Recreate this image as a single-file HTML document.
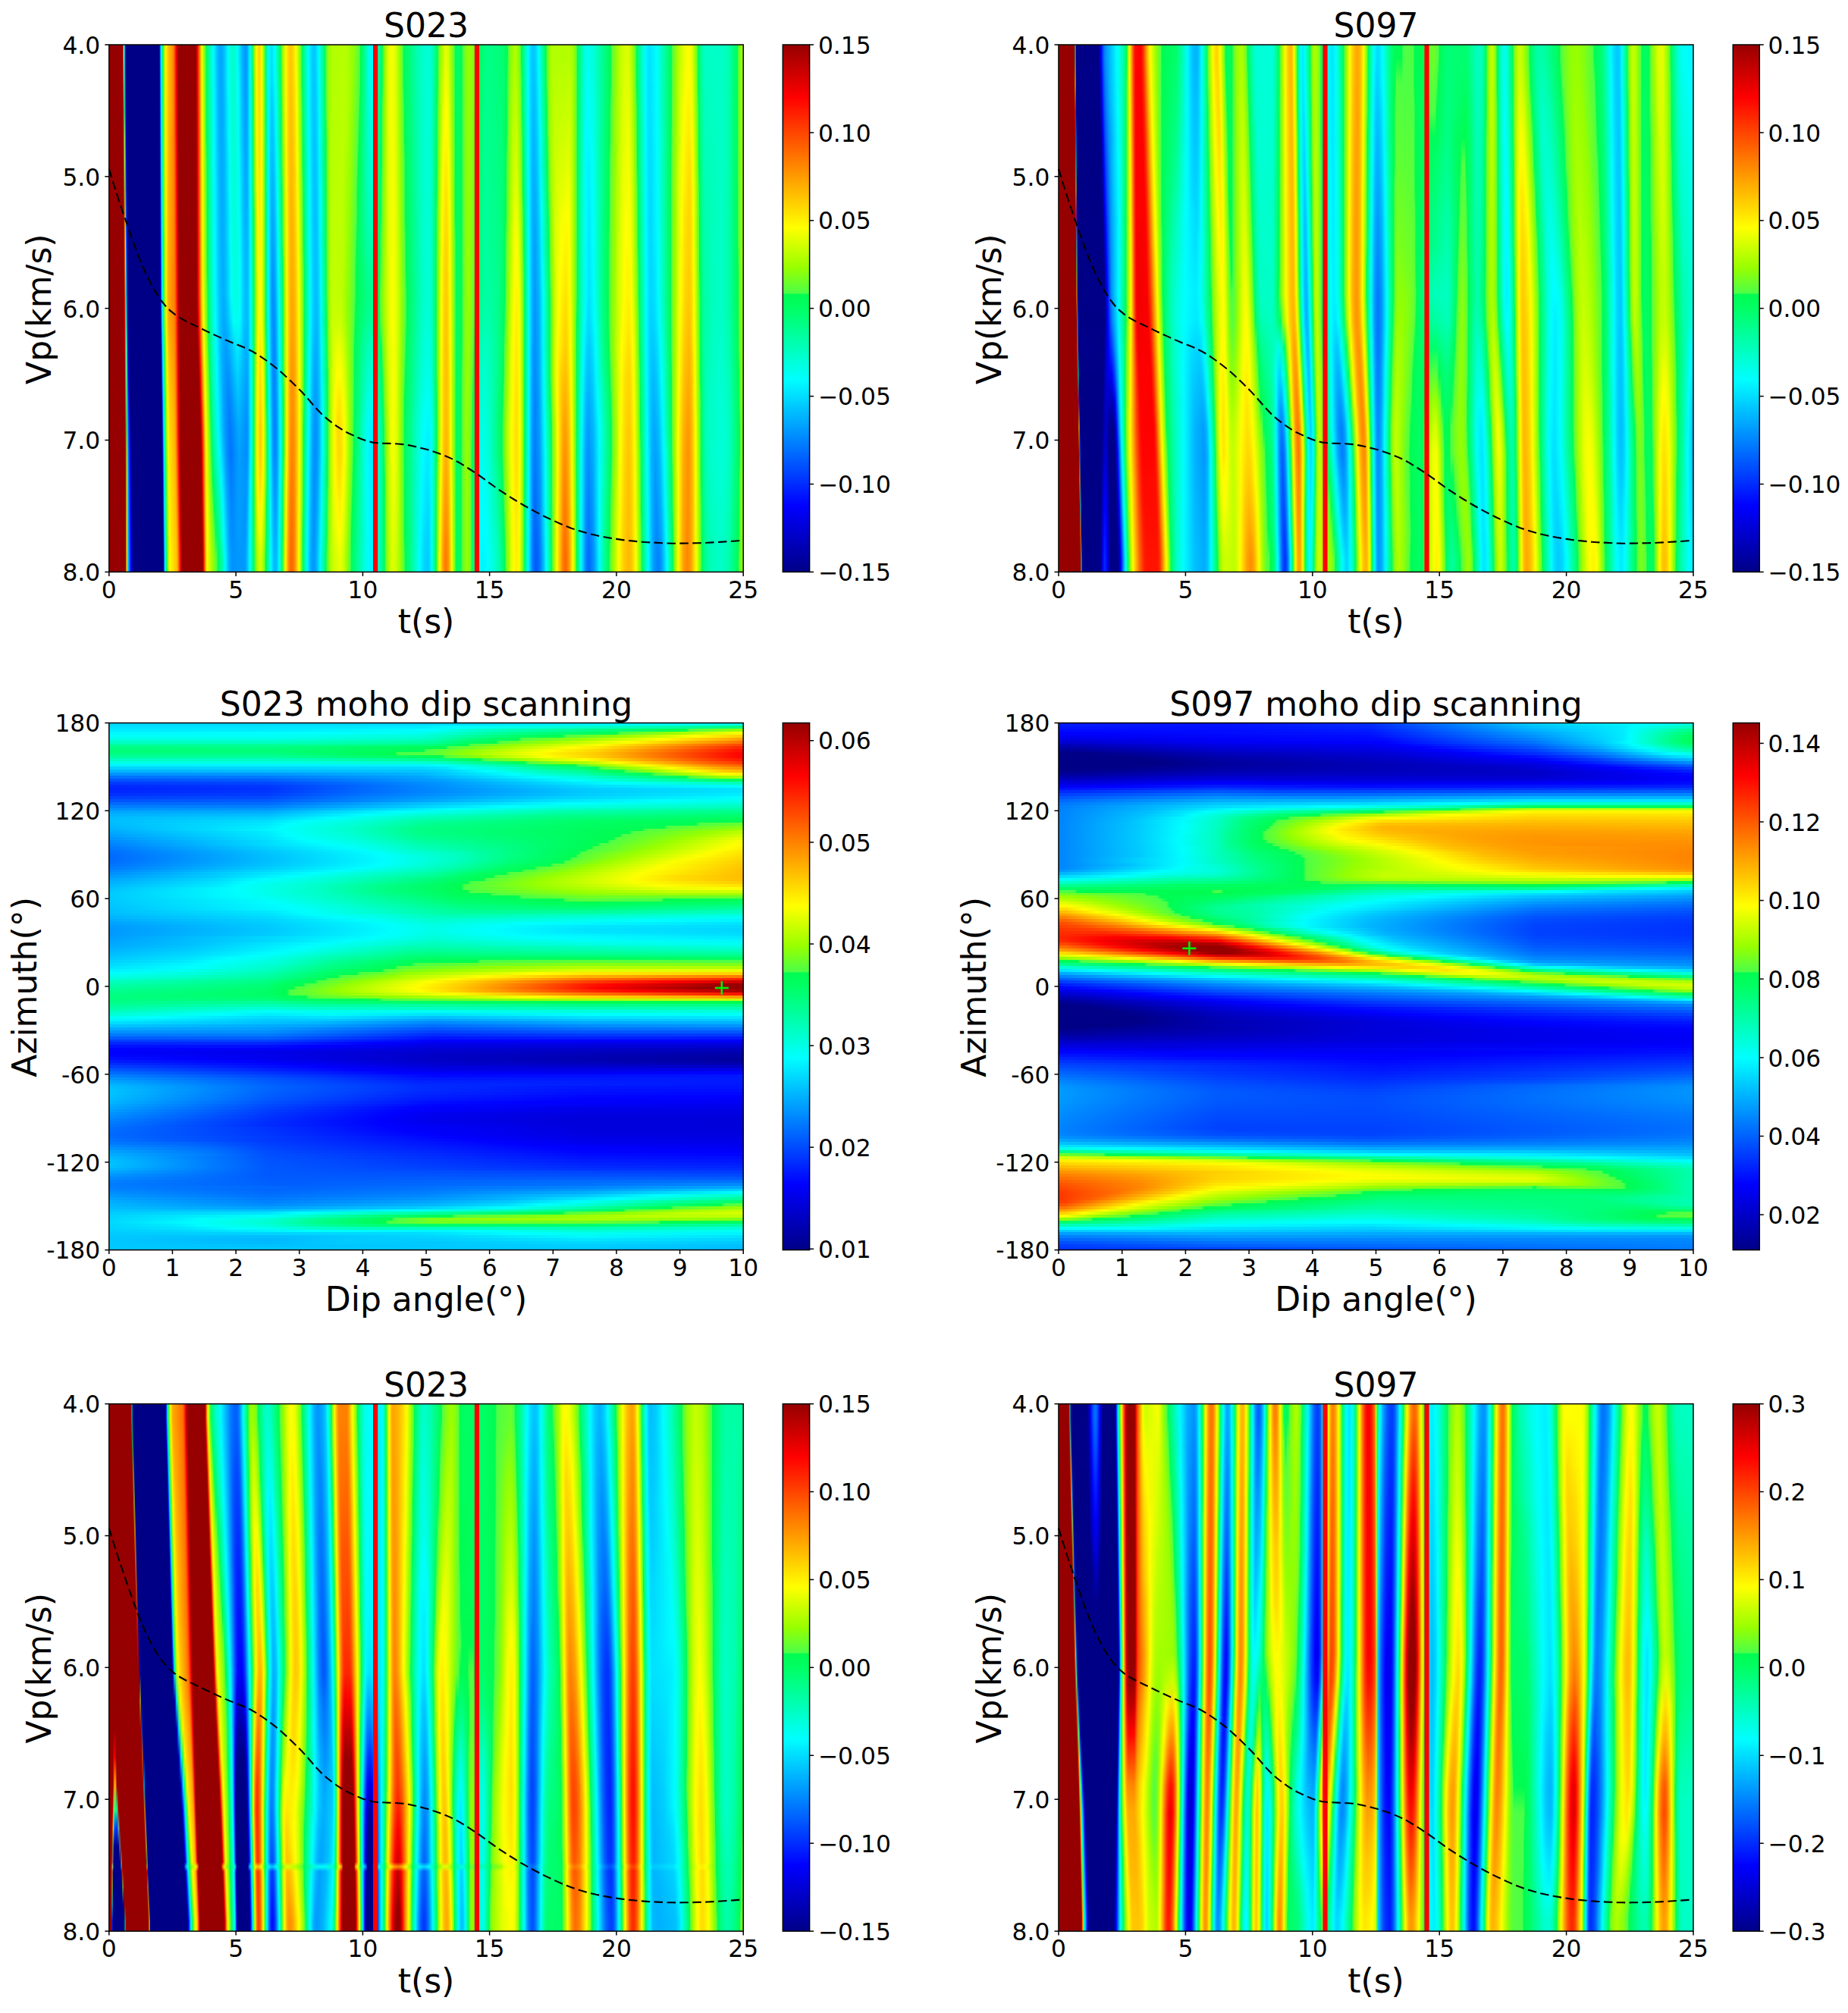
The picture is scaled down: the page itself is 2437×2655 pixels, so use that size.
<!DOCTYPE html>
<html><head><meta charset="utf-8"><title>figure</title>
<style>
html,body{margin:0;padding:0;background:#fff}
#fig{position:relative;width:2437px;height:2655px;background:#fff;overflow:hidden}
#fig svg{position:absolute;left:0;top:0}
#fig .s{position:absolute;left:0;width:100%}
#fig text{font-family:"DejaVu Sans","Liberation Sans",sans-serif;fill:#000}
</style></head><body><div id="fig">
<div style="position:absolute;left:143.8px;top:59.0px;width:836.4px;height:695.4px;overflow:hidden">
<div class="s" style="top:0;height:52.7px;background:linear-gradient(90deg,#960000 0.0px,#960000 18.0px,#ffe100 19.0px,#00ffeb 20.0px,#0027ff 21.0px,#000087 22.0px,#000087 66.0px,#002eff 67.0px,#00e5ff 68.0px,#00ffca 69.0px,#00ff84 70.0px,#00fc52 71.0px,#8fff07 72.0px,#f0ff00 74.0px,#ffef00 75.0px,#ffbf00 78.0px,#ff8f00 84.0px,#ff5900 86.0px,#ff0800 88.0px,#db0000 89.0px,#960000 91.0px,#960000 114.1px,#e80000 116.1px,#ff1a00 117.1px,#ffac00 120.1px,#fff700 122.1px,#96ff00 125.1px,#4eff45 127.1px,#00fe5d 128.1px,#00ffba 133.1px,#00fffa 137.1px,#00f5ff 138.1px,#00b7ff 143.1px,#00a4ff 147.1px,#00baff 151.1px,#00fffa 157.1px,#00ffd7 160.1px,#00ffc8 163.1px,#00ffd6 166.1px,#00fff7 169.1px,#00aeff 176.1px,#0098ff 180.1px,#00a9ff 182.1px,#00f4ff 185.1px,#00ffe6 186.1px,#00ff6b 189.1px,#4eff45 190.1px,#85ff10 191.1px,#b4ff00 192.1px,#ffff00 194.1px,#ffd400 197.1px,#ffde00 199.1px,#f9ff00 201.1px,#afff00 203.1px,#81ff15 204.1px,#4dff46 205.1px,#00ff69 206.1px,#00ffd4 209.1px,#00f7ff 211.1px,#00dfff 214.1px,#00ffff 218.1px,#00fd58 226.1px,#5dff37 227.1px,#9fff00 229.1px,#fffa00 233.1px,#ffd400 236.1px,#ffc600 239.1px,#ffd200 242.1px,#fffd00 246.1px,#91ff05 251.1px,#56ff3d 253.1px,#00fd59 254.1px,#00ffe3 261.1px,#00faff 263.1px,#00d1ff 267.1px,#00c8ff 270.1px,#00d8ff 273.1px,#00feff 276.1px,#00fd57 285.1px,#55ff3f 286.1px,#91ff04 289.1px,#9eff00 290.1px,#afff00 293.1px,#b7ff00 311.1px,#92ff04 322.2px,#53ff40 330.2px,#00fc50 331.2px,#00ff67 334.2px,#00ffea 342.2px,#00faff 345.2px,#00fdff 348.2px,#00ffe6 351.2px,#00fd55 360.2px,#5aff39 361.2px,#8cff09 363.2px,#a2ff00 364.2px,#edff00 369.2px,#faff00 373.2px,#dfff00 377.2px,#91ff04 383.2px,#52ff41 387.2px,#00fc53 388.2px,#00ffbf 409.2px,#00ffdb 421.2px,#00ffbd 426.2px,#00fd56 433.2px,#55ff3e 434.2px,#99ff00 437.2px,#d3ff00 441.2px,#e3ff00 444.2px,#d3ff00 447.2px,#99ff00 451.2px,#4dff46 455.2px,#00fd56 456.2px,#00ff64 460.2px,#00fd54 465.2px,#4dff46 466.2px,#86ff0f 471.2px,#97ff00 475.2px,#87ff0f 479.2px,#50ff43 485.2px,#00fc53 486.2px,#00ff7e 494.2px,#00ff88 499.2px,#00ff76 518.2px,#00fc50 525.3px,#59ff3a 526.3px,#92ff04 530.3px,#b2ff00 535.3px,#97ff00 539.3px,#5cff38 542.3px,#00fc53 543.3px,#00ff70 545.3px,#00fffa 552.3px,#00f4ff 553.3px,#00d2ff 556.3px,#00c6ff 559.3px,#00d2ff 562.3px,#00fffd 566.3px,#00ff68 574.3px,#00fc50 576.3px,#60ff33 577.3px,#97ff00 580.3px,#aaff00 582.3px,#b1ff00 585.3px,#b3ff00 608.3px,#9cff00 612.3px,#8fff07 613.3px,#57ff3d 616.3px,#00fd54 617.3px,#00ffd7 626.3px,#00fff1 631.3px,#00ffd7 639.3px,#00fc53 661.3px,#50ff43 662.3px,#99ff00 669.3px,#c6ff00 675.3px,#dbff00 680.3px,#d7ff00 685.3px,#a0ff00 690.3px,#8fff06 691.3px,#51ff42 694.3px,#00fd57 695.3px,#00ffe1 704.3px,#00faff 707.3px,#00e2ff 712.3px,#00fffc 722.3px,#00fd55 741.4px,#4dff46 742.4px,#9bff00 748.4px,#e8ff00 757.4px,#ffff00 764.4px,#e8ff00 768.4px,#a3ff00 772.4px,#8cff0a 773.4px,#58ff3b 775.4px,#00fd56 776.4px,#00ffae 782.4px,#00ffc5 785.4px,#00ffc8 809.4px,#00ffae 817.4px,#00fd53 828.4px,#53ff40 829.4px,#96ff00 833.4px,#c3ff00 836.4px)"></div>
<div class="s" style="top:17.4px;height:70.0px;-webkit-mask-image:linear-gradient(180deg,transparent,#000 34.8px);mask-image:linear-gradient(180deg,transparent,#000 34.8px);background:linear-gradient(90deg,#960000 0.0px,#960000 18.0px,#ff8700 19.0px,#00ff9c 20.0px,#0068ff 21.0px,#000087 22.0px,#000087 66.0px,#0005ff 67.0px,#00d6ff 68.0px,#00ffd7 69.0px,#00ff8f 70.0px,#00fd57 71.0px,#85ff10 72.0px,#beff00 73.0px,#ecff00 74.0px,#fff100 75.0px,#ffbe00 78.0px,#ff9000 84.0px,#ff5e00 86.0px,#ff0f00 88.0px,#e20000 89.0px,#960000 91.0px,#960000 114.1px,#e20000 116.1px,#ff1400 117.1px,#ffd100 121.1px,#fff300 122.1px,#e7ff00 123.1px,#9dff00 125.1px,#56ff3e 127.1px,#00fd5a 128.1px,#00ffb8 133.1px,#00f9ff 138.1px,#00bbff 143.1px,#00a5ff 147.1px,#00b7ff 151.1px,#00feff 157.1px,#00ffd4 161.1px,#00ffcb 164.1px,#00ffdd 167.1px,#00feff 170.1px,#00b3ff 176.1px,#009cff 180.1px,#00abff 182.1px,#00f2ff 185.1px,#00ffea 186.1px,#00fc52 190.1px,#7cff19 191.1px,#acff00 192.1px,#f8ff00 194.1px,#ffef00 195.1px,#ffd700 198.1px,#fbff00 201.1px,#b1ff00 203.1px,#84ff12 204.1px,#50ff44 205.1px,#00ff67 206.1px,#00ffd5 209.1px,#00fff3 210.1px,#00f3ff 211.1px,#00d5ff 214.1px,#00fffb 219.1px,#00fe5e 226.1px,#50ff43 227.1px,#96ff00 229.1px,#fffd00 233.1px,#ffd300 236.1px,#ffc200 239.1px,#ffcd00 242.1px,#fff700 246.1px,#f7ff00 247.1px,#9bff00 251.1px,#61ff33 253.1px,#00fd54 254.1px,#00feff 263.1px,#00d2ff 267.1px,#00c6ff 270.1px,#00d4ff 273.1px,#00f9ff 276.1px,#00fff5 277.1px,#00fd59 285.1px,#52ff42 286.1px,#91ff05 289.1px,#9fff00 290.1px,#b1ff00 293.1px,#b9ff00 310.1px,#b0ff00 315.2px,#93ff03 321.2px,#4cff47 330.2px,#00fd55 331.2px,#00ff6f 334.2px,#00ffe1 342.2px,#00fff6 346.2px,#00ffd6 351.2px,#00fc51 360.2px,#62ff32 361.2px,#91ff05 363.2px,#e2ff00 368.2px,#fbff00 372.2px,#e1ff00 377.2px,#96ff00 383.2px,#57ff3c 387.2px,#00fc51 388.2px,#00ffbe 409.2px,#00ffdb 421.2px,#00ffd6 423.2px,#00ffbc 426.2px,#00fc52 433.2px,#60ff34 434.2px,#91ff05 436.2px,#d6ff00 440.2px,#f3ff00 444.2px,#e1ff00 447.2px,#8fff07 452.2px,#51ff42 455.2px,#00fd55 456.2px,#00ff64 460.2px,#00fd54 465.2px,#4eff45 466.2px,#87ff0e 471.2px,#97ff00 474.2px,#85ff10 479.2px,#4cff47 485.2px,#00fd55 486.2px,#00ff83 494.2px,#00ff8b 498.2px,#00ff77 518.2px,#00fd55 524.3px,#4fff44 525.3px,#99ff00 530.3px,#bbff00 535.3px,#a1ff00 539.3px,#92ff04 540.3px,#4fff44 543.3px,#00fe5a 544.3px,#00fff9 552.3px,#00f5ff 553.3px,#00d0ff 556.3px,#00c1ff 559.3px,#00cbff 562.3px,#00f7ff 566.3px,#00fff7 567.3px,#00fd56 576.3px,#55ff3f 577.3px,#91ff05 580.3px,#9fff00 581.3px,#b8ff00 585.3px,#bfff00 607.3px,#bbff00 609.3px,#9fff00 612.3px,#91ff05 613.3px,#55ff3e 616.3px,#00fd56 617.3px,#00ffdb 626.3px,#00fff8 631.3px,#00ffe2 638.3px,#00fc50 661.3px,#55ff3f 662.3px,#95ff01 668.3px,#cbff00 675.3px,#e1ff00 680.3px,#dfff00 685.3px,#c4ff00 688.3px,#99ff00 691.3px,#5bff39 694.3px,#00fc53 695.3px,#00ffde 704.3px,#00fcff 707.3px,#00e6ff 710.3px,#00e1ff 713.3px,#00fffe 722.3px,#00fd54 741.4px,#51ff42 742.4px,#88ff0d 746.4px,#96ff00 747.4px,#d2ff00 753.4px,#ffff00 760.4px,#fffc00 766.4px,#e2ff00 769.4px,#95ff01 773.4px,#61ff33 775.4px,#00fc52 776.4px,#00ffaa 782.4px,#00ffc1 785.4px,#00ffc7 807.4px,#00ffb3 816.4px,#00fd54 828.4px,#52ff41 829.4px,#94ff02 833.4px,#c1ff00 836.4px)"></div>
<div class="s" style="top:52.2px;height:70.0px;-webkit-mask-image:linear-gradient(180deg,transparent,#000 34.8px);mask-image:linear-gradient(180deg,transparent,#000 34.8px);background:linear-gradient(90deg,#960000 0.0px,#960000 18.0px,#ff2e00 19.0px,#00fc50 20.0px,#00a7ff 21.0px,#0000be 22.0px,#000087 23.0px,#000087 66.0px,#0000df 67.0px,#00c0ff 68.0px,#00ffe4 69.0px,#00fe5d 71.0px,#7cff19 72.0px,#b9ff00 73.0px,#eaff00 74.0px,#fff100 75.0px,#ffbc00 78.0px,#ff9b00 83.0px,#ff8000 85.0px,#ff1600 88.0px,#e90000 89.0px,#980000 91.0px,#960000 92.0px,#960000 114.1px,#b00000 115.1px,#dc0000 116.1px,#ff0e00 117.1px,#ffcc00 121.1px,#ffef00 122.1px,#ecff00 123.1px,#a4ff00 125.1px,#5dff36 127.1px,#00fd56 128.1px,#00ffb5 133.1px,#00fcff 138.1px,#00b6ff 144.1px,#00a6ff 148.1px,#00b4ff 151.1px,#00fff9 158.1px,#00ffd9 161.1px,#00ffcc 164.1px,#00ffda 167.1px,#00fffc 170.1px,#00b8ff 176.1px,#00a0ff 180.1px,#00acff 182.1px,#00f0ff 185.1px,#00ffed 186.1px,#00fd56 190.1px,#73ff22 191.1px,#a4ff00 192.1px,#f0ff00 194.1px,#fff400 195.1px,#ffd900 198.1px,#fcff00 201.1px,#b4ff00 203.1px,#87ff0f 204.1px,#53ff41 205.1px,#00ff66 206.1px,#00fff5 210.1px,#00efff 211.1px,#00cbff 214.1px,#00d3ff 216.1px,#00fff6 220.1px,#00fd53 227.1px,#68ff2c 228.1px,#8cff09 229.1px,#acff00 230.1px,#feff00 233.1px,#ffee00 234.1px,#ffc900 237.1px,#ffc000 240.1px,#ffcf00 243.1px,#ffff00 247.1px,#a4ff00 251.1px,#89ff0c 252.1px,#4dff46 254.1px,#00fe5d 255.1px,#00ffeb 262.1px,#00f4ff 264.1px,#00ccff 268.1px,#00c6ff 271.1px,#00daff 274.1px,#00fffa 277.1px,#00fe5b 285.1px,#4eff45 286.1px,#90ff06 289.1px,#9fff00 290.1px,#b3ff00 293.1px,#baff00 309.1px,#b1ff00 314.2px,#94ff02 320.2px,#4eff45 329.2px,#00fd53 330.2px,#00ff69 333.2px,#00ffcf 341.2px,#00ffe9 346.2px,#00ffc9 351.2px,#00fd58 359.2px,#51ff43 360.2px,#94ff02 363.2px,#e1ff00 368.2px,#fbff00 372.2px,#e3ff00 377.2px,#9aff00 383.2px,#4eff45 388.2px,#00fd54 389.2px,#00ffbd 409.2px,#00ffdb 421.2px,#00ffd6 423.2px,#00ffbb 426.2px,#00fe5a 432.2px,#4eff45 433.2px,#9bff00 436.2px,#e3ff00 440.2px,#feff00 443.2px,#ffff00 445.2px,#eeff00 447.2px,#aaff00 451.2px,#96ff00 452.2px,#55ff3f 455.2px,#00fd54 456.2px,#00ff64 460.2px,#00fd54 465.2px,#4fff44 466.2px,#88ff0d 471.2px,#97ff00 474.2px,#8aff0b 478.2px,#53ff41 484.2px,#00fc52 485.2px,#00ff87 494.2px,#00ff8f 498.2px,#00ff78 518.2px,#00fc53 524.3px,#54ff3f 525.3px,#93ff03 529.3px,#abff00 531.3px,#c4ff00 536.3px,#9eff00 540.3px,#8bff0b 541.3px,#5bff39 543.3px,#00fd55 544.3px,#00fff7 552.3px,#00f5ff 553.3px,#00c5ff 557.3px,#00bcff 560.3px,#00ccff 563.3px,#00fdff 567.3px,#00ff6b 575.3px,#00fc51 577.3px,#5fff35 578.3px,#9aff00 581.3px,#bdff00 585.3px,#caff00 607.3px,#b9ff00 610.3px,#91ff04 613.3px,#53ff41 616.3px,#00fd57 617.3px,#00ffe0 626.3px,#00fffe 631.3px,#00ffe7 638.3px,#00fd53 660.3px,#4eff45 661.3px,#9aff00 668.3px,#d0ff00 675.3px,#e7ff00 680.3px,#e6ff00 685.3px,#ccff00 688.3px,#a2ff00 691.3px,#90ff06 692.3px,#4dff46 695.3px,#00fd5a 696.3px,#00ffda 704.3px,#00fdff 707.3px,#00e6ff 710.3px,#00e0ff 713.3px,#00feff 722.3px,#00fc52 741.4px,#55ff3e 742.4px,#9bff00 747.4px,#d9ff00 753.4px,#ffff00 758.4px,#fff100 764.4px,#f9ff00 768.4px,#9dff00 773.4px,#4fff44 776.4px,#00fe5a 777.4px,#00ffa6 782.4px,#00ffbe 785.4px,#00ffc8 808.4px,#00ffb2 816.4px,#00fd54 828.4px,#51ff42 829.4px,#92ff04 833.4px,#bfff00 836.4px)"></div>
<div class="s" style="top:86.9px;height:70.0px;-webkit-mask-image:linear-gradient(180deg,transparent,#000 34.8px);mask-image:linear-gradient(180deg,transparent,#000 34.8px);background:linear-gradient(90deg,#960000 0.0px,#960000 18.0px,#d60000 19.0px,#c3ff00 20.0px,#00e3ff 21.0px,#0000f9 22.0px,#000087 23.0px,#000087 66.0px,#0000bb 67.0px,#00a5ff 68.0px,#00fff1 69.0px,#00ff62 71.0px,#73ff21 72.0px,#b4ff00 73.0px,#e7ff00 74.0px,#fff200 75.0px,#ffb900 78.0px,#ff8300 85.0px,#ff1d00 88.0px,#f10000 89.0px,#9d0000 91.0px,#960000 92.0px,#960000 114.1px,#ab0000 115.1px,#d70000 116.1px,#ff0800 117.1px,#ffc700 121.1px,#ffeb00 122.1px,#f2ff00 123.1px,#aaff00 125.1px,#88ff0e 126.1px,#65ff2f 127.1px,#00fc53 128.1px,#00ffc2 134.1px,#00ffff 138.1px,#00f2ff 139.1px,#00b9ff 144.1px,#00a7ff 148.1px,#00bbff 152.1px,#00ffff 158.1px,#00ffde 161.1px,#00ffce 164.1px,#00ffd9 167.1px,#00fff8 170.1px,#00b3ff 177.1px,#00a4ff 180.1px,#00aeff 182.1px,#00eeff 185.1px,#00fff0 186.1px,#00fe5a 190.1px,#6aff2a 191.1px,#9cff00 192.1px,#e8ff00 194.1px,#fffa00 195.1px,#ffdb00 198.1px,#fdff00 201.1px,#8aff0b 204.1px,#56ff3d 205.1px,#00ff64 206.1px,#00fff7 210.1px,#00edff 211.1px,#00caff 213.1px,#00c4ff 215.1px,#00d1ff 217.1px,#00fbff 220.1px,#00fd59 227.1px,#5cff37 228.1px,#82ff13 229.1px,#a4ff00 230.1px,#faff00 233.1px,#fff000 234.1px,#ffc800 237.1px,#ffbc00 240.1px,#ffca00 243.1px,#fff800 247.1px,#f4ff00 248.1px,#94ff02 252.1px,#58ff3c 254.1px,#00fd58 255.1px,#00ffe5 262.1px,#00f7ff 264.1px,#00cdff 268.1px,#00c4ff 271.1px,#00d6ff 274.1px,#00feff 277.1px,#00ff6d 284.1px,#00fc50 286.1px,#63ff31 287.1px,#8fff07 289.1px,#9eff00 290.1px,#b5ff00 293.1px,#bbff00 308.1px,#b3ff00 313.1px,#95ff01 319.2px,#50ff44 328.2px,#00fc52 329.2px,#00ff65 332.2px,#00ffcb 341.2px,#00ffdf 346.2px,#00ffc0 351.2px,#00fd55 359.2px,#56ff3e 360.2px,#96ff00 363.2px,#e0ff00 368.2px,#faff00 372.2px,#e5ff00 377.2px,#9dff00 383.2px,#53ff40 388.2px,#00fc52 389.2px,#00ffc1 410.2px,#00ffdb 421.2px,#00ffc6 425.2px,#00fd58 432.2px,#55ff3e 433.2px,#8bff0a 435.2px,#deff00 439.2px,#fffc00 442.2px,#fffc00 446.2px,#d8ff00 449.2px,#9cff00 452.2px,#58ff3c 455.2px,#00fc53 456.2px,#00ff64 460.2px,#00fd53 465.2px,#4fff44 466.2px,#89ff0d 471.2px,#97ff00 474.2px,#89ff0d 478.2px,#4eff45 484.2px,#00fd54 485.2px,#00ff87 493.2px,#00ff92 498.2px,#00ff7c 517.2px,#00fc51 524.3px,#59ff3b 525.3px,#99ff00 529.3px,#bbff00 532.3px,#cdff00 535.3px,#caff00 537.3px,#97ff00 541.3px,#4bff48 544.3px,#00fe5d 545.3px,#00fff5 552.3px,#00f6ff 553.3px,#00c2ff 557.3px,#00b7ff 560.3px,#00ceff 564.3px,#00fffc 568.3px,#00fd58 577.3px,#52ff41 578.3px,#92ff04 581.3px,#a2ff00 582.3px,#c4ff00 586.3px,#d5ff00 606.3px,#c8ff00 609.3px,#91ff04 613.3px,#50ff43 616.3px,#00fd59 617.3px,#00ffd8 625.3px,#00fff8 628.3px,#00fbff 630.3px,#00fff3 637.3px,#00ff88 651.3px,#00fc51 660.3px,#53ff40 661.3px,#95ff01 667.3px,#dbff00 676.3px,#f1ff00 684.3px,#d5ff00 688.3px,#99ff00 692.3px,#57ff3c 695.3px,#00fd55 696.3px,#00ffff 707.3px,#00e6ff 710.3px,#00deff 713.3px,#00fdff 722.3px,#00ffd1 728.3px,#00fd57 740.4px,#1efd4d 741.4px,#5aff39 742.4px,#95ff01 746.4px,#fbff00 756.4px,#ffe900 764.4px,#fffb00 768.4px,#e4ff00 770.4px,#a6ff00 773.4px,#8eff08 774.4px,#58ff3c 776.4px,#00fd56 777.4px,#00ffa1 782.4px,#00ffba 785.4px,#00ffc8 808.4px,#00ffb1 816.4px,#00fd54 828.4px,#50ff43 829.4px,#90ff06 833.4px,#bcff00 836.4px)"></div>
<div class="s" style="top:121.7px;height:70.0px;-webkit-mask-image:linear-gradient(180deg,transparent,#000 34.8px);mask-image:linear-gradient(180deg,transparent,#000 34.8px);background:linear-gradient(90deg,#960000 0.0px,#960000 19.0px,#ffd600 20.0px,#00ffd8 21.0px,#003aff 22.0px,#000087 23.0px,#000087 66.0px,#000097 67.0px,#0087ff 68.0px,#00ffff 69.0px,#00ff6b 71.0px,#69ff2b 72.0px,#aeff00 73.0px,#e4ff00 74.0px,#fff200 75.0px,#ffb700 78.0px,#ff8500 85.0px,#ff4d00 87.0px,#f80000 89.0px,#a30000 91.0px,#960000 92.0px,#960000 114.1px,#a60000 115.1px,#d10000 116.1px,#ff0200 117.1px,#ffc200 121.1px,#f8ff00 123.1px,#90ff06 126.1px,#4cff47 128.1px,#00fe5e 129.1px,#00ffc0 134.1px,#00fffb 138.1px,#00f5ff 139.1px,#00bdff 144.1px,#00a9ff 148.1px,#00b8ff 152.1px,#00fff9 159.1px,#00ffdb 162.1px,#00ffd0 165.1px,#00ffdf 168.1px,#00fdff 171.1px,#00c1ff 176.1px,#00a8ff 180.1px,#00b0ff 182.1px,#00edff 185.1px,#00fff3 186.1px,#00fe5f 190.1px,#5fff34 191.1px,#92ff04 192.1px,#fcff00 195.1px,#ffef00 196.1px,#ffe000 198.1px,#fcff00 201.1px,#8cff0a 204.1px,#58ff3b 205.1px,#00ff63 206.1px,#00fff8 210.1px,#00eaff 211.1px,#00c4ff 213.1px,#00baff 215.1px,#00d1ff 218.1px,#00fffb 221.1px,#00fe60 227.1px,#50ff43 228.1px,#9cff00 230.1px,#f6ff00 233.1px,#fff300 234.1px,#ffc700 237.1px,#ffb800 240.1px,#ffcd00 244.1px,#fdff00 248.1px,#9eff00 252.1px,#62ff32 254.1px,#00fd53 255.1px,#00fbff 264.1px,#00ceff 268.1px,#00c3ff 271.1px,#00d1ff 274.1px,#00f9ff 277.1px,#00fc52 286.1px,#60ff34 287.1px,#8dff08 289.1px,#9eff00 290.1px,#b7ff00 293.1px,#bdff00 308.1px,#96ff00 318.2px,#51ff42 327.2px,#00fc51 328.2px,#00ff6b 332.2px,#00ffbe 340.2px,#00ffd6 345.2px,#00ffc0 350.2px,#00fc52 359.2px,#5bff39 360.2px,#98ff00 363.2px,#e0ff00 368.2px,#fbff00 373.2px,#deff00 378.2px,#93ff03 384.2px,#4bff48 389.2px,#00fd55 390.2px,#00ffc0 410.2px,#00ffdb 421.2px,#00ffc5 425.2px,#00fd55 432.2px,#5dff37 433.2px,#95ff01 435.2px,#e9ff00 439.2px,#fffa00 441.2px,#ffec00 444.2px,#fffc00 447.2px,#f4ff00 448.2px,#a2ff00 452.2px,#5bff39 455.2px,#00fc52 456.2px,#00ff64 460.2px,#00fc53 465.2px,#50ff43 466.2px,#8aff0c 471.2px,#97ff00 474.2px,#87ff0e 478.2px,#56ff3e 483.2px,#00fc50 484.2px,#00ff8b 493.2px,#00ff95 497.2px,#00ff7d 517.2px,#00fd56 523.3px,#4dff46 524.3px,#91ff05 528.3px,#c2ff00 532.3px,#d5ff00 535.3px,#d4ff00 537.3px,#a2ff00 541.3px,#8dff09 542.3px,#57ff3c 544.3px,#00fd58 545.3px,#00fff3 552.3px,#00f8ff 553.3px,#00bfff 557.3px,#00b2ff 560.3px,#00c6ff 564.3px,#00f8ff 568.3px,#00fd53 578.3px,#5bff38 579.3px,#9aff00 582.3px,#ccff00 587.3px,#e3ff00 605.3px,#ceff00 609.3px,#93ff03 613.3px,#4fff45 616.3px,#00fd5a 617.3px,#00ffdc 625.3px,#00faff 629.3px,#00f3ff 632.3px,#00fffa 637.3px,#00ff86 651.3px,#00fd54 659.3px,#4cff47 660.3px,#9aff00 667.3px,#e6ff00 677.3px,#f5ff00 685.3px,#d1ff00 689.3px,#8fff07 693.3px,#61ff33 695.3px,#00fc51 696.3px,#00ffe2 705.3px,#00f6ff 708.3px,#00e1ff 711.3px,#00ddff 714.3px,#00fffc 723.3px,#00fd55 740.4px,#50ff44 741.4px,#9cff00 746.4px,#e1ff00 752.4px,#fffa00 756.4px,#ffe000 764.4px,#ffe400 766.4px,#fffe00 769.4px,#98ff00 774.4px,#61ff33 776.4px,#00fc52 777.4px,#00ff9d 782.4px,#00ffb7 785.4px,#00ffc6 810.4px,#00ffaa 817.4px,#00fd55 828.4px,#4fff44 829.4px,#8eff08 833.4px,#baff00 836.4px)"></div>
<div class="s" style="top:156.5px;height:70.0px;-webkit-mask-image:linear-gradient(180deg,transparent,#000 34.8px);mask-image:linear-gradient(180deg,transparent,#000 34.8px);background:linear-gradient(90deg,#960000 0.0px,#960000 19.0px,#ff7e00 20.0px,#00ff89 21.0px,#007aff 22.0px,#000095 23.0px,#000087 24.0px,#000087 67.0px,#0066ff 68.0px,#00f2ff 69.0px,#00ff75 71.0px,#5fff35 72.0px,#a8ff00 73.0px,#e0ff00 74.0px,#fff300 75.0px,#ffb400 78.0px,#ff8700 85.0px,#ff5300 87.0px,#ff0100 89.0px,#a90000 91.0px,#960000 92.0px,#960000 114.1px,#a10000 115.1px,#fb0000 117.1px,#ffbd00 121.1px,#fdff00 123.1px,#97ff00 126.1px,#54ff40 128.1px,#00fe5b 129.1px,#00ffbd 134.1px,#00f8ff 139.1px,#00b8ff 145.1px,#00aaff 149.1px,#00beff 153.1px,#00fffe 159.1px,#00ffe0 162.1px,#00ffd2 165.1px,#00ffde 168.1px,#00fffd 171.1px,#00bdff 177.1px,#00acff 180.1px,#00b2ff 182.1px,#00ebff 185.1px,#00fff6 186.1px,#00ff63 190.1px,#54ff3f 191.1px,#86ff10 192.1px,#b0ff00 193.1px,#f2ff00 195.1px,#fff700 196.1px,#ffe500 198.1px,#faff00 201.1px,#8dff09 204.1px,#59ff3a 205.1px,#00ff62 206.1px,#00fff9 210.1px,#00e8ff 211.1px,#00bfff 213.1px,#00b1ff 215.1px,#00c5ff 218.1px,#00f7ff 221.1px,#00fff1 222.1px,#00fd54 228.1px,#6bff29 229.1px,#92ff04 230.1px,#f1ff00 233.1px,#fff600 234.1px,#ffc700 237.1px,#ffb500 240.1px,#ffc800 244.1px,#fffa00 248.1px,#a7ff00 252.1px,#8cff0a 253.1px,#4eff45 255.1px,#00fe5d 256.1px,#00ffed 263.1px,#00ffff 264.1px,#00f1ff 265.1px,#00c9ff 269.1px,#00c2ff 272.1px,#00cdff 274.1px,#00fff9 278.1px,#00fd54 286.1px,#5dff37 287.1px,#8cff0a 289.1px,#9dff00 290.1px,#b9ff00 293.1px,#beff00 307.1px,#97ff00 317.2px,#53ff40 326.2px,#00fc50 327.2px,#00ff66 331.2px,#00ffb9 340.2px,#00ffcb 344.2px,#00ffc9 347.2px,#00ffb6 350.2px,#00fd59 358.2px,#4cff47 359.2px,#9bff00 363.2px,#dfff00 368.2px,#fbff00 373.2px,#e0ff00 378.2px,#97ff00 384.2px,#50ff43 389.2px,#00fc53 390.2px,#00ffbf 410.2px,#00ffdb 421.2px,#00ffc4 425.2px,#00fc52 432.2px,#65ff2f 433.2px,#9eff00 435.2px,#e2ff00 438.2px,#fffa00 440.2px,#ffe100 444.2px,#ffff00 448.2px,#91ff05 453.2px,#5eff35 455.2px,#00fc51 456.2px,#00ff64 460.2px,#00fc53 465.2px,#51ff42 466.2px,#8bff0b 471.2px,#97ff00 474.2px,#86ff10 478.2px,#52ff42 483.2px,#00fc53 484.2px,#00ff8a 492.2px,#00ff98 497.2px,#00ff7d 517.2px,#00fd54 523.3px,#52ff41 524.3px,#98ff00 528.3px,#d4ff00 533.3px,#e1ff00 536.3px,#d9ff00 538.3px,#9bff00 542.3px,#65ff2f 544.3px,#00fc52 545.3px,#00faff 553.3px,#00bdff 557.3px,#00adff 560.3px,#00bfff 564.3px,#00fdff 569.3px,#00fe5b 578.3px,#4bff48 579.3px,#8fff07 582.3px,#a0ff00 583.3px,#d3ff00 588.3px,#f3ff00 605.3px,#d6ff00 609.3px,#96ff00 613.3px,#4fff44 616.3px,#00fd59 617.3px,#00ffcf 624.3px,#00feff 628.3px,#00efff 632.3px,#00fffe 637.3px,#00ff85 651.3px,#00fc53 659.3px,#50ff43 660.3px,#9eff00 667.3px,#eaff00 677.3px,#fbff00 685.3px,#d9ff00 689.3px,#98ff00 693.3px,#51ff42 696.3px,#00fd58 697.3px,#00ffdf 705.3px,#00f8ff 708.3px,#00e1ff 711.3px,#00dcff 714.3px,#00fffe 723.3px,#00fd54 740.4px,#52ff41 741.4px,#92ff04 745.4px,#ddff00 751.4px,#fffb00 755.4px,#ffda00 764.4px,#ffde00 766.4px,#f6ff00 770.4px,#9fff00 774.4px,#4dff46 777.4px,#00fe5b 778.4px,#00ff98 782.4px,#00ffb3 785.4px,#00ffc7 808.4px,#00ffaf 816.4px,#00fd55 828.4px,#4eff45 829.4px,#9bff00 834.4px,#b8ff00 836.4px)"></div>
<div class="s" style="top:191.2px;height:70.0px;-webkit-mask-image:linear-gradient(180deg,transparent,#000 34.8px);mask-image:linear-gradient(180deg,transparent,#000 34.8px);background:linear-gradient(90deg,#960000 0.0px,#960000 19.0px,#ff2900 20.0px,#62ff32 21.0px,#00b7ff 22.0px,#0000cf 23.0px,#000087 24.0px,#000087 67.0px,#0043ff 68.0px,#00e5ff 69.0px,#00ffc9 70.0px,#00ff7f 71.0px,#a0ff00 73.0px,#dbff00 74.0px,#fff500 75.0px,#ffb200 78.0px,#ff8800 85.0px,#ff5900 87.0px,#ff0800 89.0px,#db0000 90.0px,#b00000 91.0px,#960000 92.0px,#960000 114.1px,#9c0000 115.1px,#f50000 117.1px,#ffb800 121.1px,#fffd00 123.1px,#9dff00 126.1px,#5bff38 128.1px,#00fd57 129.1px,#00ffba 134.1px,#00fbff 139.1px,#00bbff 145.1px,#00abff 149.1px,#00bcff 153.1px,#00fff9 160.1px,#00ffdd 163.1px,#00ffd4 166.1px,#00fff9 171.1px,#00c1ff 177.1px,#00b0ff 180.1px,#00b4ff 182.1px,#00eaff 185.1px,#00fff9 186.1px,#00ff6a 190.1px,#00fc51 191.1px,#7aff1b 192.1px,#a5ff00 193.1px,#fffe00 196.1px,#ffeb00 198.1px,#f7ff00 201.1px,#8dff08 204.1px,#5aff39 205.1px,#00ff61 206.1px,#00fff9 210.1px,#00e7ff 211.1px,#00aeff 214.1px,#00aaff 216.1px,#00c7ff 219.1px,#00fffe 222.1px,#00fd5a 228.1px,#5fff35 229.1px,#87ff0e 230.1px,#abff00 231.1px,#fff900 234.1px,#ffc700 237.1px,#ffb100 240.1px,#ffc200 244.1px,#fff300 248.1px,#f9ff00 249.1px,#97ff00 253.1px,#59ff3b 255.1px,#00fd58 256.1px,#00ffe8 263.1px,#00f5ff 265.1px,#00c9ff 269.1px,#00c0ff 272.1px,#00d3ff 275.1px,#00ffff 278.1px,#00fd56 286.1px,#59ff3b 287.1px,#9dff00 290.1px,#bbff00 293.1px,#bfff00 306.1px,#98ff00 316.2px,#4dff46 326.2px,#00fc53 327.2px,#00ffaa 339.2px,#00ffbf 344.2px,#00ffaa 350.2px,#00fd54 358.2px,#54ff3f 359.2px,#9eff00 363.2px,#e8ff00 369.2px,#faff00 374.2px,#e2ff00 378.2px,#9bff00 384.2px,#55ff3f 389.2px,#00fc51 390.2px,#00ffc2 411.2px,#00ffdb 421.2px,#00ffc3 425.2px,#00fe5d 431.2px,#4dff46 432.2px,#89ff0d 434.2px,#a4ff00 435.2px,#eaff00 438.2px,#fdff00 439.2px,#fff300 440.2px,#ffda00 444.2px,#fff800 448.2px,#f4ff00 449.2px,#95ff01 453.2px,#61ff33 455.2px,#00fc50 456.2px,#00ff64 460.2px,#00fc53 465.2px,#52ff42 466.2px,#8cff0a 471.2px,#97ff00 474.2px,#84ff12 478.2px,#4dff46 483.2px,#00fd55 484.2px,#00ff8f 492.2px,#00ff9c 497.2px,#00ff81 516.2px,#00fc52 523.3px,#59ff3b 524.3px,#90ff06 527.3px,#dfff00 533.3px,#eeff00 536.3px,#e8ff00 538.3px,#a9ff00 542.3px,#92ff04 543.3px,#55ff3f 545.3px,#00fe5b 546.3px,#00fcff 553.3px,#00bcff 557.3px,#00a8ff 560.3px,#00b7ff 564.3px,#00fffc 570.3px,#00fd58 579.3px,#53ff40 580.3px,#96ff00 583.3px,#c2ff00 586.3px,#daff00 589.3px,#f9ff00 598.3px,#feff00 605.3px,#dbff00 609.3px,#97ff00 613.3px,#4fff44 616.3px,#00fd5a 617.3px,#00ffd0 624.3px,#00fdff 628.3px,#00ecff 632.3px,#00fffb 638.3px,#00ff83 651.3px,#00fc51 659.3px,#54ff40 660.3px,#98ff00 666.3px,#eeff00 677.3px,#feff00 681.3px,#fcff00 686.3px,#d2ff00 690.3px,#9fff00 693.3px,#8aff0b 694.3px,#5aff3a 696.3px,#00fd55 697.3px,#00ffdc 705.3px,#00f9ff 708.3px,#00e1ff 711.3px,#00daff 714.3px,#00feff 723.3px,#00fd54 740.4px,#53ff40 741.4px,#94ff02 745.4px,#ffff00 754.4px,#ffe200 759.4px,#ffd600 764.4px,#ffe000 767.4px,#fcff00 770.4px,#a5ff00 774.4px,#8bff0a 775.4px,#53ff40 777.4px,#00fd58 778.4px,#00ff94 782.4px,#00ffb0 785.4px,#00ffc6 809.4px,#00ffa9 817.4px,#00fd56 828.4px,#4cff47 829.4px,#99ff00 834.4px,#b6ff00 836.4px)"></div>
<div class="s" style="top:226.0px;height:70.0px;-webkit-mask-image:linear-gradient(180deg,transparent,#000 34.8px);mask-image:linear-gradient(180deg,transparent,#000 34.8px);background:linear-gradient(90deg,#960000 0.0px,#960000 19.0px,#d40000 20.0px,#d5ff00 21.0px,#00f2ff 22.0px,#000cff 23.0px,#000087 24.0px,#000087 67.0px,#0020ff 68.0px,#00d6ff 69.0px,#00ffd6 70.0px,#00ff8a 71.0px,#00fc52 72.0px,#98ff00 73.0px,#d6ff00 74.0px,#fff700 75.0px,#ffaf00 78.0px,#ff8f00 84.0px,#ff7a00 86.0px,#ff5e00 87.0px,#ff1000 89.0px,#e20000 90.0px,#960000 92.0px,#960000 114.1px,#980000 115.1px,#ee0000 117.1px,#ff2100 118.1px,#ffb200 121.1px,#fff900 123.1px,#a4ff00 126.1px,#63ff31 128.1px,#00fd54 129.1px,#00ffb8 134.1px,#00feff 139.1px,#00bfff 145.1px,#00adff 149.1px,#00baff 153.1px,#00fffe 160.1px,#00ffe2 163.1px,#00ffd6 166.1px,#00ffe2 169.1px,#00fdff 172.1px,#00c6ff 177.1px,#00b2ff 181.1px,#00c2ff 183.1px,#00e9ff 185.1px,#00fffb 186.1px,#00fd55 191.1px,#6fff26 192.1px,#9bff00 193.1px,#ddff00 195.1px,#fff800 197.1px,#fff100 199.1px,#f4ff00 201.1px,#8eff08 204.1px,#5cff38 205.1px,#00fe61 206.1px,#00fffa 210.1px,#00e5ff 211.1px,#00a7ff 214.1px,#00a1ff 216.1px,#00bbff 219.1px,#00f3ff 222.1px,#00fff2 223.1px,#00fe60 228.1px,#52ff42 229.1px,#a3ff00 231.1px,#fffc00 234.1px,#ffbb00 238.1px,#ffae00 241.1px,#ffc600 245.1px,#fffc00 249.1px,#a0ff00 253.1px,#64ff30 255.1px,#00fc53 256.1px,#00ffe3 263.1px,#00f9ff 265.1px,#00cbff 269.1px,#00bfff 272.1px,#00cfff 275.1px,#00f9ff 278.1px,#00fd59 286.1px,#55ff3e 287.1px,#9cff00 290.1px,#b6ff00 292.1px,#bfff00 294.1px,#bcff00 308.1px,#92ff04 316.2px,#4fff44 325.2px,#00fc52 326.2px,#00ff9f 339.2px,#00ffaf 344.2px,#00ffa1 349.2px,#00fd57 357.2px,#4eff45 358.2px,#94ff02 362.2px,#a3ff00 363.2px,#e8ff00 369.2px,#faff00 374.2px,#e4ff00 378.2px,#9eff00 384.2px,#4eff45 390.2px,#00fc53 391.2px,#00ffc2 411.2px,#00ffdb 421.2px,#00ffc3 425.2px,#00fe5b 431.2px,#50ff43 432.2px,#8dff08 434.2px,#fffc00 439.2px,#ffdc00 442.2px,#ffd500 444.2px,#ffdd00 446.2px,#faff00 449.2px,#98ff00 453.2px,#4cff47 456.2px,#00fd58 457.2px,#00ff64 460.2px,#00fc52 465.2px,#52ff41 466.2px,#8cff09 471.2px,#97ff00 474.2px,#82ff13 478.2px,#56ff3e 482.2px,#00fc51 483.2px,#00ff94 492.2px,#00ff9f 496.2px,#00ff82 516.2px,#00fd57 522.2px,#4dff46 523.3px,#98ff00 527.3px,#d4ff00 531.3px,#f2ff00 534.3px,#f6ff00 538.3px,#deff00 540.3px,#a1ff00 543.3px,#64ff30 545.3px,#00fd54 546.3px,#00ff64 547.3px,#00ffff 553.3px,#00ebff 554.3px,#00afff 558.3px,#00a3ff 561.3px,#00b8ff 565.3px,#00f8ff 570.3px,#00fc52 580.3px,#5fff35 581.3px,#8dff09 583.3px,#a0ff00 584.3px,#d6ff00 588.3px,#f2ff00 593.3px,#feff00 596.3px,#fff500 603.3px,#fffe00 606.3px,#ddff00 609.3px,#97ff00 613.3px,#4eff46 616.3px,#00fe5a 617.3px,#00ffd1 624.3px,#00fcff 628.3px,#00e9ff 632.3px,#00fffe 638.3px,#00ff8a 650.3px,#00fd55 658.3px,#4cff47 659.3px,#9bff00 666.3px,#dfff00 674.3px,#ffff00 680.3px,#fbff00 687.3px,#daff00 690.3px,#93ff03 694.3px,#62ff32 696.3px,#00fc51 697.3px,#00ffd9 705.3px,#00fbff 708.3px,#00e1ff 711.3px,#00d9ff 714.3px,#00fffb 724.3px,#00fd54 740.4px,#54ff3f 741.4px,#96ff00 745.4px,#fffb00 754.4px,#ffde00 759.4px,#ffd200 764.4px,#ffdc00 767.4px,#fffd00 770.4px,#91ff04 775.4px,#5aff3a 777.4px,#00fd56 778.4px,#00ff90 782.4px,#00ffac 785.4px,#00ffc3 798.4px,#00ffc6 809.4px,#00ffa8 817.4px,#00fd56 828.4px,#4bff48 829.4px,#97ff00 834.4px,#b3ff00 836.4px)"></div>
<div class="s" style="top:260.8px;height:70.0px;-webkit-mask-image:linear-gradient(180deg,transparent,#000 34.8px);mask-image:linear-gradient(180deg,transparent,#000 34.8px);background:linear-gradient(90deg,#960000 0.0px,#960000 20.0px,#ffcb00 21.0px,#00ffc6 22.0px,#004cff 23.0px,#000087 24.0px,#000087 67.0px,#0000fb 68.0px,#00c2ff 69.0px,#00ffe3 70.0px,#00fd58 72.0px,#8fff07 73.0px,#d0ff00 74.0px,#fff900 75.0px,#ffbe00 77.0px,#ffac00 78.0px,#ff7c00 86.0px,#ff6400 87.0px,#ff1700 89.0px,#e90000 90.0px,#960000 92.0px,#960000 115.1px,#e80000 117.1px,#ff1b00 118.1px,#ffad00 121.1px,#fff500 123.1px,#aaff00 126.1px,#8bff0b 127.1px,#6aff2a 128.1px,#00fc50 129.1px,#00ffc5 135.1px,#00fffd 139.1px,#00f5ff 140.1px,#00c2ff 145.1px,#00adff 150.1px,#00bfff 154.1px,#00fff9 161.1px,#00ffe0 164.1px,#00ffd8 167.1px,#00fffd 172.1px,#00c3ff 178.1px,#00b6ff 181.1px,#00c3ff 183.1px,#00fffd 186.1px,#00fd5a 191.1px,#65ff2f 192.1px,#91ff05 193.1px,#d4ff00 195.1px,#ffff00 197.1px,#fff500 199.1px,#f2ff00 201.1px,#8fff07 204.1px,#5dff36 205.1px,#00fe60 206.1px,#00fffa 210.1px,#00e4ff 211.1px,#00a2ff 214.1px,#0097ff 216.1px,#00b0ff 219.1px,#00feff 223.1px,#00fc53 229.1px,#6fff25 230.1px,#99ff00 231.1px,#fdff00 234.1px,#ffeb00 235.1px,#ffbb00 238.1px,#ffab00 241.1px,#ffc000 245.1px,#fff600 249.1px,#f5ff00 250.1px,#8eff07 254.1px,#4fff44 256.1px,#00fe5d 257.1px,#00fdff 265.1px,#00ccff 269.1px,#00beff 272.1px,#00cbff 275.1px,#00fff8 279.1px,#00fe5b 286.1px,#51ff43 287.1px,#9bff00 290.1px,#b6ff00 292.1px,#c1ff00 294.1px,#beff00 307.1px,#93ff03 315.2px,#52ff42 324.2px,#00fc50 325.2px,#00ff9e 343.2px,#00ff91 349.2px,#00fc50 357.2px,#5aff3a 358.2px,#9aff00 362.2px,#e9ff00 369.2px,#fbff00 374.2px,#ddff00 379.2px,#95ff01 385.2px,#53ff40 390.2px,#00fc51 391.2px,#00ffc1 411.2px,#00ffdb 421.2px,#00ffc3 425.2px,#00fe5a 431.2px,#54ff40 432.2px,#92ff04 434.2px,#f5ff00 438.2px,#ffd700 442.2px,#ffcf00 444.2px,#ffd800 446.2px,#ffff00 449.2px,#9bff00 453.2px,#4dff46 456.2px,#00fd58 457.2px,#00ff64 460.2px,#00fc52 465.2px,#53ff40 466.2px,#84ff11 470.2px,#97ff00 473.2px,#88ff0d 477.2px,#52ff42 482.2px,#00fc53 483.2px,#00ffa0 494.2px,#00ff9d 503.2px,#00ff85 515.2px,#00fd55 522.2px,#52ff42 523.3px,#8bff0a 526.3px,#aeff00 528.3px,#f9ff00 534.3px,#fffe00 538.3px,#d9ff00 541.3px,#91ff05 544.3px,#4eff45 546.3px,#00fe5f 547.3px,#00fffc 553.3px,#00edff 554.3px,#00adff 558.3px,#009eff 561.3px,#00baff 566.3px,#00fdff 571.3px,#00fd59 580.3px,#51ff43 581.3px,#97ff00 584.3px,#e0ff00 589.3px,#ffff00 594.3px,#ffec00 602.3px,#fbff00 607.3px,#97ff00 613.3px,#4cff47 616.3px,#00fe5b 617.3px,#00ffd2 624.3px,#00fbff 628.3px,#00e7ff 633.3px,#00fdff 638.3px,#00ff80 651.3px,#00fd53 658.3px,#4fff44 659.3px,#94ff02 665.3px,#dbff00 673.3px,#ffff00 679.3px,#fff600 684.3px,#f9ff00 688.3px,#9bff00 694.3px,#51ff42 697.3px,#00fd59 698.3px,#00ffd5 705.3px,#00fdff 708.3px,#00e1ff 711.3px,#00d7ff 714.3px,#00e3ff 719.3px,#00fffd 724.3px,#00fd53 740.4px,#55ff3f 741.4px,#98ff00 745.4px,#f3ff00 752.4px,#fff800 754.4px,#ffda00 759.4px,#ffce00 764.4px,#ffd800 767.4px,#fff900 770.4px,#f4ff00 771.4px,#98ff00 775.4px,#60ff34 777.4px,#00fc53 778.4px,#00ff8c 782.4px,#00ffa9 785.4px,#00ffc2 798.4px,#00ffc5 809.4px,#00ffa8 817.4px,#00fc51 829.4px,#58ff3c 830.4px,#95ff01 834.4px,#b1ff00 836.4px)"></div>
<div class="s" style="top:295.5px;height:70.0px;-webkit-mask-image:linear-gradient(180deg,transparent,#000 34.8px);mask-image:linear-gradient(180deg,transparent,#000 34.8px);background:linear-gradient(90deg,#960000 0.0px,#960000 20.0px,#ff7600 21.0px,#00ff77 22.0px,#008bff 23.0px,#0000a6 24.0px,#000087 25.0px,#000087 67.0px,#0000da 68.0px,#00aaff 69.0px,#00fff1 70.0px,#00fe5e 72.0px,#84ff11 73.0px,#caff00 74.0px,#fffc00 75.0px,#ffbd00 77.0px,#ffaa00 78.0px,#ff7e00 86.0px,#ff6800 87.0px,#ff1f00 89.0px,#f10000 90.0px,#9b0000 92.0px,#960000 93.0px,#960000 115.1px,#e20000 117.1px,#ff1500 118.1px,#ffa700 121.1px,#fff100 123.1px,#eeff00 124.1px,#92ff04 127.1px,#52ff42 129.1px,#00fe5c 130.1px,#00ffc2 135.1px,#00f8ff 140.1px,#00c5ff 145.1px,#00afff 150.1px,#00bdff 154.1px,#00fffe 161.1px,#00ffda 167.1px,#00fffa 172.1px,#00c7ff 178.1px,#00baff 181.1px,#00c5ff 183.1px,#00ffff 186.1px,#00fe5e 191.1px,#5bff39 192.1px,#87ff0f 193.1px,#acff00 194.1px,#e4ff00 196.1px,#fffc00 198.1px,#fffe00 200.1px,#f0ff00 201.1px,#90ff06 204.1px,#5fff35 205.1px,#00fe5f 206.1px,#00fffa 210.1px,#00e4ff 211.1px,#009dff 214.1px,#008eff 216.1px,#00a4ff 219.1px,#00f2ff 223.1px,#00fff1 224.1px,#00fd59 229.1px,#63ff31 230.1px,#8eff07 231.1px,#f8ff00 234.1px,#ffee00 235.1px,#ffba00 238.1px,#ffa700 241.1px,#ffbb00 245.1px,#feff00 250.1px,#99ff00 254.1px,#5aff3a 256.1px,#00fd58 257.1px,#00ffeb 264.1px,#00f2ff 266.1px,#00c6ff 270.1px,#00bdff 273.1px,#00d1ff 276.1px,#00fffe 279.1px,#00fe5d 286.1px,#4cff47 287.1px,#99ff00 290.1px,#b7ff00 292.1px,#c3ff00 294.1px,#bfff00 306.1px,#93ff03 314.2px,#4eff45 324.2px,#00fc52 325.2px,#00ff8d 342.2px,#00ff86 348.2px,#00fc51 356.2px,#58ff3c 357.2px,#93ff03 361.2px,#e1ff00 368.2px,#fbff00 374.2px,#dfff00 379.2px,#99ff00 385.2px,#4eff45 391.2px,#00fc53 392.2px,#00ffc0 411.2px,#00ffdb 421.2px,#00ffc2 425.2px,#00fd59 431.2px,#57ff3c 432.2px,#97ff00 434.2px,#fbff00 438.2px,#ffda00 441.2px,#ffca00 444.2px,#ffd300 446.2px,#fffb00 449.2px,#9eff00 453.2px,#4eff45 456.2px,#00fd58 457.2px,#00ff64 460.2px,#00fc52 465.2px,#54ff3f 466.2px,#85ff10 470.2px,#97ff00 473.2px,#87ff0f 477.2px,#4dff46 482.2px,#00fd55 483.2px,#00ff90 490.2px,#00ffa4 494.2px,#00ffa0 503.2px,#00ff86 515.2px,#00fc53 522.2px,#56ff3d 523.3px,#91ff05 526.3px,#d3ff00 530.3px,#fffd00 534.3px,#fff400 537.3px,#fffd00 539.3px,#e4ff00 541.3px,#9eff00 544.3px,#5aff39 546.3px,#00fd5a 547.3px,#00fff8 553.3px,#00efff 554.3px,#00abff 558.3px,#0099ff 561.3px,#00b2ff 566.3px,#00fffb 572.3px,#00fd55 581.3px,#5aff3a 582.3px,#8aff0b 584.3px,#9fff00 585.3px,#deff00 589.3px,#fffe00 593.3px,#ffe200 602.3px,#fffe00 607.3px,#97ff00 613.3px,#4cff47 616.3px,#00fe5b 617.3px,#00ffd2 624.3px,#00faff 628.3px,#00e4ff 633.3px,#00fffc 639.3px,#00ff88 650.3px,#00fc52 658.3px,#52ff41 659.3px,#97ff00 665.3px,#deff00 673.3px,#fffc00 679.3px,#fff300 685.3px,#ffff00 688.3px,#d9ff00 691.3px,#8dff09 695.3px,#5aff3a 697.3px,#00fd55 698.3px,#00ffff 708.3px,#00e2ff 711.3px,#00d6ff 714.3px,#00e1ff 719.3px,#00feff 724.3px,#00fc53 740.4px,#55ff3e 741.4px,#9aff00 745.4px,#fffd00 753.4px,#ffd600 759.4px,#ffca00 764.4px,#ffd400 767.4px,#f9ff00 771.4px,#9dff00 775.4px,#4bff48 778.4px,#00fe5c 779.4px,#00ff94 783.4px,#00ffa9 786.4px,#00ffc3 799.4px,#00ffc5 809.4px,#00ffa7 817.4px,#00fc51 829.4px,#56ff3d 830.4px,#92ff04 834.4px,#afff00 836.4px)"></div>
<div class="s" style="top:330.3px;height:70.0px;-webkit-mask-image:linear-gradient(180deg,transparent,#000 34.8px);mask-image:linear-gradient(180deg,transparent,#000 34.8px);background:linear-gradient(90deg,#960000 0.0px,#960000 20.0px,#ff2900 21.0px,#6eff26 22.0px,#00c9ff 23.0px,#0000f8 24.0px,#000087 25.0px,#000087 67.0px,#000096 68.0px,#0072ff 69.0px,#00f3ff 70.0px,#00ff70 72.0px,#69ff2b 73.0px,#b5ff00 74.0px,#f0ff00 75.0px,#ffe400 76.0px,#ffb200 78.0px,#ffa600 79.0px,#ff8500 86.0px,#ff5100 88.0px,#fc0000 90.0px,#a30000 92.0px,#960000 93.0px,#960000 115.1px,#9d0000 116.1px,#f80000 118.1px,#ffbc00 122.1px,#ffff00 124.1px,#a2ff00 127.1px,#63ff31 129.1px,#00fd54 130.1px,#00ffb9 135.1px,#00feff 140.1px,#00c0ff 146.1px,#00a9ff 151.1px,#00b6ff 155.1px,#00fff9 164.1px,#00ffea 168.1px,#00fcff 172.1px,#00c4ff 178.1px,#00b9ff 182.1px,#00d0ff 184.1px,#00fcff 186.1px,#00fe5e 191.1px,#5aff39 192.1px,#87ff0e 193.1px,#adff00 194.1px,#e7ff00 196.1px,#fbff00 197.1px,#fff800 198.1px,#f7ff00 201.1px,#9aff00 204.1px,#6aff2a 205.1px,#00fd59 206.1px,#00fff3 210.1px,#00e9ff 211.1px,#009dff 214.1px,#008aff 217.1px,#00a9ff 220.1px,#00fffd 224.1px,#00fe5e 229.1px,#5aff3a 230.1px,#87ff0f 231.1px,#afff00 232.1px,#f6ff00 234.1px,#ffee00 235.1px,#ffb800 238.1px,#ffa200 241.1px,#ffb500 245.1px,#fffb00 250.1px,#9dff00 254.1px,#5dff36 256.1px,#00fd57 257.1px,#00feff 265.1px,#00c9ff 269.1px,#00b7ff 273.1px,#00caff 276.1px,#00f9ff 279.1px,#00fc53 287.1px,#62ff32 288.1px,#96ff00 290.1px,#b7ff00 292.1px,#c8ff00 294.1px,#ccff00 305.1px,#96ff00 314.2px,#50ff44 323.2px,#00fc51 324.2px,#00ff8d 338.2px,#00ff9a 344.2px,#00ff8d 349.2px,#00fd57 356.2px,#5bff39 358.2px,#99ff00 362.2px,#e7ff00 369.2px,#fbff00 374.2px,#e0ff00 379.2px,#98ff00 385.2px,#4bff48 391.2px,#00fd54 392.2px,#00ffc3 411.2px,#00ffde 421.2px,#00ffc5 425.2px,#00fd59 431.2px,#57ff3c 432.2px,#98ff00 434.2px,#ffff00 438.2px,#ffd600 441.2px,#ffc600 444.2px,#ffcf00 446.2px,#fff800 449.2px,#f0ff00 450.2px,#a0ff00 453.2px,#4fff44 456.2px,#00fd58 457.2px,#00ff64 460.2px,#00fc51 465.2px,#56ff3e 466.2px,#87ff0e 470.2px,#97ff00 473.2px,#83ff12 477.2px,#51ff42 481.2px,#00fd54 482.2px,#00ff9e 490.2px,#00ffb0 494.2px,#00ffa8 503.2px,#00ff8c 513.2px,#00fd57 521.2px,#4eff45 522.2px,#9bff00 526.3px,#dbff00 530.3px,#ffff00 533.3px,#fff000 536.3px,#fff700 539.3px,#edff00 541.3px,#a5ff00 544.3px,#85ff10 545.3px,#62ff32 546.3px,#00fd57 547.3px,#00fff8 553.3px,#00efff 554.3px,#00a8ff 558.3px,#0094ff 561.3px,#00acff 566.3px,#00fbff 572.3px,#00fd59 581.3px,#52ff42 582.3px,#84ff11 584.3px,#9bff00 585.3px,#d2ff00 588.3px,#fffd00 592.3px,#ffd700 601.3px,#ffe000 604.3px,#fff900 607.3px,#e7ff00 609.3px,#97ff00 613.3px,#63ff31 615.3px,#00fc51 616.3px,#00ffdb 624.3px,#00fbff 627.3px,#00e2ff 630.3px,#00dbff 633.3px,#00fffc 640.3px,#00ff8d 650.3px,#00fc53 658.3px,#50ff43 659.3px,#99ff00 665.3px,#fffd00 677.3px,#ffeb00 685.3px,#fffe00 689.3px,#d5ff00 692.3px,#99ff00 695.3px,#4bff48 698.3px,#00fe5c 699.3px,#00ffde 706.3px,#00fffd 708.3px,#00f4ff 709.3px,#00d9ff 712.3px,#00d0ff 715.3px,#00ddff 720.3px,#00feff 725.3px,#00fd54 740.4px,#54ff40 741.4px,#9bff00 745.4px,#f0ff00 751.4px,#fff800 753.4px,#ffcf00 759.4px,#ffc200 764.4px,#ffce00 767.4px,#fffe00 771.4px,#a4ff00 775.4px,#8aff0c 776.4px,#52ff41 778.4px,#00fd59 779.4px,#00ff92 783.4px,#00ffaa 786.4px,#00ffc5 799.4px,#00ffc7 809.4px,#00ffaa 817.4px,#00fc53 829.4px,#52ff41 830.4px,#8eff07 834.4px,#abff00 836.4px)"></div>
<div class="s" style="top:365.1px;height:70.0px;-webkit-mask-image:linear-gradient(180deg,transparent,#000 34.8px);mask-image:linear-gradient(180deg,transparent,#000 34.8px);background:linear-gradient(90deg,#960000 0.0px,#960000 20.0px,#dd0000 21.0px,#cbff00 22.0px,#00fdff 23.0px,#004fff 24.0px,#0000b0 25.0px,#000087 26.0px,#000087 68.0px,#000dff 69.0px,#00c8ff 70.0px,#00ffe0 71.0px,#00fd56 73.0px,#90ff06 74.0px,#fffb00 76.0px,#ffc500 78.0px,#ffb600 79.0px,#ff9000 86.0px,#ff5e00 88.0px,#ff0a00 90.0px,#da0000 91.0px,#ae0000 92.0px,#960000 93.0px,#960000 116.1px,#9b0000 117.1px,#f80000 119.1px,#ffc100 123.1px,#fbff00 125.1px,#9eff00 128.1px,#5fff35 130.1px,#00fd55 131.1px,#00ffba 136.1px,#00fcff 141.1px,#00b3ff 148.1px,#009dff 153.1px,#00a7ff 157.1px,#00eaff 168.1px,#00e5ff 171.1px,#00b2ff 179.1px,#00b0ff 182.1px,#00c9ff 184.1px,#00f8ff 186.1px,#00ffe7 187.1px,#00fe5b 191.1px,#65ff2f 192.1px,#94ff02 193.1px,#f8ff00 196.1px,#fff500 197.1px,#ffe700 199.1px,#fff700 201.1px,#f2ff00 202.1px,#aeff00 204.1px,#81ff14 205.1px,#4dff46 206.1px,#00ff6b 207.1px,#00ffe4 210.1px,#00f5ff 211.1px,#00a3ff 214.1px,#0087ff 217.1px,#00a1ff 220.1px,#00f8ff 224.1px,#00ffe8 225.1px,#00ff62 229.1px,#54ff3f 230.1px,#83ff12 231.1px,#aeff00 232.1px,#f8ff00 234.1px,#ffec00 235.1px,#ffb200 238.1px,#ff9b00 241.1px,#ffaf00 245.1px,#fff800 250.1px,#efff00 251.1px,#9cff00 254.1px,#59ff3a 256.1px,#00fd59 257.1px,#00fff7 264.1px,#00f4ff 265.1px,#00beff 269.1px,#00adff 273.1px,#00c2ff 276.1px,#00fffb 280.1px,#00fd5a 287.1px,#55ff3f 288.1px,#8cff09 290.1px,#a2ff00 291.1px,#d3ff00 295.1px,#eaff00 301.1px,#e7ff00 305.1px,#d0ff00 309.1px,#98ff00 315.2px,#53ff41 322.2px,#00fc50 323.2px,#00ffac 338.2px,#00ffc0 344.2px,#00ffaf 350.2px,#00fc51 359.2px,#5bff39 360.2px,#93ff03 363.2px,#e2ff00 369.2px,#fbff00 374.2px,#dfff00 379.2px,#93ff03 385.2px,#4dff47 390.2px,#00fd54 391.2px,#00ffcb 411.2px,#00ffe6 421.2px,#00ffcc 425.2px,#00fe5b 431.2px,#54ff3f 432.2px,#97ff00 434.2px,#fffe00 438.2px,#ffd300 441.2px,#ffc200 444.2px,#ffcb00 446.2px,#fff500 449.2px,#f3ff00 450.2px,#a2ff00 453.2px,#50ff43 456.2px,#00fd57 457.2px,#00ff64 460.2px,#00fc50 465.2px,#58ff3c 466.2px,#8aff0c 470.2px,#97ff00 473.2px,#86ff0f 476.2px,#52ff41 480.2px,#00fd54 481.2px,#00ffab 489.2px,#00ffc3 493.2px,#00ffbf 499.2px,#00ffa5 507.2px,#00ff81 515.2px,#00fd57 520.2px,#4cff47 521.2px,#97ff00 525.3px,#f1ff00 531.3px,#fff900 533.3px,#ffeb00 537.3px,#fffc00 540.3px,#dcff00 542.3px,#a8ff00 544.3px,#88ff0d 545.3px,#64ff30 546.3px,#00fd56 547.3px,#00fffa 553.3px,#00ecff 554.3px,#00a3ff 558.3px,#008fff 561.3px,#00a7ff 566.3px,#00f8ff 572.3px,#00fd58 581.3px,#54ff3f 582.3px,#89ff0d 584.3px,#a0ff00 585.3px,#daff00 588.3px,#fffa00 591.3px,#ffcd00 601.3px,#ffd700 604.3px,#ffff00 608.3px,#95ff01 613.3px,#5dff37 615.3px,#00fd55 616.3px,#00ffea 624.3px,#00f6ff 626.3px,#00d1ff 630.3px,#00cbff 633.3px,#00dcff 637.3px,#00feff 641.3px,#00ff8e 651.3px,#00fc51 659.3px,#57ff3d 660.3px,#9aff00 665.3px,#ffff00 675.3px,#ffde00 685.3px,#fffb00 690.3px,#e5ff00 692.3px,#92ff04 696.3px,#5cff38 698.3px,#00fd55 699.3px,#00ffea 707.3px,#00f5ff 709.3px,#00ceff 713.3px,#00c6ff 716.3px,#00d4ff 721.3px,#00fffc 727.3px,#00fd57 740.4px,#4fff44 741.4px,#9dff00 745.4px,#fffa00 752.4px,#ffca00 758.4px,#ffb800 764.4px,#ffc500 767.4px,#fff700 771.4px,#f4ff00 772.4px,#92ff04 776.4px,#59ff3b 778.4px,#00fd56 779.4px,#00ff91 783.4px,#00ffad 786.4px,#00ffc7 798.4px,#00ffcc 809.4px,#00ffaa 818.4px,#00fd56 829.4px,#4cff47 830.4px,#99ff00 835.4px,#a7ff00 836.4px)"></div>
<div class="s" style="top:399.9px;height:70.0px;-webkit-mask-image:linear-gradient(180deg,transparent,#000 34.8px);mask-image:linear-gradient(180deg,transparent,#000 34.8px);background:linear-gradient(90deg,#960000 0.0px,#960000 21.0px,#ffde00 22.0px,#00ffca 23.0px,#008dff 24.0px,#0002ff 25.0px,#000090 26.0px,#000087 27.0px,#000087 68.0px,#0000a5 69.0px,#007fff 70.0px,#00f8ff 71.0px,#00ff6f 73.0px,#66ff2e 74.0px,#aeff00 75.0px,#e5ff00 76.0px,#fff100 77.0px,#ffd800 78.0px,#ffbe00 80.0px,#ff9c00 86.0px,#ff6c00 88.0px,#ff1700 90.0px,#e70000 91.0px,#960000 93.0px,#960000 117.1px,#990000 118.1px,#f80000 120.1px,#ffc500 124.1px,#f6ff00 126.1px,#9aff00 129.1px,#5bff39 131.1px,#00fd57 132.1px,#00ffbc 137.1px,#00fbff 142.1px,#00aeff 149.1px,#0091ff 155.1px,#0096ff 158.1px,#00d5ff 169.1px,#00a3ff 181.1px,#00b1ff 183.1px,#00f4ff 186.1px,#00ffea 187.1px,#00fd58 191.1px,#6eff26 192.1px,#9eff00 193.1px,#e9ff00 195.1px,#fff900 196.1px,#ffda00 199.1px,#fffc00 202.1px,#e5ff00 203.1px,#96ff00 205.1px,#62ff32 206.1px,#00fe5e 207.1px,#00fffd 211.1px,#00e0ff 212.1px,#0097ff 215.1px,#0084ff 217.1px,#0098ff 220.1px,#00eeff 224.1px,#00fff2 225.1px,#00ff66 229.1px,#4eff45 230.1px,#7fff16 231.1px,#acff00 232.1px,#f9ff00 234.1px,#ffe900 235.1px,#ffac00 238.1px,#ff9400 241.1px,#ffa900 245.1px,#fff500 250.1px,#f1ff00 251.1px,#9bff00 254.1px,#55ff3f 256.1px,#00fe5c 257.1px,#00fdff 264.1px,#00beff 268.1px,#00a3ff 272.1px,#00b9ff 276.1px,#00f9ff 280.1px,#00fc52 288.1px,#66ff2e 289.1px,#9cff00 291.1px,#d0ff00 294.1px,#ffff00 300.1px,#fcff00 306.1px,#d1ff00 311.1px,#96ff00 316.2px,#50ff44 322.2px,#00fc52 323.2px,#00ffbf 338.2px,#00ffdb 346.2px,#00ffc3 351.2px,#00fd54 360.2px,#57ff3c 361.2px,#95ff01 364.2px,#ddff00 369.2px,#fbff00 374.2px,#e8ff00 378.2px,#9dff00 384.2px,#50ff43 389.2px,#00fd53 390.2px,#00ffce 410.2px,#00ffee 421.2px,#00ffd3 425.2px,#00fe5d 431.2px,#51ff43 432.2px,#96ff00 434.2px,#fffc00 438.2px,#ffd000 441.2px,#ffbf00 444.2px,#ffc800 446.2px,#f6ff00 450.2px,#a4ff00 453.2px,#51ff43 456.2px,#00fd57 457.2px,#00ff64 460.2px,#00fd56 464.2px,#4cff47 465.2px,#82ff13 469.2px,#97ff00 472.2px,#8bff0a 475.2px,#57ff3d 479.2px,#00fc53 480.2px,#00ffbc 489.2px,#00ffcf 492.2px,#00ffd0 495.2px,#00ffa8 507.2px,#00ff82 514.2px,#00fc51 520.2px,#5aff3a 521.2px,#91ff04 524.3px,#e0ff00 529.3px,#fffb00 532.3px,#ffe700 537.3px,#fff900 540.3px,#f6ff00 541.3px,#abff00 544.3px,#8bff0a 545.3px,#66ff2e 546.3px,#00fd56 547.3px,#00fffd 553.3px,#00e9ff 554.3px,#009fff 558.3px,#008aff 561.3px,#00a3ff 566.3px,#00f4ff 572.3px,#00fff8 573.3px,#00fd58 581.3px,#57ff3d 582.3px,#8eff08 584.3px,#a6ff00 585.3px,#fffb00 590.3px,#ffcf00 596.3px,#ffbf00 601.3px,#ffcb00 604.3px,#fff700 608.3px,#f5ff00 609.3px,#96ff00 613.3px,#5aff3a 615.3px,#00fd57 616.3px,#00ffe7 623.3px,#00f5ff 625.3px,#00c7ff 629.3px,#00bcff 632.3px,#00ceff 637.3px,#00f9ff 642.3px,#00ffa0 651.3px,#00fc53 660.3px,#54ff3f 661.3px,#9eff00 666.3px,#fffc00 675.3px,#ffe100 680.3px,#ffd700 685.3px,#ffe200 688.3px,#fffe00 691.3px,#9dff00 696.3px,#4cff47 699.3px,#00fe5d 700.3px,#00ffe5 707.3px,#00f8ff 709.3px,#00cbff 713.3px,#00bcff 717.3px,#00ccff 722.3px,#00ffff 728.3px,#00fc50 741.4px,#60ff34 742.4px,#9dff00 745.4px,#fffe00 751.4px,#ffc000 758.4px,#ffae00 764.4px,#ffc700 768.4px,#fcff00 772.4px,#9aff00 776.4px,#60ff34 778.4px,#00fc53 779.4px,#00ff9d 784.4px,#00ffb6 787.4px,#00ffcd 800.4px,#00ffcf 810.4px,#00ffb0 818.4px,#00fc53 830.4px,#54ff3f 831.4px,#93ff02 835.4px,#a2ff00 836.4px)"></div>
<div class="s" style="top:434.6px;height:70.0px;-webkit-mask-image:linear-gradient(180deg,transparent,#000 34.8px);mask-image:linear-gradient(180deg,transparent,#000 34.8px);background:linear-gradient(90deg,#960000 0.0px,#960000 21.0px,#ff9000 22.0px,#00ff8d 23.0px,#00baff 24.0px,#0045ff 25.0px,#0000de 26.0px,#00008c 27.0px,#000087 28.0px,#000087 69.0px,#001cff 70.0px,#00d0ff 71.0px,#00ffdb 72.0px,#00ff8f 73.0px,#00fd55 74.0px,#90ff06 75.0px,#fcff00 77.0px,#ffe600 78.0px,#ffc900 80.0px,#ffb000 85.0px,#ff9800 87.0px,#ff7a00 88.0px,#f60000 91.0px,#9c0000 93.0px,#960000 94.0px,#960000 118.1px,#970000 119.1px,#f80000 121.1px,#ffca00 125.1px,#ffee00 126.1px,#f1ff00 127.1px,#96ff00 130.1px,#57ff3d 132.1px,#00fd59 133.1px,#00ffbd 138.1px,#00f9ff 143.1px,#00a1ff 151.1px,#0084ff 157.1px,#008aff 160.1px,#00c0ff 170.1px,#0099ff 181.1px,#00a8ff 183.1px,#00efff 186.1px,#00ffee 187.1px,#00fd57 191.1px,#72ff23 192.1px,#a3ff00 193.1px,#f1ff00 195.1px,#fff300 196.1px,#ffd300 199.1px,#fff300 202.1px,#f0ff00 203.1px,#a3ff00 205.1px,#72ff23 206.1px,#00fd57 207.1px,#00fff1 211.1px,#00eaff 212.1px,#009cff 215.1px,#0082ff 218.1px,#00a0ff 221.1px,#00fffd 225.1px,#00fc52 230.1px,#7aff1b 231.1px,#a9ff00 232.1px,#faff00 234.1px,#ffe700 235.1px,#ff9900 239.1px,#ff8f00 242.1px,#ffaf00 246.1px,#fff300 250.1px,#f4ff00 251.1px,#99ff00 254.1px,#50ff43 256.1px,#00fe5f 257.1px,#00fff6 263.1px,#00f3ff 264.1px,#00b3ff 268.1px,#0099ff 272.1px,#00b1ff 276.1px,#00f1ff 280.1px,#00fff8 281.1px,#00ff64 287.1px,#00fd55 288.1px,#60ff34 289.1px,#9aff00 291.1px,#d5ff00 294.1px,#fffc00 298.1px,#ffe700 303.1px,#f9ff00 309.1px,#9eff00 316.2px,#4dff46 322.2px,#00fd54 323.2px,#00ffd8 339.2px,#00fff4 347.2px,#00ffd6 352.2px,#00fd55 361.2px,#57ff3d 362.2px,#9aff00 365.2px,#e4ff00 370.2px,#fbff00 374.2px,#e7ff00 378.2px,#99ff00 384.2px,#56ff3d 388.2px,#00fc51 389.2px,#00ffda 410.2px,#00fffb 421.2px,#00ffdf 425.2px,#00fc51 432.2px,#6dff27 433.2px,#91ff05 434.2px,#fffb00 438.2px,#ffce00 441.2px,#ffbc00 444.2px,#ffd000 447.2px,#f9ff00 450.2px,#a5ff00 453.2px,#88ff0d 454.2px,#51ff42 456.2px,#00fd57 457.2px,#00ff64 460.2px,#00fd55 464.2px,#4eff45 465.2px,#85ff11 469.2px,#97ff00 472.2px,#87ff0f 475.2px,#5dff37 478.2px,#00fc50 479.2px,#00ffcc 489.2px,#00ffdc 494.2px,#00ffb4 505.2px,#00fc53 519.2px,#55ff3e 520.2px,#9dff00 524.3px,#fffe00 531.3px,#ffe200 537.3px,#faff00 541.3px,#aeff00 544.3px,#8eff08 545.3px,#68ff2d 546.3px,#00fd55 547.3px,#00feff 553.3px,#00a9ff 557.3px,#0085ff 561.3px,#008dff 564.3px,#00a6ff 567.3px,#00fbff 573.3px,#00fd54 582.3px,#5eff36 583.3px,#95ff01 585.3px,#fdff00 590.3px,#fff400 591.3px,#ffbe00 597.3px,#ffae00 601.3px,#ffc500 605.3px,#fffe00 609.3px,#9aff00 613.3px,#59ff3b 615.3px,#00fd59 616.3px,#00ffe0 622.3px,#00f7ff 624.3px,#00c0ff 628.3px,#00adff 632.3px,#00bfff 637.3px,#00feff 644.3px,#00fd54 661.3px,#52ff41 662.3px,#94ff02 666.3px,#e4ff00 672.3px,#fffa00 675.3px,#ffdc00 680.3px,#ffd100 685.3px,#ffdc00 688.3px,#fff800 691.3px,#e6ff00 693.3px,#8fff07 697.3px,#57ff3d 699.3px,#00fd58 700.3px,#00fbff 709.3px,#00c0ff 714.3px,#00b2ff 718.3px,#00c4ff 723.3px,#00fcff 729.3px,#00fc53 741.4px,#5bff38 742.4px,#9eff00 745.4px,#f8ff00 750.4px,#fff800 751.4px,#ffbd00 757.4px,#ffa400 763.4px,#ffb500 767.4px,#fffa00 772.4px,#a1ff00 776.4px,#4bff48 779.4px,#00fe5c 780.4px,#00ffa8 785.4px,#00ffbd 788.4px,#00ffd2 801.4px,#00ffd2 811.4px,#00ffb0 819.4px,#00fd56 830.4px,#4eff45 831.4px,#9eff00 836.4px)"></div>
<div class="s" style="top:469.4px;height:70.0px;-webkit-mask-image:linear-gradient(180deg,transparent,#000 34.8px);mask-image:linear-gradient(180deg,transparent,#000 34.8px);background:linear-gradient(90deg,#960000 0.0px,#960000 21.0px,#ff3e00 22.0px,#00fc52 23.0px,#00ddff 24.0px,#001eff 26.0px,#0000d5 27.0px,#00009b 28.0px,#000087 29.0px,#000087 69.0px,#0000b2 70.0px,#008aff 71.0px,#00fdff 72.0px,#00ff69 74.0px,#6eff26 75.0px,#b3ff00 76.0px,#e7ff00 77.0px,#fff300 78.0px,#ffd300 80.0px,#ffba00 85.0px,#ffa500 87.0px,#ff6300 89.0px,#ff0600 91.0px,#d40000 92.0px,#a80000 93.0px,#960000 94.0px,#960000 120.1px,#f80000 122.1px,#ffce00 126.1px,#fff200 127.1px,#ecff00 128.1px,#91ff04 131.1px,#53ff41 133.1px,#00fe5b 134.1px,#00ffbe 139.1px,#00f8ff 144.1px,#009cff 152.1px,#0078ff 159.1px,#00adff 171.1px,#008fff 181.1px,#00a0ff 183.1px,#00eaff 186.1px,#00fff2 187.1px,#00fd56 191.1px,#76ff1f 192.1px,#a8ff00 193.1px,#f8ff00 195.1px,#ffec00 196.1px,#ffcb00 199.1px,#ffda00 201.1px,#fcff00 203.1px,#b0ff00 205.1px,#82ff13 206.1px,#4cff47 207.1px,#00ff6c 208.1px,#00ffe5 211.1px,#00f5ff 212.1px,#00a2ff 215.1px,#007fff 218.1px,#0097ff 221.1px,#00f7ff 225.1px,#00ffe5 226.1px,#00fd55 230.1px,#74ff21 231.1px,#a6ff00 232.1px,#fbff00 234.1px,#ffe500 235.1px,#ff9300 239.1px,#ff8800 242.1px,#ffaa00 246.1px,#fff100 250.1px,#f6ff00 251.1px,#97ff00 254.1px,#71ff23 255.1px,#00fc50 256.1px,#00feff 263.1px,#00a8ff 268.1px,#008fff 272.1px,#00a9ff 276.1px,#00ffff 281.1px,#00fd57 288.1px,#5cff38 289.1px,#99ff00 291.1px,#daff00 294.1px,#fffb00 297.1px,#ffe100 300.1px,#ffd700 303.1px,#fdff00 310.1px,#95ff01 317.2px,#57ff3c 321.2px,#00fd56 323.2px,#00ffdf 337.2px,#00faff 342.2px,#00ebff 348.2px,#00fffa 352.2px,#00fd57 362.2px,#56ff3d 363.2px,#9fff00 366.2px,#ebff00 371.2px,#faff00 375.2px,#dcff00 379.2px,#95ff01 384.2px,#4fff44 388.2px,#00fd55 389.2px,#00ffd5 407.2px,#00feff 416.2px,#00f6ff 421.2px,#00fff9 424.2px,#00ffc8 427.2px,#00fd54 432.2px,#67ff2d 433.2px,#8dff09 434.2px,#fffb00 438.2px,#ffcb00 441.2px,#ffb800 444.2px,#ffcd00 447.2px,#fcff00 450.2px,#a7ff00 453.2px,#8aff0c 454.2px,#52ff41 456.2px,#00fd57 457.2px,#00ff64 460.2px,#00fd54 464.2px,#50ff43 465.2px,#88ff0e 469.2px,#97ff00 472.2px,#81ff14 475.2px,#51ff42 478.2px,#00fd56 479.2px,#00ffd3 488.2px,#00ffe8 493.2px,#00ffc7 502.2px,#00fd55 518.2px,#50ff43 519.2px,#98ff00 523.3px,#fdff00 530.3px,#ffde00 537.3px,#ffff00 541.3px,#b1ff00 544.3px,#91ff05 545.3px,#6aff2b 546.3px,#00fd55 547.3px,#00fcff 553.3px,#00a5ff 557.3px,#0080ff 561.3px,#009fff 567.3px,#00fffe 574.3px,#00fc52 583.3px,#63ff31 584.3px,#9aff00 586.3px,#fffb00 591.3px,#ffab00 598.3px,#ff9d00 601.3px,#ffb700 605.3px,#fff500 609.3px,#f2ff00 610.3px,#9cff00 613.3px,#57ff3d 615.3px,#00fe5b 616.3px,#00fbff 623.3px,#00b0ff 628.3px,#009eff 632.3px,#00b8ff 638.3px,#00fffc 646.3px,#00fd55 662.3px,#52ff41 663.3px,#99ff00 667.3px,#efff00 673.3px,#fff900 675.3px,#ffd700 680.3px,#ffcb00 685.3px,#ffd500 688.3px,#fffd00 692.3px,#9aff00 697.3px,#62ff32 699.3px,#00fc52 700.3px,#00ffff 709.3px,#00beff 714.3px,#00a8ff 718.3px,#00bdff 724.3px,#00faff 730.3px,#00fd56 741.4px,#56ff3d 742.4px,#9dff00 745.4px,#ffff00 750.4px,#ffb300 757.4px,#ff9900 763.4px,#ffad00 767.4px,#fff400 772.4px,#f6ff00 773.4px,#8dff08 777.4px,#52ff41 779.4px,#00fd5a 780.4px,#00ffa8 785.4px,#00ffc2 788.4px,#00ffd7 811.4px,#00ffb6 819.4px,#00fc52 831.4px,#57ff3c 832.4px,#99ff00 836.4px)"></div>
<div class="s" style="top:504.2px;height:70.0px;-webkit-mask-image:linear-gradient(180deg,transparent,#000 34.8px);mask-image:linear-gradient(180deg,transparent,#000 34.8px);background:linear-gradient(90deg,#960000 0.0px,#960000 21.0px,#ff0a00 22.0px,#8dff08 23.0px,#00f3ff 24.0px,#0095ff 25.0px,#0000ff 27.0px,#00009d 29.0px,#000087 30.0px,#000087 70.0px,#003bff 71.0px,#00e0ff 72.0px,#00ffcd 73.0px,#00ff82 74.0px,#9bff00 76.0px,#fdff00 78.0px,#ffe900 79.0px,#ffb200 87.0px,#ff7700 89.0px,#ff1b00 91.0px,#e80000 92.0px,#960000 94.0px,#960000 120.1px,#9e0000 121.1px,#d00000 122.1px,#ff0a00 123.1px,#ffb500 126.1px,#fffd00 128.1px,#8cff09 132.1px,#53ff41 134.1px,#00fd59 135.1px,#00ffb0 140.1px,#00fffb 145.1px,#00f5ff 146.1px,#0096ff 154.1px,#007bff 158.1px,#0075ff 161.1px,#00a2ff 171.1px,#008cff 181.1px,#00a2ff 183.1px,#00efff 186.1px,#00ffec 187.1px,#00fd53 191.1px,#7aff1b 192.1px,#aaff00 193.1px,#f8ff00 195.1px,#ffee00 196.1px,#ffce00 199.1px,#ffdc00 201.1px,#fcff00 203.1px,#b3ff00 205.1px,#87ff0e 206.1px,#53ff40 207.1px,#00ff65 208.1px,#00feff 212.1px,#00abff 215.1px,#0085ff 218.1px,#0098ff 221.1px,#00f7ff 225.1px,#00ffe5 226.1px,#00fc53 230.1px,#7aff1b 231.1px,#acff00 232.1px,#fffc00 234.1px,#ff9900 238.1px,#ff8000 241.1px,#ff9900 245.1px,#fff100 250.1px,#f4ff00 251.1px,#92ff04 254.1px,#6aff2a 255.1px,#00fd54 256.1px,#00fff2 262.1px,#00f5ff 263.1px,#00a0ff 268.1px,#008cff 272.1px,#00aaff 276.1px,#00fffc 281.1px,#00fd56 288.1px,#5eff36 289.1px,#9aff00 291.1px,#daff00 294.1px,#fffb00 297.1px,#ffd600 303.1px,#ffdf00 306.1px,#feff00 310.1px,#91ff05 317.2px,#51ff42 321.2px,#00fc53 322.2px,#00ff66 325.2px,#00ffe4 337.2px,#00faff 341.2px,#00e4ff 348.2px,#00fff8 353.2px,#00fe5c 362.2px,#4cff47 363.2px,#98ff00 366.2px,#e7ff00 371.2px,#f7ff00 375.2px,#daff00 379.2px,#93ff02 384.2px,#4dff46 388.2px,#00fd56 389.2px,#00ffff 413.2px,#00ecff 421.2px,#00fdff 424.2px,#00ffcd 427.2px,#00fd54 432.2px,#6aff2a 433.2px,#91ff05 434.2px,#f1ff00 437.2px,#fff400 438.2px,#ffc300 441.2px,#ffb000 444.2px,#ffc500 447.2px,#fffb00 450.2px,#8eff08 454.2px,#54ff3f 456.2px,#00fd56 457.2px,#00ff64 460.2px,#00fd54 464.2px,#51ff42 465.2px,#92ff04 470.2px,#92ff04 473.2px,#5eff36 477.2px,#00fc50 478.2px,#00ff64 480.2px,#00ffd3 487.2px,#00ffed 490.2px,#00fff1 492.2px,#00ffcd 502.2px,#00fd56 518.2px,#4fff45 519.2px,#97ff00 523.3px,#fdff00 530.3px,#ffde00 537.3px,#ffff00 541.3px,#b1ff00 544.3px,#90ff06 545.3px,#68ff2c 546.3px,#00fd55 547.3px,#00f9ff 553.3px,#00a0ff 557.3px,#007aff 561.3px,#0097ff 567.3px,#00f6ff 574.3px,#00fff6 575.3px,#00fd58 583.3px,#56ff3d 584.3px,#8fff07 586.3px,#fffd00 591.3px,#ffa100 598.3px,#ff8f00 601.3px,#ffac00 605.3px,#fbff00 610.3px,#a1ff00 613.3px,#58ff3c 615.3px,#00fe5b 616.3px,#00fff5 622.3px,#00f3ff 623.3px,#00a4ff 628.3px,#0092ff 632.3px,#00adff 638.3px,#00fbff 646.3px,#00fd55 662.3px,#52ff41 663.3px,#9bff00 667.3px,#ffff00 674.3px,#ffd800 679.3px,#ffc600 684.3px,#ffd000 688.3px,#fff700 692.3px,#f7ff00 693.3px,#a3ff00 697.3px,#89ff0c 698.3px,#50ff43 700.3px,#00fe5b 701.3px,#00fffa 709.3px,#00f3ff 710.3px,#00b4ff 715.3px,#009fff 720.3px,#00b6ff 725.3px,#00f9ff 731.3px,#00ffe6 733.4px,#00fe5b 741.4px,#4eff45 742.4px,#9aff00 745.4px,#fffd00 750.4px,#ffac00 757.4px,#ff9200 763.4px,#ffa800 767.4px,#fcff00 773.4px,#95ff01 777.4px,#59ff3a 779.4px,#00fd56 780.4px,#00ffa4 785.4px,#00ffc0 788.4px,#00ffd4 800.4px,#00ffd7 811.4px,#00ffb6 819.4px,#00fc52 831.4px,#57ff3d 832.4px,#99ff00 836.4px)"></div>
<div class="s" style="top:538.9px;height:70.0px;-webkit-mask-image:linear-gradient(180deg,transparent,#000 34.8px);mask-image:linear-gradient(180deg,transparent,#000 34.8px);background:linear-gradient(90deg,#960000 0.0px,#960000 21.0px,#f70000 22.0px,#b1ff00 23.0px,#00fff9 24.0px,#00a5ff 25.0px,#0016ff 27.0px,#0000df 28.0px,#00008f 30.0px,#000087 31.0px,#000087 70.0px,#0000ef 71.0px,#00c2ff 72.0px,#00ffe3 73.0px,#00fe5a 75.0px,#83ff12 76.0px,#beff00 77.0px,#ebff00 78.0px,#fff500 79.0px,#ffdc00 81.0px,#ffc400 86.0px,#ffac00 88.0px,#ff6500 90.0px,#ff0400 92.0px,#a40000 94.0px,#960000 95.0px,#960000 121.1px,#b60000 122.1px,#f00000 123.1px,#ff3000 124.1px,#ffa700 126.1px,#fff600 128.1px,#a2ff00 132.1px,#8bff0b 133.1px,#5bff39 135.1px,#00fc53 136.1px,#00fcff 148.1px,#009eff 155.1px,#007cff 161.1px,#00a0ff 171.1px,#0093ff 181.1px,#00b0ff 183.1px,#00feff 186.1px,#00ff6b 190.1px,#00fc50 191.1px,#7cff19 192.1px,#a8ff00 193.1px,#efff00 195.1px,#fff700 196.1px,#ffda00 199.1px,#fff700 202.1px,#f0ff00 203.1px,#acff00 205.1px,#82ff14 206.1px,#51ff42 207.1px,#00ff64 208.1px,#00fff6 212.1px,#00e9ff 213.1px,#00a6ff 216.1px,#0091ff 219.1px,#00b4ff 222.1px,#00fffc 225.1px,#00ff64 229.1px,#56ff3e 230.1px,#8dff09 231.1px,#eaff00 233.1px,#ffef00 234.1px,#ff8f00 238.1px,#ff7900 241.1px,#ff9700 245.1px,#fff300 250.1px,#efff00 251.1px,#adff00 253.1px,#88ff0d 254.1px,#5fff34 255.1px,#00fd59 256.1px,#00fffc 262.1px,#00ecff 263.1px,#00a7ff 267.1px,#008eff 271.1px,#00a7ff 275.1px,#00f9ff 280.1px,#00fc53 288.1px,#63ff31 289.1px,#9bff00 291.1px,#d5ff00 294.1px,#fffb00 298.1px,#ffe000 303.1px,#fffe00 309.1px,#97ff00 316.2px,#54ff3f 320.2px,#00fc52 321.2px,#00ff64 324.2px,#00ffe5 337.2px,#00fbff 341.2px,#00e7ff 348.2px,#00fdff 352.2px,#00ffda 355.2px,#00fc51 363.2px,#63ff31 364.2px,#93ff03 366.2px,#a7ff00 367.2px,#e9ff00 372.2px,#edff00 376.2px,#cbff00 380.2px,#95ff01 384.2px,#52ff42 388.2px,#00fd54 389.2px,#00fcff 412.2px,#00e4ff 420.2px,#00faff 424.2px,#00ffcc 427.2px,#00ff61 431.2px,#4dff46 432.2px,#9dff00 434.2px,#fffe00 437.2px,#ffb600 441.2px,#ffa200 444.2px,#ffb900 447.2px,#fff200 450.2px,#f2ff00 451.2px,#94ff02 454.2px,#57ff3c 456.2px,#00fd55 457.2px,#00ff64 460.2px,#00fd54 464.2px,#51ff42 465.2px,#92ff04 470.2px,#92ff04 473.2px,#5cff38 477.2px,#00fc51 478.2px,#00ff67 480.2px,#00ffd9 487.2px,#00fff4 490.2px,#00fff8 492.2px,#00ffee 497.2px,#00ffcb 504.2px,#00ff90 513.2px,#00fd56 519.2px,#50ff43 520.2px,#9cff00 524.3px,#fffe00 531.3px,#ffe200 537.3px,#faff00 541.3px,#acff00 544.3px,#8bff0b 545.3px,#64ff30 546.3px,#00fd57 547.3px,#00ffec 552.3px,#00f6ff 553.3px,#008cff 558.3px,#0077ff 560.3px,#0073ff 562.3px,#0099ff 568.3px,#00fffd 575.3px,#00fd59 583.3px,#55ff3e 584.3px,#90ff06 586.3px,#fff900 591.3px,#ff9800 598.3px,#ff8500 601.3px,#ffa200 605.3px,#fffb00 610.3px,#a8ff00 613.3px,#84ff11 614.3px,#5eff36 615.3px,#00fd59 616.3px,#00fff7 622.3px,#00f0ff 623.3px,#009dff 628.3px,#0088ff 632.3px,#00a5ff 638.3px,#00feff 646.3px,#00fd56 661.3px,#50ff43 662.3px,#97ff00 666.3px,#eeff00 672.3px,#fff900 674.3px,#ffcf00 680.3px,#ffc200 685.3px,#ffd400 689.3px,#feff00 693.3px,#92ff04 698.3px,#5aff3a 700.3px,#00fd56 701.3px,#00fff5 709.3px,#00f8ff 710.3px,#00b4ff 715.3px,#0098ff 720.3px,#00b2ff 726.3px,#00faff 732.4px,#00fd54 742.4px,#5eff36 743.4px,#94ff02 745.4px,#fffe00 750.4px,#ffa900 757.4px,#ff8f00 763.4px,#ffb100 768.4px,#ffff00 773.4px,#9aff00 777.4px,#60ff33 779.4px,#00fc53 780.4px,#00ff9d 785.4px,#00ffb9 788.4px,#00ffcf 799.4px,#00ffd4 810.4px,#00ffb0 819.4px,#00fd56 830.4px,#4dff46 831.4px,#9eff00 836.4px)"></div>
<div class="s" style="top:573.7px;height:70.0px;-webkit-mask-image:linear-gradient(180deg,transparent,#000 34.8px);mask-image:linear-gradient(180deg,transparent,#000 34.8px);background:linear-gradient(90deg,#960000 0.0px,#960000 21.0px,#e50000 22.0px,#d2ff00 23.0px,#00ffe4 24.0px,#00b3ff 25.0px,#002aff 27.0px,#0000f3 28.0px,#0000a3 30.0px,#000087 31.0px,#000087 70.0px,#00009b 71.0px,#0091ff 72.0px,#00fff9 73.0px,#00ff67 75.0px,#6aff2a 76.0px,#aaff00 77.0px,#fdff00 79.0px,#ffee00 80.0px,#ffba00 88.0px,#ff7e00 90.0px,#ff2000 92.0px,#eb0000 93.0px,#960000 95.0px,#960000 121.1px,#9c0000 122.1px,#d40000 123.1px,#ff1600 124.1px,#ff9700 126.1px,#ffcb00 127.1px,#ffef00 128.1px,#f6ff00 129.1px,#8eff07 134.1px,#53ff40 137.1px,#00fd54 138.1px,#00ff8d 143.1px,#00faff 150.1px,#00a4ff 156.1px,#0084ff 161.1px,#009fff 171.1px,#0093ff 180.1px,#00aaff 182.1px,#00ecff 185.1px,#00fff4 186.1px,#00ff6b 190.1px,#00fc53 191.1px,#71ff24 192.1px,#9aff00 193.1px,#d8ff00 195.1px,#fffc00 197.1px,#fff100 199.1px,#fffd00 201.1px,#d7ff00 203.1px,#9aff00 205.1px,#71ff24 206.1px,#00fc53 207.1px,#00ff6a 208.1px,#00fff0 212.1px,#00f1ff 213.1px,#00b2ff 216.1px,#009dff 219.1px,#00aeff 221.1px,#00efff 224.1px,#00fff0 225.1px,#00fe5c 229.1px,#68ff2c 230.1px,#9eff00 231.1px,#faff00 233.1px,#ffe300 234.1px,#ffab00 236.1px,#ff8400 238.1px,#ff7200 241.1px,#ff9400 245.1px,#fff700 250.1px,#e9ff00 251.1px,#a4ff00 253.1px,#7dff18 254.1px,#54ff40 255.1px,#00fe5f 256.1px,#00ffed 261.1px,#00f9ff 262.1px,#00afff 266.1px,#0090ff 270.1px,#00a5ff 274.1px,#00fff9 280.1px,#00fe5c 287.1px,#4eff45 288.1px,#9dff00 291.1px,#daff00 295.1px,#fffb00 300.1px,#fff100 304.1px,#fffd00 307.1px,#e2ff00 310.1px,#99ff00 315.2px,#56ff3d 319.2px,#00fc51 320.2px,#00ff6a 324.2px,#00ffd4 335.2px,#00fdff 341.2px,#00eaff 348.2px,#00ffff 352.2px,#00ffd8 355.2px,#00fc52 363.2px,#5fff35 364.2px,#8eff07 366.2px,#a2ff00 367.2px,#e3ff00 372.2px,#e7ff00 376.2px,#c8ff00 380.2px,#95ff01 384.2px,#55ff3e 388.2px,#00fc52 389.2px,#00fbff 411.2px,#00dcff 420.2px,#00e1ff 422.2px,#00f7ff 424.2px,#00ffe2 426.2px,#00fe5d 431.2px,#58ff3c 432.2px,#82ff13 433.2px,#a9ff00 434.2px,#efff00 436.2px,#fff300 437.2px,#ffa900 441.2px,#ff9400 444.2px,#ffac00 447.2px,#fdff00 451.2px,#9aff00 454.2px,#5aff3a 456.2px,#00fd55 457.2px,#00ff64 460.2px,#00fd54 464.2px,#51ff42 465.2px,#92ff04 470.2px,#92ff04 473.2px,#5aff39 477.2px,#00fc52 478.2px,#00ffde 487.2px,#00fffa 490.2px,#00fffe 492.2px,#00ffee 499.2px,#00ffc3 507.2px,#00ff9d 513.2px,#00fd55 520.2px,#54ff40 521.2px,#8fff06 524.3px,#a1ff00 525.3px,#edff00 530.3px,#fffb00 532.3px,#ffe700 537.3px,#fff900 540.3px,#f5ff00 541.3px,#a7ff00 544.3px,#86ff10 545.3px,#5fff35 546.3px,#00fd59 547.3px,#00ffef 552.3px,#00f3ff 553.3px,#0087ff 558.3px,#0071ff 560.3px,#006bff 562.3px,#0090ff 568.3px,#00fbff 575.3px,#00fe5a 583.3px,#54ff40 584.3px,#91ff05 586.3px,#f5ff00 590.3px,#fff500 591.3px,#ff8f00 598.3px,#ff7b00 601.3px,#ff9900 605.3px,#fff300 610.3px,#f0ff00 611.3px,#afff00 613.3px,#8bff0a 614.3px,#63ff31 615.3px,#00fd57 616.3px,#00fff9 622.3px,#00edff 623.3px,#0096ff 628.3px,#007eff 632.3px,#009dff 638.3px,#00fffe 646.3px,#00ffaa 652.3px,#00fd56 660.3px,#4eff45 661.3px,#93ff03 665.3px,#fffc00 673.3px,#ffd000 679.3px,#ffbf00 685.3px,#ffd000 689.3px,#fffb00 693.3px,#9aff00 698.3px,#63ff31 700.3px,#00fc52 701.3px,#00fdff 710.3px,#00abff 716.3px,#0090ff 721.3px,#00adff 727.3px,#00fbff 733.4px,#00fd59 742.4px,#53ff40 743.4px,#8cff0a 745.4px,#a5ff00 746.4px,#ffff00 750.4px,#ffa500 757.4px,#ff8c00 763.4px,#ffaf00 768.4px,#fffc00 773.4px,#9fff00 777.4px,#4cff47 780.4px,#00fe5b 781.4px,#00ffa2 786.4px,#00ffb7 789.4px,#00ffcd 801.4px,#00ffcf 810.4px,#00ffb0 818.4px,#00fc53 830.4px,#53ff40 831.4px,#93ff03 835.4px,#a2ff00 836.4px)"></div>
<div class="s" style="top:608.5px;height:70.0px;-webkit-mask-image:linear-gradient(180deg,transparent,#000 34.8px);mask-image:linear-gradient(180deg,transparent,#000 34.8px);background:linear-gradient(90deg,#960000 0.0px,#960000 21.0px,#d40000 22.0px,#f1ff00 23.0px,#00ffcf 24.0px,#00c0ff 25.0px,#007aff 26.0px,#0006ff 28.0px,#0000da 29.0px,#000096 31.0px,#000087 32.0px,#000087 71.0px,#004dff 72.0px,#00f0ff 73.0px,#00ff7a 75.0px,#96ff00 77.0px,#edff00 79.0px,#fff800 80.0px,#ffe200 82.0px,#ffc400 88.0px,#ffb400 89.0px,#ff6c00 91.0px,#ff0800 93.0px,#d30000 94.0px,#a40000 95.0px,#960000 96.0px,#960000 122.1px,#b60000 123.1px,#f80000 124.1px,#ffbe00 127.1px,#ffe800 128.1px,#fffe00 129.1px,#95ff01 135.1px,#51ff43 139.1px,#00fd55 140.1px,#00ff7f 144.1px,#00fffe 151.1px,#00efff 152.1px,#009dff 158.1px,#008bff 162.1px,#009eff 171.1px,#0094ff 179.1px,#00b5ff 182.1px,#00f7ff 185.1px,#00ffeb 186.1px,#00fd57 191.1px,#64ff30 192.1px,#89ff0c 193.1px,#a8ff00 194.1px,#e7ff00 197.1px,#f5ff00 199.1px,#e6ff00 201.1px,#a6ff00 204.1px,#86ff10 205.1px,#60ff34 206.1px,#00fd59 207.1px,#00f9ff 213.1px,#00beff 216.1px,#00a9ff 219.1px,#00b9ff 221.1px,#00f9ff 224.1px,#00fd54 229.1px,#7aff1b 230.1px,#aeff00 231.1px,#fff600 233.1px,#ff8b00 237.1px,#ff6b00 240.1px,#ff7100 242.1px,#ff9300 245.1px,#fffb00 250.1px,#9bff00 253.1px,#72ff23 254.1px,#00fc52 255.1px,#00fff7 261.1px,#00efff 262.1px,#00a9ff 266.1px,#0093ff 270.1px,#00afff 274.1px,#00feff 279.1px,#00fd56 287.1px,#59ff3a 288.1px,#8cff09 290.1px,#b2ff00 292.1px,#e2ff00 297.1px,#ffff00 303.1px,#eaff00 308.1px,#9cff00 314.2px,#59ff3a 318.2px,#00fc50 319.2px,#00feff 341.2px,#00ecff 348.2px,#00fffd 352.2px,#00ffd7 355.2px,#00fd54 363.2px,#5bff38 364.2px,#9eff00 367.2px,#d5ff00 371.2px,#e5ff00 374.2px,#d6ff00 378.2px,#96ff00 384.2px,#59ff3b 388.2px,#00fc50 389.2px,#00ff71 394.2px,#00fcff 410.2px,#00dfff 415.2px,#00d4ff 420.2px,#00dcff 422.2px,#00fff7 425.2px,#00fd59 431.2px,#63ff31 432.2px,#8fff07 433.2px,#fdff00 436.2px,#ffe800 437.2px,#ff9b00 441.2px,#ff8600 444.2px,#ffa000 447.2px,#fff900 451.2px,#a0ff00 454.2px,#5dff37 456.2px,#00fd54 457.2px,#00ff64 460.2px,#00fd54 464.2px,#51ff42 465.2px,#92ff04 470.2px,#92ff04 473.2px,#59ff3b 477.2px,#00fd53 478.2px,#00ffd6 486.2px,#00fdff 490.2px,#00fffd 497.2px,#00ffd4 506.2px,#00ffab 513.2px,#00fc53 521.2px,#59ff3b 522.2px,#96ff00 525.3px,#e5ff00 530.3px,#fff900 533.3px,#ffeb00 537.3px,#fffd00 540.3px,#d9ff00 542.3px,#a3ff00 544.3px,#81ff15 545.3px,#5aff3a 546.3px,#00fe5c 547.3px,#00fff2 552.3px,#00efff 553.3px,#0082ff 558.3px,#006bff 560.3px,#0063ff 562.3px,#006dff 565.3px,#0087ff 568.3px,#00f4ff 575.3px,#00fff6 576.3px,#00fe5b 583.3px,#52ff41 584.3px,#91ff05 586.3px,#faff00 590.3px,#fff100 591.3px,#ff8600 598.3px,#ff7000 601.3px,#ff8f00 605.3px,#f9ff00 611.3px,#92ff03 614.3px,#69ff2b 615.3px,#00fd55 616.3px,#00fffb 622.3px,#00ebff 623.3px,#008fff 628.3px,#0074ff 632.3px,#0094ff 638.3px,#00fffe 646.3px,#00ff95 653.3px,#00fc50 660.3px,#5bff38 661.3px,#9eff00 665.3px,#feff00 672.3px,#ffd100 678.3px,#ffbc00 684.3px,#ffc500 688.3px,#fff700 693.3px,#f8ff00 694.3px,#a2ff00 698.3px,#89ff0d 699.3px,#50ff43 701.3px,#00fe5b 702.3px,#00fffc 710.3px,#00f1ff 711.3px,#00a1ff 717.3px,#0089ff 722.3px,#00a9ff 728.3px,#00fdff 734.4px,#00fc51 743.4px,#66ff2e 744.4px,#9fff00 746.4px,#feff00 750.4px,#ffac00 756.4px,#ff8800 762.4px,#ffa200 767.4px,#fffa00 773.4px,#a5ff00 777.4px,#8aff0b 778.4px,#54ff3f 780.4px,#00fd58 781.4px,#00ff9b 786.4px,#00ffb0 789.4px,#00ffc9 801.4px,#00ffca 810.4px,#00ffab 818.4px,#00fc50 830.4px,#59ff3b 831.4px,#98ff00 835.4px,#a7ff00 836.4px)"></div>
<div class="s" style="top:643.2px;height:52.7px;-webkit-mask-image:linear-gradient(180deg,transparent,#000 34.8px);mask-image:linear-gradient(180deg,transparent,#000 34.8px);background:linear-gradient(90deg,#960000 0.0px,#960000 21.0px,#c50000 22.0px,#fff200 23.0px,#00ffb8 24.0px,#00cbff 25.0px,#0018ff 28.0px,#0000eb 29.0px,#00008c 32.0px,#000087 33.0px,#000087 71.0px,#0000f2 72.0px,#00d9ff 73.0px,#00ffd4 74.0px,#00ff8d 75.0px,#00fd58 76.0px,#80ff15 77.0px,#b5ff00 78.0px,#dcff00 79.0px,#faff00 80.0px,#fff300 81.0px,#ffc200 89.0px,#ff8600 91.0px,#ff2400 93.0px,#ee0000 94.0px,#960000 96.0px,#980000 123.1px,#d80000 124.1px,#ff2200 125.1px,#ffae00 127.1px,#ffdf00 128.1px,#fff800 129.1px,#9cff00 136.1px,#4cff47 142.1px,#00fd56 143.1px,#00ff79 146.1px,#00f9ff 153.1px,#00abff 158.1px,#0093ff 162.1px,#009aff 179.1px,#00bfff 182.1px,#00feff 185.1px,#00fe5e 191.1px,#50ff43 192.1px,#8fff07 194.1px,#a6ff00 195.1px,#c6ff00 197.1px,#d2ff00 199.1px,#c5ff00 201.1px,#8bff0b 204.1px,#6cff28 205.1px,#00fc50 206.1px,#00fe60 207.1px,#00ffff 213.1px,#00ebff 214.1px,#00bfff 217.1px,#00b6ff 219.1px,#00c4ff 221.1px,#00fffa 224.1px,#00ff67 228.1px,#54ff40 229.1px,#8dff09 230.1px,#eeff00 232.1px,#ffe900 233.1px,#ff8000 237.1px,#ff6400 240.1px,#ff6d00 242.1px,#ff9200 245.1px,#feff00 250.1px,#90ff05 253.1px,#65ff2f 254.1px,#00fd58 255.1px,#00fdff 261.1px,#00b1ff 265.1px,#0095ff 269.1px,#00adff 273.1px,#00f9ff 278.1px,#00fe5c 286.1px,#4cff47 287.1px,#94ff02 290.1px,#a5ff00 291.1px,#d0ff00 296.1px,#e7ff00 305.1px,#cdff00 309.1px,#9bff00 313.1px,#4cff47 318.2px,#00fd56 319.2px,#00ffde 336.2px,#00fbff 342.2px,#00efff 348.2px,#00fffb 352.2px,#00ffd6 355.2px,#00fd55 363.2px,#58ff3c 364.2px,#99ff00 367.2px,#cfff00 371.2px,#deff00 374.2px,#d1ff00 378.2px,#96ff00 384.2px,#4eff45 389.2px,#00fd55 390.2px,#00ff77 395.2px,#00feff 409.2px,#00d7ff 415.2px,#00ccff 420.2px,#00d7ff 422.2px,#00fff8 425.2px,#00fd54 431.2px,#6fff25 432.2px,#9bff00 433.2px,#e8ff00 435.2px,#fff600 436.2px,#ff9d00 440.2px,#ff8300 442.2px,#ff7900 444.2px,#ff9300 447.2px,#fff100 451.2px,#edff00 452.2px,#a5ff00 454.2px,#60ff34 456.2px,#00fc53 457.2px,#00ff64 460.2px,#00fd54 464.2px,#51ff42 465.2px,#92ff04 470.2px,#92ff04 473.2px,#57ff3d 477.2px,#00fd54 478.2px,#00ffdc 486.2px,#00feff 489.2px,#00f3ff 492.2px,#00fffe 499.2px,#00ffda 507.2px,#00ffaf 514.2px,#00fc51 522.2px,#5fff35 523.3px,#9dff00 526.3px,#deff00 530.3px,#fffe00 533.3px,#ffef00 537.3px,#fcff00 540.3px,#9eff00 544.3px,#54ff40 546.3px,#00fe5f 547.3px,#00fff8 552.3px,#00eaff 553.3px,#007bff 558.3px,#0059ff 562.3px,#0062ff 565.3px,#007cff 568.3px,#00b4ff 572.3px,#00ffff 576.3px,#00fe5d 583.3px,#4fff44 584.3px,#91ff05 586.3px,#feff00 590.3px,#ffed00 591.3px,#ff7d00 598.3px,#ff6600 601.3px,#ff7000 603.3px,#ff9400 606.3px,#fffd00 611.3px,#99ff00 614.3px,#70ff25 615.3px,#00fc53 616.3px,#00fffd 622.3px,#00e8ff 623.3px,#0088ff 628.3px,#006dff 631.3px,#006bff 633.3px,#0095ff 639.3px,#00faff 646.3px,#00ff94 653.3px,#00fd56 659.3px,#4fff44 660.3px,#93ff03 664.3px,#fffc00 672.3px,#ffc800 679.3px,#ffb800 685.3px,#ffc800 689.3px,#feff00 694.3px,#92ff04 699.3px,#5aff3a 701.3px,#00fd56 702.3px,#00fff6 710.3px,#00f6ff 711.3px,#00a2ff 717.3px,#0081ff 723.3px,#008bff 726.3px,#00a6ff 729.3px,#00fffe 735.4px,#00fd57 743.4px,#5bff39 744.4px,#98ff00 746.4px,#fdff00 750.4px,#ffef00 751.4px,#ff9f00 757.4px,#ff8500 762.4px,#ffa000 767.4px,#fff700 773.4px,#f3ff00 774.4px,#91ff04 778.4px,#5cff38 780.4px,#00fd54 781.4px,#00ff94 786.4px,#00ffaa 789.4px,#00ffc4 800.4px,#00ffc7 809.4px,#00ffa5 818.4px,#00fd54 829.4px,#4fff44 830.4px,#8dff08 834.4px,#abff00 836.4px)"></div>
</div>
<div style="position:absolute;left:1032.3px;top:59.0px;width:35.3px;height:695.4px;background:linear-gradient(180deg,#960000 0.0px,#ff0000 69.7px,#fffe00 240.5px,#fdff00 242.3px,#97ff00 294.5px,#4cff47 327.7px,#00fc51 329.4px,#00ff65 348.6px,#00fffe 440.9px,#00fdff 442.7px,#0000ff 608.3px,#000087 695.4px)"></div>
<div style="position:absolute;left:1396.0px;top:59.0px;width:837.0px;height:695.4px;overflow:hidden">
<div class="s" style="top:0;height:52.7px;background:linear-gradient(90deg,#960000 0.0px,#960000 21.0px,#00ffcc 22.0px,#000087 23.0px,#000087 53.0px,#0000f3 56.0px,#001aff 57.0px,#0074ff 60.0px,#0091ff 62.0px,#00ffff 77.0px,#00ffbd 84.0px,#00fc51 90.0px,#7eff17 91.0px,#b6ff00 92.0px,#eaff00 93.0px,#ffec00 94.0px,#ff3700 99.0px,#ff0900 101.0px,#ff0000 107.0px,#ff0700 109.0px,#ff2400 111.0px,#ffce00 118.0px,#fffd00 121.0px,#9aff00 128.0px,#50ff44 135.0px,#00fc50 136.0px,#00ff6c 155.0px,#00ff91 160.0px,#00faff 170.0px,#00c4ff 176.0px,#00b2ff 181.0px,#00bfff 184.0px,#00f5ff 188.0px,#00fff6 189.0px,#00fd57 196.0px,#5dff37 197.0px,#7eff17 198.0px,#9dff00 199.0px,#fcff00 203.0px,#fff400 204.0px,#ffd800 207.0px,#ffd400 209.0px,#fffe00 213.0px,#99ff00 217.0px,#60ff34 219.0px,#00fc51 220.0px,#00ff63 223.0px,#00fc51 229.0px,#54ff3f 230.0px,#92ff03 235.0px,#b1ff00 240.0px,#9cff00 244.0px,#6dff28 247.0px,#59ff3b 248.0px,#00fc53 249.0px,#00ffb4 256.0px,#00ffd6 260.0px,#00ffda 281.0px,#00ffc4 284.0px,#00fd59 291.0px,#52ff41 292.0px,#8bff0b 294.0px,#a5ff00 295.0px,#fffa00 299.0px,#ffc600 303.0px,#ffb700 306.0px,#ffc500 308.0px,#fff200 310.0px,#e9ff00 311.0px,#bcff00 312.0px,#8bff0b 313.0px,#52ff41 314.0px,#00ff68 315.0px,#00ffd6 318.0px,#00faff 320.0px,#00edff 322.0px,#00fff4 325.0px,#00fd56 332.0px,#5eff36 333.0px,#91ff04 335.0px,#a2ff00 336.0px,#acff00 339.0px,#90ff06 342.0px,#5bff39 345.0px,#00fc52 346.0px,#00ff6f 349.0px,#00fff6 356.0px,#00f9ff 357.0px,#00e3ff 360.0px,#00fff8 366.0px,#00fd56 376.0px,#58ff3b 377.0px,#8fff06 379.0px,#fffe00 384.0px,#ffbf00 389.0px,#ffa500 394.0px,#ffbc00 398.0px,#fffe00 402.0px,#a8ff00 405.0px,#87ff0e 406.0px,#62ff32 407.0px,#00fd56 408.0px,#00ffcb 413.0px,#00fcff 416.0px,#00ddff 420.0px,#00e3ff 423.0px,#00fffe 427.0px,#00ff70 439.0px,#00fd55 444.0px,#00fc50 453.0px,#4bff48 454.0px,#50ff44 465.0px,#4cff47 468.0px,#00fc51 469.0px,#00fc51 482.0px,#4dff46 483.0px,#70ff24 494.0px,#4eff45 501.0px,#00fc53 502.0px,#00ff78 512.0px,#00ff6c 537.0px,#00ffba 551.0px,#00ffc5 556.0px,#00ffac 559.0px,#00fd56 564.0px,#5bff39 565.0px,#8fff07 567.0px,#a2ff00 568.0px,#bdff00 570.0px,#c2ff00 572.0px,#9dff00 575.0px,#67ff2d 577.0px,#00fc52 578.0px,#00ffd0 584.0px,#00ffef 587.0px,#00ffeb 589.0px,#00ffcd 592.0px,#00fd56 599.0px,#58ff3c 600.0px,#9dff00 603.0px,#c3ff00 606.0px,#c7ff00 610.0px,#92ff03 616.0px,#56ff3e 620.0px,#00fc52 621.0px,#00ff9a 629.0px,#00ffad 634.0px,#00ff9d 643.0px,#00fc52 661.0px,#4dff46 662.0px,#67ff2d 666.0px,#94ff02 676.0px,#96ff00 685.0px,#80ff15 694.0px,#4fff44 705.0px,#00fc50 706.0px,#00ff73 716.0px,#00fffb 728.0px,#00d7ff 733.0px,#00c8ff 737.0px,#00ceff 739.0px,#00f1ff 742.0px,#00fffb 743.0px,#00fe5a 750.0px,#53ff40 751.0px,#8bff0b 753.0px,#a0ff00 754.0px,#bcff00 756.0px,#c4ff00 758.0px,#a9ff00 762.0px,#8fff07 764.0px,#4eff45 768.0px,#00fd55 769.0px,#00ff64 774.0px,#00fc52 779.0px,#54ff40 780.0px,#9fff00 785.0px,#e6ff00 792.0px,#e1ff00 797.0px,#96ff00 803.0px,#59ff3b 806.0px,#00fd53 807.0px,#00ffc0 815.0px,#00ffe4 819.0px,#00fffe 827.0px,#00f3ff 837.0px)"></div>
<div class="s" style="top:17.4px;height:70.0px;-webkit-mask-image:linear-gradient(180deg,transparent,#000 34.8px);mask-image:linear-gradient(180deg,transparent,#000 34.8px);background:linear-gradient(90deg,#960000 0.0px,#960000 21.0px,#f3ff00 22.0px,#000087 23.0px,#00008a 54.0px,#0000fa 57.0px,#005fff 60.0px,#0081ff 62.0px,#00b3ff 67.0px,#00fbff 77.0px,#00ffc9 83.0px,#00ff62 89.0px,#4cff47 90.0px,#7eff17 91.0px,#b2ff00 92.0px,#e3ff00 93.0px,#fff200 94.0px,#ff3c00 99.0px,#ff0a00 101.0px,#ff0000 102.0px,#ff0000 109.0px,#ff2500 112.0px,#ffcd00 119.0px,#fffd00 122.0px,#94ff02 129.0px,#4eff45 135.0px,#00fc52 136.0px,#00ff75 155.0px,#00ff99 160.0px,#00faff 170.0px,#00c9ff 176.0px,#00b9ff 181.0px,#00c5ff 184.0px,#00f6ff 188.0px,#00ffe3 190.0px,#00fe5e 196.0px,#4dff46 197.0px,#8bff0a 199.0px,#ebff00 203.0px,#feff00 204.0px,#fff300 205.0px,#ffd700 210.0px,#faff00 214.0px,#92ff04 218.0px,#5aff39 220.0px,#00fc53 221.0px,#00ff61 224.0px,#00fc52 229.0px,#52ff41 230.0px,#92ff04 235.0px,#b8ff00 241.0px,#b1ff00 243.0px,#91ff05 246.0px,#6dff28 248.0px,#58ff3b 249.0px,#00fd54 250.0px,#00ffb5 257.0px,#00ffd6 261.0px,#00ffd8 281.0px,#00ffc2 284.0px,#00fd58 291.0px,#53ff40 292.0px,#8aff0b 294.0px,#a4ff00 295.0px,#fffd00 299.0px,#ffc800 303.0px,#ffb700 306.0px,#ffc000 308.0px,#ffe900 310.0px,#f7ff00 311.0px,#9dff00 313.0px,#65ff2f 314.0px,#00fe5e 315.0px,#00ffcd 318.0px,#00fbff 320.0px,#00e6ff 322.0px,#00fdff 325.0px,#00ffda 327.0px,#00fe5c 332.0px,#53ff40 333.0px,#8dff09 335.0px,#a0ff00 336.0px,#afff00 339.0px,#94ff02 342.0px,#5cff37 345.0px,#00fc51 346.0px,#00ff6f 349.0px,#00fdff 357.0px,#00e5ff 361.0px,#00fff9 366.0px,#00ffc0 370.0px,#00fd56 376.0px,#59ff3b 377.0px,#91ff05 379.0px,#fffc00 384.0px,#ffbc00 389.0px,#ffa300 394.0px,#ffbd00 398.0px,#fcff00 402.0px,#a2ff00 405.0px,#59ff3b 407.0px,#00fe5b 408.0px,#00ffea 414.0px,#00fffd 415.0px,#00f1ff 416.0px,#00d4ff 419.0px,#00d1ff 421.0px,#00fffd 428.0px,#00ff6b 439.0px,#00fc50 444.0px,#4fff45 445.0px,#50ff43 446.0px,#4eff45 468.0px,#00fc50 469.0px,#00fd59 476.0px,#00fc50 485.0px,#4dff46 486.0px,#5dff37 494.0px,#4dff46 499.0px,#00fc52 500.0px,#00ff7d 512.0px,#00ff64 536.0px,#00ff76 541.0px,#00ffb8 551.0px,#00ffc1 556.0px,#00ffa5 559.0px,#00fd53 564.0px,#5eff35 565.0px,#8fff06 567.0px,#a2ff00 568.0px,#bbff00 570.0px,#c0ff00 572.0px,#9cff00 575.0px,#68ff2c 577.0px,#00fc51 578.0px,#00ffcd 584.0px,#00ffe9 586.0px,#00fff3 588.0px,#00ffd5 592.0px,#00fd58 599.0px,#54ff3f 600.0px,#89ff0d 602.0px,#9fff00 603.0px,#d4ff00 607.0px,#d2ff00 611.0px,#9aff00 617.0px,#5bff38 621.0px,#00fc50 622.0px,#00ffa5 631.0px,#00ffba 636.0px,#00ffa9 645.0px,#00fc52 663.0px,#4eff45 664.0px,#7eff17 671.0px,#9cff00 679.0px,#96ff00 689.0px,#4cff47 707.0px,#00fc52 708.0px,#00ff75 717.0px,#00fdff 729.0px,#00d3ff 734.0px,#00c8ff 738.0px,#00d3ff 740.0px,#00fdff 743.0px,#00fe5e 750.0px,#4bff48 751.0px,#9bff00 754.0px,#b9ff00 756.0px,#c4ff00 758.0px,#abff00 762.0px,#91ff05 764.0px,#50ff44 768.0px,#00fd54 769.0px,#00ff64 774.0px,#00fc53 779.0px,#50ff43 780.0px,#98ff00 785.0px,#dfff00 792.0px,#dfff00 797.0px,#9aff00 803.0px,#4cff47 807.0px,#00fd59 808.0px,#00ffb7 815.0px,#00ffdd 819.0px,#00fffe 830.0px,#00f9ff 837.0px)"></div>
<div class="s" style="top:52.2px;height:70.0px;-webkit-mask-image:linear-gradient(180deg,transparent,#000 34.8px);mask-image:linear-gradient(180deg,transparent,#000 34.8px);background:linear-gradient(90deg,#960000 0.0px,#960000 21.0px,#ff2600 22.0px,#0000a7 23.0px,#000087 24.0px,#000087 54.0px,#00008e 55.0px,#0002ff 58.0px,#0048ff 60.0px,#007eff 63.0px,#00b1ff 68.0px,#00ffff 78.0px,#00ffba 84.0px,#00fe60 89.0px,#4fff44 90.0px,#7eff17 91.0px,#aeff00 92.0px,#fff800 94.0px,#ff4200 99.0px,#ff0c00 101.0px,#fe0000 102.0px,#fe0000 110.0px,#ff2500 113.0px,#ffcb00 120.0px,#fffd00 123.0px,#9dff00 129.0px,#4dff46 135.0px,#00fc53 136.0px,#00ff7e 155.0px,#00ffa1 160.0px,#00faff 170.0px,#00ceff 176.0px,#00bfff 181.0px,#00caff 184.0px,#00f7ff 188.0px,#00ffe4 190.0px,#00fd56 197.0px,#5dff37 198.0px,#97ff00 200.0px,#fffe00 205.0px,#ffda00 210.0px,#ffe000 212.0px,#fff700 214.0px,#f3ff00 215.0px,#a6ff00 218.0px,#8aff0b 219.0px,#56ff3e 221.0px,#00fd54 222.0px,#00fe5e 225.0px,#00fc52 229.0px,#51ff43 230.0px,#91ff05 235.0px,#b6ff00 239.0px,#bfff00 242.0px,#b6ff00 244.0px,#93ff03 247.0px,#6dff28 249.0px,#57ff3c 250.0px,#00fd54 251.0px,#00ffb7 258.0px,#00ffd1 261.0px,#00ffd6 281.0px,#00ffc0 284.0px,#00fd57 291.0px,#55ff3f 292.0px,#8aff0c 294.0px,#a3ff00 295.0px,#ffff00 299.0px,#ffca00 303.0px,#ffb700 307.0px,#ffcb00 309.0px,#fffb00 311.0px,#adff00 313.0px,#78ff1d 314.0px,#00fd56 315.0px,#00ffc4 318.0px,#00ffff 320.0px,#00e2ff 322.0px,#00e0ff 323.0px,#00fffe 326.0px,#00fc51 333.0px,#69ff2b 334.0px,#9dff00 336.0px,#b2ff00 339.0px,#97ff00 342.0px,#5eff36 345.0px,#00fc51 346.0px,#00ff6f 349.0px,#00ffee 356.0px,#00f5ff 358.0px,#00e6ff 361.0px,#00fffb 366.0px,#00ffc2 370.0px,#00fd57 376.0px,#59ff3b 377.0px,#92ff04 379.0px,#fffa00 384.0px,#ffba00 389.0px,#ffa100 394.0px,#ffb200 397.0px,#f7ff00 402.0px,#9bff00 405.0px,#50ff43 407.0px,#00fe5f 408.0px,#00ffdf 413.0px,#00f7ff 415.0px,#00d0ff 418.0px,#00c5ff 421.0px,#00d2ff 424.0px,#00fffb 429.0px,#00ff6d 439.0px,#00fc52 443.0px,#4eff45 444.0px,#55ff3e 446.0px,#50ff43 468.0px,#4cff47 469.0px,#00fc52 470.0px,#00fe5a 476.0px,#00fc50 488.0px,#4cff47 489.0px,#52ff41 494.0px,#4dff46 497.0px,#00fc51 498.0px,#00ff82 512.0px,#00fe5b 536.0px,#00ff66 540.0px,#00ffb5 551.0px,#00ffbf 555.0px,#00ffac 558.0px,#00fc51 564.0px,#62ff32 565.0px,#90ff06 567.0px,#a2ff00 568.0px,#b9ff00 570.0px,#beff00 572.0px,#9bff00 575.0px,#4bff48 578.0px,#00fe5e 579.0px,#00ffca 584.0px,#00ffe8 586.0px,#00fff6 588.0px,#00ffdc 592.0px,#00fe5a 599.0px,#53ff41 600.0px,#8cff0a 602.0px,#a4ff00 603.0px,#e3ff00 607.0px,#e6ff00 611.0px,#c9ff00 615.0px,#97ff00 619.0px,#65ff2f 622.0px,#53ff40 623.0px,#00fd54 624.0px,#00ffb0 633.0px,#00ffc7 639.0px,#00ffb0 648.0px,#00fc52 665.0px,#4fff44 666.0px,#8aff0c 674.0px,#a1ff00 681.0px,#98ff00 691.0px,#4eff45 708.0px,#00fc51 709.0px,#00ff6f 717.0px,#00fffd 729.0px,#00d5ff 734.0px,#00c8ff 738.0px,#00d0ff 740.0px,#00f7ff 743.0px,#00fff3 744.0px,#00fd54 751.0px,#61ff32 752.0px,#96ff00 754.0px,#c0ff00 757.0px,#bfff00 760.0px,#93ff02 764.0px,#51ff42 768.0px,#00fd54 769.0px,#00ff64 773.0px,#00fd54 779.0px,#4dff46 780.0px,#91ff04 785.0px,#d8ff00 792.0px,#dcff00 797.0px,#9fff00 803.0px,#8eff07 804.0px,#55ff3f 807.0px,#00fd55 808.0px,#00ffba 816.0px,#00ffdb 820.0px,#00fffe 837.0px)"></div>
<div class="s" style="top:86.9px;height:70.0px;-webkit-mask-image:linear-gradient(180deg,transparent,#000 34.8px);mask-image:linear-gradient(180deg,transparent,#000 34.8px);background:linear-gradient(90deg,#960000 0.0px,#960000 22.0px,#0087ff 23.0px,#000087 24.0px,#000087 55.0px,#000092 56.0px,#0000df 58.0px,#0005ff 59.0px,#0046ff 61.0px,#0086ff 65.0px,#00faff 78.0px,#00ffc9 83.0px,#00fe5e 89.0px,#52ff41 90.0px,#7eff17 91.0px,#abff00 92.0px,#fffe00 94.0px,#ff4800 99.0px,#ff0f00 101.0px,#fe0000 102.0px,#fe0000 111.0px,#ff2500 114.0px,#ffde00 122.0px,#fffd00 124.0px,#efff00 125.0px,#97ff00 130.0px,#4dff46 135.0px,#00fd53 136.0px,#00ff87 155.0px,#00faff 170.0px,#00d2ff 176.0px,#00c5ff 181.0px,#00cfff 184.0px,#00f9ff 188.0px,#00ffe4 190.0px,#00fe5c 197.0px,#4eff45 198.0px,#a0ff00 201.0px,#fffe00 206.0px,#ffdd00 211.0px,#ffe400 213.0px,#fffd00 215.0px,#9fff00 219.0px,#51ff42 222.0px,#00fd55 223.0px,#00fe5c 225.0px,#00fc53 229.0px,#4fff44 230.0px,#9cff00 236.0px,#c5ff00 242.0px,#baff00 245.0px,#94ff02 248.0px,#81ff15 249.0px,#56ff3d 251.0px,#00fd55 252.0px,#00ffb8 259.0px,#00ffd4 263.0px,#00ffd2 282.0px,#00fd56 291.0px,#56ff3d 292.0px,#8aff0c 294.0px,#a3ff00 295.0px,#fcff00 299.0px,#fff200 300.0px,#ffc400 304.0px,#ffb600 307.0px,#ffc500 309.0px,#fff100 311.0px,#eaff00 312.0px,#8bff0a 314.0px,#52ff41 315.0px,#00ff69 316.0px,#00fffa 320.0px,#00d9ff 323.0px,#00f2ff 326.0px,#00fff9 327.0px,#00fd57 333.0px,#5fff35 334.0px,#99ff00 336.0px,#b5ff00 339.0px,#9bff00 342.0px,#60ff34 345.0px,#00fc50 346.0px,#00ff6f 349.0px,#00fff9 357.0px,#00e7ff 361.0px,#00f9ff 365.0px,#00ffd4 369.0px,#00fd57 376.0px,#59ff3a 377.0px,#93ff03 379.0px,#f3ff00 383.0px,#fff800 384.0px,#ffb700 389.0px,#ff9f00 394.0px,#ffb300 397.0px,#fff300 401.0px,#f3ff00 402.0px,#94ff02 405.0px,#6eff27 406.0px,#00fc52 407.0px,#00fffe 414.0px,#00d0ff 417.0px,#00baff 420.0px,#00c6ff 424.0px,#00f9ff 429.0px,#00ff6f 439.0px,#00fc51 443.0px,#51ff42 444.0px,#5aff3a 446.0px,#56ff3d 467.0px,#4dff46 469.0px,#00fc52 470.0px,#00fe5c 475.0px,#00fd5a 497.0px,#00ff88 512.0px,#00fd5a 528.0px,#00fc53 536.0px,#00ff63 541.0px,#00ffb2 551.0px,#00ffbc 555.0px,#00ffa6 558.0px,#00fe5b 563.0px,#4cff47 564.0px,#91ff05 567.0px,#bcff00 571.0px,#b6ff00 573.0px,#9aff00 575.0px,#4dff46 578.0px,#00fe5d 579.0px,#00ffd9 585.0px,#00fff2 587.0px,#00fff9 589.0px,#00ffd6 593.0px,#00fe5d 599.0px,#4fff44 600.0px,#8dff09 602.0px,#a7ff00 603.0px,#e3ff00 606.0px,#fdff00 609.0px,#e9ff00 614.0px,#95ff01 621.0px,#4dff46 625.0px,#00fd57 626.0px,#00ffbe 636.0px,#00ffcd 639.0px,#00ffcd 643.0px,#00ffb1 651.0px,#00fc51 667.0px,#53ff40 668.0px,#91ff05 676.0px,#a7ff00 683.0px,#97ff00 694.0px,#50ff44 709.0px,#00fc51 710.0px,#00ff6a 717.0px,#00fbff 730.0px,#00d8ff 734.0px,#00c8ff 738.0px,#00ceff 740.0px,#00f2ff 743.0px,#00fffa 744.0px,#00fd58 751.0px,#59ff3a 752.0px,#90ff05 754.0px,#a4ff00 755.0px,#c4ff00 758.0px,#afff00 762.0px,#96ff00 764.0px,#52ff41 768.0px,#00fd54 769.0px,#00ff64 774.0px,#00fc50 780.0px,#56ff3e 781.0px,#98ff00 786.0px,#d6ff00 793.0px,#d5ff00 798.0px,#a2ff00 803.0px,#93ff03 804.0px,#5cff37 807.0px,#00fc51 808.0px,#00ffb1 816.0px,#00ffd3 820.0px,#00fff8 837.0px)"></div>
<div class="s" style="top:121.7px;height:70.0px;-webkit-mask-image:linear-gradient(180deg,transparent,#000 34.8px);mask-image:linear-gradient(180deg,transparent,#000 34.8px);background:linear-gradient(90deg,#960000 0.0px,#960000 22.0px,#00ff81 23.0px,#000087 24.0px,#000087 45.0px,#000087 56.0px,#000096 57.0px,#0000e3 59.0px,#0008ff 60.0px,#0041ff 62.0px,#0091ff 67.0px,#00c7ff 72.0px,#00ffff 79.0px,#00ffba 84.0px,#00fe5c 89.0px,#55ff3e 90.0px,#7fff16 91.0px,#a8ff00 92.0px,#f9ff00 94.0px,#ffe600 95.0px,#ff2d00 100.0px,#ff0000 102.0px,#fd0000 112.0px,#ff2600 115.0px,#ffc900 122.0px,#fffd00 125.0px,#91ff05 131.0px,#4fff44 135.0px,#00fd54 136.0px,#00ff93 155.0px,#00fffd 169.0px,#00d7ff 176.0px,#00cbff 181.0px,#00d5ff 184.0px,#00fbff 188.0px,#00fd55 198.0px,#5aff3a 199.0px,#8eff08 201.0px,#efff00 206.0px,#fff700 208.0px,#ffe400 212.0px,#f8ff00 216.0px,#97ff00 220.0px,#4dff46 223.0px,#00fd56 224.0px,#00fc53 229.0px,#4eff45 230.0px,#9bff00 236.0px,#c1ff00 240.0px,#ccff00 243.0px,#bdff00 246.0px,#94ff02 249.0px,#80ff15 250.0px,#54ff3f 252.0px,#00fd56 253.0px,#00ffb9 260.0px,#00ffd2 264.0px,#00ffd0 282.0px,#00fd55 291.0px,#58ff3c 292.0px,#8aff0b 294.0px,#a2ff00 295.0px,#faff00 299.0px,#fff400 300.0px,#ffc600 304.0px,#ffb800 308.0px,#ffd100 310.0px,#f8ff00 312.0px,#9dff00 314.0px,#65ff2f 315.0px,#00fe5e 316.0px,#00fff3 320.0px,#00dfff 322.0px,#00d3ff 324.0px,#00f6ff 327.0px,#00fff0 328.0px,#00fe5e 333.0px,#54ff40 334.0px,#77ff1e 335.0px,#94ff02 336.0px,#b4ff00 338.0px,#b8ff00 339.0px,#abff00 341.0px,#8dff08 343.0px,#4cff47 346.0px,#00fd59 347.0px,#00ff6f 349.0px,#00fcff 358.0px,#00e9ff 361.0px,#00f8ff 365.0px,#00fffd 366.0px,#00ffd6 369.0px,#00fd57 376.0px,#59ff3a 377.0px,#94ff02 379.0px,#f6ff00 383.0px,#fff500 384.0px,#ffb400 389.0px,#ff9e00 393.0px,#ffb300 397.0px,#fff600 401.0px,#eeff00 402.0px,#8dff09 405.0px,#66ff2e 406.0px,#00fd56 407.0px,#00fff1 413.0px,#00f8ff 414.0px,#00bbff 418.0px,#00afff 421.0px,#00c3ff 425.0px,#00fdff 430.0px,#00ff71 439.0px,#00fc50 443.0px,#55ff3f 444.0px,#60ff34 446.0px,#59ff3b 467.0px,#4fff44 469.0px,#00fc51 470.0px,#00ff68 496.0px,#00ff92 512.0px,#00fc51 530.0px,#4cff47 531.0px,#52ff42 535.0px,#4fff45 536.0px,#00fc51 537.0px,#00ff68 542.0px,#00ffab 550.0px,#00ffb9 554.0px,#00ffab 557.0px,#00fd59 563.0px,#50ff43 564.0px,#91ff05 567.0px,#baff00 571.0px,#b4ff00 573.0px,#99ff00 575.0px,#84ff11 576.0px,#4fff44 578.0px,#00fe5c 579.0px,#00ffd6 585.0px,#00fffd 589.0px,#00ffde 593.0px,#00fc52 600.0px,#68ff2c 601.0px,#88ff0d 602.0px,#a5ff00 603.0px,#d4ff00 605.0px,#fffc00 608.0px,#fbff00 614.0px,#baff00 620.0px,#8dff08 623.0px,#57ff3d 626.0px,#00fc53 627.0px,#00ffc4 638.0px,#00ffd5 645.0px,#00ffb7 653.0px,#00fd53 668.0px,#4eff46 669.0px,#92ff03 677.0px,#abff00 685.0px,#95ff01 697.0px,#4aff48 711.0px,#00fc53 712.0px,#00ff6c 718.0px,#00ffff 730.0px,#00d4ff 735.0px,#00c8ff 739.0px,#00d3ff 741.0px,#00feff 744.0px,#00fe5c 751.0px,#51ff42 752.0px,#8aff0c 754.0px,#a0ff00 755.0px,#c3ff00 758.0px,#b1ff00 762.0px,#98ff00 764.0px,#54ff40 768.0px,#00fc53 769.0px,#00ff64 774.0px,#00fc51 780.0px,#53ff41 781.0px,#92ff04 786.0px,#cbff00 792.0px,#d8ff00 796.0px,#c6ff00 800.0px,#98ff00 804.0px,#88ff0d 805.0px,#52ff42 808.0px,#00fd56 809.0px,#00ffa9 816.0px,#00ffcc 820.0px,#00fff1 837.0px)"></div>
<div class="s" style="top:156.5px;height:70.0px;-webkit-mask-image:linear-gradient(180deg,transparent,#000 34.8px);mask-image:linear-gradient(180deg,transparent,#000 34.8px);background:linear-gradient(90deg,#960000 0.0px,#960000 22.0px,#ffd800 23.0px,#000087 24.0px,#000087 57.0px,#00009b 58.0px,#0000e8 60.0px,#000cff 61.0px,#0053ff 64.0px,#0093ff 68.0px,#00c1ff 72.0px,#00faff 79.0px,#00ffcb 83.0px,#00fe5a 89.0px,#58ff3c 90.0px,#a6ff00 92.0px,#f2ff00 94.0px,#ffed00 95.0px,#ff3200 100.0px,#ff0100 102.0px,#fd0000 113.0px,#ff2600 116.0px,#ffc700 123.0px,#fffd00 126.0px,#9eff00 131.0px,#53ff40 135.0px,#00fc53 136.0px,#00ffa4 155.0px,#00fdff 169.0px,#00dbff 176.0px,#00d2ff 181.0px,#00dbff 184.0px,#00feff 188.0px,#00fe5c 198.0px,#64ff30 200.0px,#94ff01 202.0px,#ddff00 206.0px,#fffb00 209.0px,#ffea00 213.0px,#fffd00 216.0px,#efff00 217.0px,#8eff08 221.0px,#5dff37 223.0px,#00fc50 224.0px,#00fc53 229.0px,#4dff46 230.0px,#99ff00 236.0px,#c3ff00 240.0px,#d3ff00 244.0px,#c0ff00 247.0px,#95ff01 250.0px,#80ff15 251.0px,#52ff41 253.0px,#00fd57 254.0px,#00ffaf 260.0px,#00ffcf 264.0px,#00ffce 282.0px,#00fd54 291.0px,#59ff3a 292.0px,#8bff0b 294.0px,#a2ff00 295.0px,#f7ff00 299.0px,#fff600 300.0px,#ffc800 304.0px,#ffb700 308.0px,#ffca00 310.0px,#fffa00 312.0px,#aeff00 314.0px,#79ff1c 315.0px,#00fd56 316.0px,#00ffeb 320.0px,#00f6ff 321.0px,#00ccff 324.0px,#00d8ff 326.0px,#00fdff 328.0px,#00ff66 333.0px,#00fc52 334.0px,#6dff28 335.0px,#8eff08 336.0px,#b4ff00 338.0px,#baff00 339.0px,#afff00 341.0px,#91ff05 343.0px,#64ff30 345.0px,#4dff46 346.0px,#00fd59 347.0px,#00ff6f 349.0px,#00fffe 358.0px,#00eaff 362.0px,#00ffff 366.0px,#00ffc7 370.0px,#00fd57 376.0px,#59ff3a 377.0px,#95ff01 379.0px,#f8ff00 383.0px,#fff300 384.0px,#ffb100 389.0px,#ff9c00 393.0px,#ffb400 397.0px,#fff900 401.0px,#a9ff00 404.0px,#85ff10 405.0px,#5dff36 406.0px,#00fd5a 407.0px,#00fffa 413.0px,#00bdff 417.0px,#00a4ff 421.0px,#00b8ff 425.0px,#00f5ff 430.0px,#00fffa 431.0px,#00ff64 440.0px,#00fd54 442.0px,#4fff44 443.0px,#6bff29 447.0px,#5cff38 467.0px,#51ff42 469.0px,#00fc50 470.0px,#00ff73 495.0px,#00ff9b 513.0px,#00fc51 529.0px,#4eff45 530.0px,#59ff3b 534.0px,#4eff45 537.0px,#00fc52 538.0px,#00ff66 542.0px,#00ffa9 550.0px,#00ffb6 554.0px,#00ffa6 557.0px,#00fd56 563.0px,#54ff40 564.0px,#91ff05 567.0px,#a0ff00 568.0px,#b7ff00 572.0px,#98ff00 575.0px,#50ff43 578.0px,#00fe5b 579.0px,#00ffe4 586.0px,#00fffa 588.0px,#00feff 590.0px,#00fff3 592.0px,#00ffd7 594.0px,#00fd56 600.0px,#61ff33 601.0px,#83ff12 602.0px,#a2ff00 603.0px,#ecff00 606.0px,#feff00 607.0px,#fff500 608.0px,#ffeb00 611.0px,#feff00 616.0px,#deff00 619.0px,#98ff00 624.0px,#4eff45 628.0px,#00fd57 629.0px,#00ffcb 640.0px,#00ffdd 647.0px,#00ffbd 655.0px,#00fc52 670.0px,#52ff41 671.0px,#93ff02 678.0px,#b0ff00 686.0px,#95ff01 699.0px,#4cff47 712.0px,#00fc52 713.0px,#00ff70 719.0px,#00fffa 730.0px,#00d6ff 735.0px,#00c8ff 739.0px,#00d0ff 741.0px,#00f9ff 744.0px,#00fff1 745.0px,#00ff77 750.0px,#00fc51 752.0px,#67ff2d 753.0px,#9bff00 755.0px,#c2ff00 758.0px,#bcff00 761.0px,#9aff00 764.0px,#55ff3e 768.0px,#00fc53 769.0px,#00ff64 773.0px,#00fc53 780.0px,#50ff43 781.0px,#98ff00 787.0px,#c5ff00 792.0px,#d5ff00 796.0px,#c7ff00 800.0px,#8eff07 805.0px,#5bff39 808.0px,#00fc51 809.0px,#00ffab 817.0px,#00ffca 821.0px,#00ffec 837.0px)"></div>
<div class="s" style="top:191.2px;height:70.0px;-webkit-mask-image:linear-gradient(180deg,transparent,#000 34.8px);mask-image:linear-gradient(180deg,transparent,#000 34.8px);background:linear-gradient(90deg,#960000 0.0px,#960000 22.0px,#ff0800 23.0px,#0000f6 24.0px,#000087 25.0px,#000087 58.0px,#0000a1 59.0px,#0000ed 61.0px,#000eff 62.0px,#0067ff 66.0px,#00a6ff 70.0px,#00fffb 80.0px,#00fd58 89.0px,#5bff39 90.0px,#a4ff00 92.0px,#ecff00 94.0px,#fff200 95.0px,#ff3800 100.0px,#ff0200 102.0px,#fc0000 114.0px,#ff2600 117.0px,#ffda00 125.0px,#fffd00 127.0px,#edff00 128.0px,#98ff00 132.0px,#59ff3b 135.0px,#00fc51 136.0px,#00ffff 168.0px,#00d9ff 181.0px,#00e0ff 184.0px,#00fffd 188.0px,#00fd56 199.0px,#55ff3e 200.0px,#6dff28 201.0px,#99ff00 203.0px,#dcff00 207.0px,#ffff00 210.0px,#fff000 214.0px,#f8ff00 217.0px,#a0ff00 221.0px,#59ff3b 224.0px,#00fc51 225.0px,#00fc52 229.0px,#4dff46 230.0px,#97ff00 236.0px,#ccff00 241.0px,#daff00 244.0px,#ceff00 247.0px,#95ff01 251.0px,#50ff43 254.0px,#00fd59 255.0px,#00ffb1 261.0px,#00ffce 265.0px,#00ffcc 282.0px,#00fc53 291.0px,#5bff39 292.0px,#8bff0b 294.0px,#a2ff00 295.0px,#f5ff00 299.0px,#fff800 300.0px,#ffca00 304.0px,#ffb600 308.0px,#ffc500 310.0px,#fff000 312.0px,#ebff00 313.0px,#8dff09 315.0px,#53ff41 316.0px,#00ff69 317.0px,#00fdff 321.0px,#00c7ff 324.0px,#00ccff 326.0px,#00eeff 328.0px,#00fff7 329.0px,#00fd59 334.0px,#61ff33 335.0px,#86ff10 336.0px,#a1ff00 337.0px,#bcff00 339.0px,#b3ff00 341.0px,#95ff01 343.0px,#7fff16 344.0px,#4eff45 346.0px,#00fd59 347.0px,#00fffb 358.0px,#00ebff 362.0px,#00feff 366.0px,#00ffc9 370.0px,#00fd57 376.0px,#59ff3a 377.0px,#96ff00 379.0px,#fbff00 383.0px,#fff100 384.0px,#ffae00 389.0px,#ff9a00 393.0px,#ffb500 397.0px,#fffd00 401.0px,#a3ff00 404.0px,#55ff3e 406.0px,#00fe5e 407.0px,#00fcff 413.0px,#00b3ff 417.0px,#0098ff 421.0px,#00b6ff 426.0px,#00fcff 431.0px,#00ff73 439.0px,#00fc53 442.0px,#53ff40 443.0px,#74ff20 447.0px,#61ff33 467.0px,#4dff46 470.0px,#00fc53 471.0px,#00ffa5 512.0px,#00ff97 517.0px,#00fc52 528.0px,#4fff44 529.0px,#61ff33 534.0px,#4bff48 538.0px,#00fd54 539.0px,#00ffa1 549.0px,#00ffb2 554.0px,#00ffa0 557.0px,#00fd54 563.0px,#57ff3d 564.0px,#91ff05 567.0px,#9fff00 568.0px,#b5ff00 572.0px,#97ff00 575.0px,#51ff42 578.0px,#00fd5a 579.0px,#00ffe2 586.0px,#00fffa 588.0px,#00fdff 591.0px,#00ffef 593.0px,#00ffce 595.0px,#00fe5a 600.0px,#59ff3a 601.0px,#a0ff00 603.0px,#f0ff00 606.0px,#fffb00 607.0px,#ffde00 611.0px,#fffe00 618.0px,#f6ff00 619.0px,#92ff04 626.0px,#59ff3a 629.0px,#00fc52 630.0px,#00ffc9 641.0px,#00ffe1 645.0px,#00ffe5 649.0px,#00ffc3 657.0px,#00fd55 671.0px,#4cff47 672.0px,#94ff02 679.0px,#b4ff00 687.0px,#99ff00 700.0px,#4dff46 713.0px,#00fc52 714.0px,#00ff6a 719.0px,#00fdff 731.0px,#00d8ff 735.0px,#00c8ff 739.0px,#00ceff 741.0px,#00f3ff 744.0px,#00fff8 745.0px,#00fd55 752.0px,#60ff34 753.0px,#96ff00 755.0px,#c0ff00 758.0px,#beff00 761.0px,#9cff00 764.0px,#56ff3d 768.0px,#00fc52 769.0px,#00ff64 773.0px,#00fd54 780.0px,#4dff46 781.0px,#93ff03 787.0px,#c5ff00 793.0px,#d1ff00 797.0px,#c0ff00 801.0px,#94ff02 805.0px,#85ff10 806.0px,#52ff41 809.0px,#00fd55 810.0px,#00ffc2 821.0px,#00ffe8 837.0px)"></div>
<div class="s" style="top:226.0px;height:70.0px;-webkit-mask-image:linear-gradient(180deg,transparent,#000 34.8px);mask-image:linear-gradient(180deg,transparent,#000 34.8px);background:linear-gradient(90deg,#960000 0.0px,#960000 23.0px,#00d3ff 24.0px,#000087 25.0px,#000087 59.0px,#0000f1 62.0px,#000fff 63.0px,#006cff 67.0px,#009fff 70.0px,#00f8ff 79.0px,#00ffd9 82.0px,#00fd57 89.0px,#5cff37 90.0px,#a2ff00 92.0px,#fff800 95.0px,#ffb600 97.0px,#ff3e00 100.0px,#ff0400 102.0px,#f50000 104.0px,#fc0000 115.0px,#ff2600 118.0px,#ffc400 125.0px,#fffc00 128.0px,#ecff00 129.0px,#90ff06 133.0px,#4dff46 136.0px,#00fd57 137.0px,#00ffa2 148.0px,#00fcff 168.0px,#00dfff 181.0px,#00fbff 187.0px,#00ffd4 191.0px,#00fc51 200.0px,#5fff35 201.0px,#75ff20 202.0px,#9dff00 204.0px,#e7ff00 209.0px,#fffd00 212.0px,#fff500 215.0px,#ffff00 217.0px,#f0ff00 218.0px,#98ff00 222.0px,#56ff3e 225.0px,#00fc51 226.0px,#00fc52 229.0px,#4dff46 230.0px,#96ff00 236.0px,#cfff00 241.0px,#e3ff00 245.0px,#d3ff00 248.0px,#96ff00 252.0px,#4fff44 255.0px,#00fd59 256.0px,#00ffb2 262.0px,#00ffca 265.0px,#00ffcc 281.0px,#00ffc2 283.0px,#00ff73 288.0px,#00fc52 291.0px,#5dff37 292.0px,#8cff0a 294.0px,#a2ff00 295.0px,#fffa00 300.0px,#ffcc00 304.0px,#ffb700 308.0px,#ffc000 310.0px,#f9ff00 313.0px,#9fff00 315.0px,#67ff2e 316.0px,#00fe5e 317.0px,#00fff9 321.0px,#00d4ff 323.0px,#00bfff 325.0px,#00cdff 327.0px,#00f7ff 329.0px,#00ffea 330.0px,#00fe60 334.0px,#54ff3f 335.0px,#9cff00 337.0px,#bdff00 339.0px,#beff00 340.0px,#99ff00 343.0px,#50ff44 346.0px,#00fd59 347.0px,#00fff7 358.0px,#00edff 362.0px,#00fdff 366.0px,#00ffcb 370.0px,#00fd58 376.0px,#59ff3b 377.0px,#97ff00 379.0px,#feff00 383.0px,#ffee00 384.0px,#ffab00 389.0px,#ff9800 393.0px,#ffb600 397.0px,#feff00 401.0px,#9dff00 404.0px,#4dff47 406.0px,#00ff62 407.0px,#00fff2 412.0px,#00f3ff 413.0px,#00a9ff 417.0px,#008dff 421.0px,#00abff 426.0px,#00f3ff 431.0px,#00fff9 432.0px,#00ff65 440.0px,#00fc52 442.0px,#57ff3d 443.0px,#7dff18 447.0px,#66ff2e 467.0px,#50ff43 470.0px,#00fc52 471.0px,#00ffaf 512.0px,#00ff9e 517.0px,#00fc52 527.0px,#52ff42 528.0px,#68ff2c 531.0px,#6dff28 534.0px,#53ff40 538.0px,#00fc51 539.0px,#00ffa0 549.0px,#00ffaf 553.0px,#00ff9b 557.0px,#00fc53 563.0px,#5aff3a 564.0px,#91ff05 567.0px,#9eff00 568.0px,#b3ff00 572.0px,#96ff00 575.0px,#52ff41 578.0px,#00fd59 579.0px,#00ffee 587.0px,#00fcff 589.0px,#00fdff 592.0px,#00ffd8 595.0px,#00fe61 600.0px,#4cff47 601.0px,#97ff00 603.0px,#fffc00 607.0px,#ffd700 611.0px,#ffe000 615.0px,#fbff00 620.0px,#98ff00 627.0px,#4eff45 631.0px,#00fd57 632.0px,#00ffd0 643.0px,#00ffe8 647.0px,#00ffed 651.0px,#00ffca 659.0px,#00fc53 673.0px,#51ff42 674.0px,#94ff02 680.0px,#b9ff00 688.0px,#b0ff00 695.0px,#98ff00 702.0px,#4dff46 714.0px,#00fc52 715.0px,#00ff6e 720.0px,#00fffd 731.0px,#00d4ff 736.0px,#00c9ff 739.0px,#00ccff 741.0px,#00eeff 744.0px,#00fffe 745.0px,#00fd59 752.0px,#57ff3c 753.0px,#90ff06 755.0px,#a4ff00 756.0px,#c4ff00 759.0px,#acff00 763.0px,#8fff07 765.0px,#58ff3b 768.0px,#00fc52 769.0px,#00ff64 774.0px,#00fc50 781.0px,#55ff3e 782.0px,#98ff00 788.0px,#c5ff00 794.0px,#cbff00 799.0px,#9aff00 805.0px,#4dff46 810.0px,#00fd57 811.0px,#00ffbc 822.0px,#00ffe4 837.0px)"></div>
<div class="s" style="top:260.8px;height:70.0px;-webkit-mask-image:linear-gradient(180deg,transparent,#000 34.8px);mask-image:linear-gradient(180deg,transparent,#000 34.8px);background:linear-gradient(90deg,#960000 0.0px,#960000 23.0px,#50ff43 24.0px,#000087 25.0px,#000087 26.0px,#000087 60.0px,#0000f4 63.0px,#0010ff 64.0px,#005eff 67.0px,#0099ff 70.0px,#00faff 79.0px,#00ffd5 82.0px,#00fd55 89.0px,#5eff36 90.0px,#a0ff00 92.0px,#fffd00 95.0px,#ffbe00 97.0px,#ff4500 100.0px,#ff0700 102.0px,#f40000 104.0px,#fb0000 116.0px,#ff3900 120.0px,#fffc00 129.0px,#eaff00 130.0px,#a0ff00 133.0px,#54ff3f 136.0px,#00fd56 137.0px,#00ffb3 149.0px,#00feff 167.0px,#00e6ff 181.0px,#00fffe 187.0px,#00ffd3 191.0px,#00fd56 200.0px,#53ff41 201.0px,#8fff07 204.0px,#d9ff00 209.0px,#fffd00 214.0px,#fffd00 217.0px,#d4ff00 220.0px,#91ff05 223.0px,#54ff3f 226.0px,#00fc51 227.0px,#00fc51 229.0px,#4eff45 230.0px,#95ff01 236.0px,#dbff00 242.0px,#ecff00 246.0px,#d9ff00 249.0px,#97ff00 253.0px,#4eff45 256.0px,#00fe5a 257.0px,#00ffa7 262.0px,#00ffc5 265.0px,#00ffca 281.0px,#00ffc0 283.0px,#00ff70 288.0px,#00fc51 291.0px,#5fff35 292.0px,#8dff09 294.0px,#a2ff00 295.0px,#fffb00 300.0px,#ffc600 305.0px,#ffb700 309.0px,#ffca00 311.0px,#fff900 313.0px,#afff00 315.0px,#7bff1a 316.0px,#00fd55 317.0px,#00ffef 321.0px,#00f0ff 322.0px,#00c5ff 324.0px,#00b9ff 326.0px,#00d0ff 328.0px,#00fffc 330.0px,#00ff6b 334.0px,#00fc52 335.0px,#71ff24 336.0px,#96ff00 337.0px,#bdff00 339.0px,#c1ff00 340.0px,#9dff00 343.0px,#51ff42 346.0px,#00fd59 347.0px,#00fffe 359.0px,#00eeff 363.0px,#00fcff 366.0px,#00ffcd 370.0px,#00fd58 376.0px,#59ff3b 377.0px,#98ff00 379.0px,#fffe00 383.0px,#ffb200 388.0px,#ff9700 393.0px,#ffb700 397.0px,#f9ff00 401.0px,#96ff00 404.0px,#6eff27 405.0px,#00fc53 406.0px,#00fffb 412.0px,#00a0ff 417.0px,#0082ff 421.0px,#00a0ff 426.0px,#00fcff 432.0px,#00ff66 440.0px,#00fc52 442.0px,#59ff3a 443.0px,#80ff15 446.0px,#88ff0d 448.0px,#6bff29 467.0px,#53ff41 470.0px,#00fc51 471.0px,#00ff9e 492.0px,#00ffb9 512.0px,#00ffa4 517.0px,#00fc53 526.0px,#51ff42 527.0px,#6fff26 530.0px,#79ff1b 533.0px,#6dff27 536.0px,#4fff44 539.0px,#00fd54 540.0px,#00ff97 548.0px,#00ffab 552.0px,#00ff9f 556.0px,#00fc51 563.0px,#5cff37 564.0px,#90ff05 567.0px,#b1ff00 571.0px,#a2ff00 574.0px,#95ff01 575.0px,#53ff40 578.0px,#00fd59 579.0px,#00ffcc 585.0px,#00fff9 588.0px,#00f5ff 591.0px,#00ffff 593.0px,#00ffcf 596.0px,#00fd56 601.0px,#64ff30 602.0px,#8aff0b 603.0px,#acff00 604.0px,#fffe00 607.0px,#ffd700 610.0px,#ffd100 612.0px,#ffdc00 616.0px,#ffff00 621.0px,#9bff00 628.0px,#51ff43 632.0px,#00fd56 633.0px,#00ffdc 645.0px,#00fff5 649.0px,#00fffb 653.0px,#00ffd5 661.0px,#00fc52 675.0px,#54ff3f 676.0px,#92ff04 681.0px,#b5ff00 686.0px,#beff00 690.0px,#b2ff00 697.0px,#96ff00 704.0px,#4eff45 715.0px,#00fc52 716.0px,#00ff67 720.0px,#00faff 732.0px,#00d7ff 736.0px,#00c8ff 740.0px,#00d1ff 742.0px,#00faff 745.0px,#00fe5d 752.0px,#4fff44 753.0px,#89ff0c 755.0px,#9fff00 756.0px,#c3ff00 759.0px,#aeff00 763.0px,#91ff05 765.0px,#5aff3a 768.0px,#00fc51 769.0px,#00ff64 774.0px,#00fc51 781.0px,#52ff41 782.0px,#92ff04 788.0px,#b4ff00 792.0px,#c8ff00 799.0px,#a0ff00 805.0px,#94ff01 806.0px,#5aff39 810.0px,#00fc50 811.0px,#00ffb0 822.0px,#00ffe0 837.0px)"></div>
<div class="s" style="top:295.5px;height:70.0px;-webkit-mask-image:linear-gradient(180deg,transparent,#000 34.8px);mask-image:linear-gradient(180deg,transparent,#000 34.8px);background:linear-gradient(90deg,#960000 0.0px,#960000 23.0px,#ffae00 24.0px,#000087 25.0px,#000089 61.0px,#0000f3 64.0px,#0013ff 65.0px,#0069ff 68.0px,#0094ff 70.0px,#00fdff 79.0px,#00fd54 89.0px,#60ff34 90.0px,#9fff00 92.0px,#fcff00 95.0px,#ffe700 96.0px,#ff4b00 100.0px,#ff0a00 102.0px,#f30000 104.0px,#fb0000 117.0px,#ff3800 121.0px,#fffc00 130.0px,#97ff00 134.0px,#5eff36 136.0px,#00fc53 137.0px,#00ffaf 147.0px,#00ffe1 157.0px,#00ffff 167.0px,#00edff 181.0px,#00fdff 186.0px,#00ffd1 191.0px,#00fc51 201.0px,#5bff38 202.0px,#93ff03 205.0px,#e1ff00 211.0px,#feff00 217.0px,#efff00 219.0px,#a1ff00 223.0px,#61ff33 226.0px,#4cff47 228.0px,#5fff35 232.0px,#93ff03 236.0px,#e7ff00 243.0px,#f5ff00 247.0px,#deff00 250.0px,#98ff00 254.0px,#4cff47 257.0px,#00fe5b 258.0px,#00ffa9 263.0px,#00ffc5 266.0px,#00ffc8 281.0px,#00ffbe 283.0px,#00ff6e 288.0px,#00fd59 290.0px,#4cff47 291.0px,#8eff08 294.0px,#a2ff00 295.0px,#fffd00 300.0px,#ffc700 305.0px,#ffb600 309.0px,#ffc500 311.0px,#fff000 313.0px,#ecff00 314.0px,#8fff07 316.0px,#54ff3f 317.0px,#00ff69 318.0px,#00ffe4 321.0px,#00f8ff 322.0px,#00c7ff 324.0px,#00b3ff 326.0px,#00c2ff 328.0px,#00f1ff 330.0px,#00ffed 331.0px,#00fd5a 335.0px,#64ff30 336.0px,#8dff09 337.0px,#bcff00 339.0px,#c3ff00 340.0px,#a1ff00 343.0px,#8aff0b 344.0px,#53ff41 346.0px,#00fd58 347.0px,#00fffb 359.0px,#00efff 363.0px,#00fbff 366.0px,#00ffcf 370.0px,#00fd58 376.0px,#59ff3b 377.0px,#99ff00 379.0px,#fffc00 383.0px,#ffaf00 388.0px,#ff9600 393.0px,#ffab00 396.0px,#fff000 400.0px,#f5ff00 401.0px,#8fff07 404.0px,#66ff2e 405.0px,#00fd57 406.0px,#00fbff 412.0px,#0096ff 417.0px,#0077ff 421.0px,#0095ff 426.0px,#00f4ff 432.0px,#00fff7 433.0px,#00ff68 440.0px,#00fc51 442.0px,#5bff38 443.0px,#86ff0f 446.0px,#92ff04 448.0px,#89ff0d 458.0px,#70ff25 467.0px,#4bff48 471.0px,#00fd55 472.0px,#00ffb6 492.0px,#00ffc3 512.0px,#00ffab 517.0px,#00fd56 525.0px,#4dff46 526.0px,#73ff21 529.0px,#85ff10 532.0px,#7dff18 535.0px,#55ff3e 539.0px,#00fc51 540.0px,#00ffa6 551.0px,#00ffa1 555.0px,#00fd58 562.0px,#4cff47 563.0px,#90ff06 567.0px,#aeff00 571.0px,#a0ff00 574.0px,#93ff02 575.0px,#54ff40 578.0px,#00fd58 579.0px,#00fff8 588.0px,#00f2ff 591.0px,#00f8ff 593.0px,#00fffc 594.0px,#00ffda 596.0px,#00fe5d 601.0px,#55ff3e 602.0px,#a2ff00 604.0px,#fbff00 607.0px,#fff000 608.0px,#ffce00 611.0px,#ffcb00 613.0px,#f6ff00 623.0px,#9eff00 629.0px,#53ff40 633.0px,#00fd55 634.0px,#00ffc1 643.0px,#00fff0 648.0px,#00fdff 651.0px,#00feff 658.0px,#00ffd7 664.0px,#00ff67 674.0px,#00fc50 677.0px,#59ff3b 678.0px,#75ff1f 680.0px,#9aff00 683.0px,#b8ff00 687.0px,#c2ff00 691.0px,#b6ff00 698.0px,#99ff00 705.0px,#4eff45 716.0px,#00fc52 717.0px,#00ff6c 721.0px,#00ffff 732.0px,#00d9ff 736.0px,#00c8ff 740.0px,#00ceff 742.0px,#00f4ff 745.0px,#00fff6 746.0px,#00ff61 752.0px,#00fc52 753.0px,#66ff2e 754.0px,#9bff00 756.0px,#c2ff00 759.0px,#c1ff00 761.0px,#b0ff00 763.0px,#94ff02 765.0px,#5bff38 768.0px,#00fc51 769.0px,#00ff64 773.0px,#00fc52 781.0px,#4fff44 782.0px,#97ff00 789.0px,#bfff00 795.0px,#c4ff00 800.0px,#9aff00 806.0px,#57ff3c 811.0px,#00fc51 812.0px,#00ffaa 823.0px,#00ffdd 837.0px)"></div>
<div class="s" style="top:330.3px;height:70.0px;-webkit-mask-image:linear-gradient(180deg,transparent,#000 34.8px);mask-image:linear-gradient(180deg,transparent,#000 34.8px);background:linear-gradient(90deg,#960000 0.0px,#960000 24.0px,#00c1ff 25.0px,#000087 26.0px,#000087 61.0px,#0000e7 64.0px,#0002ff 65.0px,#0078ff 70.0px,#00f9ff 79.0px,#00fc52 89.0px,#65ff2f 90.0px,#a2ff00 92.0px,#fdff00 95.0px,#ffe800 96.0px,#ff3600 101.0px,#ff0200 103.0px,#f30000 105.0px,#f90000 118.0px,#ff0300 119.0px,#ff3200 122.0px,#fffb00 131.0px,#94ff02 135.0px,#57ff3c 137.0px,#00fd56 138.0px,#00ffbe 149.0px,#00ffee 160.0px,#00feff 166.0px,#00e7ff 182.0px,#00feff 188.0px,#00ffd6 192.0px,#00fc51 202.0px,#5eff36 203.0px,#98ff00 206.0px,#e5ff00 212.0px,#ffff00 217.0px,#e8ff00 220.0px,#99ff00 224.0px,#61ff33 227.0px,#56ff3d 229.0px,#66ff2e 232.0px,#97ff00 236.0px,#f4ff00 244.0px,#ffff00 247.0px,#f8ff00 249.0px,#d6ff00 252.0px,#a0ff00 255.0px,#5aff3a 258.0px,#00fd54 259.0px,#00ff99 264.0px,#00ffb3 267.0px,#00ffc1 280.0px,#00ffb6 284.0px,#00fd58 293.0px,#50ff43 294.0px,#9bff00 297.0px,#f5ff00 301.0px,#fff700 302.0px,#ffc400 306.0px,#ffb000 310.0px,#ffc000 312.0px,#ffed00 314.0px,#eeff00 315.0px,#8eff08 317.0px,#53ff40 318.0px,#00ff6a 319.0px,#00ffe6 322.0px,#00f6ff 323.0px,#00c6ff 325.0px,#00b3ff 327.0px,#00c5ff 329.0px,#00f8ff 331.0px,#00ffe3 332.0px,#00ff6b 335.0px,#00fc51 336.0px,#78ff1d 337.0px,#9dff00 338.0px,#b5ff00 339.0px,#c3ff00 341.0px,#97ff00 344.0px,#61ff33 346.0px,#00fc52 347.0px,#00ff66 349.0px,#00fffc 359.0px,#00e3ff 364.0px,#00f6ff 368.0px,#00fffc 369.0px,#00ffdd 371.0px,#00fe5e 377.0px,#4dff46 378.0px,#91ff05 380.0px,#fffd00 384.0px,#ffad00 389.0px,#ff9300 393.0px,#ffab00 397.0px,#fff600 401.0px,#ebff00 402.0px,#a5ff00 404.0px,#7dff18 405.0px,#52ff42 406.0px,#00ff61 407.0px,#00fffc 412.0px,#0096ff 417.0px,#0074ff 421.0px,#0093ff 426.0px,#00f5ff 432.0px,#00fff4 433.0px,#00ff73 439.0px,#00fd56 441.0px,#54ff40 442.0px,#87ff0e 445.0px,#99ff00 447.0px,#95ff01 455.0px,#71ff24 466.0px,#4fff45 470.0px,#00fc53 471.0px,#00ff94 490.0px,#00ffb7 512.0px,#00ffa7 516.0px,#00fd57 524.0px,#4cff47 525.0px,#7eff17 529.0px,#8dff09 532.0px,#81ff14 535.0px,#54ff3f 539.0px,#00fc52 540.0px,#00ffa0 548.0px,#00ffb6 552.0px,#00ffaa 556.0px,#00fd58 563.0px,#4eff45 564.0px,#96ff00 568.0px,#b4ff00 572.0px,#afff00 574.0px,#99ff00 576.0px,#59ff3a 579.0px,#00fd55 580.0px,#00ffe2 588.0px,#00ffff 591.0px,#00feff 593.0px,#00ffdd 596.0px,#00fc51 602.0px,#70ff25 603.0px,#97ff00 604.0px,#f4ff00 607.0px,#fff300 608.0px,#ffcc00 611.0px,#ffc600 613.0px,#ffd600 618.0px,#fffd00 623.0px,#98ff00 630.0px,#5eff35 633.0px,#00fc50 634.0px,#00ffca 644.0px,#00fff9 649.0px,#00efff 655.0px,#00fbff 660.0px,#00ffdc 665.0px,#00fc51 678.0px,#59ff3a 679.0px,#77ff1e 681.0px,#9dff00 684.0px,#bdff00 688.0px,#c9ff00 692.0px,#bcff00 699.0px,#95ff01 707.0px,#51ff43 716.0px,#00fc51 717.0px,#00ff68 721.0px,#00fffc 732.0px,#00d3ff 737.0px,#00c7ff 741.0px,#00d2ff 743.0px,#00fdff 746.0px,#00fe5e 753.0px,#4cff47 754.0px,#9aff00 757.0px,#bcff00 760.0px,#a7ff00 764.0px,#88ff0d 766.0px,#51ff42 769.0px,#00fd55 770.0px,#00ff64 774.0px,#00fc53 781.0px,#4dff46 782.0px,#98ff00 789.0px,#bfff00 794.0px,#cbff00 800.0px,#9aff00 807.0px,#58ff3c 812.0px,#00fc51 813.0px,#00ffa2 823.0px,#00ffe8 837.0px)"></div>
<div class="s" style="top:365.1px;height:70.0px;-webkit-mask-image:linear-gradient(180deg,transparent,#000 34.8px);mask-image:linear-gradient(180deg,transparent,#000 34.8px);background:linear-gradient(90deg,#960000 0.0px,#960000 24.0px,#ff8600 25.0px,#00008d 26.0px,#000087 60.0px,#0000d2 63.0px,#0003ff 66.0px,#004eff 71.0px,#00fdff 80.0px,#00fe5d 88.0px,#4dff46 89.0px,#8eff08 91.0px,#fffb00 95.0px,#ff2f00 102.0px,#ff0500 104.0px,#f60000 106.0px,#fc0000 120.0px,#ff2800 123.0px,#ffe500 131.0px,#fff800 132.0px,#edff00 133.0px,#97ff00 136.0px,#5bff39 138.0px,#00fd55 139.0px,#00ffc2 151.0px,#00fcff 165.0px,#00dfff 175.0px,#00d4ff 184.0px,#00daff 187.0px,#00fffb 192.0px,#00fc53 203.0px,#5cff37 204.0px,#89ff0c 206.0px,#9eff00 207.0px,#dcff00 211.0px,#fffd00 215.0px,#ffff00 219.0px,#96ff00 225.0px,#6eff27 228.0px,#73ff21 231.0px,#99ff00 235.0px,#eaff00 242.0px,#fffd00 245.0px,#ffff00 250.0px,#e0ff00 253.0px,#a0ff00 257.0px,#8dff09 258.0px,#4eff45 261.0px,#00fd58 262.0px,#00ff92 268.0px,#00ffb3 281.0px,#00ffe2 290.0px,#00ffdc 292.0px,#00ffc3 294.0px,#00fd56 299.0px,#64ff30 300.0px,#8cff0a 301.0px,#afff00 302.0px,#f1ff00 304.0px,#fff200 305.0px,#ffbb00 308.0px,#ffa200 311.0px,#ffae00 313.0px,#fff500 316.0px,#e0ff00 317.0px,#afff00 318.0px,#78ff1d 319.0px,#00fd57 320.0px,#00fff4 324.0px,#00ecff 325.0px,#00c4ff 327.0px,#00bcff 329.0px,#00c8ff 330.0px,#00f9ff 332.0px,#00ffe1 333.0px,#00ff66 336.0px,#52ff42 337.0px,#80ff15 338.0px,#a4ff00 339.0px,#c4ff00 341.0px,#a7ff00 344.0px,#93ff03 345.0px,#61ff33 347.0px,#00fc51 348.0px,#00ff63 350.0px,#00ffea 358.0px,#00f7ff 360.0px,#00d0ff 364.0px,#00c9ff 367.0px,#00d2ff 369.0px,#00fff8 373.0px,#00fd59 380.0px,#5cff38 381.0px,#a2ff00 383.0px,#fbff00 386.0px,#ffed00 387.0px,#ffa100 392.0px,#ff9000 396.0px,#ffac00 399.0px,#feff00 403.0px,#b4ff00 405.0px,#8bff0b 406.0px,#5cff37 407.0px,#00fe5e 408.0px,#00fdff 413.0px,#00a0ff 417.0px,#0084ff 419.0px,#0079ff 421.0px,#007eff 423.0px,#009aff 426.0px,#00fffb 432.0px,#00ff75 438.0px,#00fd56 440.0px,#56ff3d 441.0px,#7fff16 443.0px,#9aff00 445.0px,#a4ff00 447.0px,#9cff00 453.0px,#68ff2c 465.0px,#4fff44 468.0px,#00fc52 469.0px,#00ff64 475.0px,#00ff6c 497.0px,#00ff97 511.0px,#00ff8c 515.0px,#00fc52 523.0px,#53ff40 524.0px,#7eff17 528.0px,#8fff07 532.0px,#81ff15 535.0px,#4fff44 539.0px,#00fd55 540.0px,#00ffb8 549.0px,#00ffd1 554.0px,#00ffba 558.0px,#00fd56 565.0px,#55ff3e 566.0px,#6cff29 567.0px,#94ff02 569.0px,#b9ff00 572.0px,#c2ff00 574.0px,#bbff00 576.0px,#92ff04 579.0px,#64ff30 581.0px,#00fc51 582.0px,#00ffc7 589.0px,#00ffea 593.0px,#00ffe3 595.0px,#00ffc8 597.0px,#00fd57 602.0px,#62ff32 603.0px,#8aff0c 604.0px,#adff00 605.0px,#ecff00 607.0px,#fff900 608.0px,#ffcc00 611.0px,#ffc200 613.0px,#ffd200 618.0px,#fff900 623.0px,#ebff00 625.0px,#9aff00 630.0px,#5eff35 633.0px,#00fc50 634.0px,#00ffda 645.0px,#00faff 650.0px,#00ecff 655.0px,#00fffd 661.0px,#00ffd3 666.0px,#00fc53 678.0px,#55ff3f 679.0px,#9aff00 684.0px,#c4ff00 689.0px,#d2ff00 694.0px,#c4ff00 700.0px,#96ff00 708.0px,#51ff43 716.0px,#00fc51 717.0px,#00ff67 721.0px,#00fffb 732.0px,#00f7ff 733.0px,#00d2ff 737.0px,#00c4ff 741.0px,#00d6ff 744.0px,#00fffc 747.0px,#00fd54 755.0px,#5cff38 756.0px,#9bff00 759.0px,#b0ff00 762.0px,#91ff05 766.0px,#4eff45 770.0px,#00fd56 771.0px,#00ff64 775.0px,#00fd54 781.0px,#4bff48 782.0px,#95ff01 788.0px,#d3ff00 795.0px,#d9ff00 801.0px,#a0ff00 808.0px,#94ff02 809.0px,#5aff3a 813.0px,#00fc50 814.0px,#00fff9 834.0px,#00efff 837.0px)"></div>
<div class="s" style="top:399.9px;height:70.0px;-webkit-mask-image:linear-gradient(180deg,transparent,#000 34.8px);mask-image:linear-gradient(180deg,transparent,#000 34.8px);background:linear-gradient(90deg,#960000 0.0px,#960000 25.0px,#00ff94 26.0px,#000087 27.0px,#000087 59.0px,#0000d3 63.0px,#0000fc 70.0px,#002fff 73.0px,#00fffd 81.0px,#00fe5b 88.0px,#55ff3f 89.0px,#97ff00 91.0px,#eeff00 94.0px,#fff600 95.0px,#ff2b00 103.0px,#fd0000 106.0px,#ff0100 122.0px,#ff3100 125.0px,#ffe100 132.0px,#f0ff00 134.0px,#9aff00 137.0px,#5fff35 139.0px,#00fc53 140.0px,#00ffba 151.0px,#00ffff 164.0px,#00d2ff 176.0px,#00c2ff 186.0px,#00ceff 190.0px,#00f8ff 194.0px,#00ffe7 196.0px,#00fd55 204.0px,#5bff38 205.0px,#76ff1f 206.0px,#8fff07 207.0px,#a5ff00 208.0px,#dcff00 211.0px,#fffd00 214.0px,#fff100 217.0px,#feff00 220.0px,#abff00 225.0px,#8aff0b 228.0px,#9cff00 233.0px,#fffc00 244.0px,#fff100 248.0px,#feff00 252.0px,#9fff00 259.0px,#57ff3d 263.0px,#00fc52 264.0px,#00ff7f 270.0px,#00ffad 282.0px,#00fffb 287.0px,#00f3ff 288.0px,#00dcff 290.0px,#00d6ff 292.0px,#00fff5 296.0px,#00fe60 301.0px,#58ff3c 302.0px,#88ff0e 303.0px,#b3ff00 304.0px,#fffe00 306.0px,#ffa800 310.0px,#ff9500 313.0px,#ffab00 315.0px,#fffe00 318.0px,#9cff00 320.0px,#60ff34 321.0px,#00ff62 322.0px,#00feff 326.0px,#00d0ff 328.0px,#00c2ff 330.0px,#00cbff 331.0px,#00fbff 333.0px,#00ff62 337.0px,#5aff39 338.0px,#89ff0c 339.0px,#abff00 340.0px,#c4ff00 342.0px,#a4ff00 345.0px,#90ff06 346.0px,#4fff45 349.0px,#00fd57 350.0px,#00ff6f 352.0px,#00feff 360.0px,#00bfff 365.0px,#00b0ff 369.0px,#00c3ff 372.0px,#00fffc 376.0px,#00fc51 383.0px,#70ff24 384.0px,#96ff00 385.0px,#f5ff00 388.0px,#fff100 389.0px,#ff9f00 394.0px,#ff8d00 398.0px,#ffad00 401.0px,#fff100 404.0px,#ecff00 405.0px,#9aff00 407.0px,#68ff2c 408.0px,#00fe5a 409.0px,#00ffe7 413.0px,#00f7ff 414.0px,#0099ff 418.0px,#007eff 421.0px,#0095ff 425.0px,#00fbff 431.0px,#00ff77 437.0px,#00fd56 439.0px,#58ff3b 440.0px,#95ff01 443.0px,#a1ff00 444.0px,#adff00 446.0px,#a5ff00 451.0px,#94ff02 455.0px,#60ff34 464.0px,#52ff41 466.0px,#00fc50 467.0px,#00ff64 475.0px,#00fc51 488.0px,#4dff46 489.0px,#5eff36 496.0px,#4dff46 500.0px,#00fc53 501.0px,#00ff7e 511.0px,#00fd53 521.0px,#4eff45 522.0px,#86ff10 528.0px,#91ff05 532.0px,#80ff15 535.0px,#4cff47 539.0px,#00fd57 540.0px,#00ffcb 550.0px,#00ffe4 555.0px,#00ffcc 559.0px,#00fc51 567.0px,#62ff32 568.0px,#7aff1b 569.0px,#a2ff00 571.0px,#c7ff00 574.0px,#d0ff00 576.0px,#bbff00 579.0px,#9aff00 581.0px,#84ff12 582.0px,#4fff44 584.0px,#00fe5b 585.0px,#00ffb3 590.0px,#00ffda 594.0px,#00ffd5 596.0px,#00ffbb 598.0px,#00fe60 602.0px,#4fff44 603.0px,#9eff00 605.0px,#feff00 608.0px,#ffcd00 611.0px,#ffbf00 614.0px,#ffd300 619.0px,#feff00 624.0px,#9cff00 630.0px,#5eff36 633.0px,#00fc51 634.0px,#00ffd4 644.0px,#00fbff 649.0px,#00eaff 655.0px,#00fffe 661.0px,#00ffd4 666.0px,#00fd55 678.0px,#50ff43 679.0px,#97ff00 684.0px,#ccff00 690.0px,#dbff00 695.0px,#ccff00 701.0px,#98ff00 709.0px,#53ff41 716.0px,#00fc51 717.0px,#00ff71 722.0px,#00fffa 732.0px,#00f8ff 733.0px,#00d1ff 737.0px,#00c2ff 741.0px,#00d0ff 744.0px,#00fff8 748.0px,#00fd5a 756.0px,#4eff45 757.0px,#97ff00 761.0px,#a1ff00 764.0px,#94ff02 766.0px,#7aff1b 768.0px,#5aff39 770.0px,#00fc50 771.0px,#00ff64 776.0px,#00fc51 782.0px,#56ff3e 783.0px,#9dff00 788.0px,#eeff00 796.0px,#f4ff00 799.0px,#eaff00 802.0px,#97ff00 810.0px,#55ff3e 814.0px,#00fc53 815.0px,#00ffff 833.0px,#00dcff 837.0px)"></div>
<div class="s" style="top:434.6px;height:70.0px;-webkit-mask-image:linear-gradient(180deg,transparent,#000 34.8px);mask-image:linear-gradient(180deg,transparent,#000 34.8px);background:linear-gradient(90deg,#960000 0.0px,#960000 25.0px,#c80000 26.0px,#0004ff 27.0px,#000087 28.0px,#000087 58.0px,#0000cb 62.0px,#0000b4 71.0px,#0000ed 74.0px,#000eff 75.0px,#00ccff 80.0px,#00fff8 82.0px,#00fd58 88.0px,#5dff36 89.0px,#a0ff00 91.0px,#f5ff00 94.0px,#fff200 95.0px,#ff3b00 103.0px,#ff0200 107.0px,#fc0000 123.0px,#ff2400 126.0px,#ffdd00 133.0px,#f3ff00 135.0px,#9eff00 138.0px,#62ff32 140.0px,#00fc52 141.0px,#00ffb9 152.0px,#00fbff 165.0px,#00c4ff 178.0px,#00b1ff 189.0px,#00c6ff 193.0px,#00ffff 197.0px,#00fd56 205.0px,#5dff37 206.0px,#98ff00 208.0px,#ecff00 212.0px,#fff800 214.0px,#ffea00 218.0px,#feff00 221.0px,#b3ff00 226.0px,#a2ff00 229.0px,#b8ff00 234.0px,#feff00 242.0px,#ffe900 248.0px,#fffa00 253.0px,#e5ff00 256.0px,#9cff00 261.0px,#59ff3a 265.0px,#00fc50 266.0px,#00ff98 281.0px,#00ffaf 283.0px,#00faff 287.0px,#00bfff 290.0px,#00a8ff 293.0px,#00b7ff 295.0px,#00f5ff 298.0px,#00ffea 299.0px,#00fe5c 303.0px,#67ff2d 304.0px,#9bff00 305.0px,#f4ff00 307.0px,#ffe900 308.0px,#ffa200 311.0px,#ff8600 314.0px,#ff9800 316.0px,#ffe600 319.0px,#f0ff00 320.0px,#bdff00 321.0px,#85ff10 322.0px,#00fc52 323.0px,#00ffec 327.0px,#00f4ff 328.0px,#00cfff 330.0px,#00caff 331.0px,#00cfff 332.0px,#00fcff 334.0px,#00fe5e 338.0px,#63ff31 339.0px,#92ff04 340.0px,#b1ff00 341.0px,#c3ff00 343.0px,#9dff00 346.0px,#5bff39 349.0px,#00fc51 350.0px,#00ff65 352.0px,#00fff9 360.0px,#00f4ff 361.0px,#00b0ff 366.0px,#0097ff 371.0px,#00b6ff 375.0px,#00fffc 379.0px,#00fd59 385.0px,#60ff34 386.0px,#88ff0d 387.0px,#adff00 388.0px,#efff00 390.0px,#fff400 391.0px,#ffa900 395.0px,#ff8800 399.0px,#ff9d00 402.0px,#fffe00 406.0px,#a8ff00 408.0px,#74ff21 409.0px,#00fd57 410.0px,#00ffed 414.0px,#00efff 415.0px,#00a3ff 418.0px,#0083ff 421.0px,#009bff 425.0px,#00fff6 431.0px,#00ff64 437.0px,#00fd56 438.0px,#59ff3b 439.0px,#9bff00 442.0px,#b1ff00 444.0px,#b7ff00 446.0px,#9bff00 453.0px,#4cff47 465.0px,#00fc52 466.0px,#00ff64 475.0px,#00fc52 483.0px,#4fff44 484.0px,#94ff02 492.0px,#a0ff00 496.0px,#94ff02 499.0px,#52ff42 504.0px,#00fd54 505.0px,#00ff6d 511.0px,#00fd54 519.0px,#4bff48 520.0px,#86ff0f 527.0px,#93ff03 532.0px,#7fff16 535.0px,#58ff3c 538.0px,#00fc52 539.0px,#00ff62 541.0px,#00ffda 550.0px,#00fffe 556.0px,#00fff8 558.0px,#00ffd8 561.0px,#00fd59 568.0px,#53ff40 569.0px,#9eff00 572.0px,#cdff00 575.0px,#deff00 578.0px,#c6ff00 581.0px,#8cff0a 584.0px,#55ff3e 586.0px,#00fd58 587.0px,#00ffae 592.0px,#00ffca 595.0px,#00ffbd 598.0px,#00fd57 603.0px,#64ff30 604.0px,#8cff09 605.0px,#f2ff00 608.0px,#fff300 609.0px,#ffc400 612.0px,#ffbc00 614.0px,#ffce00 619.0px,#fffb00 624.0px,#9eff00 630.0px,#5eff36 633.0px,#00fc51 634.0px,#00ffcd 643.0px,#00fdff 648.0px,#00e7ff 654.0px,#00ffff 661.0px,#00fd56 678.0px,#4eff45 679.0px,#97ff00 684.0px,#d0ff00 690.0px,#e8ff00 696.0px,#d2ff00 703.0px,#91ff05 711.0px,#4cff47 717.0px,#00fd55 718.0px,#00ff6f 722.0px,#00f9ff 733.0px,#00d1ff 737.0px,#00c0ff 741.0px,#00caff 744.0px,#00f9ff 748.0px,#00ff6e 756.0px,#00fd55 758.0px,#56ff3e 759.0px,#85ff11 762.0px,#94ff02 765.0px,#7eff17 768.0px,#55ff3f 771.0px,#00fc52 772.0px,#00ff64 777.0px,#00fc53 782.0px,#52ff42 783.0px,#91ff05 787.0px,#ccff00 791.0px,#ffff00 796.0px,#fffe00 801.0px,#e2ff00 805.0px,#92ff04 811.0px,#5cff37 814.0px,#00fc50 815.0px,#00fff7 831.0px,#00c9ff 837.0px)"></div>
<div class="s" style="top:469.4px;height:70.0px;-webkit-mask-image:linear-gradient(180deg,transparent,#000 34.8px);mask-image:linear-gradient(180deg,transparent,#000 34.8px);background:linear-gradient(90deg,#960000 0.0px,#960000 26.0px,#e7ff00 27.0px,#000087 28.0px,#000087 57.0px,#0000c9 62.0px,#0000bc 64.0px,#00008a 67.0px,#000087 72.0px,#00008a 73.0px,#0000ec 76.0px,#0017ff 77.0px,#009dff 80.0px,#00e9ff 82.0px,#00fff3 83.0px,#00ff87 86.0px,#00fd54 88.0px,#67ff2d 89.0px,#8bff0b 90.0px,#aaff00 91.0px,#fcff00 94.0px,#ffee00 95.0px,#ff4800 103.0px,#ff0e00 107.0px,#ff0100 109.0px,#fe0000 124.0px,#ff0800 126.0px,#ff2d00 128.0px,#ffd900 134.0px,#f6ff00 136.0px,#a0ff00 139.0px,#65ff2f 141.0px,#00fc50 142.0px,#00ffb0 152.0px,#00fdff 165.0px,#00b5ff 180.0px,#009fff 191.0px,#00b6ff 195.0px,#00faff 199.0px,#00fd57 206.0px,#5fff35 207.0px,#a1ff00 209.0px,#ffff00 213.0px,#ffe100 217.0px,#feff00 222.0px,#c8ff00 226.0px,#b9ff00 229.0px,#c6ff00 233.0px,#fffd00 241.0px,#ffe000 249.0px,#feff00 256.0px,#98ff00 264.0px,#51ff42 269.0px,#00fc52 270.0px,#00ff8b 281.0px,#00ffa6 283.0px,#00f5ff 287.0px,#0098ff 291.0px,#007bff 294.0px,#009aff 297.0px,#00e9ff 300.0px,#00fff1 301.0px,#00fc53 305.0px,#7fff16 306.0px,#b4ff00 307.0px,#e5ff00 308.0px,#fff100 309.0px,#ff9e00 312.0px,#ff7900 315.0px,#ff7b00 316.0px,#ff9700 318.0px,#fff100 321.0px,#deff00 322.0px,#a9ff00 323.0px,#6cff28 324.0px,#00fe5e 325.0px,#00fff8 329.0px,#00edff 330.0px,#00d2ff 332.0px,#00d4ff 333.0px,#00fdff 335.0px,#00fe5b 339.0px,#6cff28 340.0px,#9bff00 341.0px,#b7ff00 342.0px,#c4ff00 343.0px,#a8ff00 346.0px,#95ff01 347.0px,#55ff3e 350.0px,#00fd54 351.0px,#00ff6b 353.0px,#00fcff 361.0px,#0098ff 368.0px,#007eff 373.0px,#009dff 377.0px,#00fff9 382.0px,#00ff62 387.0px,#4fff44 388.0px,#a2ff00 390.0px,#e9ff00 392.0px,#fff700 393.0px,#ffa800 397.0px,#ff8500 401.0px,#ff9e00 404.0px,#ffed00 407.0px,#eaff00 408.0px,#b8ff00 409.0px,#82ff13 410.0px,#00fc53 411.0px,#00fff6 415.0px,#00e5ff 416.0px,#009aff 419.0px,#0089ff 422.0px,#00b1ff 426.0px,#00ffff 430.0px,#00fd58 437.0px,#58ff3b 438.0px,#8cff09 440.0px,#a0ff00 441.0px,#bfff00 444.0px,#abff00 450.0px,#94ff02 453.0px,#4dff46 463.0px,#00fc52 464.0px,#00ff64 475.0px,#00fd55 481.0px,#4cff47 482.0px,#9bff00 488.0px,#d4ff00 495.0px,#d1ff00 498.0px,#a1ff00 502.0px,#90ff05 503.0px,#4dff46 507.0px,#00fd54 508.0px,#00fc51 516.0px,#4fff44 517.0px,#89ff0d 526.0px,#94ff02 532.0px,#7eff17 535.0px,#54ff3f 538.0px,#00fd53 539.0px,#00ff65 541.0px,#00ffe5 550.0px,#00faff 553.0px,#00eaff 557.0px,#00fffd 561.0px,#00fc52 570.0px,#64ff30 571.0px,#9bff00 573.0px,#e2ff00 577.0px,#f0ff00 579.0px,#ecff00 581.0px,#d5ff00 583.0px,#99ff00 586.0px,#62ff32 588.0px,#00fc53 589.0px,#00ffa0 594.0px,#00ffb4 597.0px,#00ff99 600.0px,#00fe5b 603.0px,#57ff3c 604.0px,#a4ff00 606.0px,#fff900 609.0px,#ffc500 612.0px,#ffb800 614.0px,#ffc900 619.0px,#fff700 624.0px,#faff00 625.0px,#a0ff00 630.0px,#5eff36 633.0px,#00fc52 634.0px,#00ffdf 644.0px,#00f7ff 648.0px,#00e4ff 654.0px,#00ffff 661.0px,#00fd56 678.0px,#4dff46 679.0px,#97ff00 684.0px,#e2ff00 692.0px,#f4ff00 698.0px,#deff00 704.0px,#93ff03 712.0px,#52ff41 717.0px,#00fc53 718.0px,#00ff78 723.0px,#00faff 733.0px,#00d0ff 737.0px,#00bdff 741.0px,#00ccff 745.0px,#00fbff 749.0px,#00ff66 758.0px,#00fc53 760.0px,#57ff3d 761.0px,#7bff1a 764.0px,#83ff12 766.0px,#73ff22 769.0px,#4fff45 772.0px,#00fd54 773.0px,#00ff64 778.0px,#00fd56 782.0px,#4bff48 783.0px,#91ff05 787.0px,#e2ff00 792.0px,#fff900 795.0px,#ffec00 799.0px,#fbff00 804.0px,#9aff00 811.0px,#4eff45 815.0px,#00fd57 816.0px,#00fcff 831.0px,#00b8ff 837.0px)"></div>
<div class="s" style="top:504.2px;height:70.0px;-webkit-mask-image:linear-gradient(180deg,transparent,#000 34.8px);mask-image:linear-gradient(180deg,transparent,#000 34.8px);background:linear-gradient(90deg,#960000 0.0px,#960000 27.0px,#008eff 28.0px,#000087 29.0px,#000087 57.0px,#0000c4 60.0px,#0000d2 62.0px,#0000bc 64.0px,#000090 66.0px,#000087 67.0px,#000087 74.0px,#000094 75.0px,#0000de 77.0px,#0009ff 78.0px,#00e5ff 83.0px,#00fff2 84.0px,#00ff78 87.0px,#00fe5c 88.0px,#59ff3b 89.0px,#7fff16 90.0px,#a1ff00 91.0px,#f4ff00 94.0px,#fff400 95.0px,#ff5800 103.0px,#ff1200 108.0px,#ff0300 111.0px,#ff0300 126.0px,#ff2600 129.0px,#ffd200 135.0px,#fdff00 137.0px,#a5ff00 140.0px,#87ff0e 141.0px,#4dff46 143.0px,#00fe5a 144.0px,#00ffb3 153.0px,#00feff 165.0px,#00b3ff 180.0px,#0099ff 192.0px,#00b0ff 196.0px,#00f7ff 200.0px,#00ffef 201.0px,#00fd54 207.0px,#67ff2d 208.0px,#8bff0b 209.0px,#aaff00 210.0px,#f2ff00 213.0px,#fffb00 214.0px,#ffe500 218.0px,#fffd00 222.0px,#d3ff00 226.0px,#c3ff00 229.0px,#cfff00 233.0px,#fffc00 240.0px,#ffd600 249.0px,#ffdd00 253.0px,#fffd00 258.0px,#9eff00 266.0px,#51ff42 272.0px,#00fc52 273.0px,#00ff66 278.0px,#00ff8b 282.0px,#00f9ff 287.0px,#007dff 292.0px,#0060ff 295.0px,#0080ff 298.0px,#00b3ff 300.0px,#00f9ff 302.0px,#00fd59 306.0px,#76ff1f 307.0px,#afff00 308.0px,#e2ff00 309.0px,#fff100 310.0px,#ff9b00 313.0px,#ff7700 316.0px,#ff7a00 317.0px,#ff9b00 319.0px,#fffa00 322.0px,#9aff00 324.0px,#5bff39 325.0px,#00ff66 326.0px,#00ffe0 329.0px,#00fffe 330.0px,#00ebff 331.0px,#00daff 333.0px,#00f9ff 335.0px,#00ffe3 336.0px,#00ff61 339.0px,#60ff34 340.0px,#92ff04 341.0px,#b2ff00 342.0px,#c3ff00 343.0px,#c3ff00 344.0px,#97ff00 348.0px,#51ff42 352.0px,#00fd56 353.0px,#00ff6d 355.0px,#00f9ff 363.0px,#009fff 369.0px,#007dff 374.0px,#0093ff 378.0px,#00f4ff 383.0px,#00ffef 384.0px,#00fd5a 389.0px,#61ff33 390.0px,#8cff09 391.0px,#f7ff00 394.0px,#ffed00 395.0px,#ffa300 399.0px,#ff8800 403.0px,#ff9d00 405.0px,#ffef00 408.0px,#e3ff00 409.0px,#afff00 410.0px,#73ff21 411.0px,#00fe5b 412.0px,#00ffe0 415.0px,#00f6ff 416.0px,#00a2ff 419.0px,#008cff 421.0px,#00a5ff 425.0px,#00fffd 430.0px,#00ff65 436.0px,#00fd56 437.0px,#5bff39 438.0px,#8fff07 440.0px,#bbff00 443.0px,#c2ff00 445.0px,#9bff00 452.0px,#6bff29 457.0px,#4eff45 462.0px,#00fc51 463.0px,#00ff64 475.0px,#00fc52 481.0px,#55ff3e 482.0px,#94ff02 486.0px,#e3ff00 492.0px,#fdff00 497.0px,#e4ff00 500.0px,#9eff00 504.0px,#51ff42 508.0px,#00fc53 509.0px,#00fc51 516.0px,#4fff45 517.0px,#8bff0b 527.0px,#95ff01 533.0px,#7dff18 536.0px,#53ff41 539.0px,#00fd54 540.0px,#00ff67 542.0px,#00fff7 552.0px,#00e3ff 558.0px,#00fbff 562.0px,#00ffd1 565.0px,#00fd54 571.0px,#62ff32 572.0px,#9bff00 574.0px,#e3ff00 578.0px,#f4ff00 581.0px,#daff00 584.0px,#a0ff00 587.0px,#87ff0e 588.0px,#50ff44 590.0px,#00fe5a 591.0px,#00ff96 595.0px,#00ffa7 598.0px,#00ff98 600.0px,#00fe60 603.0px,#4bff48 604.0px,#98ff00 606.0px,#fdff00 609.0px,#ffeb00 610.0px,#ffbc00 613.0px,#ffb500 615.0px,#ffca00 620.0px,#fffb00 625.0px,#96ff00 631.0px,#50ff43 634.0px,#00fd58 635.0px,#00ffd0 643.0px,#00ffff 647.0px,#00e5ff 651.0px,#00e0ff 654.0px,#00feff 662.0px,#00fd55 679.0px,#50ff43 680.0px,#9aff00 685.0px,#e8ff00 693.0px,#fdff00 699.0px,#e6ff00 705.0px,#94ff02 713.0px,#4cff47 718.0px,#00fd56 719.0px,#00ff81 724.0px,#00ffff 733.0px,#00d5ff 737.0px,#00c1ff 741.0px,#00ceff 745.0px,#00f8ff 749.0px,#00fff8 750.0px,#00ff64 759.0px,#00fc53 761.0px,#53ff40 762.0px,#74ff21 765.0px,#7aff1b 767.0px,#55ff3e 772.0px,#00fc51 773.0px,#00ff64 778.0px,#00fc53 783.0px,#55ff3f 784.0px,#90ff06 787.0px,#fcff00 793.0px,#ffde00 798.0px,#fff700 804.0px,#f1ff00 806.0px,#a0ff00 811.0px,#8cff09 812.0px,#4eff45 815.0px,#00fd58 816.0px,#00fffc 830.0px,#00b6ff 837.0px)"></div>
<div class="s" style="top:538.9px;height:70.0px;-webkit-mask-image:linear-gradient(180deg,transparent,#000 34.8px);mask-image:linear-gradient(180deg,transparent,#000 34.8px);background:linear-gradient(90deg,#960000 0.0px,#960000 27.0px,#ffbc00 28.0px,#000087 29.0px,#000087 56.0px,#0000dc 60.0px,#0000e7 62.0px,#0000cd 64.0px,#000087 67.0px,#000087 75.0px,#000094 76.0px,#0007ff 79.0px,#00baff 83.0px,#00fff7 85.0px,#00ff7b 88.0px,#00fe5d 89.0px,#58ff3c 90.0px,#a2ff00 92.0px,#f7ff00 95.0px,#fff200 96.0px,#ff3b00 106.0px,#ff1000 110.0px,#ff0700 113.0px,#ff0b00 128.0px,#ff3d00 131.0px,#fff900 138.0px,#acff00 141.0px,#8dff09 142.0px,#4fff44 144.0px,#00fd5a 145.0px,#00ffb9 154.0px,#00fdff 165.0px,#00b6ff 180.0px,#009eff 192.0px,#00b3ff 196.0px,#00f5ff 200.0px,#00fff3 201.0px,#00fe5d 207.0px,#51ff42 208.0px,#93ff03 210.0px,#daff00 213.0px,#fffb00 216.0px,#ffff00 221.0px,#c2ff00 229.0px,#ccff00 233.0px,#fffb00 240.0px,#ffd500 246.0px,#ffca00 250.0px,#ffd200 254.0px,#feff00 260.0px,#9dff00 267.0px,#4fff44 273.0px,#00fc52 274.0px,#00ff65 279.0px,#00ff80 282.0px,#00ffa6 284.0px,#00fff9 287.0px,#00e9ff 288.0px,#006fff 293.0px,#0055ff 296.0px,#007aff 299.0px,#00b2ff 301.0px,#00fbff 303.0px,#00fc53 307.0px,#84ff11 308.0px,#bcff00 309.0px,#efff00 310.0px,#ffe800 311.0px,#ff9900 314.0px,#ff8300 317.0px,#ffa000 319.0px,#ffff00 322.0px,#93ff03 324.0px,#53ff41 325.0px,#00ff6d 326.0px,#00ffc1 328.0px,#00feff 330.0px,#00e2ff 332.0px,#00f3ff 334.0px,#00fff1 335.0px,#00fd56 339.0px,#74ff21 340.0px,#9fff00 341.0px,#b9ff00 342.0px,#c3ff00 344.0px,#96ff00 350.0px,#52ff41 355.0px,#00fd55 356.0px,#00ff6c 358.0px,#00f9ff 366.0px,#00afff 371.0px,#0093ff 376.0px,#00b4ff 380.0px,#00fffb 384.0px,#00fd55 390.0px,#6aff2a 391.0px,#93ff03 392.0px,#f8ff00 395.0px,#ffed00 396.0px,#ffa800 400.0px,#ff9400 404.0px,#ffaf00 406.0px,#ffe600 408.0px,#f2ff00 409.0px,#bfff00 410.0px,#87ff0e 411.0px,#00fc52 412.0px,#00fffe 416.0px,#00ddff 417.0px,#0097ff 420.0px,#008fff 422.0px,#00b1ff 426.0px,#00f9ff 430.0px,#00ff75 436.0px,#00fc53 438.0px,#61ff33 439.0px,#7aff1b 440.0px,#90ff05 441.0px,#afff00 443.0px,#bdff00 446.0px,#98ff00 453.0px,#61ff32 459.0px,#4bff48 463.0px,#00fc52 464.0px,#00ff64 475.0px,#00fc52 481.0px,#54ff3f 482.0px,#93ff03 486.0px,#e3ff00 492.0px,#fffe00 496.0px,#faff00 499.0px,#bdff00 503.0px,#94ff02 505.0px,#50ff44 508.0px,#00fd56 509.0px,#00ff67 513.0px,#00fc53 521.0px,#4dff46 522.0px,#8cff0a 530.0px,#95ff01 535.0px,#7dff18 538.0px,#50ff43 541.0px,#00fd56 542.0px,#00feff 554.0px,#00e3ff 559.0px,#00fdff 563.0px,#00ffce 566.0px,#00fc52 572.0px,#64ff30 573.0px,#9bff00 575.0px,#d1ff00 578.0px,#e8ff00 581.0px,#d4ff00 584.0px,#a0ff00 587.0px,#89ff0c 588.0px,#55ff3f 590.0px,#00fd58 591.0px,#00ff91 595.0px,#00ffa7 598.0px,#00ff9e 600.0px,#00fd57 604.0px,#61ff33 605.0px,#88ff0d 606.0px,#adff00 607.0px,#f1ff00 609.0px,#fff200 610.0px,#ffbe00 613.0px,#ffb200 616.0px,#ffca00 621.0px,#fffd00 626.0px,#92ff04 632.0px,#4cff47 635.0px,#00fd5a 636.0px,#00ffd3 644.0px,#00fcff 648.0px,#00e1ff 652.0px,#00dbff 655.0px,#00feff 664.0px,#00fc51 681.0px,#58ff3b 682.0px,#96ff00 686.0px,#e0ff00 693.0px,#fffe00 699.0px,#f3ff00 705.0px,#adff00 712.0px,#92ff04 714.0px,#54ff3f 718.0px,#00fc52 719.0px,#00ff7c 724.0px,#00fbff 734.0px,#00d7ff 738.0px,#00cbff 742.0px,#00d7ff 745.0px,#00feff 749.0px,#00ff66 759.0px,#00fd55 761.0px,#50ff44 762.0px,#71ff23 765.0px,#7aff1b 767.0px,#6fff25 770.0px,#51ff42 773.0px,#00fc52 774.0px,#00ff64 779.0px,#00fd57 783.0px,#4bff48 784.0px,#9fff00 788.0px,#fffe00 793.0px,#ffd600 798.0px,#ffdc00 801.0px,#fffb00 805.0px,#9eff00 811.0px,#5cff37 814.0px,#00fc52 815.0px,#00fffa 830.0px,#00c2ff 837.0px)"></div>
<div class="s" style="top:573.7px;height:70.0px;-webkit-mask-image:linear-gradient(180deg,transparent,#000 34.8px);mask-image:linear-gradient(180deg,transparent,#000 34.8px);background:linear-gradient(90deg,#960000 0.0px,#960000 28.0px,#00ddff 29.0px,#000087 30.0px,#000087 56.0px,#0000e0 59.0px,#0000fe 61.0px,#0000f1 63.0px,#000091 67.0px,#000087 68.0px,#000087 76.0px,#000093 77.0px,#0000db 79.0px,#0004ff 80.0px,#00b4ff 84.0px,#00fffd 86.0px,#00ff7e 89.0px,#00fe5e 90.0px,#56ff3d 91.0px,#7fff16 92.0px,#a3ff00 93.0px,#fbff00 96.0px,#fff000 97.0px,#ff4e00 106.0px,#ff1500 111.0px,#ff0b00 114.0px,#ff0b00 128.0px,#ff1800 130.0px,#ff3c00 132.0px,#ffdb00 138.0px,#f3ff00 140.0px,#93ff02 143.0px,#51ff42 145.0px,#00fd5a 146.0px,#00ffc1 155.0px,#00fcff 165.0px,#00b9ff 180.0px,#00a3ff 192.0px,#00b7ff 196.0px,#00f4ff 200.0px,#00fff6 201.0px,#00fd56 208.0px,#5eff36 209.0px,#7cff19 210.0px,#98ff00 211.0px,#d5ff00 214.0px,#f0ff00 216.0px,#f7ff00 220.0px,#c0ff00 230.0px,#cfff00 234.0px,#fff800 240.0px,#ffc900 246.0px,#ffb700 251.0px,#ffc800 256.0px,#fff700 261.0px,#fbff00 262.0px,#9dff00 268.0px,#4eff45 274.0px,#00fc52 275.0px,#00ff75 282.0px,#00ff9a 284.0px,#00f5ff 288.0px,#0074ff 293.0px,#0055ff 295.0px,#004bff 297.0px,#0074ff 300.0px,#00b1ff 302.0px,#00feff 304.0px,#00ff6f 307.0px,#52ff41 308.0px,#93ff02 309.0px,#fcff00 311.0px,#ffdf00 312.0px,#ff9800 315.0px,#ff8c00 317.0px,#ffa600 319.0px,#f9ff00 322.0px,#8bff0b 324.0px,#00fc50 325.0px,#00ffc6 328.0px,#00feff 330.0px,#00e9ff 332.0px,#00fffa 334.0px,#00ff65 338.0px,#55ff3f 339.0px,#85ff10 340.0px,#a9ff00 341.0px,#beff00 342.0px,#c1ff00 345.0px,#98ff00 352.0px,#7cff19 355.0px,#53ff40 358.0px,#00fd55 359.0px,#00ff6d 361.0px,#00fff6 368.0px,#00f6ff 369.0px,#00bfff 373.0px,#00a9ff 377.0px,#00baff 380.0px,#00fbff 384.0px,#00fc50 391.0px,#73ff22 392.0px,#99ff00 393.0px,#f9ff00 396.0px,#ffee00 397.0px,#ffae00 401.0px,#ff9d00 404.0px,#ffad00 406.0px,#fffe00 409.0px,#9bff00 411.0px,#5bff39 412.0px,#00ff68 413.0px,#00fff2 416.0px,#00e7ff 417.0px,#009bff 420.0px,#0091ff 422.0px,#00afff 426.0px,#00fff8 431.0px,#00fe5c 438.0px,#4cff47 439.0px,#91ff05 442.0px,#a1ff00 443.0px,#b9ff00 447.0px,#9cff00 453.0px,#4eff45 463.0px,#00fc51 464.0px,#00ff64 475.0px,#00fc52 481.0px,#53ff40 482.0px,#92ff04 486.0px,#e3ff00 492.0px,#fffc00 496.0px,#faff00 500.0px,#bbff00 504.0px,#90ff05 506.0px,#61ff33 508.0px,#00fc50 509.0px,#00ff75 514.0px,#00fd54 524.0px,#4cff47 525.0px,#89ff0c 532.0px,#96ff00 537.0px,#7dff18 540.0px,#4dff46 543.0px,#00fd58 544.0px,#00ffff 555.0px,#00e3ff 560.0px,#00ffff 564.0px,#00fc51 573.0px,#66ff2e 574.0px,#9bff00 576.0px,#ccff00 579.0px,#dbff00 582.0px,#cdff00 584.0px,#9fff00 587.0px,#72ff23 589.0px,#59ff3b 590.0px,#00fd55 591.0px,#00ff98 596.0px,#00ffa7 599.0px,#00ff97 601.0px,#00fe5e 604.0px,#51ff42 605.0px,#9fff00 607.0px,#fffa00 610.0px,#ffc000 613.0px,#ffae00 616.0px,#ffc300 621.0px,#ffff00 627.0px,#a4ff00 632.0px,#8fff07 633.0px,#60ff34 635.0px,#00fc51 636.0px,#00ffd5 645.0px,#00f9ff 649.0px,#00ddff 653.0px,#00d6ff 657.0px,#00feff 666.0px,#00fd55 682.0px,#50ff43 683.0px,#90ff06 687.0px,#d6ff00 693.0px,#ffff00 699.0px,#faff00 706.0px,#d4ff00 710.0px,#90ff06 715.0px,#4eff45 719.0px,#00fd56 720.0px,#00ff78 724.0px,#00faff 735.0px,#00dcff 739.0px,#00d6ff 742.0px,#00faff 748.0px,#00ff68 759.0px,#00fd56 761.0px,#4cff47 762.0px,#6eff26 765.0px,#7aff1b 768.0px,#4dff46 774.0px,#00fd54 775.0px,#00ff64 780.0px,#00fd54 784.0px,#54ff40 785.0px,#98ff00 788.0px,#fffc00 793.0px,#ffcf00 798.0px,#ffd600 801.0px,#fff800 805.0px,#f9ff00 806.0px,#9bff00 811.0px,#55ff3e 814.0px,#00fd56 815.0px,#00ff94 820.0px,#00fff8 830.0px,#00cfff 837.0px)"></div>
<div class="s" style="top:608.5px;height:70.0px;-webkit-mask-image:linear-gradient(180deg,transparent,#000 34.8px);mask-image:linear-gradient(180deg,transparent,#000 34.8px);background:linear-gradient(90deg,#960000 0.0px,#960000 28.0px,#ff9300 29.0px,#000087 30.0px,#000087 55.0px,#000092 56.0px,#0000f4 59.0px,#000bff 60.0px,#0014ff 61.0px,#0000ff 63.0px,#000087 68.0px,#000087 77.0px,#000092 78.0px,#0001ff 81.0px,#00fcff 87.0px,#00fe60 91.0px,#55ff3f 92.0px,#7fff16 93.0px,#a4ff00 94.0px,#feff00 97.0px,#ffed00 98.0px,#ff6100 106.0px,#ff1b00 112.0px,#ff0f00 115.0px,#ff0f00 129.0px,#ff1b00 131.0px,#ff3c00 133.0px,#fcff00 141.0px,#9aff00 144.0px,#53ff40 146.0px,#00fd5a 147.0px,#00ffc8 156.0px,#00fbff 165.0px,#00bcff 180.0px,#00a8ff 192.0px,#00baff 196.0px,#00f1ff 200.0px,#00fffa 201.0px,#00fc53 209.0px,#60ff34 210.0px,#94ff02 212.0px,#c8ff00 215.0px,#dcff00 217.0px,#e0ff00 220.0px,#bfff00 231.0px,#d4ff00 235.0px,#ffff00 239.0px,#fff600 240.0px,#ffb700 247.0px,#ffa200 252.0px,#ffb700 257.0px,#fffc00 263.0px,#9bff00 269.0px,#6cff28 272.0px,#4fff44 275.0px,#00fc51 276.0px,#00ff68 282.0px,#00ffa3 285.0px,#00fffa 288.0px,#00e7ff 289.0px,#0066ff 294.0px,#0049ff 296.0px,#0040ff 298.0px,#0048ff 299.0px,#0070ff 301.0px,#00fffb 305.0px,#00ff64 308.0px,#63ff31 309.0px,#a2ff00 310.0px,#fff700 312.0px,#ffa700 315.0px,#ff9600 317.0px,#ffac00 319.0px,#ffe300 321.0px,#f3ff00 322.0px,#beff00 323.0px,#84ff12 324.0px,#00fd54 325.0px,#00ffe8 329.0px,#00fffe 330.0px,#00f5ff 331.0px,#00fffd 333.0px,#00ffe5 334.0px,#00fd59 338.0px,#69ff2b 339.0px,#95ff01 340.0px,#c2ff00 342.0px,#c4ff00 344.0px,#97ff00 355.0px,#80ff15 358.0px,#53ff41 361.0px,#00fd56 362.0px,#00ff71 364.0px,#00fffa 371.0px,#00f4ff 372.0px,#00cfff 375.0px,#00bfff 378.0px,#00ceff 381.0px,#00f8ff 384.0px,#00ffdc 386.0px,#00fe5d 391.0px,#55ff3f 392.0px,#9fff00 394.0px,#f9ff00 397.0px,#ffef00 398.0px,#ffb500 402.0px,#ffa700 405.0px,#ffbe00 407.0px,#fff400 409.0px,#dfff00 410.0px,#acff00 411.0px,#70ff25 412.0px,#00fe5d 413.0px,#00ffe6 416.0px,#00f1ff 417.0px,#00a0ff 420.0px,#0093ff 422.0px,#00aeff 426.0px,#00feff 431.0px,#00fd59 439.0px,#51ff42 440.0px,#91ff05 443.0px,#9fff00 444.0px,#b4ff00 448.0px,#98ff00 454.0px,#4bff48 464.0px,#00fc52 465.0px,#00ff64 475.0px,#00fc53 481.0px,#52ff41 482.0px,#a0ff00 487.0px,#ffff00 495.0px,#fffc00 500.0px,#ddff00 503.0px,#8dff09 507.0px,#5dff37 509.0px,#00fc52 510.0px,#00ff83 516.0px,#00ff7a 520.0px,#00fd54 527.0px,#4dff46 528.0px,#86ff0f 534.0px,#96ff00 539.0px,#89ff0c 541.0px,#5dff37 544.0px,#00fc51 545.0px,#00ff66 547.0px,#00fffd 556.0px,#00e4ff 560.0px,#00f5ff 564.0px,#00fffd 565.0px,#00ffdb 567.0px,#00fe5c 573.0px,#4fff45 574.0px,#86ff10 576.0px,#9dff00 577.0px,#beff00 579.0px,#d2ff00 582.0px,#c9ff00 584.0px,#a0ff00 587.0px,#76ff1f 589.0px,#5eff36 590.0px,#00fc52 591.0px,#00ff94 596.0px,#00ffa7 599.0px,#00ff9d 601.0px,#00fd55 605.0px,#67ff2d 606.0px,#8fff06 607.0px,#f9ff00 610.0px,#ffeb00 611.0px,#ffb600 614.0px,#ffab00 617.0px,#ffc300 622.0px,#fdff00 628.0px,#a0ff00 633.0px,#5dff37 636.0px,#00fc53 637.0px,#00ffe5 647.0px,#00f6ff 650.0px,#00d9ff 654.0px,#00d0ff 658.0px,#00deff 663.0px,#00ffff 668.0px,#00fc51 684.0px,#59ff3a 685.0px,#7aff1b 687.0px,#99ff00 689.0px,#ddff00 695.0px,#fffd00 700.0px,#fffe00 707.0px,#d8ff00 711.0px,#9eff00 715.0px,#57ff3c 719.0px,#00fc52 720.0px,#00ff68 723.0px,#00ffe5 733.0px,#00faff 736.0px,#00e0ff 742.0px,#00fffb 748.0px,#00ff69 759.0px,#00fc51 762.0px,#56ff3d 763.0px,#7aff1b 768.0px,#70ff24 771.0px,#54ff3f 774.0px,#00fc50 775.0px,#00ff64 781.0px,#00fc51 785.0px,#5dff37 786.0px,#8fff07 788.0px,#fffa00 793.0px,#ffd400 796.0px,#ffc800 798.0px,#ffcf00 801.0px,#fff400 805.0px,#fcff00 806.0px,#97ff00 811.0px,#4dff46 814.0px,#00fd5a 815.0px,#00ff9b 820.0px,#00fffd 831.0px,#00dcff 837.0px)"></div>
<div class="s" style="top:643.2px;height:52.7px;-webkit-mask-image:linear-gradient(180deg,transparent,#000 34.8px);mask-image:linear-gradient(180deg,transparent,#000 34.8px);background:linear-gradient(90deg,#960000 0.0px,#960000 29.0px,#00ffd8 30.0px,#000087 31.0px,#000087 55.0px,#00009d 56.0px,#0000ea 58.0px,#000bff 59.0px,#0022ff 60.0px,#0027ff 61.0px,#0000f9 64.0px,#00008a 68.0px,#000087 69.0px,#000087 78.0px,#000091 79.0px,#0000fd 82.0px,#00f6ff 88.0px,#00ff61 92.0px,#53ff40 93.0px,#7fff16 94.0px,#a6ff00 95.0px,#fffd00 98.0px,#ff6300 107.0px,#ff2000 113.0px,#ff1400 116.0px,#ff1300 130.0px,#ff1e00 132.0px,#ff3c00 134.0px,#fff900 142.0px,#a1ff00 145.0px,#55ff3e 147.0px,#00fd5a 148.0px,#00ffc7 156.0px,#00ffff 164.0px,#00c2ff 179.0px,#00adff 192.0px,#00bdff 196.0px,#00fffd 201.0px,#00ff6c 208.0px,#00fc50 210.0px,#64ff30 211.0px,#91ff05 213.0px,#c6ff00 217.0px,#cdff00 220.0px,#beff00 232.0px,#d0ff00 235.0px,#feff00 239.0px,#fff600 240.0px,#ffa400 248.0px,#ff8d00 253.0px,#ffa800 258.0px,#fffa00 264.0px,#92ff04 270.0px,#5eff36 274.0px,#4eff45 278.0px,#00fc50 279.0px,#00fe60 283.0px,#00ff87 285.0px,#00ffff 289.0px,#0071ff 294.0px,#004aff 296.0px,#0037ff 298.0px,#0037ff 299.0px,#0053ff 301.0px,#008dff 303.0px,#00fff4 306.0px,#00fe5d 309.0px,#74ff20 310.0px,#b2ff00 311.0px,#e7ff00 312.0px,#ffed00 313.0px,#ffb800 315.0px,#ffa000 317.0px,#ffb100 319.0px,#ffe600 321.0px,#f0ff00 322.0px,#bcff00 323.0px,#83ff13 324.0px,#00fd53 325.0px,#00ffdf 329.0px,#00fff8 331.0px,#00ffe1 333.0px,#00ff63 337.0px,#52ff41 338.0px,#7eff17 339.0px,#a1ff00 340.0px,#b8ff00 341.0px,#c4ff00 343.0px,#b5ff00 351.0px,#8eff08 360.0px,#50ff43 364.0px,#00fd58 365.0px,#00fffc 374.0px,#00d7ff 379.0px,#00dbff 381.0px,#00faff 384.0px,#00ffe1 386.0px,#00fd57 392.0px,#5fff34 393.0px,#83ff12 394.0px,#a4ff00 395.0px,#f9ff00 398.0px,#fff100 399.0px,#ffc500 402.0px,#ffb200 405.0px,#ffbe00 407.0px,#ffeb00 409.0px,#eeff00 410.0px,#bcff00 411.0px,#84ff11 412.0px,#00fd54 413.0px,#00fbff 417.0px,#00a6ff 420.0px,#0095ff 422.0px,#00adff 426.0px,#00f7ff 431.0px,#00fd56 440.0px,#56ff3e 441.0px,#91ff05 444.0px,#9eff00 445.0px,#afff00 449.0px,#91ff05 455.0px,#4bff48 463.0px,#00fc53 464.0px,#00ff64 475.0px,#00fc53 481.0px,#52ff42 482.0px,#9fff00 487.0px,#e3ff00 492.0px,#fffe00 495.0px,#fff300 498.0px,#fffc00 501.0px,#eaff00 503.0px,#9cff00 507.0px,#51ff42 510.0px,#00fd58 511.0px,#00ff8a 515.0px,#00ff9a 518.0px,#00ff8e 522.0px,#00fd55 530.0px,#4cff47 531.0px,#8aff0c 537.0px,#97ff00 541.0px,#8aff0c 543.0px,#5aff39 546.0px,#00fc53 547.0px,#00ff6c 549.0px,#00fffb 557.0px,#00e4ff 561.0px,#00f7ff 565.0px,#00ffea 567.0px,#00fd59 574.0px,#54ff40 575.0px,#89ff0d 577.0px,#9eff00 578.0px,#bbff00 580.0px,#c9ff00 582.0px,#baff00 585.0px,#8eff08 588.0px,#62ff32 590.0px,#3cfe4a 591.0px,#00fe5a 592.0px,#00ff9a 597.0px,#00ffa7 600.0px,#00ff96 602.0px,#00fe5c 605.0px,#56ff3d 606.0px,#a5ff00 608.0px,#edff00 610.0px,#fff400 611.0px,#ffb900 614.0px,#ffa700 617.0px,#ffbb00 622.0px,#faff00 629.0px,#9dff00 634.0px,#59ff3a 637.0px,#00fd54 638.0px,#00feff 650.0px,#00d5ff 655.0px,#00cbff 659.0px,#00d7ff 664.0px,#00fffe 670.0px,#00fd55 685.0px,#51ff42 686.0px,#83ff12 689.0px,#a1ff00 691.0px,#dbff00 696.0px,#fffc00 701.0px,#fff300 706.0px,#ffff00 709.0px,#eaff00 711.0px,#9cff00 716.0px,#4fff44 720.0px,#00fd56 721.0px,#00ff6f 724.0px,#00ffe7 734.0px,#00fcff 737.0px,#00ebff 742.0px,#00fffc 747.0px,#00ff69 759.0px,#00fc52 762.0px,#53ff40 763.0px,#70ff24 766.0px,#7aff1b 769.0px,#51ff42 775.0px,#00fc52 776.0px,#00ff64 782.0px,#00fd56 785.0px,#52ff42 786.0px,#a1ff00 789.0px,#f1ff00 792.0px,#fff600 793.0px,#ffca00 796.0px,#ffbd00 799.0px,#ffcc00 802.0px,#fffc00 806.0px,#95ff01 811.0px,#5fff35 813.0px,#00fc52 814.0px,#00ffa1 820.0px,#00ffdd 827.0px,#00ffff 832.0px,#00e9ff 837.0px)"></div>
</div>
<div style="position:absolute;left:2285.3px;top:59.0px;width:35.0px;height:695.4px;background:linear-gradient(180deg,#960000 0.0px,#ff0000 69.7px,#fffe00 240.5px,#fdff00 242.3px,#97ff00 294.5px,#4cff47 327.7px,#00fc51 329.4px,#00ff65 348.6px,#00fffe 440.9px,#00fdff 442.7px,#0000ff 608.3px,#000087 695.4px)"></div>
<div style="position:absolute;left:143.8px;top:1851.6px;width:836.4px;height:695.5px;overflow:hidden">
<div class="s" style="top:0;height:56.4px;background:linear-gradient(90deg,#960000 0.0px,#960000 29.0px,#00ff90 30.0px,#000087 31.0px,#000087 74.0px,#0000f2 75.0px,#008eff 76.0px,#00ffd9 77.0px,#00ff69 78.0px,#74ff21 79.0px,#c1ff00 80.0px,#fffe00 81.0px,#ffba00 83.0px,#ffaa00 84.0px,#ff6f00 97.0px,#ff5b00 98.0px,#ff1400 100.0px,#e70000 101.0px,#960000 103.0px,#960000 126.1px,#dd0000 127.1px,#ff5000 128.1px,#ffb900 129.1px,#fffd00 130.1px,#c0ff00 131.1px,#84ff11 132.1px,#4fff44 133.1px,#00fe60 134.1px,#00ffc0 140.1px,#00f8ff 147.1px,#007cff 160.1px,#005fff 166.1px,#0065ff 169.1px,#007cff 171.1px,#00efff 176.1px,#00fff2 177.1px,#00ff7a 181.1px,#00fc51 183.1px,#65ff2f 184.1px,#91ff05 186.1px,#9dff00 187.1px,#95ff01 191.1px,#6cff28 194.1px,#5bff39 195.1px,#00fc51 196.1px,#00ffb6 204.1px,#00ffcf 208.1px,#00ffbc 213.1px,#00ff67 221.1px,#00fc52 224.1px,#53ff40 225.1px,#9eff00 230.1px,#e9ff00 236.1px,#ffff00 240.1px,#e7ff00 245.1px,#9fff00 250.1px,#5dff37 253.1px,#00fc53 254.1px,#00fdff 264.1px,#00b0ff 270.1px,#0094ff 275.1px,#00a9ff 281.1px,#00cbff 285.1px,#00ecff 287.1px,#00fffb 288.1px,#00fd56 293.1px,#74ff21 294.1px,#a6ff00 295.1px,#feff00 297.1px,#ffe200 298.1px,#ff9a00 301.1px,#ff8200 303.1px,#ff7f00 313.1px,#ff9100 315.2px,#fff500 320.2px,#f4ff00 321.2px,#a7ff00 324.2px,#8aff0b 325.2px,#6aff2a 326.2px,#00fc50 327.2px,#00ffbe 333.2px,#00ffeb 337.2px,#00ffff 344.2px,#00f7ff 359.2px,#00fff9 360.2px,#00ffe2 361.2px,#00fe5a 365.2px,#6dff27 366.2px,#a4ff00 367.2px,#ffff00 369.2px,#ffb400 372.2px,#ffa300 374.2px,#ffba00 382.2px,#fffb00 392.2px,#9dff00 398.2px,#5aff39 401.2px,#00fc53 402.2px,#00ffb5 410.2px,#00ffcc 415.2px,#00ffb3 423.2px,#00fc52 438.2px,#51ff42 439.2px,#84ff12 445.2px,#98ff00 449.2px,#99ff00 454.2px,#6dff27 459.2px,#56ff3e 461.2px,#00fc50 462.2px,#00ff63 468.2px,#00ff64 494.2px,#00fc51 509.2px,#4dff46 511.2px,#68ff2c 529.3px,#4cff47 534.3px,#00fd54 535.3px,#00ff67 538.3px,#00fcff 551.3px,#00d3ff 556.3px,#00c3ff 561.3px,#00ceff 564.3px,#00f5ff 568.3px,#00fffc 569.3px,#00ff7d 578.3px,#00fd54 584.3px,#4cff47 585.3px,#96ff00 591.3px,#ecff00 597.3px,#fffc00 600.3px,#f4ff00 606.3px,#b0ff00 613.3px,#95ff01 615.3px,#52ff42 619.3px,#00fd55 620.3px,#00fdff 634.3px,#00c5ff 641.3px,#00b5ff 647.3px,#00caff 652.3px,#00fcff 657.3px,#00fd55 668.3px,#59ff3b 669.3px,#8aff0c 671.3px,#a1ff00 672.3px,#fffd00 677.3px,#ffbb00 683.3px,#ffa000 689.3px,#ffb000 692.3px,#fff600 696.3px,#ebff00 697.3px,#a6ff00 699.3px,#7eff17 700.3px,#54ff40 701.3px,#00fe60 702.3px,#00ffd4 706.3px,#00faff 708.3px,#00cbff 711.3px,#00beff 714.3px,#00cfff 721.3px,#00feff 730.3px,#00ffc4 740.4px,#00fc51 755.4px,#54ff40 756.4px,#9bff00 763.4px,#c6ff00 772.4px,#b4ff00 781.4px,#96ff00 786.4px,#4fff45 794.4px,#00fc53 795.4px,#00ff93 807.4px,#00ffa6 813.4px,#00ffa2 836.4px)"></div>
<div class="s" style="top:18.6px;height:75.0px;-webkit-mask-image:linear-gradient(180deg,transparent,#000 37.3px);mask-image:linear-gradient(180deg,transparent,#000 37.3px);background:linear-gradient(90deg,#960000 0.0px,#960000 30.0px,#00fe5a 31.0px,#000087 32.0px,#000087 75.0px,#0000f0 76.0px,#008fff 77.0px,#00ffd5 78.0px,#00ff66 79.0px,#76ff1f 80.0px,#c1ff00 81.0px,#ffff00 82.0px,#ffda00 83.0px,#ffbf00 84.0px,#ffa800 86.0px,#ff8300 95.0px,#ff6b00 98.0px,#ff5400 99.0px,#ff0900 101.0px,#dc0000 102.0px,#b10000 103.0px,#960000 104.0px,#960000 127.1px,#c30000 128.1px,#ff3100 129.1px,#ff9d00 130.1px,#ffeb00 131.1px,#dfff00 132.1px,#acff00 133.1px,#7eff17 134.1px,#54ff3f 135.1px,#00fe5b 136.1px,#00ffbb 142.1px,#00feff 148.1px,#0071ff 161.1px,#0054ff 167.1px,#005cff 170.1px,#0076ff 172.1px,#00f0ff 177.1px,#00fff0 178.1px,#00fe5b 183.1px,#57ff3c 184.1px,#77ff1e 185.1px,#91ff05 186.1px,#b7ff00 189.1px,#abff00 192.1px,#92ff04 194.1px,#7fff16 195.1px,#54ff3f 197.1px,#00fd56 198.1px,#00ffc1 205.1px,#00ffe0 209.1px,#00ffca 214.1px,#00ff6b 222.1px,#00fc53 225.1px,#53ff41 226.1px,#95ff01 230.1px,#ebff00 236.1px,#fffb00 239.1px,#feff00 244.1px,#e0ff00 247.1px,#9fff00 251.1px,#5bff39 254.1px,#00fd54 255.1px,#00fff7 264.1px,#00f6ff 265.1px,#00a8ff 271.1px,#008dff 276.1px,#00a6ff 282.1px,#00ccff 286.1px,#00f1ff 288.1px,#00fff3 289.1px,#00ff66 293.1px,#52ff41 294.1px,#88ff0d 295.1px,#e6ff00 297.1px,#fff100 298.1px,#ffa100 301.1px,#ff7700 304.1px,#ff7500 313.1px,#ff9300 316.2px,#fffa00 321.2px,#9cff00 325.2px,#5bff38 327.2px,#00fd57 328.2px,#00ffba 333.2px,#00ffe4 336.2px,#00fdff 344.2px,#00f0ff 357.2px,#00fff9 360.2px,#00ffc6 362.2px,#00fe5c 365.2px,#69ff2b 366.2px,#a0ff00 367.2px,#fcff00 369.2px,#ffe300 370.2px,#ffa600 373.2px,#ffa000 375.2px,#ffba00 382.2px,#fbff00 392.2px,#91ff05 398.2px,#4dff46 401.2px,#00fd59 402.2px,#00ffbe 410.2px,#00ffd4 415.2px,#00ffbd 422.2px,#00fd54 436.2px,#4dff46 437.2px,#98ff00 445.2px,#a9ff00 451.2px,#96ff00 455.2px,#54ff40 461.2px,#00fc51 462.2px,#00fe60 467.2px,#00ff64 494.2px,#00fc51 509.2px,#4cff47 510.2px,#7eff17 529.3px,#72ff23 532.3px,#54ff3f 535.3px,#00fc52 536.3px,#00ff68 539.3px,#00fffd 550.3px,#00c9ff 556.3px,#00b8ff 561.3px,#00cdff 565.3px,#00fcff 569.3px,#00ff82 578.3px,#00fc50 586.3px,#55ff3f 587.3px,#9bff00 592.3px,#f1ff00 597.3px,#fff600 599.3px,#ffec00 603.3px,#feff00 608.3px,#d6ff00 612.3px,#90ff06 617.3px,#58ff3b 620.3px,#00fc53 621.3px,#00ff65 623.3px,#00fffe 634.3px,#00f5ff 635.3px,#00b9ff 642.3px,#00a8ff 648.3px,#00beff 653.3px,#00fffc 659.3px,#00fc51 669.3px,#63ff31 670.3px,#98ff00 672.3px,#fffd00 677.3px,#ffb400 683.3px,#ff9500 689.3px,#ff9a00 691.3px,#ffb000 693.3px,#fdff00 697.3px,#93ff03 700.3px,#68ff2d 701.3px,#00fd57 702.3px,#00fffa 708.3px,#00f0ff 709.3px,#00c8ff 712.3px,#00c2ff 715.3px,#00d3ff 722.3px,#00feff 731.3px,#00ffc7 741.4px,#00fd55 755.4px,#4bff48 756.4px,#98ff00 763.4px,#c9ff00 772.4px,#baff00 781.4px,#93ff03 787.4px,#50ff43 794.4px,#00fc52 795.4px,#00ff96 807.4px,#00ffaa 813.4px,#00ffa9 826.4px,#00ff97 836.4px)"></div>
<div class="s" style="top:55.9px;height:75.0px;-webkit-mask-image:linear-gradient(180deg,transparent,#000 37.3px);mask-image:linear-gradient(180deg,transparent,#000 37.3px);background:linear-gradient(90deg,#960000 0.0px,#960000 31.0px,#86ff0f 32.0px,#000087 33.0px,#000087 35.0px,#000087 76.0px,#0000ef 77.0px,#0090ff 78.0px,#00ffd2 79.0px,#00ff64 80.0px,#78ff1d 81.0px,#c1ff00 82.0px,#fcff00 83.0px,#ffdd00 84.0px,#ffc500 85.0px,#ffae00 87.0px,#ff7500 98.0px,#ff4c00 100.0px,#fd0000 102.0px,#a70000 104.0px,#960000 105.1px,#960000 128.1px,#ab0000 129.1px,#ff1300 130.1px,#ff7f00 131.1px,#ffd600 132.1px,#f7ff00 133.1px,#a2ff00 135.1px,#5cff38 137.1px,#00fd56 138.1px,#00ffc5 145.1px,#00f9ff 150.1px,#0066ff 162.1px,#004bff 166.1px,#0048ff 169.1px,#0053ff 171.1px,#0071ff 173.1px,#00f1ff 178.1px,#00ffed 179.1px,#00ff69 183.1px,#00fd55 184.1px,#66ff2e 185.1px,#88ff0e 186.1px,#a2ff00 187.1px,#c4ff00 189.1px,#cdff00 191.1px,#c1ff00 193.1px,#92ff03 196.1px,#7bff1a 197.1px,#61ff33 198.1px,#00fc52 199.1px,#00ffce 206.1px,#00fff2 210.1px,#00ffda 215.1px,#00ff6e 223.1px,#00fc53 226.1px,#54ff40 227.1px,#9cff00 231.1px,#fffd00 238.1px,#fff000 242.1px,#fcff00 246.1px,#a0ff00 252.1px,#8aff0c 253.1px,#58ff3b 255.1px,#00fd56 256.1px,#00fffe 265.1px,#00f0ff 266.1px,#00a1ff 272.1px,#0086ff 277.1px,#008dff 280.1px,#00adff 284.1px,#00ceff 287.1px,#00f7ff 289.1px,#00ffea 290.1px,#00fe5c 294.1px,#67ff2d 295.1px,#9dff00 296.1px,#f9ff00 298.1px,#ffe300 299.1px,#ff9400 302.1px,#ff7400 304.1px,#ff6d00 314.2px,#ff8300 316.2px,#ffff00 322.2px,#90ff06 326.2px,#4cff47 328.2px,#00fe5f 329.2px,#00ffb5 333.2px,#00ffe4 336.2px,#00fff4 338.2px,#00feff 343.2px,#00f0ff 357.2px,#00fff9 360.2px,#00ffc7 362.2px,#00fe5d 365.2px,#65ff2f 366.2px,#9cff00 367.2px,#f8ff00 369.2px,#ffe500 370.2px,#ffa500 373.2px,#ff9c00 375.2px,#ffb300 381.2px,#fffe00 391.2px,#9aff00 397.2px,#57ff3d 400.2px,#00fd55 401.2px,#00ffbd 409.2px,#00ffd5 412.2px,#00ffdc 415.2px,#00ffc1 422.2px,#00fc52 435.2px,#53ff40 436.2px,#97ff00 442.2px,#b5ff00 449.2px,#9fff00 454.2px,#96ff00 455.2px,#53ff41 461.2px,#00fc51 462.2px,#00fe5e 467.2px,#00ff64 494.2px,#00fc51 509.2px,#4dff47 510.2px,#8aff0c 524.3px,#93ff02 529.3px,#87ff0e 532.3px,#5aff3a 536.3px,#00fc50 537.3px,#00ff6c 540.3px,#00fcff 550.3px,#00c6ff 555.3px,#00aeff 560.3px,#00bcff 564.3px,#00f6ff 569.3px,#00fff9 570.3px,#00ff88 578.3px,#00fc51 587.3px,#52ff41 588.3px,#a3ff00 593.3px,#fffb00 598.3px,#ffdf00 601.3px,#ffdb00 603.3px,#fcff00 611.3px,#9aff00 618.3px,#4bff48 622.3px,#00fd59 623.3px,#00f9ff 635.3px,#00b5ff 642.3px,#009bff 649.3px,#00b2ff 654.3px,#00fcff 660.3px,#00fd59 669.3px,#53ff40 670.3px,#8cff0a 672.3px,#a5ff00 673.3px,#fffe00 677.3px,#ffad00 683.3px,#ff8a00 689.3px,#ff8f00 691.3px,#ffa300 693.3px,#fff300 697.3px,#eeff00 698.3px,#a5ff00 700.3px,#7cff19 701.3px,#50ff43 702.3px,#00ff62 703.3px,#00ffd7 707.3px,#00f9ff 709.3px,#00ceff 712.3px,#00c6ff 714.3px,#00d4ff 722.3px,#00feff 732.4px,#00ffc9 742.4px,#00fd54 756.4px,#4fff44 757.4px,#8bff0b 762.4px,#95ff01 763.4px,#c1ff00 769.4px,#d0ff00 775.4px,#c0ff00 781.4px,#98ff00 787.4px,#71ff23 791.4px,#51ff42 794.4px,#00fc52 795.4px,#00ff9a 807.4px,#00ffae 813.4px,#00ffaa 825.4px,#00ff8d 836.4px)"></div>
<div class="s" style="top:93.1px;height:75.0px;-webkit-mask-image:linear-gradient(180deg,transparent,#000 37.3px);mask-image:linear-gradient(180deg,transparent,#000 37.3px);background:linear-gradient(90deg,#960000 0.0px,#960000 32.0px,#d2ff00 33.0px,#000087 34.0px,#000087 45.0px,#000087 77.0px,#0000ee 78.0px,#0091ff 79.0px,#00ffcf 80.0px,#00ff63 81.0px,#7aff1b 82.0px,#c1ff00 83.0px,#faff00 84.0px,#ffe200 85.0px,#ffb400 88.0px,#ff7300 99.0px,#ff6100 100.0px,#ff1d00 102.0px,#f20000 103.0px,#9d0000 105.1px,#960000 106.1px,#960000 130.1px,#f50000 131.1px,#ffbf00 133.1px,#fff700 134.1px,#9dff00 137.1px,#64ff30 139.1px,#00fc51 140.1px,#00fff0 150.1px,#00f2ff 152.1px,#005bff 163.1px,#0043ff 166.1px,#003eff 170.1px,#004cff 172.1px,#006dff 174.1px,#00f4ff 179.1px,#00ffe8 180.1px,#00fe61 184.1px,#51ff42 185.1px,#9bff00 187.1px,#dbff00 190.1px,#e7ff00 192.1px,#ccff00 195.1px,#8cff0a 198.1px,#4dff46 200.1px,#00fe5e 201.1px,#00ffd0 206.1px,#00feff 209.1px,#00f1ff 212.1px,#00fffc 215.1px,#00ff64 225.1px,#00fc53 227.1px,#56ff3d 228.1px,#93ff03 231.1px,#eaff00 236.1px,#fffb00 238.1px,#ffe700 242.1px,#fffc00 247.1px,#e9ff00 249.1px,#a1ff00 253.1px,#8aff0c 254.1px,#56ff3d 256.1px,#00fd57 257.1px,#00faff 266.1px,#00a4ff 272.1px,#007fff 278.1px,#0088ff 281.1px,#00acff 285.1px,#00d1ff 288.1px,#00feff 290.1px,#00fc53 295.1px,#7cff19 296.1px,#b0ff00 297.1px,#fff500 299.1px,#ff9d00 302.1px,#ff6900 305.1px,#ff6300 314.2px,#ff8400 317.2px,#f9ff00 323.2px,#a3ff00 326.2px,#5fff35 328.2px,#00fd57 329.2px,#00ffe2 336.2px,#00fff6 338.2px,#00feff 342.2px,#00f0ff 357.2px,#00fffa 360.2px,#00ffc8 362.2px,#00fe5f 365.2px,#61ff33 366.2px,#98ff00 367.2px,#f4ff00 369.2px,#ffe800 370.2px,#ffa500 373.2px,#ff9900 375.2px,#ffab00 380.2px,#f7ff00 391.2px,#a2ff00 396.2px,#8eff08 397.2px,#60ff34 399.2px,#00fc51 400.2px,#00ffc6 409.2px,#00ffdd 412.2px,#00ffe4 415.2px,#00ffc4 422.2px,#00fc51 434.2px,#59ff3b 435.2px,#9aff00 440.2px,#c0ff00 446.2px,#afff00 452.2px,#95ff01 455.2px,#52ff41 461.2px,#00fc51 462.2px,#00fe5c 466.2px,#00ff64 494.2px,#00fc50 509.2px,#4eff45 510.2px,#95ff01 523.3px,#a4ff00 528.3px,#9bff00 532.3px,#87ff0e 534.3px,#5aff3a 537.3px,#00fc52 538.3px,#00ff64 540.3px,#00fff9 549.3px,#00bcff 555.3px,#00a3ff 560.3px,#00b4ff 564.3px,#00fdff 570.3px,#00ff8f 578.3px,#00fc52 588.3px,#52ff41 589.3px,#97ff00 593.3px,#fffe00 598.3px,#ffdb00 601.3px,#ffd200 603.3px,#ffda00 607.3px,#fffc00 612.3px,#9cff00 619.3px,#5fff35 622.3px,#00fc50 623.3px,#00ff65 625.3px,#00feff 635.3px,#00a9ff 643.3px,#008dff 650.3px,#00a6ff 655.3px,#00f5ff 661.3px,#00fff7 662.3px,#00fd55 670.3px,#5fff35 671.3px,#9aff00 673.3px,#feff00 677.3px,#ffef00 678.3px,#ff9d00 684.3px,#ff7f00 690.3px,#ffa600 694.3px,#fffe00 698.3px,#90ff06 701.3px,#64ff30 702.3px,#00fd59 703.3px,#00ffe5 708.3px,#00fffc 709.3px,#00efff 710.3px,#00cdff 713.3px,#00caff 716.3px,#00fffc 734.4px,#00ffcc 743.4px,#00fc53 757.4px,#53ff41 758.4px,#85ff10 762.4px,#9bff00 764.4px,#c2ff00 769.4px,#d5ff00 775.4px,#c0ff00 782.4px,#94ff02 788.4px,#7fff16 790.4px,#53ff40 794.4px,#00fc51 795.4px,#00ff9e 807.4px,#00ffb2 813.4px,#00ffaa 825.4px,#00ff84 836.4px)"></div>
<div class="s" style="top:130.4px;height:75.0px;-webkit-mask-image:linear-gradient(180deg,transparent,#000 37.3px);mask-image:linear-gradient(180deg,transparent,#000 37.3px);background:linear-gradient(90deg,#960000 0.0px,#960000 33.0px,#ffe900 34.0px,#000087 35.0px,#000087 78.0px,#0000ec 79.0px,#0092ff 80.0px,#00ffcc 81.0px,#00ff61 82.0px,#7dff18 83.0px,#c2ff00 84.0px,#faff00 85.0px,#ffe300 86.0px,#ffb700 89.0px,#ff7000 100.0px,#ff5b00 101.0px,#ff1300 103.0px,#e70000 104.0px,#960000 106.1px,#960000 131.1px,#da0000 132.1px,#ff4300 133.1px,#ffa500 134.1px,#ffe900 135.1px,#f2ff00 136.1px,#9dff00 139.1px,#54ff3f 142.1px,#00fd58 143.1px,#00f8ff 153.1px,#0050ff 164.1px,#0037ff 167.1px,#0033ff 170.1px,#003aff 172.1px,#0055ff 174.1px,#009bff 177.1px,#00f8ff 180.1px,#00fd59 185.1px,#63ff31 186.1px,#8dff09 187.1px,#aeff00 188.1px,#f3ff00 191.1px,#fffc00 193.1px,#e8ff00 196.1px,#a3ff00 199.1px,#83ff12 200.1px,#5fff34 201.1px,#00fd58 202.1px,#00ffea 208.1px,#00f4ff 210.1px,#00e5ff 213.1px,#00fffb 217.1px,#00ff64 226.1px,#00fc53 228.1px,#59ff3b 229.1px,#9aff00 232.1px,#e6ff00 236.1px,#fffa00 238.1px,#ffde00 243.1px,#fcff00 249.1px,#a1ff00 254.1px,#8aff0c 255.1px,#54ff3f 257.1px,#00fd58 258.1px,#00fff8 266.1px,#00f4ff 267.1px,#009cff 273.1px,#0082ff 276.1px,#0079ff 279.1px,#0084ff 282.1px,#00a0ff 285.1px,#00c3ff 288.1px,#00fff8 291.1px,#00ff64 295.1px,#58ff3b 296.1px,#91ff05 297.1px,#f3ff00 299.1px,#ffe600 300.1px,#ff8f00 303.1px,#ff5e00 306.1px,#ff5a00 314.2px,#ff7400 317.2px,#fff600 323.2px,#f1ff00 324.2px,#98ff00 327.2px,#4eff45 329.2px,#00fe5f 330.2px,#00ffe0 336.2px,#00ffff 340.2px,#00f0ff 357.2px,#00fffa 360.2px,#00ffca 362.2px,#00ff61 365.2px,#5dff37 366.2px,#94ff02 367.2px,#f1ff00 369.2px,#ffea00 370.2px,#ffa400 373.2px,#ff9600 376.2px,#ffb000 381.2px,#fdff00 390.2px,#97ff00 396.2px,#53ff40 399.2px,#00fd57 400.2px,#00ffce 409.2px,#00ffec 415.2px,#00ffcf 421.2px,#00fd57 432.2px,#4eff45 433.2px,#9bff00 438.2px,#caff00 444.2px,#bfff00 450.2px,#94ff02 455.2px,#52ff41 461.2px,#00fc51 462.2px,#00ff64 493.2px,#00fc52 508.2px,#1bfd4d 509.2px,#4fff44 510.2px,#95ff01 521.2px,#a1ff00 523.3px,#b6ff00 530.3px,#9aff00 534.3px,#56ff3e 538.3px,#00fd55 539.3px,#00ff6d 541.3px,#00fffe 549.3px,#00b1ff 555.3px,#0098ff 560.3px,#00abff 564.3px,#00f4ff 570.3px,#00fffb 571.3px,#00ff91 579.3px,#00fc51 589.3px,#55ff3f 590.3px,#a2ff00 594.3px,#fbff00 598.3px,#fff300 599.3px,#ffd100 602.3px,#ffca00 605.3px,#ffd800 609.3px,#fdff00 614.3px,#9eff00 620.3px,#5fff35 623.3px,#00fc51 624.3px,#00ff67 626.3px,#00fffa 635.3px,#00f6ff 636.3px,#009eff 644.3px,#0080ff 651.3px,#009aff 656.3px,#00fffc 663.3px,#00fe5f 670.3px,#4bff48 671.3px,#8cff09 673.3px,#f9ff00 677.3px,#fff000 678.3px,#ff9600 684.3px,#ff7c00 687.3px,#ff7400 690.3px,#ff9900 694.3px,#fff000 698.3px,#efff00 699.3px,#a3ff00 701.3px,#4bff48 703.3px,#00ff64 704.3px,#00ffd9 708.3px,#00f8ff 710.3px,#00d3ff 713.3px,#00ceff 715.3px,#00d9ff 723.3px,#00fffd 735.4px,#00ffcf 744.4px,#00fc51 758.4px,#57ff3d 759.4px,#8cff0a 763.4px,#97ff00 764.4px,#c9ff00 770.4px,#daff00 776.4px,#c6ff00 782.4px,#99ff00 788.4px,#78ff1d 791.4px,#55ff3f 794.4px,#00fc51 795.4px,#00ffa1 807.4px,#00ffb6 813.4px,#00ffaa 825.4px,#00ff7f 836.4px)"></div>
<div class="s" style="top:167.7px;height:75.0px;-webkit-mask-image:linear-gradient(180deg,transparent,#000 37.3px);mask-image:linear-gradient(180deg,transparent,#000 37.3px);background:linear-gradient(90deg,#960000 0.0px,#960000 34.0px,#ffb000 35.0px,#000087 36.0px,#000087 79.0px,#0000ea 80.0px,#0093ff 81.0px,#00ffc9 82.0px,#00fe60 83.0px,#80ff16 84.0px,#c4ff00 85.0px,#faff00 86.0px,#ffe400 87.0px,#ffba00 90.0px,#ff7900 100.0px,#ff5400 102.0px,#ff0900 104.0px,#dc0000 105.1px,#b10000 106.1px,#960000 107.1px,#960000 132.1px,#c10000 133.1px,#ff2500 134.1px,#ff8900 135.1px,#ffd700 136.1px,#fffd00 137.1px,#9bff00 141.1px,#59ff3a 144.1px,#00fd56 145.1px,#00ffff 154.1px,#0052ff 164.1px,#0031ff 167.1px,#0028ff 169.1px,#002bff 172.1px,#0050ff 175.1px,#009bff 178.1px,#00fbff 181.1px,#00ff6d 185.1px,#00fd53 186.1px,#72ff23 187.1px,#9cff00 188.1px,#dbff00 190.1px,#fff900 192.1px,#ffeb00 194.1px,#fffe00 197.1px,#d4ff00 199.1px,#97ff00 201.1px,#70ff25 202.1px,#00fc52 203.1px,#00ffd9 208.1px,#00f9ff 210.1px,#00e0ff 212.1px,#00daff 214.1px,#00fff6 219.1px,#00ff65 227.1px,#00fc52 229.1px,#5cff38 230.1px,#a1ff00 233.1px,#fffd00 238.1px,#ffe100 241.1px,#ffd900 244.1px,#fdff00 250.1px,#9eff00 255.1px,#4eff45 258.1px,#00fe5c 259.1px,#00feff 267.1px,#0094ff 274.1px,#007bff 277.1px,#0072ff 280.1px,#007fff 283.1px,#009fff 286.1px,#00c6ff 289.1px,#00f2ff 291.1px,#00ffef 292.1px,#00fe5b 296.1px,#6dff27 297.1px,#a5ff00 298.1px,#fff900 300.1px,#ff9a00 303.1px,#ff5d00 306.1px,#ff5100 308.1px,#ff5100 314.2px,#ff6400 317.2px,#fffb00 324.2px,#acff00 327.2px,#8aff0c 328.2px,#63ff31 329.2px,#00fd56 330.2px,#00ffcb 335.2px,#00ffff 339.2px,#00f0ff 357.2px,#00fffb 360.2px,#00ffcb 362.2px,#00ff62 365.2px,#59ff3b 366.2px,#90ff06 367.2px,#edff00 369.2px,#ffec00 370.2px,#ffa400 373.2px,#ff9200 376.2px,#ffa500 380.2px,#fffc00 389.2px,#9fff00 395.2px,#5bff38 398.2px,#00fc53 399.2px,#00ffdc 409.2px,#00fff7 413.2px,#00fff8 416.2px,#00ffcc 422.2px,#00fd57 431.2px,#4fff44 432.2px,#87ff0e 435.2px,#98ff00 436.2px,#c6ff00 440.2px,#daff00 444.2px,#ceff00 448.2px,#9cff00 454.2px,#53ff41 461.2px,#00fc50 462.2px,#00ff64 493.2px,#00fc51 508.2px,#4cff47 509.2px,#64ff30 514.2px,#97ff00 520.2px,#baff00 525.3px,#c7ff00 530.3px,#9eff00 535.3px,#8dff08 536.3px,#4dff46 539.3px,#00fd5a 540.3px,#00faff 549.3px,#00a7ff 555.3px,#008eff 560.3px,#00a2ff 564.3px,#00fff6 572.3px,#00ff9b 579.3px,#00fc50 590.3px,#59ff3b 591.3px,#99ff00 594.3px,#f8ff00 598.3px,#fff300 599.3px,#ffca00 602.3px,#ffbb00 605.3px,#ffcd00 610.3px,#fff800 615.3px,#eaff00 617.3px,#90ff06 622.3px,#4bff48 625.3px,#00fe5b 626.3px,#00feff 636.3px,#0092ff 645.3px,#0073ff 652.3px,#007cff 655.3px,#0099ff 658.3px,#00feff 664.3px,#00fe5a 671.3px,#58ff3b 672.3px,#9dff00 674.3px,#f3ff00 677.3px,#fff400 678.3px,#ff9000 684.3px,#ff7300 687.3px,#ff6900 690.3px,#ff7200 692.3px,#ff8b00 694.3px,#fffd00 699.3px,#b5ff00 701.3px,#8dff09 702.3px,#5fff34 703.3px,#00fe5b 704.3px,#00ffe6 709.3px,#00fffc 710.3px,#00f0ff 711.3px,#00d3ff 714.3px,#00d3ff 717.3px,#00fff6 739.4px,#00ffcc 746.4px,#00fd57 758.4px,#4bff48 759.4px,#92ff03 764.4px,#cbff00 770.4px,#e1ff00 776.4px,#ceff00 782.4px,#95ff01 789.4px,#89ff0d 790.4px,#57ff3c 794.4px,#00fc50 795.4px,#00ffa5 807.4px,#00ffba 813.4px,#00ffab 825.4px,#00ff79 836.4px)"></div>
<div class="s" style="top:204.9px;height:75.0px;-webkit-mask-image:linear-gradient(180deg,transparent,#000 37.3px);mask-image:linear-gradient(180deg,transparent,#000 37.3px);background:linear-gradient(90deg,#960000 0.0px,#960000 35.0px,#ff7600 36.0px,#000087 37.0px,#000087 80.0px,#0000e8 81.0px,#0094ff 82.0px,#00ffc6 83.0px,#00fe5e 84.0px,#83ff13 85.0px,#c6ff00 86.0px,#fbff00 87.0px,#ffe500 88.0px,#ffbc00 91.0px,#ff7700 101.0px,#ff4d00 103.0px,#fd0000 105.1px,#a70000 107.1px,#960000 108.1px,#960000 133.1px,#aa0000 134.1px,#ff0900 135.1px,#ffc200 137.1px,#fff300 138.1px,#efff00 139.1px,#9bff00 143.1px,#5eff36 146.1px,#00fd54 147.1px,#00ff73 149.1px,#00fff7 155.1px,#00f4ff 156.1px,#0039ff 166.1px,#001fff 169.1px,#001eff 172.1px,#002bff 174.1px,#004cff 176.1px,#009aff 179.1px,#00feff 182.1px,#00ff65 186.1px,#4fff44 187.1px,#7fff16 188.1px,#a9ff00 189.1px,#ebff00 191.1px,#fffb00 192.1px,#ffe000 194.1px,#ffda00 196.1px,#fffb00 199.1px,#a8ff00 202.1px,#80ff15 203.1px,#54ff40 204.1px,#00ff61 205.1px,#00ffdd 209.1px,#00fff7 210.1px,#00f1ff 211.1px,#00d5ff 213.1px,#00ceff 215.1px,#00d9ff 217.1px,#00fffe 220.1px,#00ff76 227.1px,#00fc51 230.1px,#60ff34 231.1px,#91ff05 233.1px,#faff00 238.1px,#fff600 239.1px,#ffd400 244.1px,#ffdd00 247.1px,#fcff00 251.1px,#99ff00 256.1px,#63ff31 258.1px,#00fc52 259.1px,#00ff72 261.1px,#00fff4 267.1px,#00f7ff 268.1px,#008dff 275.1px,#0074ff 278.1px,#006bff 281.1px,#007bff 284.1px,#009eff 287.1px,#00c9ff 290.1px,#00f9ff 292.1px,#00ffe5 293.1px,#00fc51 297.1px,#83ff13 298.1px,#b8ff00 299.1px,#eaff00 300.1px,#ffea00 301.1px,#ff8c00 304.1px,#ff5200 307.1px,#ff4700 315.2px,#ff6500 318.2px,#feff00 325.2px,#a0ff00 328.2px,#52ff41 330.2px,#00fe5f 331.2px,#00ffd9 336.2px,#00fdff 339.2px,#00f0ff 357.2px,#00fffb 360.2px,#00ffcc 362.2px,#00ff64 365.2px,#55ff3f 366.2px,#8bff0a 367.2px,#eaff00 369.2px,#ffef00 370.2px,#ffa400 373.2px,#ff8e00 376.2px,#ffa200 380.2px,#fdff00 389.2px,#93ff03 395.2px,#4cff47 398.2px,#00fe5a 399.2px,#00ffd3 407.2px,#00fdff 412.2px,#00fdff 417.2px,#00fff3 419.2px,#00ffc3 423.2px,#00fd57 430.2px,#52ff41 431.2px,#93ff03 434.2px,#d9ff00 439.2px,#eaff00 443.2px,#d5ff00 448.2px,#92ff04 455.2px,#4dff46 462.2px,#00fc52 463.2px,#00ff64 493.2px,#00fc51 508.2px,#4dff46 509.2px,#67ff2d 514.2px,#96ff00 519.2px,#c7ff00 525.3px,#d8ff00 530.3px,#c7ff00 533.3px,#9eff00 536.3px,#8aff0b 537.3px,#5bff39 539.3px,#00fd55 540.3px,#00ff74 542.3px,#00fff5 548.3px,#00f5ff 549.3px,#009cff 555.3px,#0083ff 560.3px,#00a2ff 565.3px,#00feff 572.3px,#00ffa5 579.3px,#00fd56 590.3px,#4cff47 591.3px,#8cff0a 594.3px,#a5ff00 595.3px,#f3ff00 598.3px,#fff500 599.3px,#ffb900 603.3px,#ffad00 606.3px,#ffc000 611.3px,#fffa00 617.3px,#97ff00 623.3px,#4fff44 626.3px,#00fd5a 627.3px,#00f8ff 637.3px,#0087ff 646.3px,#0065ff 653.3px,#006fff 656.3px,#008eff 659.3px,#00fbff 665.3px,#00fd54 672.3px,#67ff2d 673.3px,#8cff0a 674.3px,#adff00 675.3px,#fff800 678.3px,#ff8b00 684.3px,#ff6a00 687.3px,#ff5e00 690.3px,#ff6600 692.3px,#ff7e00 694.3px,#ffef00 699.3px,#eeff00 700.3px,#a0ff00 702.3px,#74ff21 703.3px,#00fc52 704.3px,#00ffdb 709.3px,#00f9ff 711.3px,#00dfff 713.3px,#00d7ff 716.3px,#00fff9 741.4px,#00ffc9 748.4px,#00fd56 759.4px,#4eff45 760.4px,#99ff00 765.4px,#d3ff00 771.4px,#e7ff00 777.4px,#d0ff00 783.4px,#8fff07 790.4px,#4dff46 795.4px,#00fd55 796.4px,#00ffa9 807.4px,#00ffbd 813.4px,#00ffac 825.4px,#00ff74 836.4px)"></div>
<div class="s" style="top:242.2px;height:75.0px;-webkit-mask-image:linear-gradient(180deg,transparent,#000 37.3px);mask-image:linear-gradient(180deg,transparent,#000 37.3px);background:linear-gradient(90deg,#960000 0.0px,#960000 36.0px,#ff3c00 37.0px,#000087 38.0px,#000087 81.0px,#0000e6 82.0px,#0094ff 83.0px,#00ffc3 84.0px,#00fe5d 85.0px,#86ff10 86.0px,#fbff00 88.0px,#ffe600 89.0px,#ffbe00 92.0px,#ff7500 102.0px,#ff6300 103.0px,#ff1f00 105.1px,#f30000 106.1px,#9d0000 108.1px,#960000 109.1px,#970000 135.1px,#ed0000 136.1px,#ff5000 137.1px,#ffaa00 138.1px,#ffe700 139.1px,#fbff00 140.1px,#cbff00 142.1px,#9bff00 145.1px,#62ff32 148.1px,#00fc52 149.1px,#00ff72 151.1px,#00fbff 157.1px,#003cff 166.1px,#0020ff 168.1px,#0013ff 170.1px,#0014ff 173.1px,#0034ff 176.1px,#007aff 179.1px,#00feff 183.1px,#00ff63 187.1px,#54ff40 188.1px,#84ff11 189.1px,#aeff00 190.1px,#f2ff00 192.1px,#fff400 193.1px,#ffd800 195.1px,#ffd000 197.1px,#f8ff00 201.1px,#8bff0b 204.1px,#5cff38 205.1px,#00fe5f 206.1px,#00ffff 211.1px,#00e9ff 212.1px,#00cbff 214.1px,#00c3ff 216.1px,#00cfff 218.1px,#00f8ff 221.1px,#00ff76 228.1px,#00fe5a 230.1px,#4cff47 231.1px,#98ff00 234.1px,#fffc00 239.1px,#ffdb00 242.1px,#ffd000 245.1px,#ffdb00 248.1px,#fbff00 252.1px,#94ff02 257.1px,#5cff38 259.1px,#00fd56 260.1px,#00fffc 268.1px,#00efff 269.1px,#0085ff 276.1px,#006cff 279.1px,#0065ff 282.1px,#0078ff 285.1px,#009dff 288.1px,#00cdff 291.1px,#00fffd 293.1px,#00ff63 297.1px,#5dff37 298.1px,#98ff00 299.1px,#feff00 301.1px,#ffdb00 302.1px,#ff7e00 305.1px,#ff4600 308.1px,#ff3e00 315.2px,#ff5500 318.2px,#fff100 325.2px,#f6ff00 326.2px,#93ff03 329.2px,#6aff2b 330.2px,#00fd55 331.2px,#00ffd3 336.2px,#00fdff 339.2px,#00f0ff 357.2px,#00fffb 360.2px,#00ffcd 362.2px,#00ff66 365.2px,#51ff42 366.2px,#87ff0e 367.2px,#e6ff00 369.2px,#fff100 370.2px,#ffa500 373.2px,#ff8a00 376.2px,#ff9f00 380.2px,#fffb00 388.2px,#e6ff00 390.2px,#9dff00 394.2px,#57ff3c 397.2px,#00fd55 398.2px,#00ffdd 407.2px,#00faff 411.2px,#00edff 415.2px,#00fff9 419.2px,#00ffd0 422.2px,#00fd56 429.2px,#58ff3c 430.2px,#8aff0b 432.2px,#a0ff00 433.2px,#e2ff00 437.2px,#fbff00 441.2px,#e9ff00 446.2px,#9dff00 454.2px,#50ff44 462.2px,#00fc50 463.2px,#00fd54 480.2px,#00ff64 492.2px,#00fc50 508.2px,#4fff45 509.2px,#6aff2a 514.2px,#94ff02 518.2px,#daff00 525.3px,#efff00 530.3px,#deff00 533.3px,#9fff00 537.3px,#88ff0e 538.3px,#51ff43 540.3px,#00fe5b 541.3px,#00fff8 548.3px,#00f1ff 549.3px,#009dff 554.3px,#0079ff 559.3px,#0090ff 564.3px,#00fffa 573.3px,#00ffb0 579.3px,#00fc51 592.3px,#5dff37 593.3px,#92ff03 595.3px,#fffc00 599.3px,#ffb500 603.3px,#ff9e00 606.3px,#ffb400 612.3px,#feff00 619.3px,#9bff00 624.3px,#4fff44 627.3px,#00fe5a 628.3px,#00feff 637.3px,#0081ff 646.3px,#0060ff 650.3px,#0053ff 654.3px,#005cff 657.3px,#007eff 660.3px,#00f4ff 666.3px,#00fff0 667.3px,#00ff62 672.3px,#4cff47 673.3px,#9bff00 675.3px,#ffff00 678.3px,#ffe800 679.3px,#ff7800 685.3px,#ff5300 690.3px,#ff5a00 692.3px,#ff7100 694.3px,#ffad00 697.3px,#fffe00 700.3px,#b2ff00 702.3px,#88ff0d 703.3px,#5aff39 704.3px,#00fe5e 705.3px,#00ffe8 710.3px,#00fffc 711.3px,#00f2ff 712.3px,#00dbff 715.3px,#00dcff 719.3px,#00ffff 742.4px,#00ffcf 749.4px,#00fd55 760.4px,#52ff41 761.4px,#93ff03 765.4px,#d5ff00 771.4px,#eeff00 777.4px,#d8ff00 783.4px,#95ff01 790.4px,#4fff44 795.4px,#00fd55 796.4px,#00ffa7 806.4px,#00ffc1 813.4px,#00ffac 825.4px,#00ff6e 836.4px)"></div>
<div class="s" style="top:279.4px;height:75.0px;-webkit-mask-image:linear-gradient(180deg,transparent,#000 37.3px);mask-image:linear-gradient(180deg,transparent,#000 37.3px);background:linear-gradient(90deg,#960000 0.0px,#960000 37.0px,#ff0100 38.0px,#000087 39.0px,#000087 82.0px,#0000e5 83.0px,#0096ff 84.0px,#00ffbf 85.0px,#00fe5c 86.0px,#86ff10 87.0px,#f5ff00 89.0px,#ffed00 90.0px,#ffc500 93.0px,#ff9300 100.0px,#ff7200 103.0px,#ff5c00 104.0px,#ff1400 106.1px,#e70000 107.1px,#960000 109.1px,#960000 136.1px,#d40000 137.1px,#ff3300 138.1px,#ff9000 139.1px,#ffd700 140.1px,#fff900 141.1px,#c5ff00 144.1px,#9cff00 147.1px,#7bff1a 149.1px,#4cff47 151.1px,#00fe5d 152.1px,#00fff9 158.1px,#00edff 159.1px,#005aff 165.1px,#001fff 168.1px,#000bff 170.1px,#0009ff 173.1px,#0011ff 175.1px,#0043ff 178.1px,#0097ff 181.1px,#00ffff 184.1px,#00ff61 188.1px,#59ff3a 189.1px,#8bff0b 190.1px,#faff00 193.1px,#ffed00 194.1px,#ffcf00 196.1px,#ffc400 198.1px,#ffd300 200.1px,#fff800 202.1px,#e7ff00 203.1px,#98ff00 205.1px,#66ff2f 206.1px,#00fe5b 207.1px,#00ffe7 211.1px,#00f9ff 212.1px,#00c1ff 215.1px,#00b9ff 217.1px,#00c6ff 219.1px,#00fff9 223.1px,#00ff75 229.1px,#00fd59 231.1px,#50ff43 232.1px,#9fff00 235.1px,#fbff00 239.1px,#fff400 240.1px,#ffcb00 245.1px,#ffd300 248.1px,#fff700 252.1px,#f9ff00 253.1px,#a6ff00 257.1px,#8dff09 258.1px,#53ff40 260.1px,#00fe5a 261.1px,#00f8ff 269.1px,#0086ff 276.1px,#0068ff 279.1px,#005bff 282.1px,#0060ff 284.1px,#007fff 287.1px,#00bdff 291.1px,#00edff 293.1px,#00fff2 294.1px,#00fd58 298.1px,#75ff20 299.1px,#adff00 300.1px,#e1ff00 301.1px,#ffef00 302.1px,#ff8a00 305.1px,#ff4700 308.1px,#ff3500 310.1px,#ff3500 316.2px,#ff5600 319.2px,#fff600 326.2px,#eeff00 327.2px,#aaff00 329.2px,#83ff12 330.2px,#58ff3c 331.2px,#00fe5e 332.2px,#00ffcc 336.2px,#00fcff 339.2px,#00f3ff 341.2px,#00f0ff 357.2px,#00fffc 360.2px,#00ffce 362.2px,#00ff69 365.2px,#4dff46 366.2px,#83ff12 367.2px,#b5ff00 368.2px,#e2ff00 369.2px,#fff400 370.2px,#ffa500 373.2px,#ff8600 376.2px,#ff9c00 380.2px,#feff00 388.2px,#94ff02 394.2px,#4cff47 397.2px,#00fe5a 398.2px,#00ffd7 406.2px,#00fbff 410.2px,#00e8ff 415.2px,#00fffb 419.2px,#00fd56 428.2px,#5bff38 429.2px,#94ff02 431.2px,#e3ff00 435.2px,#fffc00 438.2px,#f8ff00 444.2px,#9bff00 454.2px,#67ff2d 459.2px,#4eff45 463.2px,#00fc50 465.2px,#00fc51 479.2px,#00ff64 492.2px,#00fc52 507.2px,#4bff48 508.2px,#65ff2f 513.2px,#9bff00 518.2px,#e9ff00 525.3px,#fffd00 529.3px,#f4ff00 533.3px,#d8ff00 535.3px,#9aff00 538.3px,#5fff35 540.3px,#00fd55 541.3px,#00ff65 542.3px,#00fffc 548.3px,#00ecff 549.3px,#0092ff 554.3px,#0074ff 557.3px,#006eff 559.3px,#0091ff 565.3px,#00fbff 573.3px,#00ffba 579.3px,#00fc52 593.3px,#5fff35 594.3px,#9bff00 596.3px,#f6ff00 599.3px,#ffef00 600.3px,#ffa400 604.3px,#ff8f00 607.3px,#ffa800 613.3px,#fff900 620.3px,#f4ff00 621.3px,#9eff00 625.3px,#4fff44 628.3px,#00fe5b 629.3px,#00fff6 637.3px,#00f5ff 638.3px,#00a5ff 643.3px,#0067ff 648.3px,#0049ff 652.3px,#0040ff 656.3px,#004aff 658.3px,#006dff 661.3px,#00eeff 667.3px,#00fff5 668.3px,#00fe5e 673.3px,#58ff3b 674.3px,#83ff12 675.3px,#abff00 676.3px,#f2ff00 678.3px,#ffef00 679.3px,#ff7300 685.3px,#ff5100 688.3px,#ff4800 691.3px,#ff7500 695.3px,#fff000 700.3px,#ecff00 701.3px,#9cff00 703.3px,#6eff26 704.3px,#00fd55 705.3px,#00ffdd 710.3px,#00faff 712.3px,#00e4ff 714.3px,#00dfff 717.3px,#00fffd 745.4px,#00ffd4 750.4px,#00fc53 761.4px,#56ff3d 762.4px,#9aff00 766.4px,#deff00 772.4px,#f5ff00 777.4px,#e0ff00 783.4px,#9bff00 790.4px,#52ff42 795.4px,#00fd54 796.4px,#00ffab 806.4px,#00ffc4 812.4px,#00ffb1 824.4px,#00ff69 836.4px)"></div>
<div class="s" style="top:316.7px;height:75.0px;-webkit-mask-image:linear-gradient(180deg,transparent,#000 37.3px);mask-image:linear-gradient(180deg,transparent,#000 37.3px);background:linear-gradient(90deg,#960000 0.0px,#960000 39.0px,#0000ca 40.0px,#000087 41.0px,#000087 83.0px,#0000bd 84.0px,#0061ff 85.0px,#00fff0 86.0px,#00ff6e 87.0px,#6aff2b 88.0px,#afff00 89.0px,#e1ff00 90.0px,#fffa00 91.0px,#ffcd00 94.0px,#ff8100 103.0px,#ff5a00 105.1px,#ff0e00 107.1px,#e00000 108.1px,#960000 110.1px,#960000 137.1px,#b60000 138.1px,#ff1000 139.1px,#ffbd00 141.1px,#ffee00 142.1px,#f9ff00 143.1px,#d0ff00 145.1px,#8dff08 150.1px,#66ff2e 152.1px,#00fc50 153.1px,#00ff77 155.1px,#00fff1 159.1px,#00f2ff 160.1px,#004aff 166.1px,#0009ff 169.1px,#0000fb 175.1px,#0012ff 177.1px,#003cff 179.1px,#00fff9 185.1px,#00fd58 189.1px,#6fff25 190.1px,#a1ff00 191.1px,#f1ff00 193.1px,#fff000 194.1px,#ffbb00 197.1px,#ffb200 199.1px,#ffc300 201.1px,#ffed00 203.1px,#f2ff00 204.1px,#9bff00 206.1px,#65ff2f 207.1px,#00fe5d 208.1px,#00fff4 212.1px,#00ecff 213.1px,#00c1ff 215.1px,#00aeff 217.1px,#00c0ff 220.1px,#00f3ff 223.1px,#00fff5 224.1px,#00ff7c 229.1px,#00fe5b 231.1px,#4bff48 232.1px,#9bff00 235.1px,#f7ff00 239.1px,#fff600 240.1px,#ffd400 243.1px,#ffc900 246.1px,#ffd400 249.1px,#fffc00 253.1px,#9aff00 258.1px,#62ff32 260.1px,#00fc53 261.1px,#00fffc 269.1px,#00eeff 270.1px,#007fff 277.1px,#0063ff 280.1px,#0058ff 283.1px,#005eff 285.1px,#0081ff 288.1px,#00c2ff 292.1px,#00f6ff 294.1px,#00ffe6 295.1px,#00ff6a 298.1px,#54ff40 299.1px,#92ff04 300.1px,#feff00 302.1px,#ffd900 303.1px,#ff7400 306.1px,#ff3300 309.1px,#ff2500 311.1px,#ff2500 316.2px,#ff3100 318.2px,#ff5300 320.2px,#fffe00 327.2px,#96ff00 330.2px,#69ff2b 331.2px,#00fd57 332.2px,#00ffe5 337.2px,#00fffa 338.2px,#00f4ff 339.2px,#00e6ff 341.2px,#00e8ff 348.2px,#00f0ff 358.2px,#00fffb 360.2px,#00ffcd 362.2px,#00ff69 365.2px,#4cff47 366.2px,#81ff14 367.2px,#b2ff00 368.2px,#fff600 370.2px,#ffbd00 372.2px,#ff9300 374.2px,#ff8100 377.2px,#ff9f00 381.2px,#fffe00 388.2px,#91ff05 394.2px,#61ff33 396.2px,#00fc51 397.2px,#00ffd0 405.2px,#00fcff 409.2px,#00e0ff 415.2px,#00ffff 419.2px,#00ffc9 422.2px,#00fe5a 427.2px,#55ff3e 428.2px,#95ff01 430.2px,#eeff00 434.2px,#fff700 436.2px,#ffef00 439.2px,#fffc00 443.2px,#e1ff00 447.2px,#93ff02 454.2px,#4dff46 461.2px,#00fc52 462.2px,#00fc50 473.2px,#4cff47 474.2px,#50ff44 478.2px,#4dff46 480.2px,#00fc51 481.2px,#00ff68 492.2px,#00fc51 507.2px,#4dff46 508.2px,#6aff2a 513.2px,#97ff00 517.2px,#ecff00 524.3px,#fff900 527.3px,#fff100 531.3px,#f7ff00 534.3px,#a5ff00 538.3px,#89ff0c 539.3px,#69ff2b 540.3px,#00fc52 541.3px,#00ff62 542.3px,#00fdff 548.3px,#0087ff 554.3px,#0069ff 557.3px,#0064ff 559.3px,#0080ff 564.3px,#00fffb 574.3px,#00ffc1 579.3px,#00ff7e 589.3px,#00fc51 594.3px,#65ff2f 595.3px,#a6ff00 597.3px,#fff900 600.3px,#ffa300 604.3px,#ff8900 606.3px,#ff8100 608.3px,#ff9d00 614.3px,#fcff00 622.3px,#a2ff00 626.3px,#89ff0d 627.3px,#50ff43 629.3px,#00fe5b 630.3px,#00fffd 638.3px,#00eeff 639.3px,#009aff 644.3px,#005aff 649.3px,#003aff 653.3px,#0031ff 657.3px,#003bff 659.3px,#0062ff 662.3px,#009fff 665.3px,#00edff 668.3px,#00fff4 669.3px,#00fd56 674.3px,#6cff29 675.3px,#99ff00 676.3px,#e6ff00 678.3px,#fff600 679.3px,#ffaa00 682.3px,#ff6e00 685.3px,#ff4800 688.3px,#ff3d00 690.3px,#ff4200 692.3px,#ff6800 695.3px,#ffab00 698.3px,#fdff00 701.3px,#acff00 703.3px,#80ff15 704.3px,#51ff42 705.3px,#00ff62 706.3px,#00ffeb 711.3px,#00fffe 712.3px,#00f2ff 713.3px,#00e2ff 715.3px,#00e2ff 722.3px,#00f0ff 742.4px,#00fcff 746.4px,#00ffd7 751.4px,#00fd59 761.4px,#4bff48 762.4px,#95ff01 766.4px,#dfff00 772.4px,#fdff00 778.4px,#e2ff00 784.4px,#95ff01 791.4px,#55ff3e 795.4px,#00fc52 796.4px,#00ffae 806.4px,#00ffc7 812.4px,#00ffb1 824.4px,#00ff62 836.4px)"></div>
<div class="s" style="top:354.0px;height:75.0px;-webkit-mask-image:linear-gradient(180deg,transparent,#000 37.3px);mask-image:linear-gradient(180deg,transparent,#000 37.3px);background:linear-gradient(90deg,#960000 0.0px,#960000 40.0px,#e3ff00 41.0px,#000087 42.0px,#000087 86.0px,#0000f2 87.0px,#0083ff 88.0px,#00ffee 89.0px,#00ff7a 90.0px,#5dff37 91.0px,#a8ff00 92.0px,#dfff00 93.0px,#fff900 94.0px,#ffcd00 97.0px,#ff8400 105.1px,#ff7000 106.1px,#ff1f00 108.1px,#eb0000 109.1px,#b80000 110.1px,#960000 111.1px,#960000 139.1px,#c80000 140.1px,#ff2200 141.1px,#ffc600 143.1px,#fff200 144.1px,#f4ff00 145.1px,#9fff00 150.1px,#90ff06 151.1px,#4cff47 154.1px,#00fe5f 155.1px,#00fffa 160.1px,#00e6ff 161.1px,#000eff 167.1px,#0000f2 168.1px,#0000d2 170.1px,#0000d0 175.1px,#0000df 177.1px,#0007ff 179.1px,#006fff 182.1px,#00f2ff 185.1px,#00ffda 186.1px,#00ff74 188.1px,#4cff47 189.1px,#8dff08 190.1px,#f4ff00 192.1px,#ffe600 193.1px,#ffa200 196.1px,#ff9900 199.1px,#ffb900 201.1px,#ffef00 203.1px,#e8ff00 204.1px,#b8ff00 205.1px,#82ff13 206.1px,#00fc52 207.1px,#00ffee 211.1px,#00eeff 212.1px,#00adff 215.1px,#00a4ff 217.1px,#00c2ff 220.1px,#00fffe 223.1px,#00ff75 228.1px,#00fc51 230.1px,#61ff33 231.1px,#90ff06 233.1px,#f8ff00 238.1px,#fff700 239.1px,#ffd900 242.1px,#ffd000 245.1px,#ffda00 248.1px,#fffe00 252.1px,#a3ff00 257.1px,#8cff0a 258.1px,#57ff3d 260.1px,#00fd57 261.1px,#00f8ff 270.1px,#0093ff 277.1px,#006eff 283.1px,#0088ff 288.1px,#00b9ff 292.1px,#00e4ff 294.1px,#00fffa 295.1px,#00fc52 299.1px,#8cff0a 300.1px,#cbff00 301.1px,#fff800 302.1px,#ff5400 306.1px,#ff0600 309.1px,#f40000 311.1px,#fb0000 318.2px,#ff0b00 319.2px,#ff3d00 321.2px,#fffb00 327.2px,#b6ff00 329.2px,#88ff0d 330.2px,#54ff3f 331.2px,#00ff64 332.2px,#00fff4 336.2px,#00eeff 337.2px,#00b6ff 340.2px,#00acff 342.2px,#00c0ff 350.2px,#00f9ff 359.2px,#00ffde 361.2px,#00ff62 365.2px,#55ff3e 366.2px,#88ff0d 367.2px,#e2ff00 369.2px,#fff500 370.2px,#ff8f00 374.2px,#ff7300 376.2px,#ff6e00 378.2px,#ff8c00 382.2px,#fff700 390.2px,#f7ff00 391.2px,#a0ff00 395.2px,#4dff46 398.2px,#00fe5c 399.2px,#00feff 408.2px,#00d6ff 412.2px,#00cbff 415.2px,#00d3ff 417.2px,#00f6ff 420.2px,#00ffe2 422.2px,#00fd55 428.2px,#64ff30 429.2px,#86ff0f 430.2px,#a5ff00 431.2px,#fffd00 435.2px,#ffe100 439.2px,#fffe00 445.2px,#f4ff00 446.2px,#9bff00 452.2px,#56ff3d 456.2px,#00fc52 457.2px,#00ff75 464.2px,#00fc51 474.2px,#4fff45 475.2px,#5aff3a 478.2px,#4fff44 481.2px,#00fc52 482.2px,#00ff7e 492.2px,#00fc52 506.2px,#4fff44 507.2px,#96ff00 515.2px,#fffe00 525.3px,#ffec00 530.3px,#fcff00 534.3px,#a6ff00 538.3px,#89ff0c 539.3px,#67ff2d 540.3px,#00fc53 541.3px,#00ff64 542.3px,#00ffef 547.3px,#00f5ff 548.3px,#007dff 554.3px,#0060ff 557.3px,#005cff 559.3px,#007fff 564.3px,#00fffc 573.3px,#00ffb3 579.3px,#00fd57 594.3px,#55ff3e 595.3px,#95ff01 597.3px,#f8ff00 600.3px,#ffeb00 601.3px,#ff9400 605.3px,#ff7a00 607.3px,#ff7200 609.3px,#ff7a00 612.3px,#ff9900 616.3px,#fff800 623.3px,#f2ff00 624.3px,#91ff05 628.3px,#57ff3d 630.3px,#00fd58 631.3px,#00ffff 639.3px,#00a6ff 644.3px,#0060ff 649.3px,#003bff 653.3px,#002dff 657.3px,#0033ff 659.3px,#0055ff 662.3px,#0091ff 665.3px,#00fdff 669.3px,#00fe5b 674.3px,#63ff31 675.3px,#93ff03 676.3px,#e5ff00 678.3px,#fff600 679.3px,#ff8e00 683.3px,#ff5500 686.3px,#ff3600 689.3px,#ff3200 691.3px,#ff4000 693.3px,#ff5e00 695.3px,#ffa300 698.3px,#fffa00 701.3px,#b2ff00 703.3px,#86ff0f 704.3px,#56ff3d 705.3px,#00fe60 706.3px,#00ffd7 710.3px,#00fcff 712.3px,#00e1ff 714.3px,#00d9ff 717.3px,#00e7ff 736.4px,#00feff 746.4px,#00ffd4 751.4px,#00fd57 761.4px,#50ff43 762.4px,#99ff00 766.4px,#e5ff00 772.4px,#fffd00 776.4px,#fcff00 782.4px,#c6ff00 788.4px,#91ff05 792.4px,#4fff45 796.4px,#00fd56 797.4px,#00ffb3 807.4px,#00ffc7 813.4px,#00ffad 824.4px,#00fd59 836.4px)"></div>
<div class="s" style="top:391.2px;height:75.0px;-webkit-mask-image:linear-gradient(180deg,transparent,#000 37.3px);mask-image:linear-gradient(180deg,transparent,#000 37.3px);background:linear-gradient(90deg,#960000 0.0px,#960000 42.0px,#005eff 43.0px,#000087 44.0px,#000087 88.0px,#0000b2 89.0px,#001cff 90.0px,#0098ff 91.0px,#00ffee 92.0px,#00ff85 93.0px,#a1ff00 95.0px,#ddff00 96.0px,#fff800 97.0px,#ffd700 99.0px,#ffa300 105.1px,#ff8500 107.1px,#ff6300 108.1px,#f80000 110.1px,#bd0000 111.1px,#960000 112.1px,#960000 141.1px,#da0000 142.1px,#ff3200 143.1px,#ff8900 144.1px,#ffce00 145.1px,#fff500 146.1px,#eeff00 147.1px,#95ff01 152.1px,#4dff46 155.1px,#00fe5f 156.1px,#00f7ff 161.1px,#00aaff 163.1px,#0014ff 166.1px,#0000e8 167.1px,#0000ae 169.1px,#0000a4 170.1px,#0000a4 176.1px,#0000b8 178.1px,#0000ec 180.1px,#0011ff 181.1px,#00dbff 185.1px,#00ffe9 186.1px,#00ff6e 188.1px,#63ff31 189.1px,#acff00 190.1px,#ebff00 191.1px,#ffe400 192.1px,#ff8a00 195.1px,#ff7700 197.1px,#ff9c00 200.1px,#fff800 203.1px,#9fff00 205.1px,#61ff33 206.1px,#00ff63 207.1px,#00ffe8 210.1px,#00f1ff 211.1px,#00a6ff 214.1px,#0098ff 216.1px,#00b5ff 219.1px,#00f6ff 222.1px,#00ffec 223.1px,#00fe5b 228.1px,#57ff3c 229.1px,#91ff05 231.1px,#faff00 237.1px,#fff700 238.1px,#ffde00 241.1px,#ffd600 244.1px,#fdff00 251.1px,#95ff01 257.1px,#4cff48 260.1px,#00fe5b 261.1px,#00fffe 270.1px,#00a4ff 277.1px,#0081ff 283.1px,#0086ff 286.1px,#00a2ff 290.1px,#00c2ff 293.1px,#00f2ff 295.1px,#00ffe8 296.1px,#00fd5a 299.1px,#82ff13 300.1px,#caff00 301.1px,#fff300 302.1px,#ff3500 306.1px,#ff1000 307.1px,#f00000 308.1px,#c90000 310.1px,#c40000 311.1px,#c50000 318.2px,#e90000 320.2px,#ff0a00 321.2px,#fff600 327.2px,#b1ff00 329.2px,#7dff18 330.2px,#00fd54 331.2px,#00fff2 335.2px,#00e9ff 336.2px,#00aeff 338.2px,#0085ff 340.2px,#0075ff 343.2px,#0099ff 350.2px,#00fbff 359.2px,#00ffd8 361.2px,#00fe5e 365.2px,#5dff37 366.2px,#8eff07 367.2px,#e5ff00 369.2px,#fff400 370.2px,#ffa100 373.2px,#ff7900 375.2px,#ff6000 377.2px,#ff5c00 379.2px,#ff7b00 383.2px,#fff900 392.2px,#a5ff00 396.2px,#89ff0d 397.2px,#69ff2b 398.2px,#00fc51 399.2px,#00ffe1 406.2px,#00f9ff 408.2px,#00c8ff 412.2px,#00b9ff 416.2px,#00d1ff 419.2px,#00fffa 422.2px,#00ff61 428.2px,#4bff48 429.2px,#94ff02 431.2px,#fdff00 435.2px,#fff200 436.2px,#ffd800 440.2px,#fcff00 446.2px,#a0ff00 451.2px,#5dff37 454.2px,#00fc52 455.2px,#00ff92 461.2px,#00ff9c 465.2px,#00fc51 474.2px,#55ff3e 475.2px,#69ff2b 478.2px,#57ff3c 481.2px,#00fc50 482.2px,#00ff9f 491.2px,#00ff93 496.2px,#00fd55 505.2px,#4cff47 506.2px,#96ff00 513.2px,#fffc00 524.3px,#ffe700 530.3px,#fffe00 534.3px,#a7ff00 538.3px,#89ff0d 539.3px,#66ff2e 540.3px,#00fd55 541.3px,#00ff67 542.3px,#00fff8 547.3px,#00ecff 548.3px,#0082ff 553.3px,#005dff 556.3px,#0055ff 558.3px,#0073ff 563.3px,#00ffff 572.3px,#00ffad 578.3px,#00ff76 590.3px,#00fc52 595.3px,#62ff32 596.3px,#a3ff00 598.3px,#fff700 601.3px,#ff8400 606.3px,#ff6a00 608.3px,#ff6300 610.3px,#ff6c00 613.3px,#ff8d00 617.3px,#fcff00 625.3px,#99ff00 629.3px,#5dff37 631.3px,#00fd56 632.3px,#00feff 640.3px,#00a2ff 645.3px,#005bff 650.3px,#0037ff 654.3px,#002aff 658.3px,#0032ff 660.3px,#0059ff 663.3px,#009aff 666.3px,#00efff 669.3px,#00ffee 670.3px,#00fe60 674.3px,#59ff3a 675.3px,#8bff0a 676.3px,#e2ff00 678.3px,#fff600 679.3px,#ff8900 683.3px,#ff4d00 686.3px,#ff2b00 689.3px,#ff2700 691.3px,#ff3500 693.3px,#ff5400 695.3px,#ff9a00 698.3px,#fff300 701.3px,#e4ff00 702.3px,#8cff09 704.3px,#5bff39 705.3px,#00fe5f 706.3px,#00ffd9 710.3px,#00f8ff 712.3px,#00d3ff 715.3px,#00d0ff 718.3px,#00e0ff 734.4px,#00ffff 746.4px,#00ffd1 751.4px,#00fd55 761.4px,#54ff3f 762.4px,#8cff09 765.4px,#e0ff00 771.4px,#fffc00 775.4px,#fff200 779.4px,#fffd00 783.4px,#deff00 787.4px,#9dff00 792.4px,#58ff3b 796.4px,#00fc52 797.4px,#00ffb2 807.4px,#00ffc7 813.4px,#00ffa9 824.4px,#00fc50 836.4px)"></div>
<div class="s" style="top:428.5px;height:75.0px;-webkit-mask-image:linear-gradient(180deg,transparent,#000 37.3px);mask-image:linear-gradient(180deg,transparent,#000 37.3px);background:linear-gradient(90deg,#960000 0.0px,#960000 5.0px,#e40000 6.0px,#f80000 7.0px,#df0000 8.0px,#960000 9.0px,#960000 43.0px,#ff7a00 44.0px,#000087 45.0px,#000087 90.0px,#00008a 91.0px,#0000d8 92.0px,#003bff 93.0px,#00a6ff 94.0px,#00ffef 95.0px,#00ff90 96.0px,#00fd54 97.0px,#99ff00 98.0px,#dbff00 99.0px,#fff700 100.0px,#ffd600 102.0px,#ff9900 108.1px,#ff7c00 109.1px,#ff0700 111.1px,#c20000 112.1px,#960000 113.1px,#960000 142.1px,#9e0000 143.1px,#ea0000 144.1px,#ff4100 145.1px,#ff9300 146.1px,#ffd500 147.1px,#fffa00 148.1px,#93ff03 153.1px,#64ff30 155.1px,#00fc53 156.1px,#00ff81 158.1px,#00fff0 161.1px,#00e7ff 162.1px,#00b9ff 163.1px,#0000fa 166.1px,#000099 168.1px,#000087 169.1px,#000087 178.1px,#000096 179.1px,#0000da 181.1px,#000aff 182.1px,#00fff6 186.1px,#00ff63 188.1px,#81ff14 189.1px,#d3ff00 190.1px,#ffea00 191.1px,#ff9200 193.1px,#ff7400 194.1px,#ff5900 196.1px,#ff5e00 197.1px,#ff7f00 199.1px,#ffdf00 202.1px,#f4ff00 203.1px,#bbff00 204.1px,#7dff18 205.1px,#00fd58 206.1px,#00ffe0 209.1px,#00f5ff 210.1px,#00a1ff 213.1px,#008eff 215.1px,#00a7ff 218.1px,#00fff7 222.1px,#00fd59 227.1px,#5fff35 228.1px,#84ff12 229.1px,#a2ff00 230.1px,#f2ff00 235.1px,#fff700 237.1px,#ffdd00 243.1px,#fffb00 249.1px,#deff00 252.1px,#9bff00 256.1px,#59ff3a 259.1px,#00fd54 260.1px,#00fbff 271.1px,#00acff 278.1px,#0093ff 284.1px,#009eff 288.1px,#00bfff 293.1px,#00caff 294.1px,#00fffd 296.1px,#00ff64 299.1px,#72ff23 300.1px,#c3ff00 301.1px,#fff200 302.1px,#ff1800 306.1px,#ec0000 307.1px,#ab0000 309.1px,#990000 310.1px,#960000 318.2px,#980000 319.2px,#ad0000 320.2px,#fa0000 322.2px,#ffef00 327.2px,#e3ff00 328.2px,#adff00 329.2px,#70ff24 330.2px,#00fe5d 331.2px,#00ffea 334.2px,#00e8ff 335.2px,#005fff 339.2px,#0038ff 341.2px,#002dff 343.2px,#003bff 346.2px,#005bff 349.2px,#00fdff 359.2px,#00ffd0 361.2px,#00fd58 365.2px,#69ff2b 366.2px,#99ff00 367.2px,#ebff00 369.2px,#fff000 370.2px,#ff7400 375.2px,#ff4d00 378.2px,#ff4a00 380.2px,#ff6b00 384.2px,#fff400 393.2px,#f5ff00 394.2px,#a2ff00 397.2px,#5fff34 399.2px,#00fd57 400.2px,#00fff7 407.2px,#00f3ff 408.2px,#00baff 412.2px,#00a6ff 416.2px,#00baff 419.2px,#00fffd 423.2px,#00fe5d 429.2px,#55ff3e 430.2px,#9fff00 432.2px,#f2ff00 435.2px,#fff800 436.2px,#ffd600 439.2px,#ffd200 441.2px,#fffc00 446.2px,#91ff05 451.2px,#56ff3e 453.2px,#00fd58 454.2px,#00ffb9 460.2px,#00ffcf 464.2px,#00ffb8 467.2px,#00fd5a 473.2px,#4aff48 474.2px,#6dff28 476.2px,#7bff1a 478.2px,#70ff25 480.2px,#4eff45 482.2px,#00fd59 483.2px,#00ffab 488.2px,#00ffc8 491.2px,#00ffb4 496.2px,#00fc52 505.2px,#57ff3d 506.2px,#66ff2e 507.2px,#96ff00 511.2px,#ffff00 522.2px,#ffe300 530.3px,#fffb00 534.3px,#f2ff00 535.3px,#a8ff00 538.3px,#88ff0d 539.3px,#64ff30 540.3px,#00fd56 541.3px,#00feff 547.3px,#0078ff 553.3px,#0054ff 556.3px,#004dff 558.3px,#0072ff 563.3px,#00faff 571.3px,#00fff2 572.3px,#00ffc0 575.3px,#00ff9f 578.3px,#00fd58 595.3px,#51ff42 596.3px,#90ff05 598.3px,#f7ff00 601.3px,#ffea00 602.3px,#ff7500 607.3px,#ff5b00 609.3px,#ff5500 611.3px,#ff5e00 614.3px,#ff8000 618.3px,#fff900 626.3px,#a0ff00 630.3px,#62ff32 632.3px,#00fd54 633.3px,#00fcff 641.3px,#009eff 646.3px,#0056ff 651.3px,#0032ff 655.3px,#0026ff 659.3px,#0031ff 661.3px,#005eff 664.3px,#00a6ff 667.3px,#00fffd 670.3px,#00ff68 674.3px,#4eff45 675.3px,#82ff13 676.3px,#b2ff00 677.3px,#fff700 679.3px,#ff9e00 682.3px,#ff5700 685.3px,#ff2900 688.3px,#ff1c00 690.3px,#ff2100 692.3px,#ff4a00 695.3px,#ff9100 698.3px,#ffec00 701.3px,#ecff00 702.3px,#93ff03 704.3px,#60ff34 705.3px,#00fe5d 706.3px,#00ffda 710.3px,#00f4ff 712.3px,#00ccff 715.3px,#00c8ff 718.3px,#00d8ff 732.4px,#00fffd 746.4px,#00ffce 751.4px,#00fc52 761.4px,#5aff3a 762.4px,#92ff04 765.4px,#daff00 770.4px,#fffb00 774.4px,#ffea00 780.4px,#f7ff00 786.4px,#99ff00 793.4px,#51ff42 797.4px,#00fd56 798.4px,#00ffb1 807.4px,#00ffc7 814.4px,#00ffa7 824.4px,#00fd53 835.4px,#54ff40 836.4px)"></div>
<div class="s" style="top:465.7px;height:70.3px;-webkit-mask-image:linear-gradient(180deg,transparent,#000 37.3px);mask-image:linear-gradient(180deg,transparent,#000 37.3px);background:linear-gradient(90deg,#960000 0.0px,#960000 5.0px,#ff4500 6.0px,#ffb500 7.0px,#ffbc00 8.0px,#ff7800 9.0px,#960000 10.0px,#960000 45.0px,#00fdff 46.0px,#000087 47.0px,#000087 93.0px,#0000ab 94.0px,#0000f5 95.0px,#00afff 97.0px,#00fff2 98.0px,#00ff9a 99.0px,#00fd5a 100.0px,#91ff05 101.0px,#d9ff00 102.0px,#fff600 103.0px,#ffd500 105.1px,#ffac00 109.1px,#ff9500 110.1px,#ff6100 111.1px,#ff1800 112.1px,#c70000 113.1px,#960000 114.1px,#960000 144.1px,#ac0000 145.1px,#f90000 146.1px,#ff9d00 148.1px,#ffdb00 149.1px,#fffe00 150.1px,#93ff03 154.1px,#5eff36 156.1px,#00fd56 157.1px,#00ff8b 159.1px,#00fdff 162.1px,#00cfff 163.1px,#003aff 165.1px,#0000e7 166.1px,#0000a2 167.1px,#000087 168.1px,#000087 180.1px,#0000a6 181.1px,#0000d8 182.1px,#0016ff 183.1px,#00fdff 186.1px,#00ffa8 187.1px,#00fd58 188.1px,#a8ff00 189.1px,#fffb00 190.1px,#ff8900 192.1px,#ff6100 193.1px,#ff4600 194.1px,#ff3c00 195.1px,#ff4000 196.1px,#ff6200 198.1px,#ff9f00 200.1px,#fff000 202.1px,#d8ff00 203.1px,#9aff00 204.1px,#00ff73 206.1px,#00fbff 209.1px,#009dff 212.1px,#0084ff 214.1px,#009bff 217.1px,#00fffd 221.1px,#00ff69 225.1px,#00fc51 226.1px,#78ff1d 227.1px,#a0ff00 228.1px,#dbff00 230.1px,#faff00 232.1px,#ffea00 241.1px,#fffe00 247.1px,#d5ff00 251.1px,#99ff00 255.1px,#5fff35 258.1px,#00fc50 259.1px,#00ff63 261.1px,#00fffa 271.1px,#00f7ff 272.1px,#00bdff 278.1px,#00a6ff 284.1px,#00c6ff 294.1px,#00efff 296.1px,#00ffe8 297.1px,#00ff79 299.1px,#b6ff00 301.1px,#fff500 302.1px,#fd0000 306.1px,#9f0000 308.1px,#960000 309.1px,#960000 321.2px,#bd0000 322.2px,#f70000 323.2px,#ffe500 327.2px,#e8ff00 328.2px,#abff00 329.2px,#65ff2f 330.2px,#00ff68 331.2px,#00ffd7 333.2px,#00f2ff 334.2px,#0069ff 337.2px,#0005ff 340.2px,#0000de 343.2px,#0000f9 347.2px,#0030ff 350.2px,#00feff 359.2px,#00fc52 365.2px,#76ff1f 366.2px,#a3ff00 367.2px,#f4ff00 369.2px,#ffea00 370.2px,#ff9a00 373.2px,#ff5c00 376.2px,#ff3b00 379.2px,#ff3700 381.2px,#ff6600 386.2px,#fffb00 395.2px,#a9ff00 398.2px,#86ff10 399.2px,#5fff35 400.2px,#00fd59 401.2px,#00fff4 407.2px,#00f3ff 408.2px,#00afff 412.2px,#0093ff 416.2px,#00b1ff 420.2px,#00ffff 424.2px,#00fd58 430.2px,#61ff33 431.2px,#88ff0e 432.2px,#aaff00 433.2px,#feff00 436.2px,#ffef00 437.2px,#ffcf00 440.2px,#ffcc00 442.2px,#faff00 447.2px,#abff00 450.2px,#8cff0a 451.2px,#69ff2b 452.2px,#00fc52 453.2px,#00ffcd 459.2px,#00fff2 463.2px,#00ffeb 465.2px,#00ffd0 467.2px,#00fd59 473.2px,#53ff41 474.2px,#7cff19 476.2px,#8eff08 478.2px,#80ff15 480.2px,#56ff3d 482.2px,#00fd57 483.2px,#00ffbd 488.2px,#00ffe0 491.2px,#00ffde 493.2px,#00ffc5 496.2px,#00fd54 504.2px,#57ff3d 505.2px,#7bff1a 507.2px,#95ff01 509.2px,#fffc00 521.2px,#ffdf00 530.3px,#fff700 534.3px,#f6ff00 535.3px,#a9ff00 538.3px,#88ff0e 539.3px,#62ff32 540.3px,#00fd58 541.3px,#00f6ff 547.3px,#00a9ff 550.3px,#006dff 553.3px,#004aff 556.3px,#0046ff 558.3px,#004fff 560.3px,#0071ff 563.3px,#00fff8 571.3px,#00ffb0 575.3px,#00ff90 578.3px,#00ff6b 592.3px,#00fd54 596.3px,#5dff37 597.3px,#9eff00 599.3px,#fff800 602.3px,#ffa700 605.3px,#ff6600 608.3px,#ff4c00 610.3px,#ff4600 612.3px,#ff5000 615.3px,#ff7400 619.3px,#fff200 627.3px,#f7ff00 628.3px,#a6ff00 631.3px,#88ff0d 632.3px,#68ff2c 633.3px,#00fc52 634.3px,#00faff 642.3px,#009aff 647.3px,#005dff 651.3px,#0034ff 655.3px,#0023ff 659.3px,#0028ff 661.3px,#0050ff 664.3px,#0096ff 667.3px,#00f2ff 670.3px,#00ffe8 671.3px,#00fd55 675.3px,#78ff1d 676.3px,#abff00 677.3px,#fff900 679.3px,#ff9b00 682.3px,#ff4f00 685.3px,#ff1f00 688.3px,#ff1100 690.3px,#ff1600 692.3px,#ff3f00 695.3px,#ff8800 698.3px,#ffe500 701.3px,#f5ff00 702.3px,#9aff00 704.3px,#66ff2e 705.3px,#00fe5b 706.3px,#00ffdb 710.3px,#00fff6 711.3px,#00f1ff 712.3px,#00c6ff 715.3px,#00c0ff 718.3px,#00d2ff 731.3px,#00fcff 745.4px,#00ffd7 750.4px,#00fd59 760.4px,#4bff48 761.4px,#98ff00 765.4px,#e1ff00 770.4px,#fffc00 773.4px,#ffe100 780.4px,#fbff00 787.4px,#95ff01 794.4px,#5bff38 797.4px,#00fc51 798.4px,#00ffb7 808.4px,#00ffc7 814.4px,#00ffa7 824.4px,#00fc51 835.4px,#5aff39 836.4px)"></div>
<div class="s" style="top:503.0px;height:57.4px;-webkit-mask-image:linear-gradient(180deg,transparent,#000 32.5px);mask-image:linear-gradient(180deg,transparent,#000 32.5px);background:linear-gradient(90deg,#960000 0.0px,#960000 4.0px,#f80000 5.0px,#ecff00 6.0px,#00ff8c 7.0px,#00ffac 8.0px,#00ffac 9.0px,#00ff85 10.0px,#ff9900 11.0px,#960000 12.0px,#960000 14.0px,#960000 46.0px,#ffc700 47.0px,#000087 48.0px,#000087 95.0px,#0000ac 96.0px,#0000f1 97.0px,#0046ff 98.0px,#00f7ff 100.0px,#00ff67 102.0px,#75ff20 103.0px,#c5ff00 104.0px,#ffff00 105.1px,#ffe700 106.1px,#ffa400 111.1px,#ff7000 112.1px,#ff2000 113.1px,#c80000 114.1px,#960000 115.1px,#960000 146.1px,#d70000 147.1px,#ff2a00 148.1px,#ffc200 150.1px,#fff200 151.1px,#e8ff00 152.1px,#91ff04 155.1px,#55ff3e 157.1px,#00fe5c 158.1px,#00ff98 160.1px,#00ffe7 162.1px,#00e9ff 163.1px,#00a9ff 164.1px,#004fff 165.1px,#0000eb 166.1px,#000096 167.1px,#000087 168.1px,#000087 181.1px,#0000aa 182.1px,#0000e7 183.1px,#0032ff 184.1px,#00e0ff 186.1px,#00ffbf 187.1px,#00fe60 188.1px,#a3ff00 189.1px,#fff700 190.1px,#ff7a00 192.1px,#ff4f00 193.1px,#ff3500 194.1px,#ff2f00 195.1px,#ff3600 196.1px,#ff5d00 198.1px,#ffa100 200.1px,#fff700 202.1px,#88ff0d 204.1px,#00fd56 205.1px,#00ffeb 208.1px,#00e7ff 209.1px,#008bff 212.1px,#0076ff 214.1px,#0094ff 217.1px,#00e5ff 220.1px,#00fff7 221.1px,#00fe5c 225.1px,#65ff2f 226.1px,#97ff00 227.1px,#fcff00 230.1px,#fff100 231.1px,#ffe700 235.1px,#fbff00 245.1px,#9dff00 253.1px,#54ff40 257.1px,#00fd55 258.1px,#00faff 271.1px,#00c4ff 277.1px,#00adff 283.1px,#00ccff 294.1px,#00efff 296.1px,#00ffe8 297.1px,#00ff7b 299.1px,#b7ff00 301.1px,#fff300 302.1px,#ff2d00 305.1px,#f00000 306.1px,#ba0000 307.1px,#960000 308.1px,#960000 322.2px,#c90000 323.2px,#ff0d00 324.2px,#ffd400 327.2px,#f6ff00 328.2px,#b3ff00 329.2px,#67ff2d 330.2px,#00ff6c 331.2px,#00ffe9 333.2px,#00dbff 334.2px,#0012ff 338.2px,#0000ec 339.2px,#0000a6 342.2px,#00009e 344.2px,#0000be 347.2px,#0000fe 350.2px,#00b3ff 356.2px,#00fffd 359.2px,#00fe5f 364.2px,#5aff39 365.2px,#8aff0b 366.2px,#fff900 369.2px,#ff8a00 373.2px,#ff4b00 376.2px,#ff2500 379.2px,#ff1e00 381.2px,#ff2800 383.2px,#ff4d00 386.2px,#ffee00 395.2px,#f7ff00 396.2px,#90ff06 399.2px,#67ff2d 400.2px,#00fd56 401.2px,#00fffb 407.2px,#00ebff 408.2px,#00a2ff 412.2px,#0084ff 416.2px,#00a1ff 420.2px,#00efff 424.2px,#00fff5 425.2px,#00ff62 430.2px,#4eff46 431.2px,#9cff00 433.2px,#f6ff00 436.2px,#fff400 437.2px,#ffcd00 440.2px,#ffc500 442.2px,#ffce00 444.2px,#fff900 447.2px,#edff00 448.2px,#8dff08 451.2px,#66ff2e 452.2px,#00fd56 453.2px,#00ffd3 458.2px,#00fff8 460.2px,#00f9ff 461.2px,#00edff 464.2px,#00fffd 466.2px,#00fe5b 473.2px,#51ff42 474.2px,#82ff13 476.2px,#97ff00 478.2px,#88ff0e 480.2px,#5aff39 482.2px,#00fd57 483.2px,#00ffd8 489.2px,#00ffed 492.2px,#00ffcc 496.2px,#00fd59 503.2px,#50ff43 504.2px,#97ff00 508.2px,#fffe00 520.2px,#ffe000 530.3px,#fff800 534.3px,#dfff00 536.3px,#a8ff00 538.3px,#86ff0f 539.3px,#60ff34 540.3px,#00fd59 541.3px,#00ffee 546.3px,#00f3ff 547.3px,#00a5ff 550.3px,#0069ff 553.3px,#0047ff 556.3px,#0044ff 558.3px,#004eff 560.3px,#0073ff 563.3px,#00fbff 570.3px,#00ffa4 575.3px,#00ff86 578.3px,#00ff6a 592.3px,#00fd57 596.3px,#52ff41 597.3px,#91ff05 599.3px,#f8ff00 602.3px,#ffe900 603.3px,#ff9900 606.3px,#ff5c00 609.3px,#ff4600 611.3px,#ff4300 613.3px,#ff5000 616.3px,#ff7500 620.3px,#fff600 628.3px,#f0ff00 629.3px,#9eff00 632.3px,#5eff36 634.3px,#00fd56 635.3px,#00fff6 642.3px,#00f3ff 643.3px,#0094ff 648.3px,#0059ff 652.3px,#0031ff 656.3px,#0023ff 660.3px,#002dff 662.3px,#005cff 665.3px,#00e7ff 670.3px,#00fff4 671.3px,#00fe5a 675.3px,#6cff28 676.3px,#a2ff00 677.3px,#fffe00 679.3px,#ff9d00 682.3px,#ff4f00 685.3px,#ff1c00 688.3px,#ff0e00 690.3px,#ff1300 692.3px,#ff3c00 695.3px,#ff8500 698.3px,#faff00 702.3px,#9fff00 704.3px,#6cff28 705.3px,#00fd58 706.3px,#00fff5 711.3px,#00f2ff 712.3px,#00c3ff 715.3px,#00bbff 718.3px,#00cfff 732.4px,#00fcff 746.4px,#00ffd2 751.4px,#00fc53 761.4px,#59ff3b 762.4px,#93ff02 765.4px,#e0ff00 770.4px,#fffc00 773.4px,#ffdc00 780.4px,#f9ff00 788.4px,#9fff00 794.4px,#52ff41 798.4px,#00fd55 799.4px,#00ffb3 808.4px,#00ffc2 811.4px,#00ffc4 815.4px,#00ffa4 824.4px,#00fd55 834.4px,#51ff42 835.4px,#62ff32 836.4px)"></div>
<div class="s" style="top:535.5px;height:49.2px;-webkit-mask-image:linear-gradient(180deg,transparent,#000 24.3px);mask-image:linear-gradient(180deg,transparent,#000 24.3px);background:linear-gradient(90deg,#960000 0.0px,#960000 4.0px,#ffc500 5.0px,#00fffc 6.0px,#003cff 7.0px,#0032ff 11.0px,#00ecff 12.0px,#ff5d00 13.0px,#960000 14.0px,#960000 47.0px,#ffde00 48.0px,#000087 49.0px,#000087 96.0px,#00009c 97.0px,#0000df 98.0px,#0031ff 99.0px,#00e3ff 101.0px,#00ffc5 102.0px,#00ff78 103.0px,#acff00 105.1px,#ebff00 106.1px,#fff000 107.1px,#ffbb00 111.1px,#ffa200 112.1px,#ff6700 113.1px,#ff1300 114.1px,#ba0000 115.1px,#960000 116.1px,#970000 147.1px,#df0000 148.1px,#ff3300 149.1px,#ffcb00 151.1px,#fff800 152.1px,#a3ff00 155.1px,#67ff2d 157.1px,#00fc53 158.1px,#00ff88 160.1px,#00ffff 163.1px,#00caff 164.1px,#0074ff 165.1px,#000aff 166.1px,#0000a8 167.1px,#000087 168.1px,#000088 182.1px,#0007ff 184.1px,#00b4ff 186.1px,#00ffed 187.1px,#00ff8a 188.1px,#6fff26 189.1px,#dfff00 190.1px,#ffce00 191.1px,#ff5f00 193.1px,#ff3f00 194.1px,#ff3100 195.1px,#ff3500 196.1px,#ff4200 197.1px,#ff7600 199.1px,#fff100 202.1px,#d2ff00 203.1px,#8fff07 204.1px,#00fd54 205.1px,#00ffed 208.1px,#00e3ff 209.1px,#0081ff 212.1px,#0068ff 214.1px,#0084ff 217.1px,#00b4ff 219.1px,#00f5ff 221.1px,#00ffe2 222.1px,#00ff66 225.1px,#54ff3f 226.1px,#89ff0d 227.1px,#b5ff00 228.1px,#fcff00 230.1px,#ffdf00 232.1px,#ffd700 234.1px,#fffe00 244.1px,#dbff00 248.1px,#93ff03 253.1px,#58ff3b 256.1px,#00fc53 257.1px,#00fffd 269.1px,#00f5ff 270.1px,#00bdff 276.1px,#00aaff 282.1px,#00cfff 293.1px,#00e4ff 295.1px,#00ffff 296.1px,#00ffd6 297.1px,#00ff68 299.1px,#71ff24 300.1px,#c8ff00 301.1px,#ffe900 302.1px,#ff2a00 305.1px,#f00000 306.1px,#960000 308.1px,#960000 322.2px,#b00000 323.2px,#f20000 324.2px,#ff3900 325.2px,#ffc000 327.2px,#fff600 328.2px,#c6ff00 329.2px,#79ff1b 330.2px,#00ff63 331.2px,#00ffe7 333.2px,#00d8ff 334.2px,#0062ff 336.2px,#0000fb 338.2px,#0000b3 340.2px,#000087 342.2px,#000090 346.2px,#0000e9 350.2px,#0007ff 351.2px,#00afff 356.2px,#00fffb 359.2px,#00fd57 364.2px,#6dff27 365.2px,#9eff00 366.2px,#f5ff00 368.2px,#ffe600 369.2px,#ff7300 373.2px,#ff3200 376.2px,#ff0b00 379.2px,#ff0400 381.2px,#ff0f00 383.2px,#ff2b00 385.2px,#fff500 395.2px,#ecff00 396.2px,#a6ff00 398.2px,#7fff16 399.2px,#55ff3f 400.2px,#00fe5f 401.2px,#00fff1 406.2px,#00f3ff 407.2px,#0095ff 412.2px,#007aff 416.2px,#0099ff 420.2px,#00fffc 425.2px,#00ff67 430.2px,#00fc53 431.2px,#6eff27 432.2px,#95ff01 433.2px,#f1ff00 436.2px,#fff600 437.2px,#ffcc00 440.2px,#ffc100 443.2px,#ffcf00 445.2px,#fcff00 448.2px,#9dff00 451.2px,#4cff47 453.2px,#00ff62 454.2px,#00ffe7 459.2px,#00f6ff 461.2px,#00e5ff 464.2px,#00fff7 467.2px,#00fe5f 473.2px,#4cff47 474.2px,#80ff15 476.2px,#97ff00 478.2px,#88ff0e 480.2px,#5aff39 482.2px,#00fd57 483.2px,#00ffd8 489.2px,#00ffed 492.2px,#00ffca 496.2px,#00fd54 503.2px,#5aff3a 504.2px,#91ff05 507.2px,#fcff00 520.2px,#ffe500 530.3px,#fffb00 534.3px,#dcff00 536.3px,#a6ff00 538.3px,#85ff10 539.3px,#60ff34 540.3px,#00fd59 541.3px,#00ffec 546.3px,#00f4ff 547.3px,#00a7ff 550.3px,#006bff 553.3px,#004aff 556.3px,#0046ff 558.3px,#0051ff 560.3px,#0077ff 563.3px,#00fffe 570.3px,#00ffae 574.3px,#00ff81 578.3px,#00fd58 596.3px,#4fff45 597.3px,#8aff0c 599.3px,#aaff00 600.3px,#edff00 602.3px,#fff200 603.3px,#ffa400 606.3px,#ff6700 609.3px,#ff4f00 611.3px,#ff4a00 613.3px,#ff5400 616.3px,#ff7800 620.3px,#fff400 628.3px,#f4ff00 629.3px,#a4ff00 632.3px,#66ff2f 634.3px,#00fc53 635.3px,#00faff 643.3px,#009cff 648.3px,#0060ff 652.3px,#0038ff 656.3px,#0028ff 660.3px,#002fff 662.3px,#005aff 665.3px,#00a4ff 668.3px,#00fffa 671.3px,#00fe5f 675.3px,#63ff31 676.3px,#9aff00 677.3px,#f8ff00 679.3px,#ffe200 680.3px,#ff8600 683.3px,#ff4000 686.3px,#ff1800 689.3px,#ff1300 691.3px,#ff2100 693.3px,#ff5400 696.3px,#fcff00 702.3px,#a2ff00 704.3px,#71ff24 705.3px,#00fd56 706.3px,#00fff0 711.3px,#00f5ff 712.3px,#00c4ff 715.3px,#00b9ff 719.3px,#00d5ff 737.4px,#00e7ff 744.4px,#00fffe 748.4px,#00fc51 762.4px,#5eff36 763.4px,#99ff00 766.4px,#feff00 773.4px,#ffe500 777.4px,#ffdc00 781.4px,#fdff00 788.4px,#95ff01 795.4px,#5bff38 798.4px,#00fc51 799.4px,#00ffad 808.4px,#00ffbd 811.4px,#00ffbf 815.4px,#00ffa5 823.4px,#00fc51 834.4px,#59ff3b 835.4px,#6aff2a 836.4px)"></div>
<div class="s" style="top:559.9px;height:44.8px;-webkit-mask-image:linear-gradient(180deg,transparent,#000 24.3px);mask-image:linear-gradient(180deg,transparent,#000 24.3px);background:linear-gradient(90deg,#960000 0.0px,#960000 3.0px,#c60000 4.0px,#00ff9c 5.0px,#0000a0 6.0px,#000087 7.0px,#000087 13.0px,#00d7ff 14.0px,#b90000 15.0px,#960000 16.0px,#960000 48.0px,#fff300 49.0px,#000087 50.0px,#000087 97.0px,#00008d 98.0px,#0000cd 99.0px,#001bff 100.0px,#00cdff 102.0px,#00ffd9 103.0px,#00ff8a 104.0px,#00fd54 105.1px,#95ff01 106.1px,#d5ff00 107.1px,#fffb00 108.1px,#ffbd00 112.1px,#ffa000 113.1px,#ff5d00 114.1px,#ff0400 115.1px,#ac0000 116.1px,#960000 117.1px,#960000 147.1px,#9c0000 148.1px,#e70000 149.1px,#ff3c00 150.1px,#ffd300 152.1px,#fffd00 153.1px,#99ff00 156.1px,#57ff3d 158.1px,#00fe5c 159.1px,#00ff9a 161.1px,#00ffe9 163.1px,#00e6ff 164.1px,#009cff 165.1px,#0030ff 166.1px,#0000c0 167.1px,#000087 168.1px,#000087 182.1px,#00009d 183.1px,#0000df 184.1px,#002eff 185.1px,#00e4ff 187.1px,#00ffb7 188.1px,#00fd5a 189.1px,#b2ff00 190.1px,#ffeb00 191.1px,#ff7100 193.1px,#ff4a00 194.1px,#ff3600 195.1px,#ff3500 196.1px,#ff4000 197.1px,#ff7100 199.1px,#ffeb00 202.1px,#d8ff00 203.1px,#94ff02 204.1px,#00fc53 205.1px,#00fff3 208.1px,#00dcff 209.1px,#008fff 211.1px,#0060ff 213.1px,#0056ff 214.1px,#006fff 217.1px,#009eff 219.1px,#00dfff 221.1px,#00fffa 222.1px,#00fd58 226.1px,#71ff23 227.1px,#a4ff00 228.1px,#f3ff00 230.1px,#fff100 231.1px,#ffd200 233.1px,#ffcd00 235.1px,#fdff00 245.1px,#d3ff00 249.1px,#96ff00 253.1px,#57ff3c 256.1px,#00fd55 257.1px,#00fffe 268.1px,#00f3ff 269.1px,#00b7ff 275.1px,#00a6ff 280.1px,#00c0ff 289.1px,#00e0ff 294.1px,#00f2ff 295.1px,#00ffed 296.1px,#00fe5c 299.1px,#86ff0f 300.1px,#d7ff00 301.1px,#ffdf00 302.1px,#ff2800 305.1px,#ef0000 306.1px,#960000 308.1px,#980000 323.2px,#d70000 324.2px,#ff1e00 325.2px,#ffe500 328.2px,#dbff00 329.2px,#8fff07 330.2px,#00fe5b 331.2px,#00ffe2 333.2px,#00d9ff 334.2px,#0020ff 337.2px,#0000ec 338.2px,#00009d 340.2px,#000087 341.2px,#000087 346.2px,#000089 347.2px,#0000f7 351.2px,#00cbff 357.2px,#00fff9 359.2px,#00fc50 364.2px,#7fff17 365.2px,#b0ff00 366.2px,#ddff00 367.2px,#fff600 368.2px,#ff5d00 373.2px,#ff0800 377.2px,#e80000 381.2px,#f60000 383.2px,#ff1800 385.2px,#fffb00 395.2px,#99ff00 398.2px,#6eff26 399.2px,#00fd54 400.2px,#00fdff 406.2px,#0095ff 411.2px,#0075ff 414.2px,#0070ff 416.2px,#0092ff 420.2px,#00fbff 425.2px,#00fd57 431.2px,#66ff2f 432.2px,#8dff08 433.2px,#ecff00 436.2px,#fff900 437.2px,#ffcc00 440.2px,#ffbb00 443.2px,#ffc600 445.2px,#fff500 448.2px,#efff00 449.2px,#acff00 451.2px,#86ff0f 452.2px,#5bff38 453.2px,#00fe5c 454.2px,#00ffe5 459.2px,#00fffa 460.2px,#00f3ff 461.2px,#00ddff 464.2px,#00fbff 467.2px,#00ffd4 469.2px,#00ff62 473.2px,#00fc52 474.2px,#66ff2e 475.2px,#8fff06 477.2px,#97ff00 478.2px,#88ff0e 480.2px,#5aff39 482.2px,#00fd57 483.2px,#00ffd8 489.2px,#00ffed 492.2px,#00ffc8 496.2px,#00fe5b 502.2px,#4cff47 503.2px,#96ff00 507.2px,#fdff00 521.2px,#ffeb00 531.3px,#fffe00 534.3px,#a5ff00 538.3px,#84ff11 539.3px,#5fff35 540.3px,#00fd59 541.3px,#00f6ff 547.3px,#00a9ff 550.3px,#006eff 553.3px,#0048ff 557.3px,#004cff 559.3px,#006bff 562.3px,#00fff8 570.3px,#00ffa8 574.3px,#00ff7c 578.3px,#00fd59 596.3px,#46ff49 597.3px,#a3ff00 600.3px,#fffa00 603.3px,#ff7200 609.3px,#ff5900 611.3px,#ff5100 613.3px,#ff5a00 616.3px,#ff7a00 620.3px,#fff300 628.3px,#f7ff00 629.3px,#a9ff00 632.3px,#8cff09 633.3px,#4dff46 635.3px,#00fe5e 636.3px,#00fffc 643.3px,#00eeff 644.3px,#0094ff 649.3px,#005cff 653.3px,#0038ff 657.3px,#002dff 661.3px,#003aff 663.3px,#006dff 666.3px,#00feff 671.3px,#00ff63 675.3px,#59ff3a 676.3px,#91ff05 677.3px,#f0ff00 679.3px,#ffe800 680.3px,#ff8c00 683.3px,#ff4500 686.3px,#ff1d00 689.3px,#ff1800 691.3px,#ff2500 693.3px,#ff5700 696.3px,#fdff00 702.3px,#a6ff00 704.3px,#75ff1f 705.3px,#00fd53 706.3px,#00ffcf 710.3px,#00f9ff 712.3px,#00c6ff 715.3px,#00b7ff 718.3px,#00d2ff 739.4px,#00e2ff 745.4px,#00fcff 749.4px,#00ffd6 753.4px,#00fd58 762.4px,#4eff45 763.4px,#8dff09 766.4px,#9fff00 767.4px,#deff00 771.4px,#fffb00 774.4px,#ffdc00 781.4px,#fffd00 788.4px,#f5ff00 789.4px,#9cff00 795.4px,#51ff42 799.4px,#00fd56 800.4px,#00ffae 809.4px,#00ffba 816.4px,#00ff9b 824.4px,#00fd55 833.4px,#50ff43 834.4px,#72ff22 836.4px)"></div>
<div class="s" style="top:584.2px;height:26.6px;-webkit-mask-image:linear-gradient(180deg,transparent,#000 20.0px);mask-image:linear-gradient(180deg,transparent,#000 20.0px);background:linear-gradient(90deg,#960000 0.0px,#960000 3.0px,#ff4400 4.0px,#0069ff 5.0px,#000087 6.0px,#000087 15.0px,#ffb700 16.0px,#960000 17.0px,#960000 49.0px,#00ff72 50.0px,#000087 51.0px,#000087 98.0px,#00008b 99.0px,#0000cb 100.0px,#0019ff 101.0px,#00cbff 103.0px,#00ffdb 104.0px,#00ff8c 105.1px,#00fd56 106.1px,#8eff08 107.1px,#fdff00 109.1px,#ffea00 110.1px,#ffbb00 113.1px,#ff9100 114.1px,#ff4300 115.1px,#e60000 116.1px,#960000 117.1px,#960000 148.1px,#ad0000 149.1px,#fc0000 150.1px,#ffa400 152.1px,#ffe200 153.1px,#f3ff00 154.1px,#aaff00 156.1px,#8aff0c 157.1px,#66ff2e 158.1px,#00fd55 159.1px,#00ff8e 161.1px,#00f9ff 164.1px,#00bcff 165.1px,#0054ff 166.1px,#0000da 167.1px,#000087 168.1px,#000087 183.1px,#0009ff 185.1px,#00bfff 187.1px,#00ffde 188.1px,#00ff78 189.1px,#8aff0c 190.1px,#f7ff00 191.1px,#ffbd00 192.1px,#ff5600 194.1px,#ff3b00 195.1px,#ff3600 196.1px,#ff3e00 197.1px,#ff6c00 199.1px,#ffe600 202.1px,#ddff00 203.1px,#98ff00 204.1px,#00fc52 205.1px,#00fff7 208.1px,#00d6ff 209.1px,#0067ff 212.1px,#0046ff 214.1px,#0046ff 215.1px,#0071ff 218.1px,#00f1ff 222.1px,#00ffe4 223.1px,#00ff62 226.1px,#5eff36 227.1px,#96ff00 228.1px,#ebff00 230.1px,#fff300 231.1px,#ffce00 233.1px,#ffc200 235.1px,#ffcf00 239.1px,#fffb00 245.1px,#d8ff00 249.1px,#99ff00 253.1px,#57ff3d 256.1px,#00fd55 257.1px,#00fffc 267.1px,#00f4ff 268.1px,#00b4ff 274.1px,#00a4ff 279.1px,#00c5ff 289.1px,#00dfff 293.1px,#00feff 295.1px,#00ffb4 297.1px,#00fd54 299.1px,#97ff00 300.1px,#e4ff00 301.1px,#ffd700 302.1px,#ff2500 305.1px,#ee0000 306.1px,#960000 308.1px,#960000 323.2px,#c10000 324.2px,#ff0700 325.2px,#ffd600 328.2px,#edff00 329.2px,#a1ff00 330.2px,#00fc53 331.2px,#00ffdb 333.2px,#00dbff 334.2px,#0017ff 337.2px,#0000e1 338.2px,#00008c 340.2px,#000087 347.2px,#00008e 348.2px,#0000ea 351.2px,#000fff 352.2px,#00a9ff 356.2px,#00fff7 359.2px,#00ff63 363.2px,#56ff3d 364.2px,#8dff09 365.2px,#edff00 367.2px,#ffe900 368.2px,#ff6700 372.2px,#ff0500 376.2px,#da0000 379.2px,#d20000 381.2px,#f20000 384.2px,#ff0800 385.2px,#feff00 395.2px,#8dff08 398.2px,#61ff33 399.2px,#00fe5a 400.2px,#00fff1 405.2px,#00f2ff 406.2px,#008aff 411.2px,#006bff 414.2px,#0067ff 416.2px,#008cff 420.2px,#00f6ff 425.2px,#00ffec 426.2px,#00fd5a 431.2px,#5fff35 432.2px,#87ff0e 433.2px,#abff00 434.2px,#fffc00 437.2px,#ffcc00 440.2px,#ffb800 443.2px,#ffca00 446.2px,#fcff00 449.2px,#95ff01 452.2px,#69ff2b 453.2px,#00fd56 454.2px,#00ffe3 459.2px,#00fffa 460.2px,#00f2ff 461.2px,#00d7ff 464.2px,#00e2ff 466.2px,#00fff8 468.2px,#00ff66 473.2px,#00fd54 474.2px,#63ff31 475.2px,#8fff07 477.2px,#97ff00 478.2px,#88ff0e 480.2px,#5aff39 482.2px,#00fd57 483.2px,#00ffd8 489.2px,#00ffed 492.2px,#00ffc5 496.2px,#00fd57 502.2px,#55ff3f 503.2px,#80ff16 505.2px,#99ff00 507.2px,#feff00 522.2px,#fff100 529.3px,#fff800 533.3px,#ebff00 535.3px,#a3ff00 538.3px,#83ff12 539.3px,#5eff35 540.3px,#00fd59 541.3px,#00f7ff 547.3px,#00abff 550.3px,#0070ff 553.3px,#004aff 557.3px,#004fff 559.3px,#006dff 562.3px,#00f5ff 569.3px,#00fff3 570.3px,#00ffa3 574.3px,#00ff78 578.3px,#00ff64 594.3px,#00fc51 597.3px,#61ff33 598.3px,#9dff00 600.3px,#fcff00 603.3px,#ffe800 604.3px,#ffa200 607.3px,#ff6c00 610.3px,#ff5a00 612.3px,#ff5800 614.3px,#ff7d00 620.3px,#fff100 628.3px,#f9ff00 629.3px,#91ff05 633.3px,#53ff41 635.3px,#00fe5b 636.3px,#00fff5 643.3px,#00f4ff 644.3px,#009aff 649.3px,#0062ff 653.3px,#003dff 657.3px,#0030ff 661.3px,#003bff 663.3px,#006bff 666.3px,#00faff 671.3px,#00ff68 675.3px,#52ff42 676.3px,#89ff0c 677.3px,#e9ff00 679.3px,#ffed00 680.3px,#ff9000 683.3px,#ff4900 686.3px,#ff2100 689.3px,#ff1c00 691.3px,#ff2900 693.3px,#ff5a00 696.3px,#feff00 702.3px,#a8ff00 704.3px,#79ff1c 705.3px,#00fc52 706.3px,#00fcff 712.3px,#00c7ff 715.3px,#00b6ff 718.3px,#00d7ff 744.4px,#00fbff 750.4px,#00ffd4 754.4px,#00fd54 763.4px,#57ff3d 764.4px,#96ff00 767.4px,#ffff00 774.4px,#ffdc00 781.4px,#f9ff00 789.4px,#91ff05 796.4px,#58ff3b 799.4px,#00fc52 800.4px,#00ffa9 809.4px,#00ffb6 816.4px,#00ff9d 823.4px,#00fc52 833.4px,#56ff3d 834.4px,#79ff1c 836.4px)"></div>
<div class="s" style="top:604.2px;height:12.7px;-webkit-mask-image:linear-gradient(180deg,transparent,#000 6.1px);mask-image:linear-gradient(180deg,transparent,#000 6.1px);background:linear-gradient(90deg,#960000 0.0px,#960000 3.0px,#ffe600 4.0px,#00afff 5.0px,#000087 6.0px,#000087 15.0px,#00ffad 16.0px,#960000 17.0px,#960000 49.0px,#d8ff00 50.0px,#000087 51.0px,#000087 99.0px,#006eff 100.0px,#00fff4 103.0px,#00ff8a 105.1px,#00ff62 106.1px,#52ff41 107.1px,#7eff17 108.1px,#a1ff00 109.1px,#ddff00 113.1px,#f8ff00 114.1px,#ffd900 115.1px,#ff6e00 117.1px,#960000 118.1px,#960000 148.1px,#ff6c00 149.1px,#fffd00 152.1px,#cbff00 153.1px,#90ff06 155.1px,#4dff46 158.1px,#00fd5a 159.1px,#00ffa6 163.1px,#00ffe6 165.1px,#00d9ff 166.1px,#008dff 167.1px,#000087 168.1px,#000087 183.1px,#006eff 184.1px,#00d3ff 186.1px,#00fff2 187.1px,#00ff76 189.1px,#a0ff00 191.1px,#daff00 192.1px,#fff600 193.1px,#ffca00 195.1px,#ffc600 196.1px,#ffd500 198.1px,#fffa00 200.1px,#e5ff00 201.1px,#98ff00 203.1px,#69ff2c 204.1px,#00fd59 205.1px,#00fffa 210.1px,#00edff 211.1px,#00ceff 213.1px,#00c6ff 215.1px,#00d4ff 217.1px,#00fffc 220.1px,#00fd54 227.1px,#64ff30 228.1px,#9fff00 230.1px,#d4ff00 233.1px,#dfff00 235.1px,#d0ff00 240.1px,#95ff01 249.1px,#4fff45 255.1px,#00fd55 256.1px,#00ffdb 270.1px,#00fffd 278.1px,#00fff0 286.1px,#00ffcd 294.1px,#00ffab 296.1px,#00fd59 299.1px,#6aff2a 300.1px,#9eff00 301.1px,#fcff00 303.1px,#ff7e00 307.1px,#960000 308.1px,#960000 312.1px,#960000 323.2px,#ff7d00 324.2px,#fffb00 327.2px,#a4ff00 329.2px,#72ff23 330.2px,#00fd58 331.2px,#00faff 335.2px,#006aff 339.2px,#000087 340.2px,#000087 347.2px,#0051ff 348.2px,#00fffa 356.2px,#00fd54 364.2px,#64ff30 365.2px,#a4ff00 367.2px,#f6ff00 370.2px,#fff200 371.2px,#ffa400 376.2px,#ff8700 381.2px,#ff9a00 384.2px,#fff700 390.2px,#e5ff00 392.2px,#93ff02 396.2px,#5fff35 398.2px,#00fc53 399.2px,#00ffdc 407.2px,#00faff 410.2px,#00e2ff 413.2px,#00dcff 416.2px,#00fcff 421.2px,#00ffd8 424.2px,#00fc53 432.2px,#5cff38 433.2px,#9dff00 436.2px,#dcff00 441.2px,#e0ff00 445.2px,#ccff00 447.2px,#99ff00 450.2px,#82ff13 451.2px,#4eff45 453.2px,#00fe5b 454.2px,#00ffbe 460.2px,#00ffdc 464.2px,#00ffcc 467.2px,#00ff66 473.2px,#00fc52 475.2px,#57ff3c 476.2px,#67ff2d 478.2px,#52ff41 481.2px,#00fd54 482.2px,#00ffaa 489.2px,#00ffb6 492.2px,#00ffa7 495.2px,#00fd55 503.2px,#4fff45 504.2px,#5aff39 505.2px,#92ff03 515.2px,#9eff00 518.2px,#dbff00 519.2px,#efff00 524.3px,#f8ff00 532.3px,#d7ff00 535.3px,#97ff00 538.3px,#58ff3c 540.3px,#00fd5a 541.3px,#00fff7 547.3px,#00efff 548.3px,#008dff 553.3px,#006fff 556.3px,#006bff 558.3px,#008bff 562.3px,#00fff8 569.3px,#00ff9b 574.3px,#00ff7a 577.3px,#00ff64 594.3px,#00fd53 597.3px,#59ff3a 598.3px,#8fff06 600.3px,#fffc00 604.3px,#ff9b00 609.3px,#ff7900 613.3px,#ff7f00 616.3px,#ff9a00 620.3px,#fbff00 628.3px,#a1ff00 632.3px,#87ff0e 633.3px,#4fff44 635.3px,#00fe5b 636.3px,#00fff8 644.3px,#00f4ff 645.3px,#00a6ff 650.3px,#0078ff 654.3px,#005bff 658.3px,#0054ff 661.3px,#0076ff 665.3px,#00fff6 671.3px,#00ff69 675.3px,#00fc50 676.3px,#7cff19 677.3px,#abff00 678.3px,#feff00 680.3px,#ffe200 681.3px,#ff6c00 686.3px,#ff4800 689.3px,#ff4300 691.3px,#ff4f00 693.3px,#ff7b00 696.3px,#fff300 701.3px,#e9ff00 702.3px,#9cff00 704.3px,#71ff24 705.3px,#00fc53 706.3px,#00ffda 711.3px,#00f9ff 713.3px,#00d2ff 716.3px,#00cbff 720.3px,#00e4ff 742.4px,#00ffff 749.4px,#00ffcc 754.4px,#00fd58 763.4px,#4eff45 764.4px,#87ff0e 767.4px,#99ff00 768.4px,#deff00 773.4px,#fffb00 777.4px,#fff000 781.4px,#fffd00 786.4px,#e6ff00 789.4px,#98ff00 795.4px,#54ff3f 799.4px,#00fc53 800.4px,#00ffa1 809.4px,#00ffad 816.4px,#00ff96 823.4px,#00fc53 833.4px,#53ff41 834.4px,#72ff23 836.4px)"></div>
<div class="s" style="top:610.3px;height:26.6px;-webkit-mask-image:linear-gradient(180deg,transparent,#000 6.1px);mask-image:linear-gradient(180deg,transparent,#000 6.1px);background:linear-gradient(90deg,#960000 0.0px,#960000 3.0px,#ff9700 4.0px,#0000cd 5.0px,#000087 6.0px,#000087 15.0px,#0000b6 16.0px,#ff2200 17.0px,#960000 18.0px,#960000 49.0px,#f00000 50.0px,#0000b7 51.0px,#000087 52.0px,#000087 99.0px,#0000a1 100.0px,#0000e6 101.0px,#003aff 102.0px,#00ecff 104.0px,#00ffbc 105.1px,#00ff73 106.1px,#5bff39 107.1px,#a4ff00 108.1px,#ddff00 109.1px,#fff900 110.1px,#ffc700 113.1px,#ffaa00 114.1px,#ff6800 115.1px,#ff0e00 116.1px,#b20000 117.1px,#960000 118.1px,#960000 149.1px,#d70000 150.1px,#ff2d00 151.1px,#ffca00 153.1px,#fffa00 154.1px,#95ff01 157.1px,#71ff24 158.1px,#00fc50 159.1px,#00ff64 160.1px,#00ffa8 162.1px,#00fffa 164.1px,#00ceff 165.1px,#006bff 166.1px,#0000ec 167.1px,#000087 168.1px,#000087 183.1px,#0000ac 184.1px,#0000f3 185.1px,#004bff 186.1px,#00fff5 188.1px,#00ff8e 189.1px,#6eff27 190.1px,#e1ff00 191.1px,#ffcb00 192.1px,#ff5d00 194.1px,#ff4000 195.1px,#ff3700 196.1px,#ff3e00 197.1px,#ff6900 199.1px,#ffe300 202.1px,#e1ff00 203.1px,#9bff00 204.1px,#00fc51 205.1px,#00fff9 208.1px,#00d3ff 209.1px,#0060ff 212.1px,#003eff 214.1px,#003cff 215.1px,#0066ff 218.1px,#00e6ff 222.1px,#00ffef 223.1px,#00ff69 226.1px,#54ff3f 227.1px,#8dff08 228.1px,#e8ff00 230.1px,#fff400 231.1px,#ffbf00 234.1px,#ffba00 236.1px,#ffcc00 240.1px,#ffff00 246.1px,#9cff00 253.1px,#58ff3c 256.1px,#00fd55 257.1px,#00fbff 267.1px,#00bdff 272.1px,#00a2ff 277.1px,#00b3ff 285.1px,#00efff 294.1px,#00fff8 295.1px,#00ffd6 296.1px,#00ff7a 298.1px,#4eff45 299.1px,#9fff00 300.1px,#ebff00 301.1px,#ffd300 302.1px,#ff2400 305.1px,#ee0000 306.1px,#960000 308.1px,#960000 323.2px,#b40000 324.2px,#f90000 325.2px,#ffcb00 328.2px,#f9ff00 329.2px,#acff00 330.2px,#00ff8b 332.2px,#00ffd7 333.2px,#00ddff 334.2px,#0012ff 337.2px,#0000da 338.2px,#000087 340.2px,#000087 348.2px,#0000e3 351.2px,#0008ff 352.2px,#00a7ff 356.2px,#00fff6 359.2px,#00fe61 363.2px,#5eff36 364.2px,#96ff00 365.2px,#f7ff00 367.2px,#ff5d00 372.2px,#ff0e00 375.2px,#f80000 376.2px,#cd0000 379.2px,#c50000 381.2px,#d50000 383.2px,#fd0000 385.2px,#faff00 395.2px,#afff00 397.2px,#86ff10 398.2px,#59ff3b 399.2px,#00fe5e 400.2px,#00fffa 405.2px,#00eaff 406.2px,#0082ff 411.2px,#0064ff 414.2px,#0061ff 416.2px,#0087ff 420.2px,#00f2ff 425.2px,#00fff1 426.2px,#00fe5c 431.2px,#5aff3a 432.2px,#82ff13 433.2px,#a7ff00 434.2px,#fffd00 437.2px,#ffcc00 440.2px,#ffb600 443.2px,#ffc500 446.2px,#fffb00 449.2px,#9dff00 452.2px,#72ff23 453.2px,#00fc53 454.2px,#00ffe1 459.2px,#00fff9 460.2px,#00f2ff 461.2px,#00d9ff 463.2px,#00d4ff 465.2px,#00fffe 468.2px,#00ff69 473.2px,#00fd55 474.2px,#61ff33 475.2px,#8fff07 477.2px,#97ff00 478.2px,#88ff0e 480.2px,#5aff39 482.2px,#00fd57 483.2px,#00ffd8 489.2px,#00ffed 492.2px,#00ffd3 495.2px,#00fd55 502.2px,#5aff3a 503.2px,#92ff04 506.2px,#cfff00 514.2px,#fcff00 522.2px,#fff300 530.3px,#fffa00 533.3px,#e9ff00 535.3px,#a3ff00 538.3px,#83ff13 539.3px,#5eff35 540.3px,#00fd59 541.3px,#00f8ff 547.3px,#00acff 550.3px,#0071ff 553.3px,#004cff 557.3px,#0050ff 559.3px,#006fff 562.3px,#00f7ff 569.3px,#00fff1 570.3px,#00ffa0 574.3px,#00ff7b 577.3px,#00ff64 594.3px,#00fc52 597.3px,#5eff35 598.3px,#99ff00 600.3px,#f6ff00 603.3px,#ffed00 604.3px,#ffa700 607.3px,#ff7200 610.3px,#ff5e00 612.3px,#ff5b00 614.3px,#ff6600 617.3px,#ff8900 621.3px,#faff00 629.3px,#94ff02 633.3px,#56ff3d 635.3px,#00fd59 636.3px,#00f8ff 644.3px,#009eff 649.3px,#0066ff 653.3px,#0040ff 657.3px,#0033ff 661.3px,#003cff 663.3px,#006aff 666.3px,#00f7ff 671.3px,#00ffe2 672.3px,#00ff6b 675.3px,#4dff46 676.3px,#84ff11 677.3px,#b6ff00 678.3px,#e5ff00 679.3px,#fff000 680.3px,#ff9300 683.3px,#ff4c00 686.3px,#ff2300 689.3px,#ff1e00 691.3px,#ff2b00 693.3px,#ff5b00 696.3px,#feff00 702.3px,#a9ff00 704.3px,#7bff1a 705.3px,#00fc51 706.3px,#00feff 712.3px,#00c8ff 715.3px,#00b5ff 718.3px,#00d3ff 744.4px,#00feff 751.4px,#00fd58 763.4px,#4fff44 764.4px,#7aff1b 766.4px,#a2ff00 768.4px,#f0ff00 773.4px,#fff800 775.4px,#ffdc00 782.4px,#fbff00 789.4px,#95ff01 796.4px,#5dff37 799.4px,#00fc50 800.4px,#00ffa6 809.4px,#00ffb4 816.4px,#00ff9b 823.4px,#00fc50 833.4px,#5aff39 834.4px,#7dff18 836.4px)"></div>
<div class="s" style="top:616.4px;height:44.8px;-webkit-mask-image:linear-gradient(180deg,transparent,#000 20.0px);mask-image:linear-gradient(180deg,transparent,#000 20.0px);background:linear-gradient(90deg,#960000 0.0px,#960000 3.0px,#bfff00 4.0px,#000087 5.0px,#000087 10.0px,#000087 17.0px,#a6ff00 18.0px,#960000 19.0px,#960000 21.0px,#960000 50.0px,#ff9e00 51.0px,#000087 52.0px,#000087 100.0px,#00009f 101.0px,#0000e3 102.0px,#0037ff 103.0px,#00eaff 105.1px,#00ffbe 106.1px,#00ff75 107.1px,#9eff00 109.1px,#fffe00 111.1px,#ffc500 114.1px,#ff9c00 115.1px,#ef0000 117.1px,#980000 118.1px,#960000 119.1px,#960000 149.1px,#9f0000 150.1px,#ec0000 151.1px,#ff4400 152.1px,#ff9800 153.1px,#ffdb00 154.1px,#f6ff00 155.1px,#a7ff00 157.1px,#82ff13 158.1px,#5bff38 159.1px,#00fe5c 160.1px,#00ffe7 164.1px,#00e6ff 165.1px,#0092ff 166.1px,#0010ff 167.1px,#000091 168.1px,#000087 169.1px,#000087 183.1px,#00008d 184.1px,#0000d2 185.1px,#0025ff 186.1px,#00e3ff 188.1px,#00ffb4 189.1px,#00fd56 190.1px,#bcff00 191.1px,#ffe300 192.1px,#ff6b00 194.1px,#ff4800 195.1px,#ff3900 196.1px,#ff3d00 197.1px,#ff6500 199.1px,#ffdd00 202.1px,#e8ff00 203.1px,#a0ff00 204.1px,#00ff81 206.1px,#00fffc 208.1px,#009fff 210.1px,#0055ff 212.1px,#002fff 214.1px,#002dff 215.1px,#0041ff 217.1px,#006eff 219.1px,#00fdff 223.1px,#00fd54 227.1px,#7eff17 228.1px,#b3ff00 229.1px,#fff700 231.1px,#ffb700 234.1px,#ffac00 236.1px,#ffc300 241.1px,#ffff00 247.1px,#c8ff00 251.1px,#90ff06 254.1px,#5eff36 256.1px,#00fc53 257.1px,#00fffd 266.1px,#00f0ff 267.1px,#00b1ff 272.1px,#009fff 277.1px,#00bcff 286.1px,#00faff 294.1px,#00ffc8 296.1px,#00ff6c 298.1px,#60ff34 299.1px,#adff00 300.1px,#f7ff00 301.1px,#ff2200 305.1px,#ec0000 306.1px,#960000 308.1px,#960000 323.2px,#a00000 324.2px,#e20000 325.2px,#ff2b00 326.2px,#fff500 329.2px,#beff00 330.2px,#63ff31 331.2px,#00ff7f 332.2px,#00ffce 333.2px,#00e2ff 334.2px,#000bff 337.2px,#00009c 339.2px,#000087 340.2px,#000090 349.2px,#0000fc 352.2px,#00a4ff 356.2px,#00e9ff 358.2px,#00fff4 359.2px,#00fe5c 363.2px,#6aff2a 364.2px,#a2ff00 365.2px,#d4ff00 366.2px,#fff900 367.2px,#ff4b00 372.2px,#f90000 375.2px,#c20000 378.2px,#af0000 381.2px,#c10000 383.2px,#ee0000 385.2px,#ff0b00 386.2px,#ff8500 390.2px,#ffec00 394.2px,#f3ff00 395.2px,#a5ff00 397.2px,#79ff1c 398.2px,#00fc50 399.2px,#00ff66 400.2px,#00ffea 404.2px,#00f6ff 405.2px,#0084ff 410.2px,#005dff 413.2px,#0054ff 415.2px,#005aff 417.2px,#007dff 420.2px,#00fff9 426.2px,#00fe61 431.2px,#51ff42 432.2px,#a0ff00 434.2px,#fdff00 437.2px,#ffed00 438.2px,#ffc100 441.2px,#ffb100 444.2px,#ffbd00 446.2px,#fff000 449.2px,#f3ff00 450.2px,#aaff00 452.2px,#80ff15 453.2px,#52ff41 454.2px,#00ff62 455.2px,#00ffde 459.2px,#00fff8 460.2px,#00f1ff 461.2px,#00d5ff 463.2px,#00cdff 465.2px,#00f6ff 468.2px,#00ffee 469.2px,#00fd58 474.2px,#5eff36 475.2px,#8eff08 477.2px,#97ff00 478.2px,#88ff0e 480.2px,#5aff39 482.2px,#00fd57 483.2px,#00ffd8 489.2px,#00ffed 492.2px,#00ffd2 495.2px,#00fc51 502.2px,#62ff32 503.2px,#96ff00 506.2px,#f8ff00 522.2px,#fffd00 533.3px,#d3ff00 536.3px,#a2ff00 538.3px,#82ff13 539.3px,#5eff35 540.3px,#00fd58 541.3px,#00faff 547.3px,#00aeff 550.3px,#0073ff 553.3px,#004eff 557.3px,#0052ff 559.3px,#0071ff 562.3px,#00fbff 569.3px,#00ff9b 574.3px,#00ff76 577.3px,#00ff64 594.3px,#00fc53 597.3px,#5aff39 598.3px,#93ff03 600.3px,#eeff00 603.3px,#fff400 604.3px,#ff7a00 610.3px,#ff6100 614.3px,#ff6a00 617.3px,#ff8b00 621.3px,#fcff00 629.3px,#98ff00 633.3px,#5cff38 635.3px,#00fd56 636.3px,#00feff 644.3px,#00a5ff 649.3px,#006cff 653.3px,#0046ff 657.3px,#0036ff 661.3px,#003dff 663.3px,#0069ff 666.3px,#0098ff 668.3px,#00f3ff 671.3px,#00ffe7 672.3px,#00fc53 676.3px,#7dff18 677.3px,#b0ff00 678.3px,#fff500 680.3px,#ff6500 685.3px,#ff3100 688.3px,#ff2200 690.3px,#ff2600 692.3px,#ff4b00 695.3px,#ff8c00 698.3px,#ffff00 702.3px,#abff00 704.3px,#7eff17 705.3px,#4dff46 706.3px,#00ff65 707.3px,#00fffd 712.3px,#00ebff 713.3px,#00b7ff 717.3px,#00b5ff 724.3px,#00ceff 745.4px,#00feff 752.4px,#00fd54 764.4px,#58ff3b 765.4px,#99ff00 768.4px,#dcff00 772.4px,#fffb00 775.4px,#ffdc00 782.4px,#ffff00 789.4px,#9bff00 796.4px,#51ff42 800.4px,#00fd55 801.4px,#00ffa7 810.4px,#00ffaf 817.4px,#00ff97 823.4px,#00fd55 832.4px,#50ff43 833.4px,#84ff12 836.4px)"></div>
<div class="s" style="top:636.4px;height:47.4px;-webkit-mask-image:linear-gradient(180deg,transparent,#000 24.3px);mask-image:linear-gradient(180deg,transparent,#000 24.3px);background:linear-gradient(90deg,#960000 0.0px,#960000 3.0px,#00ffdc 4.0px,#000087 5.0px,#000087 10.0px,#000087 19.0px,#a50000 20.0px,#960000 21.0px,#960000 51.0px,#ffb300 52.0px,#000087 53.0px,#000087 101.0px,#000090 102.0px,#0000d1 103.0px,#0021ff 104.0px,#00d5ff 106.1px,#00ffd2 107.1px,#00ff86 108.1px,#00fd55 109.1px,#87ff0e 110.1px,#eeff00 112.1px,#fff000 113.1px,#ffc600 115.1px,#ff9500 116.1px,#ff4000 117.1px,#de0000 118.1px,#960000 119.1px,#960000 150.1px,#a40000 151.1px,#f40000 152.1px,#ffa100 154.1px,#ffe300 155.1px,#edff00 156.1px,#9bff00 158.1px,#72ff23 159.1px,#00fc52 160.1px,#00ffad 163.1px,#00feff 165.1px,#00bfff 166.1px,#0044ff 167.1px,#0000b4 168.1px,#000087 169.1px,#000087 184.1px,#0000aa 185.1px,#0000f6 186.1px,#00b5ff 188.1px,#00ffe4 189.1px,#00ff7a 190.1px,#8aff0b 191.1px,#faff00 192.1px,#ffba00 193.1px,#ff7f00 194.1px,#ff5500 195.1px,#ff3e00 196.1px,#ff3d00 197.1px,#ff6000 199.1px,#ffd600 202.1px,#f1ff00 203.1px,#a8ff00 204.1px,#00ff7f 206.1px,#00fffe 208.1px,#00caff 209.1px,#0049ff 212.1px,#001eff 214.1px,#001aff 215.1px,#002cff 217.1px,#0059ff 219.1px,#00e7ff 223.1px,#00ffeb 224.1px,#00fe5f 227.1px,#69ff2b 228.1px,#a4ff00 229.1px,#fffc00 231.1px,#ffb100 234.1px,#ff9b00 237.1px,#ffb600 242.1px,#fff800 248.1px,#f8ff00 249.1px,#a4ff00 254.1px,#8dff09 255.1px,#55ff3f 257.1px,#00fd59 258.1px,#00fff5 265.1px,#00f5ff 266.1px,#00acff 271.1px,#009cff 275.1px,#00b2ff 283.1px,#00faff 293.1px,#00ffd7 295.1px,#00fe5c 298.1px,#7aff1b 299.1px,#c2ff00 300.1px,#fff700 301.1px,#ff1d00 305.1px,#e90000 306.1px,#960000 308.1px,#960000 324.2px,#c70000 325.2px,#ff1000 326.2px,#ffe200 329.2px,#d7ff00 330.2px,#7dff18 331.2px,#00ff6e 332.2px,#00ffc2 333.2px,#00e9ff 334.2px,#0003ff 337.2px,#00008c 339.2px,#000087 340.2px,#000087 349.2px,#0000a0 350.2px,#0000f0 352.2px,#001dff 353.2px,#00c7ff 357.2px,#00fff2 359.2px,#00fd56 363.2px,#79ff1c 364.2px,#b1ff00 365.2px,#e5ff00 366.2px,#ffeb00 367.2px,#ff5700 371.2px,#fa0000 374.2px,#b70000 377.2px,#960000 380.2px,#9a0000 382.2px,#a90000 383.2px,#fa0000 386.2px,#ff8200 390.2px,#fff000 394.2px,#ebff00 395.2px,#99ff00 397.2px,#6aff2b 398.2px,#00fd58 399.2px,#00fffc 404.2px,#00e5ff 405.2px,#0072ff 410.2px,#004dff 413.2px,#0045ff 415.2px,#004dff 417.2px,#0072ff 420.2px,#00aeff 423.2px,#00fbff 426.2px,#00ff67 431.2px,#00fc52 432.2px,#6fff25 433.2px,#98ff00 434.2px,#f7ff00 437.2px,#fff100 438.2px,#ffb700 442.2px,#ffad00 445.2px,#ffbf00 447.2px,#fffb00 450.2px,#94ff02 453.2px,#64ff30 454.2px,#00fe5a 455.2px,#00fff5 460.2px,#00f2ff 461.2px,#00d2ff 463.2px,#00c6ff 465.2px,#00d7ff 467.2px,#00fffa 469.2px,#00fe5b 474.2px,#5aff3a 475.2px,#8dff08 477.2px,#97ff00 478.2px,#88ff0e 480.2px,#5aff39 482.2px,#00fd57 483.2px,#00ffd8 489.2px,#00ffed 492.2px,#00ffd0 495.2px,#00fd59 501.2px,#54ff40 502.2px,#91ff05 505.2px,#c8ff00 513.2px,#f0ff00 521.2px,#feff00 526.3px,#fdff00 533.3px,#d1ff00 536.3px,#a1ff00 538.3px,#82ff13 539.3px,#5fff35 540.3px,#00fd58 541.3px,#00fcff 547.3px,#00b0ff 550.3px,#0075ff 553.3px,#0050ff 557.3px,#0054ff 559.3px,#0075ff 562.3px,#00fffe 569.3px,#00ff95 574.3px,#00ff71 577.3px,#00ff64 594.3px,#00fd55 597.3px,#55ff3e 598.3px,#8bff0a 600.3px,#fffd00 604.3px,#ff8500 610.3px,#ff6800 614.3px,#ff7000 617.3px,#ff8e00 621.3px,#feff00 629.3px,#9dff00 633.3px,#62ff32 635.3px,#00fc53 636.3px,#00fff8 644.3px,#00f3ff 645.3px,#009dff 650.3px,#0068ff 654.3px,#0046ff 658.3px,#003bff 662.3px,#0049ff 664.3px,#0067ff 666.3px,#0095ff 668.3px,#00eeff 671.3px,#00ffed 672.3px,#00fd57 676.3px,#73ff21 677.3px,#a8ff00 678.3px,#fffb00 680.3px,#ff6a00 685.3px,#ff3600 688.3px,#ff2700 690.3px,#ff2b00 692.3px,#ff4f00 695.3px,#ff8e00 698.3px,#fffe00 702.3px,#aeff00 704.3px,#81ff14 705.3px,#51ff42 706.3px,#00ff62 707.3px,#00fff9 712.3px,#00efff 713.3px,#00b7ff 717.3px,#00b2ff 723.3px,#00c8ff 746.4px,#00fcff 753.4px,#00fc51 765.4px,#5fff34 766.4px,#a0ff00 769.4px,#feff00 775.4px,#ffdc00 782.4px,#f8ff00 790.4px,#91ff05 797.4px,#5aff3a 800.4px,#00fc51 801.4px,#00ff9b 809.4px,#00ffad 814.4px,#00ff98 822.4px,#00fc51 832.4px,#58ff3c 833.4px,#8cff0a 836.4px)"></div>
<div class="s" style="top:660.7px;height:35.3px;-webkit-mask-image:linear-gradient(180deg,transparent,#000 22.6px);mask-image:linear-gradient(180deg,transparent,#000 22.6px);background:linear-gradient(90deg,#960000 0.0px,#960000 3.0px,#0028ff 4.0px,#000087 5.0px,#000087 20.0px,#00fe5e 21.0px,#960000 22.0px,#960000 52.0px,#fbff00 53.0px,#000087 54.0px,#000087 103.0px,#0000c5 104.0px,#0013ff 105.1px,#00c7ff 107.1px,#00ffe0 108.1px,#00ff91 109.1px,#00fe5b 110.1px,#77ff1d 111.1px,#b0ff00 112.1px,#fff800 114.1px,#ffc300 116.1px,#ff8500 117.1px,#ff2a00 118.1px,#c80000 119.1px,#960000 120.1px,#960000 151.1px,#af0000 152.1px,#ff0300 153.1px,#ffb000 155.1px,#ffed00 156.1px,#e1ff00 157.1px,#8aff0c 159.1px,#5dff37 160.1px,#00fe5d 161.1px,#00ffea 165.1px,#00e1ff 166.1px,#0078ff 167.1px,#0000dd 168.1px,#000087 169.1px,#000087 185.1px,#0000d0 186.1px,#0027ff 187.1px,#00edff 189.1px,#00ffa5 190.1px,#55ff3f 191.1px,#d1ff00 192.1px,#ffd400 193.1px,#ff9300 194.1px,#ff6200 195.1px,#ff4500 196.1px,#ff3e00 197.1px,#ff4600 198.1px,#ff7900 200.1px,#faff00 203.1px,#b0ff00 204.1px,#00ff7b 206.1px,#00ffff 208.1px,#00c6ff 209.1px,#003eff 212.1px,#000fff 214.1px,#0009ff 215.1px,#0019ff 217.1px,#0044ff 219.1px,#0084ff 221.1px,#00feff 224.1px,#00ff6e 227.1px,#53ff40 228.1px,#93ff03 229.1px,#f9ff00 231.1px,#ffe300 232.1px,#ff9c00 235.1px,#ff8c00 238.1px,#ffaa00 243.1px,#fffe00 250.1px,#a5ff00 255.1px,#8cff0a 256.1px,#4bff48 258.1px,#00fe60 259.1px,#00ffff 265.1px,#00e9ff 266.1px,#00a8ff 270.1px,#0099ff 274.1px,#00b4ff 282.1px,#00fffb 292.1px,#00ffda 294.1px,#00ff6e 297.1px,#53ff41 298.1px,#99ff00 299.1px,#dbff00 300.1px,#ffe600 301.1px,#ff1600 305.1px,#e40000 306.1px,#960000 308.1px,#960000 324.2px,#ae0000 325.2px,#f50000 326.2px,#ffcf00 329.2px,#eeff00 330.2px,#97ff00 331.2px,#00fe60 332.2px,#00f2ff 334.2px,#0000fc 337.2px,#0000b9 338.2px,#000087 339.2px,#000087 349.2px,#000090 350.2px,#0000e4 352.2px,#0012ff 353.2px,#009dff 356.2px,#00e9ff 358.2px,#00fff0 359.2px,#00fc51 363.2px,#87ff0e 364.2px,#f5ff00 366.2px,#ffde00 367.2px,#ff0300 373.2px,#b30000 376.2px,#960000 378.2px,#960000 383.2px,#aa0000 384.2px,#eb0000 386.2px,#ff1200 387.2px,#ff8000 390.2px,#fff500 394.2px,#e4ff00 395.2px,#8eff08 397.2px,#5cff38 398.2px,#00fe5f 399.2px,#00ffea 403.2px,#00f4ff 404.2px,#00a1ff 407.2px,#0063ff 410.2px,#003eff 413.2px,#0038ff 415.2px,#0041ff 417.2px,#0068ff 420.2px,#00a5ff 423.2px,#00f3ff 426.2px,#00ffee 427.2px,#00fd57 432.2px,#66ff2e 433.2px,#8fff07 434.2px,#f1ff00 437.2px,#fff400 438.2px,#ffb600 442.2px,#ffa800 445.2px,#ffb500 447.2px,#ffee00 450.2px,#f3ff00 451.2px,#a4ff00 453.2px,#76ff1f 454.2px,#00fc53 455.2px,#00fff1 460.2px,#00f4ff 461.2px,#00d0ff 463.2px,#00c0ff 465.2px,#00cdff 467.2px,#00f8ff 469.2px,#00fe5e 474.2px,#56ff3e 475.2px,#8dff09 477.2px,#97ff00 478.2px,#88ff0e 480.2px,#5aff39 482.2px,#00fd57 483.2px,#00ffd8 489.2px,#00ffed 492.2px,#00ffce 495.2px,#00fd54 501.2px,#5dff36 502.2px,#95ff00 505.2px,#e4ff00 519.2px,#feff00 531.3px,#efff00 534.3px,#a0ff00 538.3px,#5fff35 540.3px,#00fd58 541.3px,#00fdff 547.3px,#00b2ff 550.3px,#0078ff 553.3px,#0052ff 557.3px,#0057ff 559.3px,#0077ff 562.3px,#00fff8 569.3px,#00ff8f 574.3px,#00ff6c 577.3px,#00ff64 594.3px,#00fd56 597.3px,#51ff42 598.3px,#a1ff00 601.3px,#f7ff00 604.3px,#ffef00 605.3px,#ff8f00 610.3px,#ff6e00 614.3px,#ff7500 617.3px,#ff9100 621.3px,#ffff00 629.3px,#a0ff00 633.3px,#68ff2c 635.3px,#00fc50 636.3px,#00f9ff 645.3px,#00a4ff 650.3px,#006fff 654.3px,#004cff 658.3px,#003fff 662.3px,#004aff 664.3px,#0066ff 666.3px,#0092ff 668.3px,#00e9ff 671.3px,#00fff3 672.3px,#00fe5b 676.3px,#6bff2a 677.3px,#a0ff00 678.3px,#fdff00 680.3px,#ffe000 681.3px,#ff5a00 686.3px,#ff3100 689.3px,#ff2b00 691.3px,#ff3700 693.3px,#ff6400 696.3px,#fffe00 702.3px,#afff00 704.3px,#84ff11 705.3px,#55ff3e 706.3px,#00fe60 707.3px,#00fff5 712.3px,#00f2ff 713.3px,#00b7ff 717.3px,#00b1ff 724.3px,#00c0ff 746.4px,#00d4ff 750.4px,#00fbff 754.4px,#00fd58 765.4px,#51ff42 766.4px,#69ff2c 767.4px,#96ff00 769.4px,#ebff00 774.4px,#fffa00 776.4px,#ffe100 780.4px,#ffdd00 783.4px,#fcff00 790.4px,#98ff00 797.4px,#50ff43 801.4px,#00fd56 802.4px,#00ff95 809.4px,#00ffa9 814.4px,#00ff94 822.4px,#00fd55 831.4px,#4fff44 832.4px,#93ff03 836.4px)"></div>
</div>
<div style="position:absolute;left:1032.3px;top:1851.6px;width:35.3px;height:695.5px;background:linear-gradient(180deg,#960000 0.0px,#ff0000 69.7px,#fffe00 240.5px,#fdff00 242.3px,#97ff00 294.6px,#4cff47 327.7px,#00fc51 329.4px,#00ff65 348.6px,#00fffe 441.0px,#00fdff 442.7px,#0000ff 608.3px,#000087 695.5px)"></div>
<div style="position:absolute;left:1396.0px;top:1851.6px;width:837.0px;height:695.5px;overflow:hidden">
<div class="s" style="top:0;height:52.7px;background:linear-gradient(90deg,#960000 0.0px,#960000 13.0px,#9f0000 14.0px,#00ffbf 15.0px,#000087 16.0px,#000087 37.0px,#000087 38.0px,#00009a 39.0px,#0000f4 42.0px,#0013ff 43.0px,#005dff 46.0px,#0072ff 48.0px,#0070ff 49.0px,#0052ff 51.0px,#0000fb 54.0px,#000089 58.0px,#000087 74.0px,#0000bd 75.0px,#0012ff 76.0px,#00dcff 78.0px,#00ffc1 79.0px,#00ff71 80.0px,#63ff31 81.0px,#b5ff00 82.0px,#fffc00 83.0px,#ff1f00 87.0px,#ee0000 88.0px,#9e0000 90.0px,#960000 91.0px,#960000 100.0px,#b80000 101.0px,#f00000 102.0px,#ff2600 103.0px,#ff6d00 105.0px,#fffd00 111.0px,#ddff00 113.0px,#cfff00 115.0px,#f5ff00 131.0px,#e4ff00 133.0px,#97ff00 138.0px,#4eff45 143.0px,#00fd56 144.0px,#00faff 160.0px,#00acff 170.0px,#0092ff 179.0px,#00b0ff 182.0px,#00f9ff 185.0px,#00fd54 190.0px,#7aff1b 191.0px,#acff00 192.0px,#fffa00 194.0px,#ffa700 197.0px,#ff8200 199.0px,#ff7100 201.0px,#ff7800 203.0px,#ff9700 205.0px,#f5ff00 209.0px,#98ff00 211.0px,#61ff33 212.0px,#00fe5f 213.0px,#00fff2 217.0px,#00efff 218.0px,#00b3ff 221.0px,#00a8ff 223.0px,#00b8ff 225.0px,#00f9ff 228.0px,#00fd56 233.0px,#72ff23 234.0px,#a3ff00 235.0px,#f5ff00 237.0px,#ffed00 238.0px,#ffc500 240.0px,#ffb400 242.0px,#ffbe00 244.0px,#fff700 247.0px,#e6ff00 248.0px,#90ff06 250.0px,#5aff39 251.0px,#00ff62 252.0px,#00fbff 256.0px,#0087ff 260.0px,#0060ff 263.0px,#0066ff 265.0px,#0084ff 267.0px,#00c8ff 270.0px,#00f1ff 271.0px,#00ffd9 272.0px,#00ff71 274.0px,#00fd54 275.0px,#76ff1f 276.0px,#a8ff00 277.0px,#fffc00 279.0px,#ff9300 283.0px,#ff7a00 286.0px,#ffa400 289.0px,#fffa00 292.0px,#8dff09 295.0px,#67ff2d 296.0px,#00fc51 297.0px,#00fe5e 299.0px,#00fc52 303.0px,#52ff41 304.0px,#95ff01 309.0px,#9eff00 310.0px,#abff00 313.0px,#9aff00 316.0px,#7cff19 318.0px,#51ff43 320.0px,#00fd59 321.0px,#00f6ff 329.0px,#006fff 336.0px,#004bff 339.0px,#003dff 342.0px,#0041ff 343.0px,#0063ff 345.0px,#00a1ff 347.0px,#00f3ff 349.0px,#00ffda 350.0px,#00ff72 352.0px,#99ff00 354.0px,#fff800 356.0px,#ff9c00 359.0px,#ff8100 361.0px,#ff8000 362.0px,#ff9f00 365.0px,#fffc00 369.0px,#b6ff00 371.0px,#8bff0a 372.0px,#5cff37 373.0px,#00fe5d 374.0px,#00ffd3 378.0px,#00fffe 380.0px,#00e4ff 383.0px,#00f8ff 386.0px,#00ffdf 388.0px,#00ff65 392.0px,#50ff43 393.0px,#84ff12 394.0px,#b4ff00 395.0px,#e3ff00 396.0px,#fff100 397.0px,#ff6f00 401.0px,#ff2600 404.0px,#fd0000 407.0px,#ff0000 410.0px,#ff2100 413.0px,#ff7c00 417.0px,#ffb800 418.0px,#b9ff00 419.0px,#00ff6e 420.0px,#00ffa1 421.0px,#00ffff 424.0px,#00b9ff 427.0px,#0075ff 431.0px,#004cff 435.0px,#003eff 439.0px,#0043ff 441.0px,#0068ff 444.0px,#00aaff 447.0px,#00ffff 450.0px,#00fd56 455.0px,#6fff26 456.0px,#9eff00 457.0px,#eeff00 459.0px,#ffef00 460.0px,#ff8200 465.0px,#ff6300 469.0px,#ff6e00 471.0px,#ff8b00 473.0px,#ffea00 477.0px,#f5ff00 478.0px,#a5ff00 480.0px,#79ff1c 481.0px,#00fc50 482.0px,#00ffbe 486.0px,#00fffc 489.0px,#00edff 492.0px,#00feff 497.0px,#00ffd4 502.0px,#00fd57 513.0px,#4cff47 514.0px,#90ff06 519.0px,#b3ff00 525.0px,#aeff00 528.0px,#97ff00 531.0px,#5dff37 535.0px,#43ff49 536.0px,#00fd59 537.0px,#00feff 548.0px,#00acff 555.0px,#0092ff 560.0px,#009dff 563.0px,#00e7ff 567.0px,#00fffc 568.0px,#00fd58 573.0px,#6aff2a 574.0px,#9bff00 575.0px,#edff00 577.0px,#fff000 578.0px,#ff9300 582.0px,#ff7900 584.0px,#ff7100 586.0px,#ff9400 589.0px,#ffff00 593.0px,#b0ff00 595.0px,#89ff0c 596.0px,#63ff31 597.0px,#00fd54 598.0px,#00ffaa 608.0px,#00ffe5 622.0px,#00feff 631.0px,#00f0ff 642.0px,#00fbff 646.0px,#00ffd0 650.0px,#00fc52 657.0px,#61ff32 658.0px,#96ff00 660.0px,#e1ff00 664.0px,#ffff00 667.0px,#fcff00 690.0px,#e7ff00 693.0px,#9fff00 697.0px,#68ff2d 699.0px,#00fc51 700.0px,#00ff75 702.0px,#00fff1 707.0px,#00f6ff 708.0px,#008eff 714.0px,#0075ff 717.0px,#0072ff 719.0px,#0099ff 725.0px,#00fdff 732.0px,#00fd59 741.0px,#50ff43 742.0px,#96ff00 745.0px,#e2ff00 750.0px,#ffff00 754.0px,#f4ff00 758.0px,#b6ff00 763.0px,#98ff00 765.0px,#4dff46 770.0px,#00fc53 771.0px,#00fc51 777.0px,#53ff40 778.0px,#92ff04 783.0px,#b9ff00 787.0px,#c4ff00 790.0px,#bcff00 793.0px,#99ff00 797.0px,#7eff17 799.0px,#4fff44 802.0px,#00fd56 803.0px,#00ffa6 811.0px,#00ffbf 815.0px,#00ffc4 837.0px)"></div>
<div class="s" style="top:17.4px;height:70.1px;-webkit-mask-image:linear-gradient(180deg,transparent,#000 34.8px);mask-image:linear-gradient(180deg,transparent,#000 34.8px);background:linear-gradient(90deg,#960000 0.0px,#960000 14.0px,#ff0f00 15.0px,#00fdff 16.0px,#000087 17.0px,#00008b 39.0px,#0000fb 43.0px,#0016ff 44.0px,#0050ff 47.0px,#0057ff 49.0px,#003eff 51.0px,#000bff 53.0px,#0000ed 54.0px,#000098 57.0px,#000087 58.0px,#000087 74.0px,#000097 75.0px,#0000e6 76.0px,#0049ff 77.0px,#00b1ff 78.0px,#00ffe8 79.0px,#00ff8d 80.0px,#00fc53 81.0px,#9dff00 82.0px,#ecff00 83.0px,#ffd100 84.0px,#ff2700 87.0px,#f40000 88.0px,#a00000 90.0px,#960000 91.0px,#960000 100.0px,#b50000 101.0px,#ec0000 102.0px,#ff2300 103.0px,#ff4e00 104.0px,#ff8300 106.0px,#ffca00 109.0px,#fffe00 112.0px,#e9ff00 115.0px,#e6ff00 132.0px,#9bff00 139.0px,#4cff47 145.0px,#00fd57 146.0px,#00f8ff 161.0px,#00a7ff 170.0px,#0088ff 178.0px,#0097ff 181.0px,#00bdff 183.0px,#00f4ff 185.0px,#00ffe8 186.0px,#00fc53 190.0px,#7dff18 191.0px,#b1ff00 192.0px,#fff500 194.0px,#ff8c00 198.0px,#ff6d00 201.0px,#ff8600 204.0px,#ffee00 208.0px,#e8ff00 209.0px,#b9ff00 210.0px,#85ff10 211.0px,#4cff47 212.0px,#00ff6d 213.0px,#00ffe4 216.0px,#00f8ff 217.0px,#00b0ff 220.0px,#009aff 223.0px,#00adff 225.0px,#00f5ff 228.0px,#00ffe7 229.0px,#00fc53 233.0px,#7bff1a 234.0px,#adff00 235.0px,#ffff00 237.0px,#ffbd00 240.0px,#ffaf00 242.0px,#ffbb00 244.0px,#fff800 247.0px,#e2ff00 248.0px,#8aff0c 250.0px,#54ff40 251.0px,#00ff66 252.0px,#00f9ff 256.0px,#008dff 260.0px,#0071ff 263.0px,#0089ff 266.0px,#00c0ff 269.0px,#00ddff 270.0px,#00fff4 271.0px,#00ff8a 273.0px,#00ff62 274.0px,#53ff40 275.0px,#83ff12 276.0px,#afff00 277.0px,#ffff00 279.0px,#ffa200 283.0px,#ff8900 286.0px,#ffaa00 289.0px,#fff400 292.0px,#eaff00 293.0px,#a4ff00 295.0px,#54ff40 298.0px,#00fc50 299.0px,#00fc50 300.0px,#4dff46 301.0px,#97ff00 309.0px,#a7ff00 313.0px,#94ff02 316.0px,#5eff36 319.0px,#00fc52 320.0px,#00ff6e 322.0px,#00fffa 328.0px,#00edff 329.0px,#0066ff 336.0px,#0043ff 339.0px,#0035ff 342.0px,#003aff 343.0px,#005eff 345.0px,#009fff 347.0px,#00f4ff 349.0px,#00ffd7 350.0px,#00ff6c 352.0px,#5eff36 353.0px,#a4ff00 354.0px,#dfff00 355.0px,#ffee00 356.0px,#ff9200 359.0px,#ff7900 361.0px,#ff7a00 362.0px,#ff9b00 365.0px,#fffb00 369.0px,#b5ff00 371.0px,#8aff0c 372.0px,#5aff3a 373.0px,#00fe5f 374.0px,#00ffba 377.0px,#00ffff 380.0px,#00e5ff 383.0px,#00fbff 386.0px,#00ffc1 389.0px,#00ff62 392.0px,#54ff3f 393.0px,#88ff0e 394.0px,#e5ff00 396.0px,#fff000 397.0px,#ff7000 401.0px,#ff2700 404.0px,#fd0000 407.0px,#fe0000 410.0px,#ff1e00 413.0px,#ff7600 417.0px,#ffae00 418.0px,#b9ff00 419.0px,#00ff7f 420.0px,#00ffb5 421.0px,#00ffd6 422.0px,#00fff6 423.0px,#00edff 424.0px,#00a8ff 427.0px,#0067ff 431.0px,#0042ff 435.0px,#0035ff 439.0px,#003eff 441.0px,#0069ff 444.0px,#00ecff 449.0px,#00fff0 450.0px,#00fe5e 454.0px,#61ff33 455.0px,#94ff02 456.0px,#ebff00 458.0px,#ffef00 459.0px,#ff7300 464.0px,#ff4c00 467.0px,#ff4700 469.0px,#ff5500 471.0px,#ff7600 473.0px,#fffb00 478.0px,#afff00 480.0px,#82ff14 481.0px,#51ff42 482.0px,#00ff63 483.0px,#00ffc0 486.0px,#00fdff 489.0px,#00e8ff 492.0px,#00fffe 498.0px,#00fd55 513.0px,#52ff42 514.0px,#99ff00 519.0px,#b7ff00 523.0px,#bfff00 526.0px,#b4ff00 529.0px,#96ff00 532.0px,#51ff42 536.0px,#00fd56 537.0px,#00ff6e 539.0px,#00fff9 547.0px,#00f5ff 548.0px,#009fff 555.0px,#0088ff 560.0px,#009aff 563.0px,#00ecff 567.0px,#00fff6 568.0px,#00fc52 573.0px,#77ff1d 574.0px,#a6ff00 575.0px,#f8ff00 577.0px,#ffe800 578.0px,#ff8e00 582.0px,#ff7600 584.0px,#ff7000 586.0px,#ff9700 589.0px,#f9ff00 593.0px,#aaff00 595.0px,#84ff12 596.0px,#5fff35 597.0px,#00fd55 598.0px,#00ff9a 607.0px,#00fff2 628.0px,#00ffff 632.0px,#00eeff 643.0px,#00fdff 647.0px,#00ffca 651.0px,#00fd59 657.0px,#53ff40 658.0px,#8bff0a 660.0px,#e0ff00 664.0px,#feff00 666.0px,#fff700 667.0px,#ffed00 673.0px,#ffff00 690.0px,#e7ff00 693.0px,#9aff00 697.0px,#5fff35 699.0px,#00fd56 700.0px,#00ff66 701.0px,#00fffe 707.0px,#0092ff 713.0px,#0077ff 716.0px,#0073ff 718.0px,#0099ff 724.0px,#00fcff 731.0px,#00fd59 740.0px,#50ff43 741.0px,#97ff00 744.0px,#e7ff00 749.0px,#fffc00 752.0px,#fffc00 757.0px,#e0ff00 760.0px,#9dff00 764.0px,#50ff43 768.0px,#00fd55 769.0px,#00ff6a 774.0px,#00fd56 779.0px,#4cff47 780.0px,#97ff00 785.0px,#b7ff00 788.0px,#c4ff00 791.0px,#bcff00 794.0px,#9bff00 798.0px,#72ff23 801.0px,#52ff41 803.0px,#00fd54 804.0px,#00ffa0 812.0px,#00ffb7 816.0px,#00ffbe 837.0px)"></div>
<div class="s" style="top:52.2px;height:70.1px;-webkit-mask-image:linear-gradient(180deg,transparent,#000 34.8px);mask-image:linear-gradient(180deg,transparent,#000 34.8px);background:linear-gradient(90deg,#960000 0.0px,#960000 15.0px,#ff7100 16.0px,#00c3ff 17.0px,#000087 18.0px,#000087 39.0px,#000095 40.0px,#0000f9 44.0px,#0010ff 45.0px,#0030ff 47.0px,#0039ff 49.0px,#0000f6 53.0px,#00008c 57.0px,#000087 58.0px,#000087 75.0px,#0000bd 76.0px,#0019ff 77.0px,#00edff 79.0px,#00ffae 80.0px,#00ff61 81.0px,#7fff16 82.0px,#d4ff00 83.0px,#ffe200 84.0px,#ff3000 87.0px,#fb0000 88.0px,#a20000 90.0px,#960000 91.0px,#960000 100.0px,#b10000 101.0px,#e90000 102.0px,#ff2000 103.0px,#ff4b00 104.0px,#ffa900 108.0px,#ffdd00 111.0px,#fffa00 114.0px,#ddff00 131.0px,#96ff00 141.0px,#57ff3c 146.0px,#00fc51 147.0px,#00ff6a 150.0px,#00fffd 161.0px,#00f5ff 162.0px,#009cff 171.0px,#007eff 178.0px,#008eff 181.0px,#00b6ff 183.0px,#00efff 185.0px,#00ffec 186.0px,#00fc52 190.0px,#81ff14 191.0px,#b6ff00 192.0px,#e6ff00 193.0px,#ffef00 194.0px,#ff8500 198.0px,#ff6900 201.0px,#ff8800 204.0px,#fff700 208.0px,#a9ff00 210.0px,#71ff24 211.0px,#00fd5a 212.0px,#00fff8 216.0px,#00e5ff 217.0px,#009eff 220.0px,#008cff 223.0px,#00a3ff 225.0px,#00f1ff 228.0px,#00ffe9 229.0px,#00ff6e 232.0px,#4cff47 233.0px,#85ff11 234.0px,#b7ff00 235.0px,#e3ff00 236.0px,#fff600 237.0px,#ffb600 240.0px,#ffaa00 242.0px,#ffba00 244.0px,#fffa00 247.0px,#b3ff00 249.0px,#83ff12 250.0px,#4cff47 251.0px,#00ff6c 252.0px,#00ffe4 255.0px,#00f6ff 256.0px,#00a5ff 259.0px,#0081ff 262.0px,#0088ff 264.0px,#009eff 266.0px,#00d3ff 269.0px,#00f4ff 270.0px,#00ffda 271.0px,#00ff75 273.0px,#00fd59 274.0px,#63ff31 275.0px,#8eff08 276.0px,#fbff00 279.0px,#ffea00 280.0px,#ffb000 283.0px,#ff9900 286.0px,#ffb200 289.0px,#fff300 292.0px,#eeff00 293.0px,#91ff05 296.0px,#63ff31 298.0px,#58ff3c 299.0px,#5dff37 302.0px,#95ff01 309.0px,#9fff00 311.0px,#98ff00 315.0px,#55ff3e 319.0px,#00fd56 320.0px,#00ff76 322.0px,#00ffeb 327.0px,#00fbff 328.0px,#005dff 336.0px,#003aff 339.0px,#002dff 342.0px,#0032ff 343.0px,#0059ff 345.0px,#009dff 347.0px,#00f5ff 349.0px,#00ffd4 350.0px,#00ff65 352.0px,#69ff2b 353.0px,#aeff00 354.0px,#eaff00 355.0px,#ffe500 356.0px,#ff8900 359.0px,#ff7200 361.0px,#ff7b00 363.0px,#ff9800 365.0px,#fffb00 369.0px,#b4ff00 371.0px,#88ff0d 372.0px,#58ff3c 373.0px,#00fe60 374.0px,#00ffbc 377.0px,#00feff 380.0px,#00e6ff 383.0px,#00feff 386.0px,#00ffbd 389.0px,#00fe60 392.0px,#59ff3b 393.0px,#8bff0a 394.0px,#e7ff00 396.0px,#ffef00 397.0px,#ff7000 401.0px,#ff2800 404.0px,#fe0000 407.0px,#fd0000 410.0px,#ff1b00 413.0px,#ff7000 417.0px,#ffa200 418.0px,#bcff00 419.0px,#00ff8f 420.0px,#00ffc9 421.0px,#00f6ff 423.0px,#0098ff 427.0px,#005aff 431.0px,#0037ff 435.0px,#002dff 439.0px,#0039ff 441.0px,#006aff 444.0px,#00f9ff 449.0px,#00ff69 453.0px,#4fff45 454.0px,#85ff10 455.0px,#e5ff00 457.0px,#fff100 458.0px,#ff6600 463.0px,#ff3500 466.0px,#ff2900 468.0px,#ff3100 470.0px,#ff4d00 472.0px,#ff9300 475.0px,#fff000 478.0px,#e6ff00 479.0px,#8aff0c 481.0px,#56ff3d 482.0px,#00ff61 483.0px,#00ffdc 487.0px,#00f9ff 489.0px,#00e3ff 492.0px,#00fffa 499.0px,#00fc53 513.0px,#57ff3d 514.0px,#78ff1d 516.0px,#95ff01 518.0px,#bbff00 522.0px,#caff00 526.0px,#b7ff00 530.0px,#92ff04 533.0px,#80ff15 534.0px,#58ff3c 536.0px,#00fd54 537.0px,#00ff6d 539.0px,#00fcff 547.0px,#009cff 554.0px,#007eff 560.0px,#0098ff 563.0px,#00f0ff 567.0px,#00fff0 568.0px,#00ff63 572.0px,#53ff41 573.0px,#85ff11 574.0px,#b2ff00 575.0px,#fffc00 577.0px,#ff9a00 581.0px,#ff7c00 583.0px,#ff6e00 585.0px,#ff8600 588.0px,#ffea00 592.0px,#f3ff00 593.0px,#a5ff00 595.0px,#5aff3a 597.0px,#00fd57 598.0px,#00ff87 605.0px,#00fffe 633.0px,#00edff 644.0px,#00fffe 648.0px,#00ffd5 651.0px,#00fc53 658.0px,#63ff31 659.0px,#9bff00 661.0px,#fffd00 666.0px,#ffdc00 671.0px,#fdff00 691.0px,#d6ff00 694.0px,#94ff02 697.0px,#55ff3f 699.0px,#00fe5b 700.0px,#00fff3 706.0px,#00f3ff 707.0px,#0096ff 712.0px,#0079ff 715.0px,#0075ff 717.0px,#0099ff 723.0px,#00fcff 730.0px,#00fd59 739.0px,#51ff42 740.0px,#82ff13 742.0px,#99ff00 743.0px,#dfff00 747.0px,#fffb00 750.0px,#ffec00 754.0px,#ffff00 758.0px,#f2ff00 759.0px,#99ff00 764.0px,#57ff3d 767.0px,#00fd54 768.0px,#00ff7a 774.0px,#00fc53 781.0px,#54ff40 782.0px,#94ff02 786.0px,#b5ff00 789.0px,#c4ff00 792.0px,#bdff00 795.0px,#9dff00 799.0px,#74ff20 802.0px,#56ff3e 804.0px,#00fc52 805.0px,#00ffab 816.0px,#00ffb7 837.0px)"></div>
<div class="s" style="top:86.9px;height:70.1px;-webkit-mask-image:linear-gradient(180deg,transparent,#000 34.8px);mask-image:linear-gradient(180deg,transparent,#000 34.8px);background:linear-gradient(90deg,#960000 0.0px,#960000 16.0px,#ffc800 17.0px,#008eff 18.0px,#000087 19.0px,#000087 40.0px,#0000e1 44.0px,#0004ff 46.0px,#001cff 49.0px,#0000f8 52.0px,#000087 57.0px,#000087 75.0px,#000095 76.0px,#0000ea 77.0px,#0054ff 78.0px,#00c1ff 79.0px,#00ffd4 80.0px,#00ff7a 81.0px,#5fff34 82.0px,#baff00 83.0px,#fff300 84.0px,#ff0300 88.0px,#a50000 90.0px,#960000 91.0px,#960000 100.0px,#ae0000 101.0px,#e60000 102.0px,#ff1d00 103.0px,#ff4800 104.0px,#ff6100 105.0px,#ffb000 109.0px,#ffe300 113.0px,#fff800 117.0px,#dcff00 129.0px,#92ff04 143.0px,#52ff41 148.0px,#00fd54 149.0px,#00ff70 152.0px,#00fdff 162.0px,#0097ff 171.0px,#0074ff 178.0px,#0085ff 181.0px,#00aeff 183.0px,#00eaff 185.0px,#00fff0 186.0px,#00fc51 190.0px,#86ff10 191.0px,#edff00 193.0px,#ffe900 194.0px,#ffac00 196.0px,#ff7f00 198.0px,#ff6600 201.0px,#ff8a00 204.0px,#fdff00 208.0px,#98ff00 210.0px,#5bff38 211.0px,#00ff65 212.0px,#00ffe6 215.0px,#00f2ff 216.0px,#009eff 219.0px,#007bff 222.0px,#009aff 225.0px,#00efff 228.0px,#00ffea 229.0px,#00ff69 232.0px,#55ff3e 233.0px,#90ff06 234.0px,#eeff00 236.0px,#ffed00 237.0px,#ffae00 240.0px,#ffa500 242.0px,#ffb800 244.0px,#fffd00 247.0px,#aeff00 249.0px,#7cff19 250.0px,#00fc53 251.0px,#00ffe7 255.0px,#00f5ff 256.0px,#00aaff 259.0px,#0091ff 262.0px,#00a6ff 265.0px,#00e7ff 269.0px,#00fff1 270.0px,#00ff64 273.0px,#00fc51 274.0px,#6fff25 275.0px,#96ff00 276.0px,#f6ff00 279.0px,#fff100 280.0px,#ffbf00 283.0px,#ffa800 286.0px,#ffbc00 289.0px,#fff400 292.0px,#f0ff00 293.0px,#9cff00 296.0px,#64ff30 299.0px,#66ff2f 302.0px,#9cff00 311.0px,#91ff05 315.0px,#4cff47 319.0px,#00fe5b 320.0px,#00ff7e 322.0px,#00fff4 327.0px,#00f3ff 328.0px,#0087ff 333.0px,#0054ff 336.0px,#0031ff 339.0px,#0025ff 342.0px,#002bff 343.0px,#0054ff 345.0px,#009bff 347.0px,#00f7ff 349.0px,#00fe61 352.0px,#74ff21 353.0px,#b9ff00 354.0px,#f7ff00 355.0px,#ffdb00 356.0px,#ff7f00 359.0px,#ff6b00 361.0px,#ff7600 363.0px,#ff9500 365.0px,#fffa00 369.0px,#b3ff00 371.0px,#86ff0f 372.0px,#55ff3e 373.0px,#00ff61 374.0px,#00ffbe 377.0px,#00fdff 380.0px,#00e9ff 382.0px,#00f4ff 385.0px,#00fffc 386.0px,#00ffd3 388.0px,#00fe5e 392.0px,#5dff37 393.0px,#8fff07 394.0px,#e9ff00 396.0px,#ffee00 397.0px,#ff7100 401.0px,#ff2900 404.0px,#fe0000 407.0px,#fc0000 410.0px,#ff1800 413.0px,#ff6b00 417.0px,#ff9500 418.0px,#c2ff00 419.0px,#00ff9d 420.0px,#00ffdb 421.0px,#00fffc 422.0px,#00e5ff 423.0px,#0089ff 427.0px,#004dff 431.0px,#002dff 435.0px,#0026ff 439.0px,#0035ff 441.0px,#0057ff 443.0px,#0087ff 445.0px,#00fff6 449.0px,#00fd58 453.0px,#72ff22 454.0px,#a9ff00 455.0px,#fff700 457.0px,#ff9300 460.0px,#ff4500 463.0px,#ff1600 466.0px,#ff0c00 468.0px,#ff1700 470.0px,#ff3700 472.0px,#ff8300 475.0px,#ffe600 478.0px,#f1ff00 479.0px,#91ff05 481.0px,#5cff38 482.0px,#00fe60 483.0px,#00ffe0 487.0px,#00fff7 488.0px,#00f4ff 489.0px,#00e0ff 491.0px,#00dfff 493.0px,#00fffe 499.0px,#00fc51 513.0px,#5cff38 514.0px,#7fff16 516.0px,#9dff00 518.0px,#bdff00 521.0px,#d5ff00 526.0px,#c2ff00 530.0px,#9bff00 533.0px,#89ff0d 534.0px,#5eff36 536.0px,#00fc52 537.0px,#00ff6d 539.0px,#00fff9 546.0px,#00f3ff 547.0px,#008fff 554.0px,#0074ff 559.0px,#007dff 561.0px,#0097ff 563.0px,#00f6ff 567.0px,#00ffe8 568.0px,#00fe5d 572.0px,#60ff34 573.0px,#92ff04 574.0px,#e7ff00 576.0px,#fff400 577.0px,#ff9400 581.0px,#ff7800 583.0px,#ff6c00 585.0px,#ff8800 588.0px,#ffef00 592.0px,#edff00 593.0px,#9fff00 595.0px,#55ff3f 597.0px,#00fd58 598.0px,#00ff78 603.0px,#00fffe 634.0px,#00ecff 644.0px,#00f9ff 648.0px,#00ffd0 652.0px,#00fe5d 658.0px,#4dff46 659.0px,#88ff0e 661.0px,#a2ff00 662.0px,#f9ff00 666.0px,#fff700 667.0px,#ffdb00 670.0px,#ffd400 673.0px,#ffde00 681.0px,#fffe00 691.0px,#d8ff00 694.0px,#91ff05 697.0px,#4eff45 699.0px,#00fe5f 700.0px,#00ffff 706.0px,#009bff 711.0px,#007bff 714.0px,#0076ff 716.0px,#0099ff 722.0px,#00fbff 729.0px,#00fd59 738.0px,#52ff41 739.0px,#6cff29 740.0px,#9cff00 742.0px,#fffe00 748.0px,#ffe100 754.0px,#f6ff00 759.0px,#92ff04 764.0px,#61ff33 766.0px,#00fc50 767.0px,#00ff7b 771.0px,#00ff8b 774.0px,#00ff82 777.0px,#00fd57 782.0px,#4cff47 783.0px,#90ff06 787.0px,#b4ff00 790.0px,#c4ff00 793.0px,#b8ff00 797.0px,#93ff03 801.0px,#68ff2c 804.0px,#59ff3b 805.0px,#00fc51 806.0px,#00ffa3 817.0px,#00ffb1 837.0px)"></div>
<div class="s" style="top:121.7px;height:70.0px;-webkit-mask-image:linear-gradient(180deg,transparent,#000 34.8px);mask-image:linear-gradient(180deg,transparent,#000 34.8px);background:linear-gradient(90deg,#960000 0.0px,#960000 17.0px,#e4ff00 18.0px,#005dff 19.0px,#000087 20.0px,#000089 41.0px,#0000d9 45.0px,#0000fd 49.0px,#0000e3 52.0px,#00008b 56.0px,#000087 57.0px,#000087 76.0px,#0000bf 77.0px,#0022ff 78.0px,#00feff 80.0px,#00ff9a 81.0px,#00fd56 82.0px,#9fff00 83.0px,#f6ff00 84.0px,#ffc300 85.0px,#ff0a00 88.0px,#a70000 90.0px,#960000 91.0px,#960000 100.0px,#aa0000 101.0px,#e20000 102.0px,#ff1a00 103.0px,#ff4400 104.0px,#ff5d00 105.0px,#ffa600 109.0px,#ffd400 113.0px,#fffe00 120.0px,#97ff00 144.0px,#4bff48 150.0px,#00fd58 151.0px,#00ff7a 154.0px,#00fff9 162.0px,#00f6ff 163.0px,#0089ff 172.0px,#006aff 179.0px,#008eff 182.0px,#00e5ff 185.0px,#00fff4 186.0px,#00ff71 189.0px,#4dff46 190.0px,#8bff0b 191.0px,#f4ff00 193.0px,#ffe300 194.0px,#ffa500 196.0px,#ff7800 198.0px,#ff6300 201.0px,#ff8d00 204.0px,#ffe600 207.0px,#f0ff00 208.0px,#bcff00 209.0px,#84ff11 210.0px,#00fc53 211.0px,#00fffb 215.0px,#00dfff 216.0px,#008cff 219.0px,#006cff 222.0px,#0092ff 225.0px,#00edff 228.0px,#00ffea 229.0px,#00ff63 232.0px,#5fff35 233.0px,#9bff00 234.0px,#faff00 236.0px,#ffe400 237.0px,#ffa700 240.0px,#ffa100 242.0px,#ffb700 244.0px,#feff00 247.0px,#a8ff00 249.0px,#74ff20 250.0px,#00fd56 251.0px,#00ffea 255.0px,#00f4ff 256.0px,#00b1ff 259.0px,#00a1ff 261.0px,#00baff 265.0px,#00e3ff 268.0px,#00fdff 269.0px,#00ff78 272.0px,#00fe5b 273.0px,#57ff3d 274.0px,#9cff00 276.0px,#efff00 279.0px,#fff800 280.0px,#ffc300 284.0px,#ffb800 287.0px,#ffc600 289.0px,#fff500 292.0px,#f3ff00 293.0px,#94ff02 297.0px,#72ff23 300.0px,#96ff00 310.0px,#93ff03 314.0px,#59ff3b 318.0px,#00fd54 319.0px,#00ff71 321.0px,#00fffd 327.0px,#00eaff 328.0px,#007eff 333.0px,#004bff 336.0px,#0029ff 339.0px,#001dff 342.0px,#0024ff 343.0px,#004fff 345.0px,#0099ff 347.0px,#00f9ff 349.0px,#00fe5c 352.0px,#80ff16 353.0px,#c5ff00 354.0px,#fffc00 355.0px,#ff8d00 358.0px,#ff6800 360.0px,#ff6400 361.0px,#ff7100 363.0px,#ff9200 365.0px,#fffa00 369.0px,#b1ff00 371.0px,#84ff11 372.0px,#53ff41 373.0px,#00ff62 374.0px,#00ffc0 377.0px,#00fcff 380.0px,#00e9ff 383.0px,#00fff9 386.0px,#00ffb5 389.0px,#00fe5c 392.0px,#61ff33 393.0px,#93ff03 394.0px,#ebff00 396.0px,#ffed00 397.0px,#ff7100 401.0px,#ff2900 404.0px,#ff0000 407.0px,#fc0000 410.0px,#ff1600 413.0px,#ff6500 417.0px,#ff8900 418.0px,#cfff00 419.0px,#00ffa4 420.0px,#00ffe7 421.0px,#00f6ff 422.0px,#0090ff 426.0px,#004dff 430.0px,#0028ff 434.0px,#001dff 438.0px,#0026ff 440.0px,#0058ff 443.0px,#008dff 445.0px,#00f1ff 448.0px,#00ffe6 449.0px,#00ff64 452.0px,#5bff38 453.0px,#98ff00 454.0px,#ffff00 456.0px,#ff7300 460.0px,#ff1100 464.0px,#ff0100 465.0px,#ee0000 468.0px,#fd0000 470.0px,#ff2200 472.0px,#ff5500 474.0px,#fbff00 479.0px,#98ff00 481.0px,#60ff34 482.0px,#00fe5f 483.0px,#00ffe3 487.0px,#00fffc 488.0px,#00f0ff 489.0px,#00daff 491.0px,#00d9ff 493.0px,#00fcff 499.0px,#00fd57 512.0px,#50ff44 513.0px,#98ff00 517.0px,#d1ff00 522.0px,#e3ff00 526.0px,#d0ff00 530.0px,#94ff02 534.0px,#4cff47 537.0px,#00fe5c 538.0px,#00fdff 546.0px,#008cff 553.0px,#006aff 558.0px,#006fff 560.0px,#0086ff 562.0px,#00adff 564.0px,#00fcff 567.0px,#00fd57 572.0px,#6eff26 573.0px,#9fff00 574.0px,#f2ff00 576.0px,#ffec00 577.0px,#ff8f00 581.0px,#ff7400 583.0px,#ff6a00 585.0px,#ff8a00 588.0px,#fff400 592.0px,#e6ff00 593.0px,#98ff00 595.0px,#50ff43 597.0px,#00fd5a 598.0px,#00ff9a 616.0px,#00fffd 635.0px,#00eaff 645.0px,#00fbff 649.0px,#00ffcb 653.0px,#00fd59 659.0px,#55ff3e 660.0px,#90ff06 662.0px,#fffe00 667.0px,#ffd400 671.0px,#ffcc00 674.0px,#ffd900 682.0px,#fffb00 691.0px,#ecff00 693.0px,#abff00 696.0px,#8eff08 697.0px,#6cff29 698.0px,#00fc51 699.0px,#00ff63 700.0px,#00fff1 705.0px,#00f4ff 706.0px,#0092ff 711.0px,#0077ff 715.0px,#0099ff 721.0px,#00faff 728.0px,#00fd5a 737.0px,#50ff43 738.0px,#6aff2a 739.0px,#9bff00 741.0px,#e6ff00 745.0px,#fffb00 747.0px,#ffda00 753.0px,#ffde00 755.0px,#fffa00 758.0px,#f4ff00 759.0px,#9cff00 763.0px,#66ff2e 765.0px,#00fc50 766.0px,#00ff94 771.0px,#00ffa8 774.0px,#00ff99 778.0px,#00fd57 784.0px,#50ff43 785.0px,#89ff0d 788.0px,#99ff00 789.0px,#baff00 792.0px,#c4ff00 795.0px,#b9ff00 798.0px,#95ff01 802.0px,#5cff37 806.0px,#4dff46 807.0px,#00fd56 808.0px,#00ff98 817.0px,#00ffaa 837.0px)"></div>
<div class="s" style="top:156.5px;height:70.0px;-webkit-mask-image:linear-gradient(180deg,transparent,#000 34.8px);mask-image:linear-gradient(180deg,transparent,#000 34.8px);background:linear-gradient(90deg,#960000 0.0px,#960000 18.0px,#8fff07 19.0px,#002fff 20.0px,#000087 21.0px,#000088 42.0px,#0000c7 46.0px,#0000db 49.0px,#0000d3 51.0px,#000087 56.0px,#000087 76.0px,#000095 77.0px,#0000f0 78.0px,#0061ff 79.0px,#00d2ff 80.0px,#00ffbf 81.0px,#00ff67 82.0px,#7eff17 83.0px,#dcff00 84.0px,#ffd500 85.0px,#ff1200 88.0px,#da0000 89.0px,#aa0000 90.0px,#960000 91.0px,#960000 100.0px,#a60000 101.0px,#de0000 102.0px,#ff1600 103.0px,#ff4100 104.0px,#ff5a00 105.0px,#ff9f00 109.0px,#ffcc00 113.0px,#fffd00 120.0px,#c7ff00 130.0px,#94ff02 146.0px,#53ff40 151.0px,#00fd54 152.0px,#00ff68 154.0px,#00fdff 163.0px,#0082ff 172.0px,#0064ff 176.0px,#005eff 179.0px,#0084ff 182.0px,#00fffa 186.0px,#00ff71 189.0px,#4fff44 190.0px,#8fff07 191.0px,#fbff00 193.0px,#ffdd00 194.0px,#ff9e00 196.0px,#ff7200 198.0px,#ff6100 201.0px,#ff9100 204.0px,#fff000 207.0px,#e0ff00 208.0px,#aaff00 209.0px,#6dff28 210.0px,#00fe5e 211.0px,#00ffe7 214.0px,#00edff 215.0px,#00a8ff 217.0px,#0076ff 219.0px,#005bff 222.0px,#0087ff 225.0px,#00e9ff 228.0px,#00ffeb 229.0px,#00fe60 232.0px,#68ff2c 233.0px,#a4ff00 234.0px,#fffa00 236.0px,#ffac00 239.0px,#ff9a00 241.0px,#ffb700 244.0px,#faff00 247.0px,#a2ff00 249.0px,#6dff27 250.0px,#00fd5a 251.0px,#00ffec 255.0px,#00f4ff 256.0px,#00baff 259.0px,#00b2ff 261.0px,#00c3ff 264.0px,#00f5ff 268.0px,#00ffea 269.0px,#00ff66 272.0px,#00fd54 273.0px,#63ff31 274.0px,#9fff00 276.0px,#d1ff00 278.0px,#fdff00 280.0px,#ffd200 284.0px,#ffca00 288.0px,#fff700 292.0px,#a3ff00 297.0px,#83ff12 300.0px,#94ff02 311.0px,#8cff09 314.0px,#4fff44 318.0px,#00fd58 319.0px,#00ff78 321.0px,#00f8ff 327.0px,#0089ff 332.0px,#0042ff 336.0px,#0020ff 339.0px,#0015ff 342.0px,#001dff 343.0px,#004bff 345.0px,#0098ff 347.0px,#00fbff 349.0px,#00fd57 352.0px,#8cff0a 353.0px,#d1ff00 354.0px,#fff200 355.0px,#ff8300 358.0px,#ff6000 360.0px,#ff5e00 361.0px,#ff6d00 363.0px,#ff8f00 365.0px,#fffa00 369.0px,#b0ff00 371.0px,#82ff14 372.0px,#50ff43 373.0px,#00ff64 374.0px,#00ffc3 377.0px,#00fff2 379.0px,#00fbff 380.0px,#00ebff 382.0px,#00faff 385.0px,#00ffcb 388.0px,#00fd59 392.0px,#65ff2f 393.0px,#96ff00 394.0px,#edff00 396.0px,#ffeb00 397.0px,#ff7100 401.0px,#ff2a00 404.0px,#ff0100 407.0px,#fb0000 410.0px,#ff1300 413.0px,#ff6000 417.0px,#ff7e00 418.0px,#e0ff00 419.0px,#00ffaa 420.0px,#00fff3 421.0px,#00eaff 422.0px,#0083ff 426.0px,#0041ff 430.0px,#001eff 434.0px,#0015ff 438.0px,#0022ff 440.0px,#005bff 443.0px,#0094ff 445.0px,#00ffff 448.0px,#00fd55 452.0px,#80ff15 453.0px,#baff00 454.0px,#f0ff00 455.0px,#ffe200 456.0px,#ff5200 460.0px,#ff0300 463.0px,#df0000 465.0px,#d00000 467.0px,#d80000 469.0px,#f60000 471.0px,#ff0d00 472.0px,#ff4500 474.0px,#fffa00 479.0px,#d1ff00 480.0px,#9dff00 481.0px,#64ff30 482.0px,#00fe5e 483.0px,#00ffc8 486.0px,#00feff 488.0px,#00ddff 490.0px,#00d3ff 492.0px,#00dbff 495.0px,#00fffb 500.0px,#00fd54 512.0px,#57ff3d 513.0px,#92ff04 516.0px,#d5ff00 521.0px,#f3ff00 526.0px,#dfff00 530.0px,#a0ff00 534.0px,#89ff0d 535.0px,#53ff40 537.0px,#00fd5a 538.0px,#00fff5 545.0px,#00f3ff 546.0px,#007dff 553.0px,#005eff 558.0px,#0068ff 560.0px,#0083ff 562.0px,#00fffc 567.0px,#00fc52 572.0px,#7aff1a 573.0px,#aaff00 574.0px,#fcff00 576.0px,#ffe400 577.0px,#ff8900 581.0px,#ff7000 583.0px,#ff6900 585.0px,#ff8c00 588.0px,#fff800 592.0px,#92ff03 595.0px,#4bff48 597.0px,#00fe5b 598.0px,#00ff8f 616.0px,#00fffd 636.0px,#00e9ff 646.0px,#00feff 650.0px,#00ffd7 653.0px,#00fd54 660.0px,#60ff34 661.0px,#9aff00 663.0px,#f8ff00 667.0px,#fff600 668.0px,#ffca00 672.0px,#ffc100 675.0px,#ffd200 683.0px,#fdff00 692.0px,#a8ff00 696.0px,#89ff0c 697.0px,#65ff2f 698.0px,#00fd56 699.0px,#00fffe 705.0px,#00e7ff 706.0px,#0096ff 710.0px,#0078ff 714.0px,#0098ff 720.0px,#00f8ff 727.0px,#00fe5c 736.0px,#4cff47 737.0px,#98ff00 740.0px,#e5ff00 744.0px,#fffc00 746.0px,#ffdc00 750.0px,#ffd500 753.0px,#ffdc00 755.0px,#fffc00 758.0px,#8cff09 763.0px,#50ff43 765.0px,#00fe5b 766.0px,#00ffb9 772.0px,#00ffc3 776.0px,#00ffad 779.0px,#00fc53 786.0px,#59ff3a 787.0px,#82ff14 789.0px,#94ff02 790.0px,#b8ff00 793.0px,#c4ff00 796.0px,#baff00 799.0px,#97ff00 803.0px,#51ff42 808.0px,#00fd54 809.0px,#00ff90 818.0px,#00ffa4 837.0px)"></div>
<div class="s" style="top:191.3px;height:70.1px;-webkit-mask-image:linear-gradient(180deg,transparent,#000 34.8px);mask-image:linear-gradient(180deg,transparent,#000 34.8px);background:linear-gradient(90deg,#960000 0.0px,#960000 18.0px,#ac0000 19.0px,#00fd56 20.0px,#0006ff 21.0px,#000087 22.0px,#000087 43.0px,#0000b8 49.0px,#0000b2 51.0px,#000087 55.0px,#000087 77.0px,#0000c3 78.0px,#002eff 79.0px,#00a3ff 80.0px,#00ffea 81.0px,#00ff85 82.0px,#5bff38 83.0px,#bfff00 84.0px,#ffe800 85.0px,#ff1c00 88.0px,#e00000 89.0px,#ad0000 90.0px,#960000 91.0px,#960000 100.0px,#a20000 101.0px,#da0000 102.0px,#ff1300 103.0px,#ff3e00 104.0px,#ff5600 105.0px,#ff8a00 108.0px,#ffba00 112.0px,#fffd00 120.0px,#bfff00 130.0px,#98ff00 147.0px,#59ff3a 152.0px,#00fc52 153.0px,#00ff65 155.0px,#00fff9 163.0px,#00f3ff 164.0px,#007aff 172.0px,#0057ff 176.0px,#0050ff 179.0px,#0078ff 182.0px,#00b2ff 184.0px,#00feff 186.0px,#00ff72 189.0px,#50ff43 190.0px,#93ff03 191.0px,#fffd00 193.0px,#ffb500 195.0px,#ff6c00 198.0px,#ff5f00 201.0px,#ff9600 204.0px,#fffb00 207.0px,#95ff01 209.0px,#52ff41 210.0px,#00ff70 211.0px,#00fdff 214.0px,#00b0ff 216.0px,#0073ff 218.0px,#0046ff 221.0px,#0046ff 222.0px,#0061ff 224.0px,#0098ff 226.0px,#00e4ff 228.0px,#00ffee 229.0px,#00fe5d 232.0px,#71ff24 233.0px,#aeff00 234.0px,#e2ff00 235.0px,#fff100 236.0px,#ffa400 239.0px,#ff9500 241.0px,#ffa500 243.0px,#ffe800 246.0px,#f6ff00 247.0px,#9cff00 249.0px,#65ff2f 250.0px,#00fe5d 251.0px,#00ffed 255.0px,#00f5ff 256.0px,#00cfff 258.0px,#00c1ff 260.0px,#00d1ff 263.0px,#00fff8 267.0px,#00ffe4 268.0px,#00fe5b 272.0px,#50ff43 273.0px,#6cff28 274.0px,#a2ff00 276.0px,#f6ff00 280.0px,#fff900 281.0px,#ffdc00 284.0px,#ffd000 287.0px,#ffd700 289.0px,#f9ff00 293.0px,#b2ff00 297.0px,#95ff01 300.0px,#8eff07 312.0px,#84ff12 314.0px,#57ff3c 317.0px,#00fd54 318.0px,#00ff83 321.0px,#00fff9 326.0px,#007fff 332.0px,#0038ff 336.0px,#0017ff 339.0px,#000dff 342.0px,#0016ff 343.0px,#0046ff 345.0px,#0097ff 347.0px,#00fdff 349.0px,#00fc53 352.0px,#98ff00 353.0px,#ddff00 354.0px,#ffe800 355.0px,#ff7800 358.0px,#ff5800 360.0px,#ff5700 361.0px,#ff6800 363.0px,#ff8c00 365.0px,#fffb00 369.0px,#aeff00 371.0px,#7fff16 372.0px,#4dff46 373.0px,#00ff66 374.0px,#00ffc5 377.0px,#00fff3 379.0px,#00ecff 382.0px,#00fdff 385.0px,#00ffc7 388.0px,#00fd57 392.0px,#6aff2b 393.0px,#99ff00 394.0px,#efff00 396.0px,#ffea00 397.0px,#ff5800 402.0px,#ff1a00 405.0px,#ff0100 407.0px,#ff0000 411.0px,#ff2f00 415.0px,#ff7700 418.0px,#f4ff00 419.0px,#00ffb0 420.0px,#00fffe 421.0px,#00dfff 422.0px,#008dff 425.0px,#0043ff 429.0px,#001aff 433.0px,#000dff 438.0px,#001fff 440.0px,#0045ff 442.0px,#007cff 444.0px,#00e6ff 447.0px,#00ffee 448.0px,#00ff63 451.0px,#64ff30 452.0px,#a4ff00 453.0px,#ddff00 454.0px,#ffee00 455.0px,#ff5200 459.0px,#ff1300 461.0px,#f70000 462.0px,#bf0000 465.0px,#b20000 467.0px,#be0000 469.0px,#f90000 472.0px,#ff5800 475.0px,#fff400 479.0px,#d8ff00 480.0px,#a2ff00 481.0px,#67ff2d 482.0px,#00fe5e 483.0px,#00ffcb 486.0px,#00faff 488.0px,#00d8ff 490.0px,#00cdff 492.0px,#00dcff 496.0px,#00ffff 500.0px,#00fc52 512.0px,#5cff37 513.0px,#99ff00 516.0px,#e0ff00 521.0px,#fffe00 526.0px,#edff00 530.0px,#91ff05 535.0px,#57ff3d 537.0px,#00fd59 538.0px,#00fdff 545.0px,#0078ff 552.0px,#0050ff 557.0px,#0056ff 559.0px,#006eff 561.0px,#0095ff 563.0px,#00fff8 567.0px,#00ff64 571.0px,#53ff41 572.0px,#86ff0f 573.0px,#b4ff00 574.0px,#fffa00 576.0px,#ffab00 579.0px,#ff8400 581.0px,#ff6d00 583.0px,#ff6700 585.0px,#ff8f00 588.0px,#fffc00 592.0px,#8dff09 595.0px,#67ff2d 596.0px,#00fc51 597.0px,#00ff66 600.0px,#00ff8b 617.0px,#00ffff 637.0px,#00e8ff 646.0px,#00f7ff 650.0px,#00fffd 651.0px,#00ffd2 654.0px,#00fe5d 660.0px,#4eff45 661.0px,#8bff0b 663.0px,#a6ff00 664.0px,#fffa00 668.0px,#ffc700 672.0px,#ffb300 676.0px,#ffc500 683.0px,#fffe00 692.0px,#dbff00 694.0px,#a5ff00 696.0px,#83ff12 697.0px,#5dff37 698.0px,#00fe5a 699.0px,#00fff0 704.0px,#00f3ff 705.0px,#009cff 709.0px,#0082ff 711.0px,#0079ff 713.0px,#0098ff 719.0px,#00f6ff 726.0px,#00fff7 727.0px,#00ff6e 734.0px,#00fc51 736.0px,#62ff32 737.0px,#95ff01 739.0px,#fffc00 745.0px,#ffda00 749.0px,#ffd000 752.0px,#ffda00 755.0px,#fffe00 758.0px,#9fff00 762.0px,#62ff32 764.0px,#00fd53 765.0px,#00ffbc 771.0px,#00ffd6 774.0px,#00ffd6 776.0px,#00ffb7 780.0px,#00fd55 787.0px,#55ff3e 788.0px,#7fff16 790.0px,#91ff05 791.0px,#b7ff00 794.0px,#c4ff00 797.0px,#bbff00 800.0px,#99ff00 804.0px,#55ff3e 809.0px,#00fc52 810.0px,#00ff88 819.0px,#00ff9d 837.0px)"></div>
<div class="s" style="top:226.0px;height:70.1px;-webkit-mask-image:linear-gradient(180deg,transparent,#000 34.8px);mask-image:linear-gradient(180deg,transparent,#000 34.8px);background:linear-gradient(90deg,#960000 0.0px,#960000 19.0px,#ff0300 20.0px,#00ff81 21.0px,#0000e1 22.0px,#000087 23.0px,#000087 34.0px,#000091 50.0px,#000087 52.0px,#000087 77.0px,#000098 78.0px,#0000f9 79.0px,#00e6ff 81.0px,#00ffaa 82.0px,#00fd59 83.0px,#a1ff00 84.0px,#fffc00 85.0px,#ff2600 88.0px,#e70000 89.0px,#b10000 90.0px,#960000 91.0px,#960000 100.0px,#9e0000 101.0px,#d70000 102.0px,#ff1000 103.0px,#ff3b00 104.0px,#ff5200 105.0px,#ff8100 108.0px,#fbff00 121.0px,#ccff00 126.0px,#b6ff00 130.0px,#96ff00 149.0px,#4cff47 154.0px,#00fd59 155.0px,#00ff76 157.0px,#00faff 164.0px,#009eff 169.0px,#0065ff 173.0px,#004aff 176.0px,#0042ff 179.0px,#006cff 182.0px,#00a9ff 184.0px,#00f8ff 186.0px,#00ff72 189.0px,#52ff41 190.0px,#97ff00 191.0px,#fff800 193.0px,#ffae00 195.0px,#ff7700 197.0px,#ff5800 200.0px,#ff8000 203.0px,#ffdf00 206.0px,#f4ff00 207.0px,#bcff00 208.0px,#7dff18 209.0px,#00fd59 210.0px,#00ffeb 213.0px,#00e6ff 214.0px,#0097ff 216.0px,#005bff 218.0px,#0031ff 221.0px,#0034ff 222.0px,#0054ff 224.0px,#0090ff 226.0px,#00e1ff 228.0px,#00ffef 229.0px,#00fd5a 232.0px,#7bff1a 233.0px,#b8ff00 234.0px,#eeff00 235.0px,#ffe700 236.0px,#ffaf00 238.0px,#ff9200 240.0px,#ff9000 241.0px,#ffa400 243.0px,#ffea00 246.0px,#f1ff00 247.0px,#96ff00 249.0px,#5fff35 250.0px,#00fe60 251.0px,#00ffcd 254.0px,#00f9ff 256.0px,#00d9ff 258.0px,#00d3ff 260.0px,#00fffe 265.0px,#00ffc9 268.0px,#00ff64 271.0px,#00fd54 272.0px,#5bff38 273.0px,#8eff08 275.0px,#a4ff00 276.0px,#feff00 281.0px,#fff500 282.0px,#ffdf00 285.0px,#ffda00 288.0px,#ffff00 293.0px,#a6ff00 300.0px,#88ff0e 312.0px,#57ff3c 316.0px,#00fd54 317.0px,#00ff80 320.0px,#00fff3 325.0px,#00f3ff 326.0px,#0085ff 331.0px,#003cff 335.0px,#0016ff 338.0px,#0005ff 341.0px,#000fff 343.0px,#0042ff 345.0px,#0096ff 347.0px,#00fffe 349.0px,#00ff7f 351.0px,#a4ff00 353.0px,#eaff00 354.0px,#ffdd00 355.0px,#ff6e00 358.0px,#ff5a00 359.0px,#ff5100 361.0px,#ff6400 363.0px,#ff8a00 365.0px,#fffb00 369.0px,#acff00 371.0px,#7cff19 372.0px,#00fc51 373.0px,#00ffe0 378.0px,#00faff 380.0px,#00edff 382.0px,#00fffe 385.0px,#00ffc3 388.0px,#00fd55 392.0px,#6eff27 393.0px,#9cff00 394.0px,#f1ff00 396.0px,#ffe900 397.0px,#ff5800 402.0px,#ff1b00 405.0px,#ff0200 407.0px,#fe0000 411.0px,#ff2b00 415.0px,#ff7100 418.0px,#fff800 419.0px,#00ffbb 420.0px,#00eeff 421.0px,#0095ff 424.0px,#0043ff 428.0px,#0016ff 432.0px,#0004ff 437.0px,#000fff 439.0px,#0048ff 442.0px,#0083ff 444.0px,#00f5ff 447.0px,#00ffdc 448.0px,#00fc53 451.0px,#89ff0c 452.0px,#c7ff00 453.0px,#fffd00 454.0px,#ff3100 459.0px,#ff0f00 460.0px,#ef0000 461.0px,#ab0000 464.0px,#960000 466.0px,#a40000 469.0px,#e50000 472.0px,#ff0500 473.0px,#ff2600 474.0px,#ffed00 479.0px,#deff00 480.0px,#a6ff00 481.0px,#6aff2a 482.0px,#00fe5d 483.0px,#00ffce 486.0px,#00f6ff 488.0px,#00d3ff 490.0px,#00c8ff 492.0px,#00d7ff 496.0px,#00fbff 500.0px,#00fc51 512.0px,#60ff34 513.0px,#8bff0a 515.0px,#9fff00 516.0px,#dcff00 520.0px,#fffc00 524.0px,#fff500 527.0px,#f8ff00 530.0px,#daff00 532.0px,#97ff00 535.0px,#58ff3b 537.0px,#00fd59 538.0px,#00fff4 544.0px,#00f0ff 545.0px,#0098ff 549.0px,#0065ff 552.0px,#0047ff 555.0px,#0042ff 557.0px,#004dff 559.0px,#0069ff 561.0px,#0095ff 563.0px,#00eaff 566.0px,#00fff3 567.0px,#00fe5f 571.0px,#5eff36 572.0px,#92ff04 573.0px,#e8ff00 575.0px,#fff200 576.0px,#ff9000 580.0px,#ff7300 582.0px,#ff6500 584.0px,#ff7d00 587.0px,#fdff00 592.0px,#aeff00 594.0px,#88ff0e 595.0px,#63ff31 596.0px,#00fc53 597.0px,#00ff63 599.0px,#00ff83 617.0px,#00fdff 638.0px,#00e6ff 647.0px,#00faff 651.0px,#00ffdd 654.0px,#00fd57 661.0px,#5aff3a 662.0px,#98ff00 664.0px,#fcff00 668.0px,#fff000 669.0px,#ffb200 674.0px,#ffa600 678.0px,#ffbc00 684.0px,#fffb00 692.0px,#dbff00 694.0px,#a2ff00 696.0px,#54ff40 698.0px,#00fe60 699.0px,#00fffe 704.0px,#00a1ff 708.0px,#0085ff 710.0px,#007bff 712.0px,#0098ff 718.0px,#00fff9 726.0px,#00fc53 735.0px,#5eff36 736.0px,#91ff05 738.0px,#fffc00 744.0px,#ffd800 748.0px,#ffca00 752.0px,#ffd900 755.0px,#fdff00 758.0px,#97ff00 762.0px,#57ff3c 764.0px,#00fd59 765.0px,#00ffca 771.0px,#00ffe6 774.0px,#00ffe8 776.0px,#00ffcb 780.0px,#00fd57 788.0px,#52ff41 789.0px,#7cff19 791.0px,#9fff00 793.0px,#beff00 796.0px,#c4ff00 798.0px,#bbff00 801.0px,#99ff00 805.0px,#55ff3e 810.0px,#00fc52 811.0px,#00ff81 819.0px,#00ff97 837.0px)"></div>
<div class="s" style="top:260.8px;height:70.1px;-webkit-mask-image:linear-gradient(180deg,transparent,#000 34.8px);mask-image:linear-gradient(180deg,transparent,#000 34.8px);background:linear-gradient(90deg,#960000 0.0px,#960000 20.0px,#ff5200 21.0px,#00ffb1 22.0px,#0000c1 23.0px,#000087 24.0px,#000087 27.0px,#000087 78.0px,#0000ca 79.0px,#003bff 80.0px,#00b5ff 81.0px,#00ffd4 82.0px,#00ff70 83.0px,#7dff18 84.0px,#e5ff00 85.0px,#ffc500 86.0px,#ff3100 88.0px,#ee0000 89.0px,#b50000 90.0px,#960000 91.0px,#9b0000 101.0px,#d40000 102.0px,#ff0d00 103.0px,#ff3800 104.0px,#ff6c00 107.0px,#fdff00 121.0px,#ceff00 125.0px,#b1ff00 129.0px,#9aff00 150.0px,#86ff0f 152.0px,#51ff43 155.0px,#00fd58 156.0px,#00ff76 158.0px,#00fffa 164.0px,#00eeff 165.0px,#009eff 169.0px,#005dff 173.0px,#003fff 176.0px,#0035ff 179.0px,#003bff 180.0px,#0061ff 182.0px,#00a0ff 184.0px,#00f3ff 186.0px,#00ffdb 187.0px,#00ff72 189.0px,#9cff00 191.0px,#d8ff00 192.0px,#fff200 193.0px,#ffa700 195.0px,#ff7000 197.0px,#ff5600 199.0px,#ff5600 200.0px,#ff8400 203.0px,#ffea00 206.0px,#e4ff00 207.0px,#a8ff00 208.0px,#64ff30 209.0px,#00ff66 210.0px,#00fbff 213.0px,#00a4ff 215.0px,#005eff 217.0px,#002fff 219.0px,#001dff 221.0px,#0023ff 222.0px,#0048ff 224.0px,#0089ff 226.0px,#00dfff 228.0px,#00ffee 229.0px,#00fd55 232.0px,#87ff0f 233.0px,#faff00 235.0px,#ffde00 236.0px,#ff9400 239.0px,#ff8c00 241.0px,#ffa300 243.0px,#ffed00 246.0px,#ecff00 247.0px,#8fff07 249.0px,#58ff3b 250.0px,#00ff62 251.0px,#00ffcc 254.0px,#00feff 256.0px,#00e4ff 259.0px,#00fdff 263.0px,#00fff4 264.0px,#00ffc9 267.0px,#00fe5b 271.0px,#4eff45 272.0px,#90ff06 275.0px,#e2ff00 280.0px,#fffa00 283.0px,#ffea00 288.0px,#fcff00 293.0px,#b6ff00 300.0px,#96ff00 308.0px,#87ff0e 311.0px,#58ff3c 315.0px,#00fc53 316.0px,#00ff6a 318.0px,#00f9ff 325.0px,#0040ff 334.0px,#0016ff 337.0px,#0000fd 340.0px,#0007ff 343.0px,#001dff 344.0px,#0066ff 346.0px,#00fffb 349.0px,#00ff79 351.0px,#afff00 353.0px,#f7ff00 354.0px,#ffd300 355.0px,#ff6400 358.0px,#ff5100 359.0px,#ff4b00 361.0px,#ff6000 363.0px,#ff8700 365.0px,#fffc00 369.0px,#aaff00 371.0px,#79ff1c 372.0px,#00fc52 373.0px,#00ffc9 377.0px,#00fff6 379.0px,#00f9ff 380.0px,#00eeff 382.0px,#00fffa 385.0px,#00ffbf 388.0px,#00fc53 392.0px,#72ff23 393.0px,#9fff00 394.0px,#f3ff00 396.0px,#ffe800 397.0px,#ff4200 403.0px,#ff0d00 406.0px,#fb0000 408.0px,#ff0400 412.0px,#ff3a00 416.0px,#ff6c00 418.0px,#ffe400 419.0px,#00ffc4 420.0px,#00deff 421.0px,#006dff 425.0px,#0027ff 429.0px,#0004ff 433.0px,#0000ff 438.0px,#001bff 440.0px,#004bff 442.0px,#00fff9 447.0px,#00ff63 450.0px,#68ff2c 451.0px,#acff00 452.0px,#ebff00 453.0px,#ffe000 454.0px,#ff0f00 459.0px,#ec0000 460.0px,#9b0000 463.0px,#960000 469.0px,#9e0000 470.0px,#f30000 473.0px,#ff3e00 475.0px,#ffe700 479.0px,#e4ff00 480.0px,#aaff00 481.0px,#6dff27 482.0px,#00fe5d 483.0px,#00fff1 487.0px,#00f2ff 488.0px,#00ceff 490.0px,#00c3ff 492.0px,#00d2ff 496.0px,#00fffa 501.0px,#00fd5a 511.0px,#4dff46 512.0px,#92ff04 515.0px,#e5ff00 520.0px,#fff900 523.0px,#ffec00 527.0px,#fffa00 530.0px,#e5ff00 532.0px,#9dff00 535.0px,#5bff39 537.0px,#00fd59 538.0px,#00feff 544.0px,#009cff 548.0px,#0062ff 551.0px,#003eff 554.0px,#0035ff 556.0px,#003cff 558.0px,#0067ff 561.0px,#00efff 566.0px,#00ffec 567.0px,#00fd59 571.0px,#6bff2a 572.0px,#9dff00 573.0px,#f3ff00 575.0px,#ffea00 576.0px,#ff8b00 580.0px,#ff6f00 582.0px,#ff6300 584.0px,#ff7f00 587.0px,#f7ff00 592.0px,#a8ff00 594.0px,#5eff35 596.0px,#00fd55 597.0px,#00ff63 599.0px,#00ff7a 617.0px,#00fffd 638.0px,#00e5ff 647.0px,#00fdff 652.0px,#00ffd7 655.0px,#00fc52 662.0px,#66ff2e 663.0px,#a3ff00 665.0px,#f1ff00 668.0px,#fff700 669.0px,#ffb000 674.0px,#ff9800 679.0px,#ffad00 684.0px,#fff700 692.0px,#f5ff00 693.0px,#9eff00 696.0px,#76ff1f 697.0px,#00fc50 698.0px,#00ff66 699.0px,#00ffee 703.0px,#00f1ff 704.0px,#0096ff 708.0px,#007cff 711.0px,#0098ff 717.0px,#00fffa 725.0px,#00fd55 734.0px,#5bff38 735.0px,#8fff07 737.0px,#fffc00 743.0px,#ffd500 747.0px,#ffc400 751.0px,#ffce00 754.0px,#fff300 757.0px,#f9ff00 758.0px,#a9ff00 761.0px,#8bff0b 762.0px,#68ff2c 763.0px,#00fc52 764.0px,#00ffcf 770.0px,#00ffff 774.0px,#00feff 777.0px,#00ffe7 780.0px,#00fc50 790.0px,#61ff32 791.0px,#9cff00 794.0px,#bdff00 797.0px,#c4ff00 799.0px,#adff00 804.0px,#8dff09 807.0px,#54ff3f 811.0px,#00fc52 812.0px,#00ff7b 819.0px,#00ff90 837.0px)"></div>
<div class="s" style="top:295.6px;height:70.0px;-webkit-mask-image:linear-gradient(180deg,transparent,#000 34.8px);mask-image:linear-gradient(180deg,transparent,#000 34.8px);background:linear-gradient(90deg,#960000 0.0px,#960000 21.0px,#ff9900 22.0px,#00ffe0 23.0px,#0000a4 24.0px,#000087 25.0px,#000087 45.0px,#000087 78.0px,#00009b 79.0px,#0005ff 80.0px,#00faff 82.0px,#00ff93 83.0px,#56ff3e 84.0px,#c6ff00 85.0px,#ffda00 86.0px,#ff3d00 88.0px,#f60000 89.0px,#b90000 90.0px,#960000 91.0px,#970000 101.0px,#d00000 102.0px,#ff0a00 103.0px,#ff3500 104.0px,#ff5800 106.0px,#ff9d00 113.0px,#ffff00 121.0px,#c8ff00 125.0px,#a8ff00 129.0px,#97ff00 152.0px,#55ff3e 156.0px,#00fd56 157.0px,#00ff77 159.0px,#00f8ff 165.0px,#008aff 170.0px,#0056ff 173.0px,#0033ff 176.0px,#0028ff 179.0px,#002eff 180.0px,#0055ff 182.0px,#0098ff 184.0px,#00eeff 186.0px,#00ffde 187.0px,#00ff71 189.0px,#59ff3b 190.0px,#a1ff00 191.0px,#dfff00 192.0px,#ffeb00 193.0px,#ff8100 196.0px,#ff5900 198.0px,#ff5200 199.0px,#ff5300 200.0px,#ff7000 202.0px,#ffa800 204.0px,#fff500 206.0px,#d2ff00 207.0px,#94ff02 208.0px,#00fc50 209.0px,#00ffe9 212.0px,#00e3ff 213.0px,#008bff 215.0px,#0045ff 217.0px,#0018ff 219.0px,#000aff 221.0px,#0012ff 222.0px,#003cff 224.0px,#0083ff 226.0px,#00deff 228.0px,#00ffec 229.0px,#00ff7c 231.0px,#00fc50 232.0px,#94ff02 233.0px,#fff800 235.0px,#ff9c00 238.0px,#ff8600 240.0px,#ffa200 243.0px,#ffef00 246.0px,#eaff00 247.0px,#8dff08 249.0px,#58ff3c 250.0px,#00ff62 251.0px,#00ffde 255.0px,#00fffe 257.0px,#00fbff 258.0px,#00fffe 260.0px,#00ffd5 264.0px,#00ffaa 267.0px,#00fe60 270.0px,#00fc53 271.0px,#58ff3c 272.0px,#8fff07 275.0px,#9fff00 276.0px,#d4ff00 280.0px,#f8ff00 284.0px,#fffd00 290.0px,#92ff04 309.0px,#5aff3a 314.0px,#00fc52 315.0px,#00ff7a 318.0px,#00feff 324.0px,#0054ff 332.0px,#0000ff 338.0px,#0000f1 341.0px,#0000fe 343.0px,#0016ff 344.0px,#0062ff 346.0px,#00fff8 349.0px,#00ff73 351.0px,#67ff2d 352.0px,#baff00 353.0px,#fffb00 354.0px,#ff9c00 356.0px,#ff5a00 358.0px,#ff4200 360.0px,#ff5c00 363.0px,#ff9f00 366.0px,#fffc00 369.0px,#a8ff00 371.0px,#76ff1e 372.0px,#00fd54 373.0px,#00ff6e 374.0px,#00ffcc 377.0px,#00fff7 379.0px,#00f0ff 382.0px,#00fbff 384.0px,#00ffd2 387.0px,#00fc51 392.0px,#75ff1f 393.0px,#a2ff00 394.0px,#f5ff00 396.0px,#ffe700 397.0px,#ff4200 403.0px,#ff0e00 406.0px,#fb0000 408.0px,#ff0300 412.0px,#ff3600 416.0px,#ff6600 418.0px,#ffcc00 419.0px,#00ffc3 420.0px,#00d5ff 421.0px,#0079ff 424.0px,#0028ff 428.0px,#0000fd 432.0px,#0000f1 436.0px,#0000f8 438.0px,#0019ff 440.0px,#004eff 442.0px,#00e6ff 446.0px,#00ffe9 447.0px,#00fd54 450.0px,#8cff09 451.0px,#ceff00 452.0px,#fff300 453.0px,#ff1200 458.0px,#eb0000 459.0px,#a90000 461.0px,#960000 462.0px,#960000 470.0px,#a20000 471.0px,#e30000 473.0px,#ff0a00 474.0px,#ffe200 479.0px,#e9ff00 480.0px,#aeff00 481.0px,#6fff25 482.0px,#00fe5d 483.0px,#00fff5 487.0px,#00eeff 488.0px,#00caff 490.0px,#00bfff 493.0px,#00d5ff 497.0px,#00fffd 501.0px,#00fd58 511.0px,#51ff42 512.0px,#82ff14 514.0px,#98ff00 515.0px,#eeff00 520.0px,#fff800 522.0px,#ffe100 527.0px,#fffb00 531.0px,#dbff00 533.0px,#a5ff00 535.0px,#83ff12 536.0px,#5eff36 537.0px,#00fd59 538.0px,#00ffee 543.0px,#00f3ff 544.0px,#008bff 548.0px,#0050ff 551.0px,#002dff 554.0px,#0028ff 556.0px,#0034ff 558.0px,#0066ff 561.0px,#00f5ff 566.0px,#00ffe5 567.0px,#00fd54 571.0px,#77ff1d 572.0px,#a8ff00 573.0px,#fdff00 575.0px,#ffe300 576.0px,#ff8600 580.0px,#ff6b00 582.0px,#ff6200 584.0px,#ff8100 587.0px,#ffea00 591.0px,#f2ff00 592.0px,#a3ff00 594.0px,#5aff3a 596.0px,#00fd56 597.0px,#00ff64 599.0px,#00ff68 613.0px,#00ff74 618.0px,#00ffff 639.0px,#00e3ff 648.0px,#00fffe 653.0px,#00ffc0 657.0px,#00fe5b 662.0px,#53ff40 663.0px,#93ff03 665.0px,#feff00 669.0px,#ffee00 670.0px,#ffa400 675.0px,#ff8a00 680.0px,#ffa400 685.0px,#f9ff00 693.0px,#9bff00 696.0px,#6fff26 697.0px,#00fd55 698.0px,#00fffe 703.0px,#009cff 707.0px,#007dff 710.0px,#0098ff 716.0px,#00fffb 724.0px,#00fd55 733.0px,#5bff39 734.0px,#8fff07 736.0px,#e2ff00 740.0px,#fffa00 742.0px,#ffc900 747.0px,#ffbb00 751.0px,#ffc900 754.0px,#fff200 757.0px,#f8ff00 758.0px,#a4ff00 761.0px,#5fff35 763.0px,#00fd57 764.0px,#00ffdd 770.0px,#00fffe 772.0px,#00f5ff 773.0px,#00e9ff 776.0px,#00fffd 780.0px,#00fc52 791.0px,#5eff36 792.0px,#9aff00 795.0px,#bcff00 798.0px,#c4ff00 800.0px,#adff00 805.0px,#8dff09 808.0px,#54ff40 812.0px,#00fc52 813.0px,#00ff78 820.0px,#00ff8a 837.0px)"></div>
<div class="s" style="top:330.4px;height:70.0px;-webkit-mask-image:linear-gradient(180deg,transparent,#000 34.8px);mask-image:linear-gradient(180deg,transparent,#000 34.8px);background:linear-gradient(90deg,#960000 0.0px,#960000 22.0px,#ff9600 23.0px,#00ffb9 24.0px,#0000f7 25.0px,#000087 26.0px,#000087 78.0px,#00009f 79.0px,#0007ff 80.0px,#00f8ff 82.0px,#00ff96 83.0px,#4fff45 84.0px,#bbff00 85.0px,#ffe500 86.0px,#ff0c00 89.0px,#a50000 91.0px,#960000 92.0px,#960000 100.0px,#b30000 101.0px,#e80000 102.0px,#ff1d00 103.0px,#ff4300 104.0px,#ff5600 105.0px,#ffa300 113.0px,#fffb00 120.0px,#b9ff00 125.0px,#9aff00 129.0px,#9dff00 134.0px,#cfff00 150.0px,#c9ff00 152.0px,#a0ff00 155.0px,#8aff0b 156.0px,#51ff42 158.0px,#00fe5c 159.0px,#00fffd 165.0px,#00e6ff 166.0px,#0083ff 170.0px,#0048ff 173.0px,#0022ff 176.0px,#0019ff 178.0px,#0026ff 180.0px,#0055ff 182.0px,#009eff 184.0px,#00f9ff 186.0px,#00ff62 189.0px,#6fff25 190.0px,#b5ff00 191.0px,#f2ff00 192.0px,#ffde00 193.0px,#ff7900 196.0px,#ff5800 198.0px,#ff5500 199.0px,#ff5b00 200.0px,#ff7f00 202.0px,#ffe500 205.0px,#e8ff00 206.0px,#abff00 207.0px,#64ff30 208.0px,#00ff69 209.0px,#00ffd8 211.0px,#00f1ff 212.0px,#006dff 215.0px,#002dff 217.0px,#0009ff 219.0px,#0003ff 220.0px,#0016ff 222.0px,#004cff 224.0px,#009bff 226.0px,#00fcff 228.0px,#00fe5d 231.0px,#79ff1c 232.0px,#bbff00 233.0px,#f4ff00 234.0px,#ffe000 235.0px,#ff9100 238.0px,#ff8700 240.0px,#ffb100 243.0px,#f8ff00 246.0px,#a0ff00 248.0px,#6eff27 249.0px,#00fd57 250.0px,#00ffc9 254.0px,#00ffe6 256.0px,#00ffde 259.0px,#00ffb1 262.0px,#00ff7c 266.0px,#00fc52 274.0px,#55ff3e 275.0px,#9cff00 279.0px,#e5ff00 284.0px,#fffd00 288.0px,#efff00 294.0px,#91ff05 307.0px,#4eff45 313.0px,#00fd56 314.0px,#00ff7d 317.0px,#00fff8 323.0px,#0038ff 334.0px,#000fff 338.0px,#0005ff 341.0px,#000dff 342.0px,#0040ff 344.0px,#0097ff 346.0px,#00fff7 348.0px,#00ff73 350.0px,#66ff2e 351.0px,#b9ff00 352.0px,#fffc00 353.0px,#ff7800 356.0px,#ff4b00 358.0px,#ff4500 359.0px,#ff5200 361.0px,#ff7400 363.0px,#faff00 368.0px,#a0ff00 370.0px,#6dff28 371.0px,#00fd58 372.0px,#00ff75 373.0px,#00ffd4 376.0px,#00fdff 378.0px,#00e4ff 381.0px,#00f8ff 384.0px,#00fff8 385.0px,#00ffd0 387.0px,#00ff63 391.0px,#4dff46 392.0px,#a5ff00 394.0px,#f5ff00 396.0px,#ffe800 397.0px,#ff7a00 401.0px,#ff3900 404.0px,#ff1200 407.0px,#ff0900 409.0px,#ff1a00 413.0px,#ff4300 416.0px,#ff7000 418.0px,#ffc700 419.0px,#00ffbd 420.0px,#00d2ff 421.0px,#0075ff 424.0px,#0023ff 428.0px,#0001ff 431.0px,#0000ef 435.0px,#0000f8 438.0px,#001cff 440.0px,#0053ff 442.0px,#00f0ff 446.0px,#00ffde 447.0px,#00ff75 449.0px,#9cff00 451.0px,#ddff00 452.0px,#ffe800 453.0px,#ff0a00 458.0px,#a40000 461.0px,#960000 462.0px,#960000 470.0px,#ed0000 473.0px,#ff1300 474.0px,#ffea00 479.0px,#e0ff00 480.0px,#a6ff00 481.0px,#67ff2d 482.0px,#00fe60 483.0px,#00fff7 487.0px,#00edff 488.0px,#00c9ff 490.0px,#00c0ff 493.0px,#00cfff 496.0px,#00fff8 501.0px,#00fe5b 510.0px,#4cff47 511.0px,#98ff00 514.0px,#fffc00 520.0px,#ffd700 526.0px,#ffdc00 528.0px,#fffd00 531.0px,#94ff02 535.0px,#6dff27 536.0px,#00fc53 537.0px,#00ff68 538.0px,#00ffea 542.0px,#00f5ff 543.0px,#0088ff 547.0px,#0049ff 550.0px,#0023ff 553.0px,#001cff 555.0px,#0027ff 557.0px,#0057ff 560.0px,#00fff6 566.0px,#00fe5e 570.0px,#61ff33 571.0px,#95ff01 572.0px,#ecff00 574.0px,#ffef00 575.0px,#ff8e00 579.0px,#ff7100 581.0px,#ff6400 583.0px,#ff7b00 586.0px,#ffa300 588.0px,#fff400 591.0px,#e8ff00 592.0px,#9fff00 594.0px,#5bff38 596.0px,#00fd54 597.0px,#00ff61 599.0px,#00ff6c 618.0px,#00fdff 639.0px,#00deff 648.0px,#00f8ff 653.0px,#00ffd9 656.0px,#00fe5c 662.0px,#52ff42 663.0px,#95ff01 665.0px,#fff900 669.0px,#ff9400 675.0px,#ff7200 680.0px,#ff9000 685.0px,#fff300 692.0px,#f5ff00 693.0px,#b2ff00 695.0px,#88ff0e 696.0px,#56ff3d 697.0px,#00ff63 698.0px,#00fffb 702.0px,#00e2ff 703.0px,#00abff 705.0px,#0085ff 707.0px,#0077ff 710.0px,#009bff 716.0px,#00faff 723.0px,#00fe5c 732.0px,#4bff48 733.0px,#98ff00 736.0px,#faff00 741.0px,#fff600 742.0px,#ffc800 747.0px,#ffbc00 751.0px,#ffcc00 754.0px,#fff700 757.0px,#f1ff00 758.0px,#9bff00 761.0px,#55ff3f 763.0px,#00fe5c 764.0px,#00ffd1 769.0px,#00faff 772.0px,#00e4ff 776.0px,#00ffff 780.0px,#00fd54 790.0px,#5cff38 791.0px,#8eff08 793.0px,#d1ff00 797.0px,#e8ff00 801.0px,#cfff00 805.0px,#9aff00 809.0px,#53ff40 813.0px,#00fd54 814.0px,#00ff7a 820.0px,#00ff8d 837.0px)"></div>
<div class="s" style="top:365.1px;height:70.1px;-webkit-mask-image:linear-gradient(180deg,transparent,#000 34.8px);mask-image:linear-gradient(180deg,transparent,#000 34.8px);background:linear-gradient(90deg,#960000 0.0px,#960000 23.0px,#ff5700 24.0px,#00ff62 25.0px,#0093ff 26.0px,#00009b 27.0px,#000087 28.0px,#000087 78.0px,#0000d2 79.0px,#0040ff 80.0px,#00b4ff 81.0px,#00ffdb 82.0px,#00ff7b 83.0px,#64ff30 84.0px,#c4ff00 85.0px,#ffe800 86.0px,#ff6800 88.0px,#ff0200 90.0px,#c60000 92.0px,#bf0000 93.0px,#bf0000 99.0px,#cb0000 100.0px,#ec0000 101.0px,#ff1900 102.0px,#ff6300 104.0px,#ff7300 105.0px,#f8ff00 119.0px,#a1ff00 125.0px,#85ff10 129.0px,#9eff00 134.0px,#fcff00 142.0px,#ffdd00 147.0px,#ffd600 150.0px,#fffa00 154.0px,#efff00 155.0px,#94ff02 158.0px,#6aff2a 159.0px,#00fd55 160.0px,#00ff6e 161.0px,#00fff9 165.0px,#0043ff 172.0px,#0015ff 175.0px,#0009ff 177.0px,#0015ff 179.0px,#0042ff 181.0px,#0089ff 183.0px,#00e2ff 185.0px,#00ffe9 186.0px,#00ff7a 188.0px,#4cff47 189.0px,#96ff00 190.0px,#d4ff00 191.0px,#fff400 192.0px,#ff8b00 195.0px,#ff6600 197.0px,#ff5f00 198.0px,#ff6200 199.0px,#ff8200 201.0px,#ffe400 204.0px,#ebff00 205.0px,#aeff00 206.0px,#68ff2c 207.0px,#00ff66 208.0px,#00ffd5 210.0px,#00f4ff 211.0px,#0070ff 214.0px,#001bff 217.0px,#000aff 219.0px,#001fff 221.0px,#007bff 224.0px,#00fff9 227.0px,#00fd5a 230.0px,#7fff16 231.0px,#beff00 232.0px,#f6ff00 233.0px,#ffa700 236.0px,#ff8e00 238.0px,#ffa700 241.0px,#fff200 244.0px,#e6ff00 245.0px,#8bff0b 247.0px,#57ff3c 248.0px,#00ff61 249.0px,#00ffba 252.0px,#00ffe2 255.0px,#00ffd3 257.0px,#00ff61 262.0px,#00fd55 263.0px,#51ff42 264.0px,#50ff43 266.0px,#00fc53 267.0px,#00ff7c 272.0px,#00ff77 274.0px,#00fc53 278.0px,#5bff39 279.0px,#8cff0a 281.0px,#a3ff00 282.0px,#fcff00 287.0px,#fff300 290.0px,#fcff00 294.0px,#99ff00 303.0px,#4cff47 310.0px,#00fd55 311.0px,#00ff7a 315.0px,#00f9ff 323.0px,#0066ff 332.0px,#003dff 336.0px,#0030ff 339.0px,#003bff 341.0px,#0052ff 342.0px,#009cff 344.0px,#00fffc 346.0px,#00ff7d 348.0px,#a9ff00 350.0px,#f1ff00 351.0px,#ffd700 352.0px,#ff8600 354.0px,#ff6a00 355.0px,#ff5300 357.0px,#ff6000 359.0px,#ff8100 361.0px,#ffed00 365.0px,#ecff00 366.0px,#91ff05 368.0px,#5cff37 369.0px,#00fe60 370.0px,#00ffe3 374.0px,#00fffd 375.0px,#00ecff 376.0px,#00d2ff 378.0px,#00cdff 380.0px,#00fffa 385.0px,#00fe61 391.0px,#50ff43 392.0px,#a4ff00 394.0px,#efff00 396.0px,#ffef00 397.0px,#ff8a00 401.0px,#ff5000 404.0px,#ff2e00 407.0px,#ff2800 409.0px,#ff3900 413.0px,#ff5f00 416.0px,#ff8900 418.0px,#ffd700 419.0px,#00ffb4 420.0px,#00d4ff 421.0px,#0093ff 423.0px,#004aff 426.0px,#0019ff 429.0px,#0000fc 432.0px,#0000f2 436.0px,#0000fe 438.0px,#000eff 439.0px,#005aff 442.0px,#00f3ff 446.0px,#00ffdb 447.0px,#00ff75 449.0px,#4fff45 450.0px,#97ff00 451.0px,#d5ff00 452.0px,#fff000 453.0px,#ff4200 457.0px,#f90000 459.0px,#bd0000 461.0px,#960000 463.0px,#960000 468.0px,#b60000 470.0px,#ee0000 472.0px,#ff1000 473.0px,#ff3300 474.0px,#fffe00 479.0px,#92ff04 481.0px,#55ff3e 482.0px,#00ff67 483.0px,#00fff7 487.0px,#00efff 488.0px,#00ceff 490.0px,#00c3ff 492.0px,#00ceff 495.0px,#00fffa 500.0px,#00fd58 509.0px,#56ff3d 510.0px,#8dff09 512.0px,#a5ff00 513.0px,#f6ff00 517.0px,#fff900 518.0px,#ffd500 522.0px,#ffcd00 525.0px,#ffd600 527.0px,#fffe00 530.0px,#acff00 533.0px,#89ff0c 534.0px,#61ff33 535.0px,#00fd59 536.0px,#00fff7 541.0px,#00e8ff 542.0px,#007bff 546.0px,#003cff 549.0px,#0018ff 552.0px,#0012ff 554.0px,#001fff 556.0px,#0051ff 559.0px,#00fffb 565.0px,#00fe60 569.0px,#5cff37 570.0px,#91ff05 571.0px,#e8ff00 573.0px,#fff200 574.0px,#ff9300 578.0px,#ff7600 580.0px,#ff6b00 582.0px,#ff7400 584.0px,#ff8f00 586.0px,#feff00 591.0px,#9eff00 594.0px,#4bff48 597.0px,#00fd58 598.0px,#00ff66 618.0px,#00ff8c 624.0px,#00fcff 638.0px,#00d3ff 648.0px,#00dcff 651.0px,#00feff 654.0px,#00ffc8 657.0px,#00fd56 662.0px,#63ff31 663.0px,#88ff0e 664.0px,#aaff00 665.0px,#fff700 668.0px,#ffa300 672.0px,#ff7300 675.0px,#ff5000 680.0px,#ff5700 682.0px,#ff7900 685.0px,#fff900 692.0px,#e7ff00 693.0px,#97ff00 695.0px,#61ff33 696.0px,#00fe5f 697.0px,#00faff 701.0px,#00b7ff 703.0px,#0084ff 705.0px,#0067ff 708.0px,#0070ff 711.0px,#008eff 715.0px,#00fbff 723.0px,#00fc51 733.0px,#61ff32 734.0px,#93ff03 736.0px,#fffe00 742.0px,#ffd200 747.0px,#ffc600 751.0px,#ffd600 754.0px,#fcff00 757.0px,#acff00 760.0px,#8dff09 761.0px,#6aff2a 762.0px,#00fc52 763.0px,#00ffd7 769.0px,#00fffa 771.0px,#00f8ff 772.0px,#00e7ff 775.0px,#00fffe 779.0px,#00ffce 782.0px,#00fc53 788.0px,#65ff2f 789.0px,#a1ff00 791.0px,#fcff00 795.0px,#ffda00 800.0px,#fff900 805.0px,#e4ff00 807.0px,#90ff05 811.0px,#60ff34 813.0px,#00fc51 814.0px,#00ff84 820.0px,#00ff9a 837.0px)"></div>
<div class="s" style="top:399.9px;height:70.1px;-webkit-mask-image:linear-gradient(180deg,transparent,#000 34.8px);mask-image:linear-gradient(180deg,transparent,#000 34.8px);background:linear-gradient(90deg,#960000 0.0px,#960000 24.0px,#ff2300 25.0px,#7eff17 26.0px,#00fcff 27.0px,#002dff 28.0px,#000087 29.0px,#000087 77.0px,#0000aa 78.0px,#0007ff 79.0px,#00e2ff 81.0px,#00ffb6 82.0px,#00ff66 83.0px,#74ff21 84.0px,#c6ff00 85.0px,#fff000 86.0px,#ff5800 89.0px,#ff1700 91.0px,#ff0200 93.0px,#ff0200 99.0px,#ff0c00 100.0px,#ff8100 104.0px,#fffb00 117.0px,#95ff01 124.0px,#72ff22 128.0px,#88ff0d 132.0px,#96ff00 133.0px,#ffff00 139.0px,#ffb000 145.0px,#ff9900 149.0px,#ffab00 152.0px,#fffd00 156.0px,#b4ff00 158.0px,#87ff0f 159.0px,#53ff40 160.0px,#00ff65 161.0px,#00f9ff 165.0px,#0091ff 168.0px,#003cff 171.0px,#0014ff 173.0px,#0000fb 175.0px,#0001ff 178.0px,#0013ff 179.0px,#0072ff 182.0px,#00fbff 185.0px,#00ffcd 186.0px,#00fe60 188.0px,#72ff22 189.0px,#b5ff00 190.0px,#f0ff00 191.0px,#ffe100 192.0px,#ff8500 195.0px,#ff6b00 197.0px,#ff6a00 198.0px,#ff8500 200.0px,#ffe300 203.0px,#edff00 204.0px,#b1ff00 205.0px,#6cff28 206.0px,#00ff63 207.0px,#00f7ff 210.0px,#009bff 212.0px,#0051ff 214.0px,#0020ff 216.0px,#0011ff 218.0px,#0018ff 219.0px,#0040ff 221.0px,#0085ff 223.0px,#00dcff 225.0px,#00fff0 226.0px,#00fd56 229.0px,#85ff11 230.0px,#c2ff00 231.0px,#f7ff00 232.0px,#ffe100 233.0px,#ff9b00 236.0px,#ff9700 238.0px,#ffb100 240.0px,#fdff00 243.0px,#a5ff00 245.0px,#74ff21 246.0px,#00fd55 247.0px,#00ffc1 251.0px,#00ffda 253.0px,#00ffd9 254.0px,#00ffbb 256.0px,#00fc52 260.0px,#6aff2a 261.0px,#89ff0d 262.0px,#a2ff00 264.0px,#89ff0d 266.0px,#6cff29 267.0px,#00fc51 268.0px,#00ff8f 271.0px,#00ffa7 273.0px,#00ff96 276.0px,#00fd58 280.0px,#56ff3d 281.0px,#93ff03 283.0px,#ddff00 286.0px,#fffc00 288.0px,#ffe700 291.0px,#f9ff00 296.0px,#95ff01 302.0px,#4dff46 307.0px,#00fd55 308.0px,#00ff7d 313.0px,#00ffbf 318.0px,#00fffd 322.0px,#0088ff 331.0px,#0066ff 335.0px,#005cff 338.0px,#005eff 339.0px,#0084ff 341.0px,#00fffb 344.0px,#00fc51 347.0px,#9bff00 348.0px,#e2ff00 349.0px,#ffe400 350.0px,#ff9300 352.0px,#ff7700 353.0px,#ff6100 355.0px,#ff6d00 357.0px,#ff8d00 359.0px,#fff800 363.0px,#b1ff00 365.0px,#82ff14 366.0px,#4dff46 367.0px,#00ff68 368.0px,#00fff0 372.0px,#00f3ff 373.0px,#00bfff 376.0px,#00b6ff 378.0px,#00c6ff 381.0px,#00f1ff 384.0px,#00fffa 385.0px,#00ffe3 386.0px,#00fe60 391.0px,#51ff43 392.0px,#a1ff00 394.0px,#fff800 397.0px,#ff7800 403.0px,#ff5200 406.0px,#ff4800 408.0px,#ff5000 412.0px,#ff6d00 415.0px,#ffa200 418.0px,#ffe800 419.0px,#00ffad 420.0px,#00d7ff 421.0px,#007bff 424.0px,#002aff 428.0px,#0001ff 432.0px,#0000fa 437.0px,#0015ff 439.0px,#0043ff 441.0px,#0081ff 443.0px,#00f6ff 446.0px,#00fc50 450.0px,#8fff06 451.0px,#ccff00 452.0px,#fff900 453.0px,#ff3000 458.0px,#ff0f00 459.0px,#f10000 460.0px,#b20000 463.0px,#a20000 465.0px,#b50000 468.0px,#f40000 471.0px,#ff3100 473.0px,#ffe900 478.0px,#e7ff00 479.0px,#b3ff00 480.0px,#7dff18 481.0px,#00fc53 482.0px,#00ffda 486.0px,#00fff6 487.0px,#00f1ff 488.0px,#00d2ff 490.0px,#00c8ff 492.0px,#00d4ff 495.0px,#00fffd 499.0px,#00fc53 508.0px,#63ff31 509.0px,#9dff00 511.0px,#f8ff00 515.0px,#fff600 516.0px,#ffcb00 520.0px,#ffbf00 523.0px,#ffcf00 526.0px,#fffd00 529.0px,#a7ff00 532.0px,#81ff14 533.0px,#57ff3d 534.0px,#00fe5f 535.0px,#00faff 540.0px,#0087ff 544.0px,#0043ff 547.0px,#0016ff 550.0px,#0009ff 553.0px,#0016ff 555.0px,#004aff 558.0px,#009bff 561.0px,#00ffff 564.0px,#00ff63 568.0px,#58ff3c 569.0px,#8cff0a 570.0px,#e3ff00 572.0px,#fff600 573.0px,#ff9700 577.0px,#ff7c00 579.0px,#ff7200 581.0px,#ff9100 585.0px,#fff300 590.0px,#f2ff00 591.0px,#9eff00 594.0px,#55ff3e 597.0px,#00fc53 598.0px,#00ff66 619.0px,#00fcff 637.0px,#00d6ff 643.0px,#00c8ff 648.0px,#00d2ff 651.0px,#00f7ff 654.0px,#00ffe0 656.0px,#00ff61 661.0px,#4cff47 662.0px,#9cff00 664.0px,#fffa00 667.0px,#ff9a00 671.0px,#ff6000 674.0px,#ff3a00 677.0px,#ff2d00 680.0px,#ff5300 684.0px,#fdff00 692.0px,#a9ff00 694.0px,#72ff23 695.0px,#00fe5b 696.0px,#00ffe3 699.0px,#00efff 700.0px,#00a4ff 702.0px,#006eff 704.0px,#005dff 705.0px,#0053ff 707.0px,#007cff 714.0px,#00f9ff 723.0px,#00fc53 733.0px,#5dff36 734.0px,#8eff08 736.0px,#a3ff00 737.0px,#ebff00 741.0px,#fff800 743.0px,#ffd800 747.0px,#ffcd00 751.0px,#ffd500 753.0px,#fff800 756.0px,#f2ff00 757.0px,#a2ff00 760.0px,#5eff36 762.0px,#00fd57 763.0px,#00ffdd 769.0px,#00fffd 771.0px,#00f6ff 772.0px,#00eaff 775.0px,#00feff 778.0px,#00ffcf 781.0px,#00fe5e 786.0px,#50ff43 787.0px,#96ff00 789.0px,#fffb00 793.0px,#ffc300 797.0px,#ffb700 800.0px,#ffc900 803.0px,#f9ff00 807.0px,#93ff03 811.0px,#59ff3b 813.0px,#00fd56 814.0px,#00ff89 818.0px,#00ff96 820.0px,#00ffa7 837.0px)"></div>
<div class="s" style="top:434.7px;height:70.1px;-webkit-mask-image:linear-gradient(180deg,transparent,#000 34.8px);mask-image:linear-gradient(180deg,transparent,#000 34.8px);background:linear-gradient(90deg,#960000 0.0px,#960000 25.0px,#f60000 26.0px,#c9ff00 27.0px,#00ffb4 28.0px,#009dff 29.0px,#0000fd 30.0px,#000087 31.0px,#000087 76.0px,#00008c 77.0px,#0000dc 78.0px,#003fff 79.0px,#00a8ff 80.0px,#00fff2 81.0px,#00ff97 82.0px,#00fe5c 83.0px,#7cff19 84.0px,#c1ff00 85.0px,#fffe00 86.0px,#ffa700 88.0px,#ff6600 90.0px,#ff4600 92.0px,#ff4400 93.0px,#ff4a00 100.0px,#ff9f00 104.0px,#fffb00 115.0px,#97ff00 122.0px,#6dff27 125.0px,#5eff35 128.0px,#7aff1b 131.0px,#a1ff00 133.0px,#fffd00 137.0px,#ff7900 144.0px,#ff5900 147.0px,#ff5300 149.0px,#ff6100 151.0px,#ff8500 153.0px,#fffb00 157.0px,#a0ff00 159.0px,#64ff30 160.0px,#00ff61 161.0px,#00ffea 164.0px,#00e8ff 165.0px,#0075ff 168.0px,#0035ff 170.0px,#0005ff 172.0px,#0000f4 173.0px,#0000e4 176.0px,#0000fc 178.0px,#0016ff 179.0px,#005aff 181.0px,#00e2ff 184.0px,#00ffe8 185.0px,#00ff79 187.0px,#4dff46 188.0px,#96ff00 189.0px,#fff800 191.0px,#ff9700 194.0px,#ff7700 196.0px,#ff7400 197.0px,#ff8900 199.0px,#ffe200 202.0px,#efff00 203.0px,#b4ff00 204.0px,#70ff24 205.0px,#00ff61 206.0px,#00faff 209.0px,#009eff 211.0px,#0054ff 213.0px,#0024ff 215.0px,#0018ff 217.0px,#0020ff 218.0px,#004aff 220.0px,#008eff 222.0px,#00e5ff 224.0px,#00ffe8 225.0px,#00fc53 228.0px,#8aff0c 229.0px,#f8ff00 231.0px,#ffe200 232.0px,#ffaf00 234.0px,#ff9b00 236.0px,#ffaa00 238.0px,#ffef00 241.0px,#ebff00 242.0px,#91ff05 244.0px,#5dff36 245.0px,#00fe5e 246.0px,#00ffb3 249.0px,#00ffd1 251.0px,#00ffd2 252.0px,#00ffb7 254.0px,#00fe5e 257.0px,#5cff38 258.0px,#8aff0b 259.0px,#ceff00 261.0px,#ebff00 263.0px,#d2ff00 265.0px,#8dff09 267.0px,#5cff38 268.0px,#00fe5f 269.0px,#00ffbb 272.0px,#00ffd3 274.0px,#00ffbc 277.0px,#00fd59 282.0px,#5bff38 283.0px,#a1ff00 285.0px,#f3ff00 288.0px,#fff800 289.0px,#ffe100 291.0px,#ffdc00 293.0px,#fffe00 297.0px,#95ff01 302.0px,#53ff40 305.0px,#00fd55 306.0px,#00fffc 320.0px,#00f6ff 321.0px,#009cff 330.0px,#007fff 337.0px,#0093ff 339.0px,#00aeff 340.0px,#00ffff 342.0px,#00fd5a 345.0px,#88ff0d 346.0px,#cfff00 347.0px,#fff200 348.0px,#ffa100 350.0px,#ff8500 351.0px,#ff6e00 353.0px,#ff7b00 355.0px,#ff9a00 357.0px,#faff00 361.0px,#a4ff00 363.0px,#72ff22 364.0px,#00fd56 365.0px,#00fffd 370.0px,#00bdff 373.0px,#009fff 376.0px,#00b4ff 380.0px,#00f0ff 384.0px,#00fff9 385.0px,#00fe60 391.0px,#4dff46 392.0px,#99ff00 394.0px,#faff00 397.0px,#ff8f00 403.0px,#ff6600 408.0px,#ff6f00 412.0px,#ff8a00 415.0px,#ffbb00 418.0px,#fffa00 419.0px,#00ffa8 420.0px,#00daff 421.0px,#007eff 424.0px,#002dff 428.0px,#0004ff 432.0px,#0000fa 436.0px,#000bff 438.0px,#0030ff 440.0px,#0087ff 443.0px,#00f9ff 446.0px,#00fc53 450.0px,#87ff0f 451.0px,#fbff00 453.0px,#ff6600 457.0px,#ff0b00 460.0px,#d10000 463.0px,#c50000 465.0px,#ce0000 467.0px,#eb0000 469.0px,#ff0100 470.0px,#ff3300 472.0px,#fffe00 478.0px,#9fff00 480.0px,#69ff2b 481.0px,#00fe5a 482.0px,#00fff6 487.0px,#00d6ff 490.0px,#00cdff 492.0px,#00dcff 495.0px,#00ffff 498.0px,#00fe5c 506.0px,#52ff41 507.0px,#93ff03 509.0px,#fbff00 513.0px,#fff100 514.0px,#ffbe00 518.0px,#ffaf00 522.0px,#ffc600 525.0px,#fffb00 528.0px,#a3ff00 531.0px,#7bff1a 532.0px,#4fff44 533.0px,#00ff63 534.0px,#00ffed 538.0px,#00f0ff 539.0px,#007bff 543.0px,#0036ff 546.0px,#000aff 549.0px,#0000fe 552.0px,#000eff 554.0px,#0044ff 557.0px,#0096ff 560.0px,#00fbff 563.0px,#00ff65 567.0px,#53ff40 568.0px,#87ff0e 569.0px,#b5ff00 570.0px,#fff900 572.0px,#ff9c00 576.0px,#ff8200 578.0px,#ff7900 580.0px,#ff9500 584.0px,#fffc00 590.0px,#9fff00 594.0px,#50ff43 598.0px,#00fc52 599.0px,#00fd55 608.0px,#00fd57 615.0px,#00ff67 620.0px,#00ffff 636.0px,#00cdff 643.0px,#00beff 648.0px,#00caff 651.0px,#00f2ff 654.0px,#00fff9 655.0px,#00ffe3 656.0px,#00fe5c 661.0px,#5cff38 662.0px,#88ff0e 663.0px,#b0ff00 664.0px,#fcff00 666.0px,#ff7c00 671.0px,#ff3f00 674.0px,#ff1700 677.0px,#ff0b00 680.0px,#ff1b00 682.0px,#ff3c00 684.0px,#ffed00 691.0px,#f0ff00 692.0px,#8aff0c 694.0px,#00fc52 695.0px,#00ffe7 698.0px,#00e6ff 699.0px,#0092ff 701.0px,#0056ff 703.0px,#0045ff 704.0px,#003fff 706.0px,#0050ff 710.0px,#0074ff 714.0px,#00f6ff 723.0px,#00fff6 724.0px,#00fd55 733.0px,#5aff3a 734.0px,#9fff00 737.0px,#fffd00 743.0px,#ffde00 747.0px,#ffd300 751.0px,#ffdb00 753.0px,#ffff00 756.0px,#98ff00 760.0px,#53ff40 762.0px,#00fe5c 763.0px,#00ffcf 768.0px,#00feff 771.0px,#00ecff 774.0px,#00fdff 777.0px,#00fff4 778.0px,#00ffb9 781.0px,#00fd58 785.0px,#61ff33 786.0px,#89ff0d 787.0px,#adff00 788.0px,#efff00 790.0px,#fff400 791.0px,#ffa700 795.0px,#ff8700 799.0px,#ffa300 803.0px,#ffef00 807.0px,#f6ff00 808.0px,#98ff00 811.0px,#52ff41 813.0px,#00fe5b 814.0px,#00ff8f 817.0px,#00ffaa 820.0px,#00ffb4 837.0px)"></div>
<div class="s" style="top:469.5px;height:70.0px;-webkit-mask-image:linear-gradient(180deg,transparent,#000 34.8px);mask-image:linear-gradient(180deg,transparent,#000 34.8px);background:linear-gradient(90deg,#960000 0.0px,#960000 26.0px,#d20000 27.0px,#fff800 28.0px,#00ff7e 29.0px,#00f1ff 30.0px,#0002ff 32.0px,#0000a8 33.0px,#000087 34.0px,#000087 76.0px,#0000bb 77.0px,#0010ff 78.0px,#00d7ff 80.0px,#00ffcb 81.0px,#00ff7f 82.0px,#00fd55 83.0px,#7dff18 84.0px,#b6ff00 85.0px,#e8ff00 86.0px,#ffed00 87.0px,#ffb200 89.0px,#ff8e00 91.0px,#ff8500 99.0px,#ffcf00 106.0px,#f9ff00 112.0px,#96ff00 120.0px,#62ff32 124.0px,#53ff40 127.0px,#72ff22 130.0px,#a1ff00 132.0px,#f7ff00 135.0px,#ff4400 143.0px,#ff1700 146.0px,#ff0c00 148.0px,#ff1700 150.0px,#ff3a00 152.0px,#ff7300 154.0px,#ffe400 157.0px,#e9ff00 158.0px,#adff00 159.0px,#69ff2b 160.0px,#00ff63 161.0px,#00feff 164.0px,#0053ff 168.0px,#0011ff 170.0px,#0000f7 171.0px,#0000d8 173.0px,#0000d1 175.0px,#0000fe 178.0px,#006bff 181.0px,#00faff 184.0px,#00ffcd 185.0px,#00fe60 187.0px,#71ff24 188.0px,#b2ff00 189.0px,#ebff00 190.0px,#ffe700 191.0px,#ff9300 194.0px,#ff7e00 196.0px,#ff8e00 198.0px,#ffe200 201.0px,#f1ff00 202.0px,#b7ff00 203.0px,#74ff21 204.0px,#00fe5f 205.0px,#00fdff 208.0px,#00a1ff 210.0px,#0057ff 212.0px,#0029ff 214.0px,#001fff 215.0px,#0028ff 217.0px,#0053ff 219.0px,#0098ff 221.0px,#00edff 223.0px,#00ffdf 224.0px,#00ff77 226.0px,#4bff48 227.0px,#8fff07 228.0px,#f9ff00 230.0px,#ffe300 231.0px,#ffb300 233.0px,#ffa200 235.0px,#ffb400 237.0px,#fffd00 240.0px,#abff00 242.0px,#7aff1b 243.0px,#00fc52 244.0px,#00ffb9 248.0px,#00ffcb 250.0px,#00ffb4 252.0px,#00fe5b 255.0px,#69ff2b 256.0px,#9dff00 257.0px,#f1ff00 259.0px,#fff100 260.0px,#ffd700 262.0px,#ffda00 263.0px,#feff00 265.0px,#a9ff00 267.0px,#72ff23 268.0px,#00fd59 269.0px,#00ffe0 273.0px,#00fff4 275.0px,#00ffe7 277.0px,#00ffc7 279.0px,#00fc53 284.0px,#6cff28 285.0px,#93ff03 286.0px,#eeff00 289.0px,#fff900 290.0px,#ffdf00 292.0px,#ffd500 294.0px,#ffe000 296.0px,#fffa00 298.0px,#eeff00 299.0px,#9eff00 302.0px,#63ff31 304.0px,#00fc51 305.0px,#00ffcd 313.0px,#00ffff 318.0px,#00b6ff 328.0px,#009fff 336.0px,#00b8ff 338.0px,#00fdff 340.0px,#00ff62 343.0px,#74ff21 344.0px,#bdff00 345.0px,#fdff00 346.0px,#ffd400 347.0px,#ff9300 349.0px,#ff7c00 351.0px,#ff9600 354.0px,#fff100 358.0px,#ebff00 359.0px,#96ff00 361.0px,#63ff31 362.0px,#00fe5d 363.0px,#00ffe9 367.0px,#00f5ff 368.0px,#009dff 372.0px,#0089ff 375.0px,#00a1ff 379.0px,#00f0ff 384.0px,#00fff9 385.0px,#00fc52 392.0px,#6aff2a 393.0px,#8eff08 394.0px,#adff00 395.0px,#fffc00 398.0px,#ffa800 403.0px,#ff8700 407.0px,#ff9300 413.0px,#ffcc00 418.0px,#f9ff00 419.0px,#00ffa1 420.0px,#00dcff 421.0px,#0081ff 424.0px,#0030ff 428.0px,#0007ff 432.0px,#0000fe 436.0px,#0011ff 438.0px,#0050ff 441.0px,#008cff 443.0px,#00fbff 446.0px,#00fd56 450.0px,#7dff18 451.0px,#b7ff00 452.0px,#edff00 453.0px,#ffe500 454.0px,#ff5900 458.0px,#ff0f00 461.0px,#fd0000 462.0px,#e90000 464.0px,#f30000 467.0px,#ff0000 468.0px,#ff3b00 471.0px,#fff000 477.0px,#e5ff00 478.0px,#b8ff00 479.0px,#89ff0d 480.0px,#56ff3d 481.0px,#00ff61 482.0px,#00ffdd 486.0px,#00f5ff 488.0px,#00dbff 490.0px,#00d3ff 492.0px,#00dbff 494.0px,#00fcff 497.0px,#00ffca 500.0px,#00fd57 505.0px,#5eff36 506.0px,#a3ff00 508.0px,#f9ff00 511.0px,#fff000 512.0px,#ffb300 516.0px,#ff9d00 520.0px,#ffb100 523.0px,#fffa00 527.0px,#9eff00 530.0px,#73ff22 531.0px,#00fc53 532.0px,#00ff6c 533.0px,#00fffa 537.0px,#006dff 542.0px,#0016ff 546.0px,#0000fc 548.0px,#0000f2 550.0px,#0000f8 552.0px,#0003ff 553.0px,#003bff 556.0px,#008fff 559.0px,#00f5ff 562.0px,#00ffe2 563.0px,#00ff6a 566.0px,#4dff46 567.0px,#81ff14 568.0px,#b0ff00 569.0px,#fffd00 571.0px,#ffa100 575.0px,#ff8700 577.0px,#ff8000 579.0px,#ff9800 583.0px,#f8ff00 590.0px,#a0ff00 594.0px,#68ff2c 597.0px,#51ff43 599.0px,#00fc50 600.0px,#00fc51 614.0px,#00ff63 620.0px,#00fffb 635.0px,#00c4ff 643.0px,#00b4ff 648.0px,#00c1ff 651.0px,#00fffe 655.0px,#00fd56 661.0px,#6cff28 662.0px,#9bff00 663.0px,#eeff00 665.0px,#ffed00 666.0px,#ff5f00 671.0px,#ff0d00 675.0px,#fe0000 676.0px,#e80000 679.0px,#fd0000 682.0px,#ff3f00 685.0px,#fff300 691.0px,#e0ff00 692.0px,#a8ff00 693.0px,#61ff33 694.0px,#00ff6e 695.0px,#00ffe6 697.0px,#00e0ff 698.0px,#005bff 701.0px,#002fff 703.0px,#002bff 704.0px,#0037ff 708.0px,#0058ff 712.0px,#0096ff 717.0px,#00f5ff 723.0px,#00fff7 724.0px,#00fd56 733.0px,#56ff3d 734.0px,#6eff27 735.0px,#9aff00 737.0px,#eeff00 742.0px,#fff900 744.0px,#ffd900 751.0px,#fff700 755.0px,#e0ff00 757.0px,#8dff08 760.0px,#6bff29 761.0px,#00fc51 762.0px,#00ffd4 768.0px,#00fcff 771.0px,#00efff 774.0px,#00fff6 777.0px,#00ffba 780.0px,#00fd54 784.0px,#6eff27 785.0px,#99ff00 786.0px,#fff700 789.0px,#ffac00 792.0px,#ff7300 795.0px,#ff5700 799.0px,#ff6300 801.0px,#ff8000 803.0px,#fff700 808.0px,#9aff00 811.0px,#71ff23 812.0px,#00fc51 813.0px,#00ffa1 817.0px,#00ffb9 819.0px,#00ffc1 837.0px)"></div>
<div class="s" style="top:504.2px;height:70.0px;-webkit-mask-image:linear-gradient(180deg,transparent,#000 34.8px);mask-image:linear-gradient(180deg,transparent,#000 34.8px);background:linear-gradient(90deg,#960000 0.0px,#960000 27.0px,#e90000 28.0px,#fffe00 29.0px,#00ff76 30.0px,#00fff4 31.0px,#009eff 32.0px,#003eff 33.0px,#0000eb 34.0px,#0000ab 35.0px,#000087 36.0px,#000087 75.0px,#00009e 76.0px,#0000e2 77.0px,#0035ff 78.0px,#00e4ff 80.0px,#00ffc9 81.0px,#00ff86 82.0px,#00fe5d 83.0px,#64ff30 84.0px,#98ff00 85.0px,#ebff00 87.0px,#fff200 88.0px,#ffc600 90.0px,#ffad00 92.0px,#ffa900 100.0px,#fbff00 111.0px,#9eff00 119.0px,#62ff32 124.0px,#55ff3e 127.0px,#7bff19 130.0px,#95ff01 131.0px,#eeff00 134.0px,#fff200 135.0px,#ff4d00 141.0px,#ff0e00 144.0px,#fe0000 145.0px,#ee0000 147.0px,#f30000 149.0px,#ff0200 150.0px,#ff2e00 152.0px,#ff6f00 154.0px,#ffec00 157.0px,#daff00 158.0px,#9aff00 159.0px,#00ff78 161.0px,#00ffe6 163.0px,#00e5ff 164.0px,#0060ff 167.0px,#0000fb 170.0px,#0000d7 172.0px,#0000cb 174.0px,#0000f0 177.0px,#000cff 178.0px,#0055ff 180.0px,#00e1ff 183.0px,#00ffe9 184.0px,#00ff7a 186.0px,#00fc50 187.0px,#92ff04 188.0px,#fffd00 190.0px,#ffa200 193.0px,#ff8600 195.0px,#ff8e00 197.0px,#ffba00 199.0px,#fcff00 201.0px,#c4ff00 202.0px,#84ff11 203.0px,#00fd57 204.0px,#00fff4 207.0px,#00daff 208.0px,#0065ff 211.0px,#0038ff 213.0px,#002fff 214.0px,#003aff 216.0px,#0064ff 218.0px,#00a6ff 220.0px,#00f9ff 222.0px,#00ff72 225.0px,#4fff44 226.0px,#8fff06 227.0px,#f5ff00 229.0px,#ffe700 230.0px,#ffb800 232.0px,#ffa700 234.0px,#ffb800 236.0px,#fdff00 239.0px,#a6ff00 241.0px,#75ff20 242.0px,#00fd54 243.0px,#00ffbd 247.0px,#00ffcd 249.0px,#00ffb4 251.0px,#00fe5a 254.0px,#6aff2a 255.0px,#9fff00 256.0px,#f7ff00 258.0px,#ffea00 259.0px,#ffca00 261.0px,#ffc800 262.0px,#ffd200 263.0px,#fdff00 265.0px,#9fff00 267.0px,#63ff31 268.0px,#00ff62 269.0px,#00ffb6 271.0px,#00fff7 273.0px,#00eeff 275.0px,#00f8ff 277.0px,#00fff9 278.0px,#00ffd0 280.0px,#00fe60 284.0px,#53ff40 285.0px,#7eff17 286.0px,#a6ff00 287.0px,#fffb00 290.0px,#ffdb00 292.0px,#ffcd00 294.0px,#ffd600 296.0px,#f3ff00 299.0px,#96ff00 302.0px,#50ff43 304.0px,#00fe5b 305.0px,#00ffc7 312.0px,#00fffe 318.0px,#00cfff 326.0px,#00b7ff 333.0px,#00b8ff 336.0px,#00dfff 338.0px,#00fffd 339.0px,#00ff6a 342.0px,#61ff33 343.0px,#a7ff00 344.0px,#e3ff00 345.0px,#ffec00 346.0px,#ffb100 348.0px,#ff9f00 350.0px,#ffba00 353.0px,#fff900 356.0px,#e4ff00 357.0px,#96ff00 359.0px,#66ff2e 360.0px,#00fd5a 361.0px,#00feff 366.0px,#00a3ff 370.0px,#0088ff 373.0px,#0091ff 376.0px,#00bcff 380.0px,#00fffc 384.0px,#00fe5c 391.0px,#53ff41 392.0px,#95ff01 394.0px,#fdff00 398.0px,#ffb800 403.0px,#ff9f00 407.0px,#ffac00 413.0px,#ffdd00 418.0px,#e9ff00 419.0px,#00ffa0 420.0px,#00ddff 421.0px,#0084ff 424.0px,#0035ff 428.0px,#0014ff 431.0px,#0003ff 435.0px,#000bff 437.0px,#003aff 440.0px,#008cff 443.0px,#00f6ff 446.0px,#00ffdf 447.0px,#00fe5e 450.0px,#68ff2c 451.0px,#a3ff00 452.0px,#fff800 454.0px,#ff9100 457.0px,#ff4100 460.0px,#ff1300 463.0px,#ff0b00 465.0px,#ff1600 467.0px,#ff4300 470.0px,#ff8900 473.0px,#ffff00 477.0px,#acff00 479.0px,#7fff16 480.0px,#50ff43 481.0px,#00ff62 482.0px,#00ffbc 485.0px,#00fdff 488.0px,#00d8ff 492.0px,#00deff 494.0px,#00feff 497.0px,#00fc51 505.0px,#6eff27 506.0px,#93ff03 507.0px,#efff00 510.0px,#fff600 511.0px,#ffb300 515.0px,#ff9900 519.0px,#ffac00 522.0px,#fff400 526.0px,#eeff00 527.0px,#a6ff00 529.0px,#7cff19 530.0px,#4dff46 531.0px,#00ff65 532.0px,#00fff6 536.0px,#003dff 543.0px,#0016ff 545.0px,#0000fb 547.0px,#0000f1 550.0px,#0000ff 552.0px,#000fff 553.0px,#006dff 557.0px,#00f2ff 561.0px,#00ffe5 562.0px,#00ff6d 565.0px,#00fc51 566.0px,#7dff18 567.0px,#acff00 568.0px,#fdff00 570.0px,#ffe500 571.0px,#ff9800 575.0px,#ff8800 578.0px,#ffaa00 583.0px,#ffff00 589.0px,#9cff00 594.0px,#5eff35 598.0px,#4eff45 601.0px,#4cff47 614.0px,#00fc51 615.0px,#00ff68 621.0px,#00fcff 636.0px,#00cdff 642.0px,#00b9ff 648.0px,#00c8ff 651.0px,#00f6ff 654.0px,#00ffd8 656.0px,#00ff61 660.0px,#54ff40 661.0px,#83ff12 662.0px,#afff00 663.0px,#d9ff00 664.0px,#fffc00 665.0px,#ff4f00 671.0px,#fe0000 675.0px,#df0000 679.0px,#fa0000 682.0px,#ff4200 685.0px,#ffff00 691.0px,#89ff0d 693.0px,#00fd59 694.0px,#00ffd1 696.0px,#00efff 697.0px,#005cff 700.0px,#0028ff 702.0px,#0022ff 703.0px,#002fff 707.0px,#005aff 712.0px,#009dff 717.0px,#00fffe 723.0px,#00fd5a 732.0px,#4eff45 733.0px,#92ff04 736.0px,#e3ff00 741.0px,#fffa00 744.0px,#ffe800 749.0px,#fffd00 753.0px,#9dff00 758.0px,#64ff30 760.0px,#00fc52 761.0px,#00ffd4 768.0px,#00fffe 772.0px,#00fffb 775.0px,#00ffe4 777.0px,#00fd59 783.0px,#61ff33 784.0px,#8cff09 785.0px,#ffff00 788.0px,#ffb000 791.0px,#ff7200 794.0px,#ff4900 798.0px,#ff4e00 800.0px,#ff6600 802.0px,#ffa200 805.0px,#fff300 808.0px,#e9ff00 809.0px,#9cff00 811.0px,#72ff22 812.0px,#00fc51 813.0px,#00ffa6 817.0px,#00ffc6 820.0px,#00ffc8 837.0px)"></div>
<div class="s" style="top:539.0px;height:70.1px;-webkit-mask-image:linear-gradient(180deg,transparent,#000 34.8px);mask-image:linear-gradient(180deg,transparent,#000 34.8px);background:linear-gradient(90deg,#960000 0.0px,#960000 28.0px,#ff3300 29.0px,#bfff00 30.0px,#00ff8e 31.0px,#00faff 32.0px,#003aff 34.0px,#0000ec 35.0px,#0000af 36.0px,#000087 37.0px,#000087 74.0px,#00008b 75.0px,#0000fb 77.0px,#00d6ff 80.0px,#00ffe2 81.0px,#00ff72 83.0px,#00fd56 84.0px,#6cff28 85.0px,#9aff00 86.0px,#e6ff00 88.0px,#fff900 89.0px,#ffcf00 91.0px,#ffb500 93.0px,#ffb000 101.0px,#ffbd00 104.0px,#fcff00 112.0px,#97ff00 121.0px,#78ff1d 124.0px,#69ff2c 127.0px,#86ff0f 130.0px,#9dff00 131.0px,#f4ff00 134.0px,#ffed00 135.0px,#ff6300 140.0px,#ff1f00 143.0px,#ff0300 145.0px,#fb0000 148.0px,#ff1700 150.0px,#ff4900 152.0px,#ffde00 156.0px,#f0ff00 157.0px,#b2ff00 158.0px,#6eff26 159.0px,#00ff61 160.0px,#00ffff 163.0px,#00d0ff 164.0px,#0030ff 168.0px,#0000f8 170.0px,#0000d3 173.0px,#0000eb 176.0px,#0002ff 177.0px,#0020ff 178.0px,#006dff 180.0px,#00faff 183.0px,#00ff62 186.0px,#6bff29 187.0px,#acff00 188.0px,#e3ff00 189.0px,#ffee00 190.0px,#ff9c00 193.0px,#ff8800 195.0px,#ff9900 197.0px,#fff100 200.0px,#dbff00 201.0px,#a0ff00 202.0px,#59ff3a 203.0px,#00ff6f 204.0px,#00ffa6 205.0px,#00ffdc 206.0px,#00f0ff 207.0px,#007cff 210.0px,#0051ff 212.0px,#0049ff 213.0px,#0066ff 216.0px,#009aff 218.0px,#00fff6 221.0px,#00ff6d 224.0px,#52ff42 225.0px,#8eff08 226.0px,#eeff00 228.0px,#ffee00 229.0px,#ffc000 231.0px,#ffab00 233.0px,#ffb600 235.0px,#fff900 238.0px,#b1ff00 240.0px,#81ff15 241.0px,#4cff47 242.0px,#00ff67 243.0px,#00ffbf 246.0px,#00ffd8 248.0px,#00ffd6 249.0px,#00ffb4 251.0px,#00fd55 254.0px,#77ff1e 255.0px,#abff00 256.0px,#fffe00 258.0px,#ffd200 260.0px,#ffc900 261.0px,#ffd600 263.0px,#f2ff00 265.0px,#8fff07 267.0px,#50ff43 268.0px,#00ff6e 269.0px,#00ffc3 271.0px,#00fdff 273.0px,#00e8ff 275.0px,#00f6ff 277.0px,#00ffe3 279.0px,#00fd55 284.0px,#6fff25 285.0px,#9cff00 286.0px,#fffa00 289.0px,#ffc700 292.0px,#ffc000 294.0px,#ffd200 296.0px,#fff700 298.0px,#eaff00 299.0px,#a7ff00 301.0px,#83ff12 302.0px,#5fff35 303.0px,#00fd55 304.0px,#00ffb8 312.0px,#00fdff 321.0px,#00d4ff 328.0px,#00c3ff 334.0px,#00c5ff 336.0px,#00ebff 338.0px,#00fff3 339.0px,#00ff70 342.0px,#50ff43 343.0px,#8fff06 344.0px,#f1ff00 346.0px,#ffee00 347.0px,#ffd100 349.0px,#ffd100 350.0px,#fdff00 354.0px,#a0ff00 357.0px,#4dff46 359.0px,#00ff63 360.0px,#00ffff 365.0px,#00aeff 369.0px,#009cff 372.0px,#00b9ff 377.0px,#00fffe 382.0px,#00fe5a 390.0px,#53ff40 391.0px,#8fff07 393.0px,#fffc00 398.0px,#ffca00 402.0px,#ffb400 406.0px,#ffc200 413.0px,#ffee00 418.0px,#d7ff00 419.0px,#00ffa6 420.0px,#00deff 421.0px,#0088ff 424.0px,#003cff 428.0px,#001bff 431.0px,#000aff 435.0px,#000fff 437.0px,#003aff 440.0px,#0087ff 443.0px,#00ebff 446.0px,#00ffed 447.0px,#00ff6f 450.0px,#00fc50 451.0px,#84ff11 452.0px,#b8ff00 453.0px,#e8ff00 454.0px,#ffee00 455.0px,#ff9100 458.0px,#ff6100 460.0px,#ff3500 463.0px,#ff2d00 465.0px,#ff3700 467.0px,#ff5f00 470.0px,#ffeb00 476.0px,#f4ff00 477.0px,#a9ff00 479.0px,#80ff15 480.0px,#55ff3e 481.0px,#00fe5e 482.0px,#00ffc9 486.0px,#00fbff 489.0px,#00ddff 493.0px,#00faff 497.0px,#00ffce 500.0px,#00fd59 505.0px,#5cff38 506.0px,#a3ff00 508.0px,#fcff00 511.0px,#ffbe00 515.0px,#ffa400 519.0px,#ffb700 522.0px,#ffff00 526.0px,#96ff00 529.0px,#69ff2b 530.0px,#00fd57 531.0px,#00ffdf 535.0px,#00fcff 536.0px,#0081ff 540.0px,#0025ff 544.0px,#0000fd 547.0px,#0000fb 550.0px,#0012ff 552.0px,#0039ff 554.0px,#008cff 557.0px,#00f2ff 560.0px,#00ffe6 561.0px,#00ff6e 564.0px,#00fc52 565.0px,#7bff1a 566.0px,#aaff00 567.0px,#faff00 569.0px,#ffe800 570.0px,#ff9e00 574.0px,#ff9300 577.0px,#ffb300 582.0px,#feff00 588.0px,#93ff03 594.0px,#54ff3f 599.0px,#4dff46 613.0px,#00fc50 614.0px,#00ff6a 621.0px,#00feff 637.0px,#00d8ff 643.0px,#00ceff 648.0px,#00d7ff 650.0px,#00fdff 653.0px,#00ffd6 655.0px,#00fc52 660.0px,#72ff23 661.0px,#9dff00 662.0px,#ecff00 664.0px,#ffef00 665.0px,#ff6700 670.0px,#ff1600 674.0px,#fd0000 676.0px,#f10000 678.0px,#f60000 680.0px,#ff0200 681.0px,#ff3e00 684.0px,#ffed00 690.0px,#e9ff00 691.0px,#b0ff00 692.0px,#68ff2c 693.0px,#00ff6c 694.0px,#00ffeb 696.0px,#00d8ff 697.0px,#0075ff 699.0px,#004fff 700.0px,#0034ff 701.0px,#0026ff 703.0px,#0036ff 707.0px,#005cff 711.0px,#00f6ff 721.0px,#00fff5 722.0px,#00ff6d 729.0px,#00fc53 731.0px,#5cff38 732.0px,#9cff00 735.0px,#e3ff00 740.0px,#ffff00 744.0px,#f3ff00 749.0px,#b1ff00 754.0px,#8cff09 756.0px,#60ff34 758.0px,#00fc51 759.0px,#00ffc0 767.0px,#00ffe8 772.0px,#00ffe4 775.0px,#00ffce 777.0px,#00fd54 783.0px,#69ff2b 784.0px,#91ff05 785.0px,#f9ff00 788.0px,#ff8300 794.0px,#ff5e00 798.0px,#ff6200 800.0px,#ff7700 802.0px,#ffae00 805.0px,#fff800 808.0px,#9fff00 811.0px,#51ff42 813.0px,#00fe5e 814.0px,#00ff9e 817.0px,#00ffc3 820.0px,#00ffc8 837.0px)"></div>
<div class="s" style="top:573.8px;height:70.0px;-webkit-mask-image:linear-gradient(180deg,transparent,#000 34.8px);mask-image:linear-gradient(180deg,transparent,#000 34.8px);background:linear-gradient(90deg,#960000 0.0px,#960000 29.0px,#ff7500 30.0px,#87ff0f 31.0px,#00ffa4 32.0px,#00ebff 33.0px,#0037ff 35.0px,#0000ed 36.0px,#000087 38.0px,#000087 74.0px,#0000d8 76.0px,#0011ff 77.0px,#00cdff 80.0px,#00fff5 81.0px,#00ff8b 83.0px,#00ff65 84.0px,#00fc51 85.0px,#73ff22 86.0px,#9cff00 87.0px,#fffe00 90.0px,#ffc900 93.0px,#ffb800 95.0px,#ffb600 102.0px,#ffcc00 107.0px,#fcff00 113.0px,#a1ff00 122.0px,#83ff12 128.0px,#abff00 131.0px,#feff00 134.0px,#ff3100 142.0px,#ff1100 144.0px,#ff0300 146.0px,#ff0c00 148.0px,#ff4700 151.0px,#ff8500 153.0px,#fffc00 156.0px,#8bff0b 158.0px,#00fc53 159.0px,#00ffe4 162.0px,#00eaff 163.0px,#0048ff 167.0px,#000dff 169.0px,#0000f6 170.0px,#0000da 173.0px,#0000fa 176.0px,#0015ff 177.0px,#005bff 179.0px,#00e2ff 182.0px,#00ffea 183.0px,#00fc53 186.0px,#8aff0c 187.0px,#f9ff00 189.0px,#ffe000 190.0px,#ff9800 193.0px,#ff8c00 195.0px,#ffa700 197.0px,#ffe200 199.0px,#f2ff00 200.0px,#b9ff00 201.0px,#78ff1c 202.0px,#00fe5c 203.0px,#00fff5 206.0px,#00ddff 207.0px,#007cff 210.0px,#0065ff 212.0px,#0082ff 215.0px,#00b3ff 217.0px,#00f3ff 219.0px,#00ffe4 220.0px,#00ff66 223.0px,#56ff3d 224.0px,#8eff08 225.0px,#e8ff00 227.0px,#fff300 228.0px,#ffb800 231.0px,#ffae00 233.0px,#ffc400 235.0px,#fff300 237.0px,#e7ff00 238.0px,#8dff09 240.0px,#58ff3b 241.0px,#00ff61 242.0px,#00ffa3 244.0px,#00ffd3 246.0px,#00ffe4 248.0px,#00ffdd 249.0px,#00ffb2 251.0px,#00ff6c 253.0px,#4bff48 254.0px,#84ff11 255.0px,#b6ff00 256.0px,#e3ff00 257.0px,#fff600 258.0px,#ffcf00 260.0px,#ffc800 261.0px,#ffcc00 262.0px,#fff300 264.0px,#e5ff00 265.0px,#b5ff00 266.0px,#7dff18 267.0px,#00fd56 268.0px,#00fff2 272.0px,#00f4ff 273.0px,#00e3ff 275.0px,#00f5ff 277.0px,#00fff7 278.0px,#00ffde 279.0px,#00fe5e 283.0px,#5fff35 284.0px,#91ff05 285.0px,#e4ff00 287.0px,#fff700 288.0px,#ffbb00 291.0px,#ffae00 293.0px,#ffbe00 295.0px,#fffe00 298.0px,#92ff03 301.0px,#6cff29 302.0px,#00fc50 303.0px,#00fffd 324.0px,#00f3ff 326.0px,#00cfff 335.0px,#00d3ff 336.0px,#00f5ff 338.0px,#00ffeb 339.0px,#00fd58 343.0px,#70ff25 344.0px,#9fff00 345.0px,#e1ff00 347.0px,#f4ff00 348.0px,#f8ff00 350.0px,#e1ff00 352.0px,#9cff00 355.0px,#58ff3c 357.0px,#00fe5c 358.0px,#00fffe 364.0px,#00ebff 365.0px,#00bcff 368.0px,#00b0ff 371.0px,#00c5ff 375.0px,#00fffd 380.0px,#00fd59 389.0px,#52ff41 390.0px,#88ff0d 392.0px,#a0ff00 393.0px,#fffd00 398.0px,#ffd500 402.0px,#ffc800 406.0px,#ffd700 413.0px,#fffd00 418.0px,#c8ff00 419.0px,#00ffaa 420.0px,#00deff 421.0px,#008cff 424.0px,#0042ff 428.0px,#001bff 432.0px,#0011ff 436.0px,#001dff 438.0px,#004fff 441.0px,#00fffa 447.0px,#00fe5d 451.0px,#64ff30 452.0px,#9aff00 453.0px,#f3ff00 455.0px,#ffe800 456.0px,#ff9700 459.0px,#ff6f00 461.0px,#ff5700 463.0px,#ff5000 465.0px,#ff5900 467.0px,#ff7c00 470.0px,#fff900 476.0px,#a3ff00 479.0px,#56ff3d 481.0px,#00fe5c 482.0px,#00ffd3 487.0px,#00f9ff 490.0px,#00e3ff 494.0px,#00fffa 498.0px,#00fc50 506.0px,#6fff25 507.0px,#93ff02 508.0px,#edff00 511.0px,#fff900 512.0px,#ffbd00 516.0px,#ffae00 519.0px,#ffc100 522.0px,#fff400 525.0px,#f0ff00 526.0px,#acff00 528.0px,#84ff11 529.0px,#57ff3d 530.0px,#00fe60 531.0px,#00ffec 535.0px,#00f0ff 536.0px,#0079ff 540.0px,#0034ff 543.0px,#0009ff 546.0px,#0000ff 548.0px,#000aff 550.0px,#003bff 553.0px,#008cff 556.0px,#00f1ff 559.0px,#00ffe7 560.0px,#00ff6f 563.0px,#00fc53 564.0px,#79ff1c 565.0px,#a8ff00 566.0px,#f6ff00 568.0px,#ffeb00 569.0px,#ffb100 572.0px,#ff9d00 575.0px,#ffb400 580.0px,#fcff00 587.0px,#99ff00 593.0px,#5aff39 598.0px,#4eff45 601.0px,#4bff48 613.0px,#00fc51 614.0px,#00ff6a 621.0px,#00feff 639.0px,#00e3ff 647.0px,#00faff 651.0px,#00ffd0 654.0px,#00fd57 659.0px,#64ff30 660.0px,#8eff08 661.0px,#feff00 664.0px,#ff7d00 669.0px,#ff3e00 672.0px,#ff1300 675.0px,#ff0200 678.0px,#ff0c00 680.0px,#ff3d00 683.0px,#fffb00 690.0px,#95ff01 692.0px,#00fc52 693.0px,#00faff 696.0px,#0065ff 699.0px,#002fff 701.0px,#0029ff 702.0px,#0037ff 706.0px,#005dff 710.0px,#0095ff 714.0px,#00fdff 720.0px,#00fd59 729.0px,#4eff45 730.0px,#8dff08 733.0px,#cfff00 738.0px,#e1ff00 742.0px,#ccff00 747.0px,#95ff01 752.0px,#53ff40 756.0px,#00fd54 757.0px,#00ffb5 766.0px,#00ffd9 772.0px,#00ffd5 775.0px,#00ffc1 777.0px,#00fc52 783.0px,#6aff2a 784.0px,#8eff07 785.0px,#efff00 788.0px,#fff400 789.0px,#ff9400 794.0px,#ff7600 797.0px,#ff7200 799.0px,#ff9700 803.0px,#fffe00 808.0px,#9fff00 811.0px,#57ff3d 813.0px,#00fe5a 814.0px,#00ffa7 818.0px,#00ffc6 821.0px,#00ffc8 837.0px)"></div>
<div class="s" style="top:608.6px;height:70.1px;-webkit-mask-image:linear-gradient(180deg,transparent,#000 34.8px);mask-image:linear-gradient(180deg,transparent,#000 34.8px);background:linear-gradient(90deg,#960000 0.0px,#960000 29.0px,#a40000 30.0px,#ffb100 31.0px,#54ff40 32.0px,#00ffb7 33.0px,#00dfff 34.0px,#0035ff 36.0px,#0000ef 37.0px,#000088 39.0px,#000087 40.0px,#000087 73.0px,#000098 74.0px,#0000ee 76.0px,#0022ff 77.0px,#00fbff 81.0px,#00ffa1 83.0px,#00fe5f 85.0px,#51ff42 86.0px,#9dff00 88.0px,#f8ff00 91.0px,#fff100 92.0px,#ffc000 96.0px,#ffbd00 104.0px,#ffd200 109.0px,#fcff00 114.0px,#c4ff00 119.0px,#9cff00 128.0px,#a8ff00 130.0px,#eaff00 133.0px,#fff800 134.0px,#ff3000 142.0px,#ff1500 144.0px,#ff0d00 146.0px,#ff1e00 148.0px,#ff4600 150.0px,#ff7f00 152.0px,#ffef00 155.0px,#dcff00 156.0px,#a3ff00 157.0px,#61ff33 158.0px,#00ff66 159.0px,#00fffc 162.0px,#00d6ff 163.0px,#0060ff 166.0px,#000aff 169.0px,#0000e3 172.0px,#0000f6 175.0px,#000cff 176.0px,#004bff 178.0px,#00faff 182.0px,#00ff65 185.0px,#64ff30 186.0px,#a5ff00 187.0px,#dbff00 188.0px,#fff500 189.0px,#ffa300 192.0px,#ff8f00 194.0px,#ffa000 196.0px,#fffa00 199.0px,#92ff04 201.0px,#00fc50 202.0px,#00ffe2 205.0px,#00eeff 206.0px,#008eff 209.0px,#0079ff 211.0px,#0096ff 214.0px,#00fffe 218.0px,#00ff63 222.0px,#57ff3c 223.0px,#8cff0a 224.0px,#e1ff00 226.0px,#fffa00 227.0px,#ffbe00 230.0px,#ffb100 232.0px,#ffc200 234.0px,#ffed00 236.0px,#f0ff00 237.0px,#98ff00 239.0px,#63ff31 240.0px,#00fe5d 241.0px,#00ffd6 245.0px,#00fff0 247.0px,#00ffef 248.0px,#00ffcd 250.0px,#00ff65 253.0px,#57ff3c 254.0px,#91ff05 255.0px,#edff00 257.0px,#fff000 258.0px,#ffcc00 260.0px,#ffc800 261.0px,#ffcf00 262.0px,#fffb00 264.0px,#a6ff00 266.0px,#6bff2a 267.0px,#00fe5f 268.0px,#00fffd 272.0px,#00ebff 273.0px,#00deff 275.0px,#00fff3 278.0px,#00fc51 283.0px,#80ff15 284.0px,#b2ff00 285.0px,#fff800 287.0px,#ffb000 290.0px,#ff9d00 292.0px,#ffaa00 294.0px,#ffee00 297.0px,#efff00 298.0px,#9fff00 300.0px,#52ff41 302.0px,#00fd5a 303.0px,#00ff8c 315.0px,#00faff 328.0px,#00dcff 335.0px,#00feff 338.0px,#00fd56 344.0px,#64ff30 345.0px,#9aff00 347.0px,#a9ff00 349.0px,#8cff09 352.0px,#60ff34 354.0px,#00fc53 355.0px,#00ff74 357.0px,#00fffe 363.0px,#00d3ff 366.0px,#00c3ff 369.0px,#00d2ff 373.0px,#00f9ff 377.0px,#00ffda 380.0px,#00fd55 388.0px,#58ff3c 389.0px,#9fff00 392.0px,#e8ff00 396.0px,#fffa00 398.0px,#ffdb00 402.0px,#ffd400 405.0px,#ffde00 411.0px,#fffc00 416.0px,#e9ff00 418.0px,#b1ff00 419.0px,#00ffb1 420.0px,#00deff 421.0px,#008fff 424.0px,#0048ff 428.0px,#0022ff 432.0px,#0017ff 436.0px,#0021ff 438.0px,#004fff 441.0px,#009aff 444.0px,#00f8ff 447.0px,#00fc53 452.0px,#78ff1d 453.0px,#a7ff00 454.0px,#f9ff00 456.0px,#ffe700 457.0px,#ff9000 461.0px,#ff7900 463.0px,#ff7200 465.0px,#ff9900 470.0px,#fff200 475.0px,#f4ff00 476.0px,#9aff00 479.0px,#54ff3f 481.0px,#00fe5c 482.0px,#00ffdb 488.0px,#00f9ff 491.0px,#00e9ff 495.0px,#00fffe 498.0px,#00ffca 501.0px,#00fd58 506.0px,#5eff36 507.0px,#a3ff00 509.0px,#f8ff00 512.0px,#fff200 513.0px,#ffc800 516.0px,#ffb800 519.0px,#ffcc00 522.0px,#ffff00 525.0px,#9cff00 528.0px,#71ff23 529.0px,#00fc53 530.0px,#00ff6c 531.0px,#00fffa 535.0px,#00e4ff 536.0px,#008aff 539.0px,#0042ff 542.0px,#0013ff 545.0px,#0007ff 547.0px,#000eff 549.0px,#003cff 552.0px,#008bff 555.0px,#00efff 558.0px,#00ffe9 559.0px,#00fd54 563.0px,#76ff1f 564.0px,#a5ff00 565.0px,#f2ff00 567.0px,#ffef00 568.0px,#ffb700 571.0px,#ffa700 574.0px,#ffbd00 579.0px,#fff800 585.0px,#9eff00 592.0px,#59ff3b 598.0px,#4cff47 612.0px,#00fc50 613.0px,#00ff68 621.0px,#00ffe5 639.0px,#00fffb 647.0px,#00fff3 649.0px,#00ffd0 652.0px,#00fd55 658.0px,#64ff30 659.0px,#8aff0b 660.0px,#adff00 661.0px,#f1ff00 663.0px,#fff000 664.0px,#ff8f00 668.0px,#ff4300 672.0px,#ff1f00 675.0px,#ff1400 678.0px,#ff2100 680.0px,#ff3f00 682.0px,#ffeb00 689.0px,#f0ff00 690.0px,#baff00 691.0px,#76ff1f 692.0px,#00ff62 693.0px,#00ffdf 695.0px,#00e3ff 696.0px,#0058ff 699.0px,#003cff 700.0px,#002dff 702.0px,#0038ff 705.0px,#005fff 709.0px,#00f3ff 718.0px,#00fff8 719.0px,#00ff6c 726.0px,#00fc53 728.0px,#5bff39 729.0px,#83ff12 731.0px,#94ff02 732.0px,#b7ff00 735.0px,#c6ff00 739.0px,#baff00 743.0px,#94ff02 748.0px,#57ff3c 753.0px,#00fc50 754.0px,#00ffb1 766.0px,#00ffca 772.0px,#00ffc6 775.0px,#00ffb4 777.0px,#00fc50 783.0px,#6bff29 784.0px,#8cff0a 785.0px,#abff00 786.0px,#fffe00 789.0px,#ffa600 794.0px,#ff8700 798.0px,#ff9b00 802.0px,#ffef00 807.0px,#f7ff00 808.0px,#9eff00 811.0px,#5aff39 813.0px,#00fd58 814.0px,#00ffa0 818.0px,#00ffc2 821.0px,#00ffc8 837.0px)"></div>
<div class="s" style="top:643.3px;height:52.7px;-webkit-mask-image:linear-gradient(180deg,transparent,#000 34.8px);mask-image:linear-gradient(180deg,transparent,#000 34.8px);background:linear-gradient(90deg,#960000 0.0px,#960000 30.0px,#eb0000 31.0px,#ffe700 32.0px,#00fe5e 33.0px,#00ffc9 34.0px,#00d4ff 35.0px,#0034ff 37.0px,#0000f1 38.0px,#00008d 40.0px,#000087 41.0px,#000087 72.0px,#00008d 73.0px,#0000ff 76.0px,#00f1ff 81.0px,#00ffdf 82.0px,#00ff8e 84.0px,#00fd5a 86.0px,#58ff3b 87.0px,#9eff00 89.0px,#f1ff00 92.0px,#fff700 93.0px,#ffc800 97.0px,#ffc400 105.0px,#ffd200 110.0px,#fcff00 115.0px,#caff00 119.0px,#b1ff00 128.0px,#b8ff00 130.0px,#f4ff00 133.0px,#fff100 134.0px,#ff4200 141.0px,#ff2300 143.0px,#ff1700 145.0px,#ff2400 147.0px,#ff4600 149.0px,#ff7b00 151.0px,#ffe400 154.0px,#eeff00 155.0px,#b7ff00 156.0px,#7bff1a 157.0px,#00fd58 158.0px,#00ffe3 161.0px,#00eeff 162.0px,#0056ff 166.0px,#0008ff 169.0px,#0000e9 172.0px,#0000f4 174.0px,#0006ff 175.0px,#003dff 177.0px,#00e3ff 181.0px,#00ffea 182.0px,#00fd56 185.0px,#82ff13 186.0px,#bcff00 187.0px,#f0ff00 188.0px,#ffe700 189.0px,#ff9f00 192.0px,#ff9300 194.0px,#ffae00 196.0px,#ffec00 198.0px,#e3ff00 199.0px,#a9ff00 200.0px,#64ff30 201.0px,#00ff67 202.0px,#00ffff 205.0px,#00d8ff 206.0px,#00a0ff 208.0px,#008dff 210.0px,#00aaff 213.0px,#00f0ff 216.0px,#00ffef 217.0px,#00fe61 221.0px,#59ff3b 222.0px,#8aff0b 223.0px,#b5ff00 224.0px,#ffff00 226.0px,#ffe800 227.0px,#ffba00 230.0px,#ffb700 232.0px,#ffd200 234.0px,#f7ff00 236.0px,#9fff00 238.0px,#6aff2a 239.0px,#00fe5b 240.0px,#00ffdd 244.0px,#00feff 246.0px,#00ffff 248.0px,#00ffed 249.0px,#00ffb2 251.0px,#00ff62 253.0px,#5fff35 254.0px,#9aff00 255.0px,#f6ff00 257.0px,#ffea00 258.0px,#ffca00 260.0px,#ffc900 261.0px,#f9ff00 264.0px,#97ff00 266.0px,#58ff3c 267.0px,#00ff6a 268.0px,#00ffe9 271.0px,#00f6ff 272.0px,#00d9ff 274.0px,#00daff 275.0px,#00f6ff 277.0px,#00ffce 279.0px,#00fe5c 282.0px,#6bff2a 283.0px,#a3ff00 284.0px,#fffb00 286.0px,#ffa700 289.0px,#ff8d00 291.0px,#ff8c00 292.0px,#ffa600 294.0px,#fff900 297.0px,#b1ff00 299.0px,#87ff0f 300.0px,#5eff36 301.0px,#00fd56 302.0px,#00ff64 304.0px,#00ff7c 316.0px,#00fcff 330.0px,#00eaff 335.0px,#00fff8 338.0px,#00ff71 344.0px,#00fd55 346.0px,#4fff44 347.0px,#57ff3d 348.0px,#51ff43 350.0px,#00fc52 351.0px,#00ff6d 354.0px,#00ffeb 361.0px,#00f5ff 363.0px,#00dbff 366.0px,#00d8ff 368.0px,#00fffb 375.0px,#00fd53 387.0px,#5aff3a 388.0px,#9aff00 391.0px,#fffe00 398.0px,#ffe500 404.0px,#ffff00 414.0px,#d4ff00 418.0px,#a0ff00 419.0px,#00ffb7 420.0px,#00deff 421.0px,#0093ff 424.0px,#004eff 428.0px,#0029ff 432.0px,#001dff 436.0px,#0025ff 438.0px,#004fff 441.0px,#0094ff 444.0px,#00edff 447.0px,#00ffef 448.0px,#00ff61 452.0px,#56ff3d 453.0px,#86ff10 454.0px,#b0ff00 455.0px,#f9ff00 457.0px,#ffeb00 458.0px,#ffa400 462.0px,#ff9400 465.0px,#ffab00 469.0px,#fff200 474.0px,#f8ff00 475.0px,#aaff00 478.0px,#8eff08 479.0px,#4fff44 481.0px,#00fe5c 482.0px,#00ffd1 488.0px,#00faff 492.0px,#00edff 495.0px,#00fff5 499.0px,#00ffbe 502.0px,#00fe5f 506.0px,#4dff46 507.0px,#94ff02 509.0px,#fffd00 513.0px,#ffd200 516.0px,#ffc200 519.0px,#ffcc00 521.0px,#fff600 524.0px,#efff00 525.0px,#8aff0c 528.0px,#5eff36 529.0px,#00fe5c 530.0px,#00f7ff 535.0px,#0080ff 539.0px,#003cff 542.0px,#0014ff 545.0px,#000dff 547.0px,#001bff 549.0px,#003cff 551.0px,#008aff 554.0px,#00edff 557.0px,#00ffeb 558.0px,#00fd55 562.0px,#72ff22 563.0px,#a2ff00 564.0px,#eeff00 566.0px,#fff300 567.0px,#ffbe00 570.0px,#ffb200 573.0px,#ffc700 578.0px,#fffd00 584.0px,#96ff00 592.0px,#57ff3c 598.0px,#4cff47 612.0px,#00fc51 613.0px,#00fc52 614.0px,#00ff64 621.0px,#00ffc7 639.0px,#00ffd6 647.0px,#00ffb7 651.0px,#00fc51 657.0px,#6aff2a 658.0px,#8cff0a 659.0px,#abff00 660.0px,#fff800 663.0px,#ffa000 667.0px,#ff5700 671.0px,#ff3300 674.0px,#ff2500 677.0px,#ff2c00 679.0px,#ff5500 682.0px,#fff800 689.0px,#daff00 690.0px,#a0ff00 691.0px,#00ff79 693.0px,#00fff8 695.0px,#00ceff 696.0px,#006fff 698.0px,#004dff 699.0px,#0037ff 700.0px,#0031ff 702.0px,#0041ff 705.0px,#0061ff 708.0px,#00fdff 717.0px,#00ff71 724.0px,#00fd56 726.0px,#54ff40 727.0px,#97ff00 731.0px,#acff00 736.0px,#8dff09 744.0px,#50ff43 751.0px,#00fc52 752.0px,#00ff9d 765.0px,#00ffb2 771.0px,#00ffa9 776.0px,#00fd58 782.0px,#56ff3e 783.0px,#90ff06 785.0px,#f7ff00 789.0px,#ffb700 794.0px,#ff9b00 798.0px,#ffae00 802.0px,#fffa00 807.0px,#9aff00 811.0px,#5cff38 813.0px,#00fd56 814.0px,#00ffa9 819.0px,#00ffc5 822.0px,#00ffc8 837.0px)"></div>
</div>
<div style="position:absolute;left:2285.3px;top:1851.6px;width:35.0px;height:695.5px;background:linear-gradient(180deg,#960000 0.0px,#ff0000 69.7px,#fffe00 240.5px,#fdff00 242.3px,#97ff00 294.6px,#4cff47 327.7px,#00fc51 329.4px,#00ff65 348.6px,#00fffe 441.0px,#00fdff 442.7px,#0000ff 608.3px,#000087 695.5px)"></div>
<div style="position:absolute;left:143.8px;top:953.5px;width:836.4px;height:695.1px;overflow:hidden">
<div class="s" style="top:0.0px;height:4.5px;background:linear-gradient(90deg,#00d8ff 0.0px,#00dcff 409.8px,#00ffff 731.9px,#00ffee 836.4px)"></div>
<div class="s" style="top:3.9px;height:4.5px;background:linear-gradient(90deg,#00e0ff 0.0px,#00ebff 409.8px,#00ffff 460.0px,#00ffb4 710.9px,#00ff78 836.4px)"></div>
<div class="s" style="top:7.7px;height:4.5px;background:linear-gradient(90deg,#00ebff 0.0px,#00ebff 209.1px,#00fffe 426.6px,#00ffd5 476.7px,#00ffb2 543.7px,#00fc51 761.1px,#4cff47 765.3px,#94ff02 828.0px,#94ff02 836.4px)"></div>
<div class="s" style="top:11.6px;height:4.5px;background:linear-gradient(90deg,#00f8ff 0.0px,#00ffff 271.8px,#00fff0 409.8px,#00ff88 543.7px,#00fc51 669.1px,#4bff48 673.3px,#98ff00 744.4px,#f9ff00 828.0px,#f9ff00 836.4px)"></div>
<div class="s" style="top:15.4px;height:4.5px;background:linear-gradient(90deg,#00fff6 0.0px,#00fff6 209.1px,#00ffdb 409.8px,#00ff63 543.7px,#00fc51 598.0px,#4dff46 602.2px,#95ff01 677.5px,#ffff00 773.7px,#ffcc00 836.4px)"></div>
<div class="s" style="top:19.3px;height:4.5px;background:linear-gradient(90deg,#00ffe2 0.0px,#00ffe2 209.1px,#00ffc3 409.8px,#00ffbc 426.6px,#00ff7c 476.7px,#00fc52 539.5px,#4dff46 543.7px,#95ff01 623.1px,#ffff00 727.7px,#ff9c00 836.4px)"></div>
<div class="s" style="top:23.2px;height:4.5px;background:linear-gradient(90deg,#00ffc3 0.0px,#00ffc3 209.1px,#00ffa3 409.8px,#00ff9c 426.6px,#00ff64 472.6px,#00fc53 510.2px,#4cff48 514.4px,#76ff1e 543.7px,#98ff00 581.3px,#feff00 685.8px,#ff7000 836.4px)"></div>
<div class="s" style="top:27.0px;height:4.5px;background:linear-gradient(90deg,#00ffa0 0.0px,#00ff95 292.7px,#00ff7a 426.6px,#00fc51 472.6px,#4fff44 476.7px,#99ff00 539.5px,#fdff00 648.2px,#ff4900 828.0px,#ff4900 836.4px)"></div>
<div class="s" style="top:30.9px;height:4.5px;background:linear-gradient(90deg,#00ff83 0.0px,#00ff83 209.1px,#00fc52 443.3px,#4cff47 447.5px,#97ff00 510.2px,#fffe00 610.6px,#ffea00 644.0px,#ff2900 828.0px,#ff2900 836.4px)"></div>
<div class="s" style="top:34.8px;height:4.5px;background:linear-gradient(90deg,#00ff77 0.0px,#00ff77 209.1px,#00fc51 414.0px,#4bff48 418.2px,#94ff02 480.9px,#ffff00 581.3px,#ffd500 644.0px,#ff1200 828.0px,#ff1200 836.4px)"></div>
<div class="s" style="top:38.6px;height:4.5px;background:linear-gradient(90deg,#00ff81 0.0px,#00ff81 209.1px,#00fc50 376.4px,#4aff48 380.6px,#5aff3a 426.6px,#95ff01 472.6px,#fcff00 564.6px,#ffc900 644.0px,#ff0500 828.0px,#ff0500 836.4px)"></div>
<div class="s" style="top:42.5px;height:4.5px;background:linear-gradient(90deg,#00ff9b 0.0px,#00ff9c 209.1px,#00fc50 439.1px,#50ff43 443.3px,#96ff00 493.5px,#fdff00 577.1px,#ffce00 644.0px,#ff0600 828.0px,#ff0600 836.4px)"></div>
<div class="s" style="top:46.3px;height:4.5px;background:linear-gradient(90deg,#00ffbf 0.0px,#00ffc0 209.1px,#00ffb2 292.7px,#00ff8a 426.6px,#00fc51 489.3px,#4dff46 493.5px,#97ff00 543.7px,#c8ff00 577.1px,#fcff00 627.3px,#ff2900 811.3px,#ff1700 836.4px)"></div>
<div class="s" style="top:50.2px;height:4.5px;background:linear-gradient(90deg,#00ffe7 0.0px,#00ffe8 209.1px,#00ffd4 409.8px,#00ffc0 443.3px,#00fd53 547.8px,#4bff48 552.0px,#97ff00 602.2px,#aeff00 627.3px,#fcff00 669.1px,#ff5b00 794.6px,#ff3500 836.4px)"></div>
<div class="s" style="top:54.1px;height:4.5px;background:linear-gradient(90deg,#00f2ff 0.0px,#00f4ff 409.8px,#00feff 434.9px,#00ffa4 526.9px,#00ff63 577.1px,#00fc50 614.8px,#4fff44 618.9px,#57ff3c 627.3px,#8bff0a 644.0px,#99ff00 652.4px,#fdff00 706.8px,#ff8400 794.6px,#ff5d00 836.4px)"></div>
<div class="s" style="top:57.9px;height:4.5px;background:linear-gradient(90deg,#00d4ff 0.0px,#00d9ff 409.8px,#00e6ff 443.3px,#00fdff 464.2px,#00ffcc 526.9px,#00ff8e 577.1px,#00ff6b 627.3px,#00fc51 644.0px,#50ff44 648.2px,#97ff00 685.8px,#faff00 740.2px,#ff9c00 811.3px,#ff8a00 836.4px)"></div>
<div class="s" style="top:61.8px;height:4.5px;background:linear-gradient(90deg,#00b5ff 0.0px,#00c5ff 409.8px,#00d2ff 443.3px,#00ffff 497.7px,#00ffb1 577.1px,#00ff90 627.3px,#00ff6d 644.0px,#00fc51 677.5px,#51ff43 681.7px,#9aff00 719.3px,#faff00 769.5px,#ffc900 811.3px,#ffb900 836.4px)"></div>
<div class="s" style="top:65.6px;height:4.5px;background:linear-gradient(90deg,#0093ff 0.0px,#0098ff 209.1px,#00b4ff 409.8px,#00feff 531.1px,#00ffd3 577.1px,#00ffb4 627.3px,#00ff96 644.0px,#00fd53 710.9px,#0ffd4e 715.1px,#52ff41 719.3px,#9cff00 756.9px,#ffff00 811.3px,#ffee00 836.4px)"></div>
<div class="s" style="top:69.5px;height:4.5px;background:linear-gradient(90deg,#0071ff 0.0px,#0079ff 209.1px,#00a4ff 409.8px,#00fffe 564.6px,#00ffd7 627.3px,#00fc52 761.1px,#4fff44 765.3px,#98ff00 807.1px,#b1ff00 836.4px)"></div>
<div class="s" style="top:73.4px;height:4.5px;background:linear-gradient(90deg,#0052ff 0.0px,#005dff 209.1px,#00a3ff 443.3px,#00feff 610.6px,#00ffa0 744.4px,#00ff64 811.3px,#00fe5d 836.4px)"></div>
<div class="s" style="top:77.2px;height:4.5px;background:linear-gradient(90deg,#0039ff 0.0px,#0047ff 209.1px,#0098ff 443.3px,#00feff 664.9px,#00ffb7 836.4px)"></div>
<div class="s" style="top:81.1px;height:4.5px;background:linear-gradient(90deg,#0028ff 0.0px,#0037ff 209.1px,#00e0ff 644.0px,#00fffe 836.4px)"></div>
<div class="s" style="top:85.0px;height:4.5px;background:linear-gradient(90deg,#0022ff 0.0px,#0032ff 209.1px,#0066ff 326.2px,#00cdff 627.3px,#00e4ff 836.4px)"></div>
<div class="s" style="top:88.8px;height:4.5px;background:linear-gradient(90deg,#0026ff 0.0px,#0035ff 209.1px,#0067ff 326.2px,#00c9ff 627.3px,#00e5ff 836.4px)"></div>
<div class="s" style="top:92.7px;height:4.5px;background:linear-gradient(90deg,#0030ff 0.0px,#003dff 209.1px,#006fff 326.2px,#00cdff 627.3px,#00efff 836.4px)"></div>
<div class="s" style="top:96.5px;height:4.5px;background:linear-gradient(90deg,#0040ff 0.0px,#0049ff 209.1px,#007bff 326.2px,#00d0ff 593.8px,#00feff 836.4px)"></div>
<div class="s" style="top:100.4px;height:4.5px;background:linear-gradient(90deg,#0053ff 0.0px,#005aff 209.1px,#00e4ff 593.8px,#00ffff 727.7px,#00ffec 836.4px)"></div>
<div class="s" style="top:104.3px;height:4.5px;background:linear-gradient(90deg,#0069ff 0.0px,#006cff 209.1px,#00baff 393.1px,#00ffff 606.4px,#00ffd4 836.4px)"></div>
<div class="s" style="top:108.1px;height:4.5px;background:linear-gradient(90deg,#007fff 0.0px,#0081ff 209.1px,#00ffff 522.8px,#00ffe5 593.8px,#00ffbb 836.4px)"></div>
<div class="s" style="top:112.0px;height:4.5px;background:linear-gradient(90deg,#0093ff 0.0px,#0096ff 209.1px,#00fffe 447.5px,#00ffc7 593.8px,#00ffa1 836.4px)"></div>
<div class="s" style="top:115.8px;height:4.5px;background:linear-gradient(90deg,#00a6ff 0.0px,#00abff 209.1px,#00ffff 380.6px,#00ffab 593.8px,#00ff88 836.4px)"></div>
<div class="s" style="top:119.7px;height:4.5px;background:linear-gradient(90deg,#00b3ff 0.0px,#00beff 209.1px,#00ffff 338.7px,#00ffd4 409.8px,#00ff95 577.1px,#00ff70 836.4px)"></div>
<div class="s" style="top:123.6px;height:4.5px;background:linear-gradient(90deg,#00bcff 0.0px,#00d0ff 209.1px,#00ffff 296.9px,#00ffba 409.8px,#00ff80 577.1px,#00fe5f 836.4px)"></div>
<div class="s" style="top:127.4px;height:4.5px;background:linear-gradient(90deg,#00bdff 0.0px,#00dfff 209.1px,#00fffe 259.3px,#00ffdf 326.2px,#00ffa4 409.8px,#00ff84 510.2px,#00ff69 627.3px,#00fc51 836.4px)"></div>
<div class="s" style="top:131.3px;height:4.5px;background:linear-gradient(90deg,#00bbff 0.0px,#00e9ff 209.1px,#00fffe 238.4px,#00ffd2 326.2px,#00ff8d 426.6px,#00ff64 614.8px,#00fc51 773.7px,#4bff48 777.9px,#69ff2c 836.4px)"></div>
<div class="s" style="top:135.2px;height:4.5px;background:linear-gradient(90deg,#00b6ff 0.0px,#00efff 209.1px,#00ffff 230.0px,#00ffc9 326.2px,#00ff88 409.8px,#00fc50 731.9px,#4cff47 736.0px,#89ff0d 836.4px)"></div>
<div class="s" style="top:139.0px;height:4.5px;background:linear-gradient(90deg,#00afff 0.0px,#00fdff 225.8px,#00ffc7 326.2px,#00ff84 409.8px,#00fc50 702.6px,#4cff47 706.8px,#94ff02 811.3px,#a6ff00 836.4px)"></div>
<div class="s" style="top:142.9px;height:4.5px;background:linear-gradient(90deg,#00a7ff 0.0px,#00edff 209.1px,#00fffd 234.2px,#00ffca 326.2px,#00ff86 409.8px,#00fc50 685.8px,#4dff46 690.0px,#94ff02 786.2px,#bfff00 836.4px)"></div>
<div class="s" style="top:146.7px;height:4.5px;background:linear-gradient(90deg,#009eff 0.0px,#00e9ff 209.1px,#00ffff 238.4px,#00ffd0 326.2px,#00ff8c 409.8px,#00fc50 673.3px,#4dff46 677.5px,#97ff00 769.5px,#d6ff00 836.4px)"></div>
<div class="s" style="top:150.6px;height:4.5px;background:linear-gradient(90deg,#0094ff 0.0px,#00e4ff 209.1px,#00fffe 250.9px,#00ffd9 326.2px,#00ff96 409.8px,#00fc50 664.9px,#4eff45 669.1px,#97ff00 752.8px,#e8ff00 828.0px,#e8ff00 836.4px)"></div>
<div class="s" style="top:154.5px;height:4.5px;background:linear-gradient(90deg,#008aff 0.0px,#00ddff 209.1px,#00ffff 267.6px,#00ffe3 326.2px,#00ffa1 409.8px,#00fc50 656.6px,#4dff46 660.8px,#94ff01 736.0px,#f6ff00 828.0px,#f6ff00 836.4px)"></div>
<div class="s" style="top:158.3px;height:4.5px;background:linear-gradient(90deg,#0081ff 0.0px,#00feff 288.6px,#00ffe3 342.9px,#00ffae 409.8px,#00fc51 644.0px,#4bff48 648.2px,#98ff00 727.7px,#fdff00 823.9px,#fffc00 836.4px)"></div>
<div class="s" style="top:162.2px;height:4.5px;background:linear-gradient(90deg,#0078ff 0.0px,#00ffff 313.7px,#00ffbb 409.8px,#00fc50 635.7px,#4cff47 639.8px,#97ff00 715.1px,#ffff00 815.5px,#fff300 836.4px)"></div>
<div class="s" style="top:166.1px;height:4.5px;background:linear-gradient(90deg,#0071ff 0.0px,#00ffff 334.6px,#00ffd1 393.1px,#00fc50 627.3px,#4eff46 631.5px,#63ff31 660.8px,#96ff00 702.6px,#fdff00 802.9px,#ffeb00 836.4px)"></div>
<div class="s" style="top:169.9px;height:4.5px;background:linear-gradient(90deg,#006cff 0.0px,#00fffe 351.3px,#00ffdc 393.1px,#00ffbb 460.0px,#00ff84 526.9px,#00fc52 618.9px,#4cff47 623.1px,#52ff41 627.3px,#99ff00 694.2px,#fdff00 790.4px,#ffe200 836.4px)"></div>
<div class="s" style="top:173.8px;height:4.5px;background:linear-gradient(90deg,#0069ff 0.0px,#00ffff 359.7px,#00ffbf 460.0px,#00ff84 526.9px,#00fc51 614.8px,#50ff44 618.9px,#5dff37 627.3px,#99ff00 681.7px,#ffff00 777.9px,#ffdb00 836.4px)"></div>
<div class="s" style="top:177.6px;height:4.5px;background:linear-gradient(90deg,#0069ff 0.0px,#00feff 363.8px,#00ffc1 460.0px,#00ff81 526.9px,#00fc51 606.4px,#4fff44 610.6px,#98ff00 669.1px,#c9ff00 710.9px,#fdff00 761.1px,#ffd400 836.4px)"></div>
<div class="s" style="top:181.5px;height:4.5px;background:linear-gradient(90deg,#006cff 0.0px,#00ffff 363.8px,#00ffbc 460.0px,#00ff79 526.9px,#00fc50 598.0px,#52ff42 602.2px,#60ff34 610.6px,#95ff01 652.4px,#fcff00 744.4px,#ffcd00 836.4px)"></div>
<div class="s" style="top:185.4px;height:4.5px;background:linear-gradient(90deg,#0072ff 0.0px,#00ffff 355.5px,#00ffc1 443.3px,#00ff6d 526.9px,#00fc51 581.3px,#4dff46 585.5px,#95ff01 635.7px,#fbff00 731.9px,#ffc800 836.4px)"></div>
<div class="s" style="top:189.2px;height:4.5px;background:linear-gradient(90deg,#007aff 0.0px,#00ffff 334.6px,#00ffb3 443.3px,#00ff64 522.8px,#00fc52 560.4px,#4cff47 564.6px,#97ff00 623.1px,#ffff00 723.5px,#ffc300 836.4px)"></div>
<div class="s" style="top:193.1px;height:4.5px;background:linear-gradient(90deg,#0084ff 0.0px,#00feff 301.1px,#00ffb2 426.6px,#00ff64 506.0px,#00fc52 539.5px,#06fc4f 543.7px,#4fff44 547.8px,#98ff00 610.6px,#fdff00 710.9px,#ffbf00 836.4px)"></div>
<div class="s" style="top:196.9px;height:4.5px;background:linear-gradient(90deg,#008eff 0.0px,#00ffff 271.8px,#00ffa1 426.6px,#00ff6e 476.7px,#00fc51 522.8px,#4dff46 526.9px,#98ff00 598.0px,#feff00 702.6px,#ffbd00 836.4px)"></div>
<div class="s" style="top:200.8px;height:4.5px;background:linear-gradient(90deg,#009aff 0.0px,#00ceff 142.2px,#00ffff 238.4px,#00ff8f 426.6px,#00ff64 468.4px,#00fc52 506.0px,#4cff47 510.2px,#96ff00 581.3px,#fdff00 694.2px,#ffdf00 744.4px,#ffbc00 836.4px)"></div>
<div class="s" style="top:204.7px;height:4.5px;background:linear-gradient(90deg,#00a5ff 0.0px,#00d9ff 142.2px,#00ffff 204.9px,#00ffde 276.0px,#00fc50 493.5px,#4fff45 497.7px,#96ff00 568.8px,#fcff00 690.0px,#ffdf00 744.4px,#ffbe00 836.4px)"></div>
<div class="s" style="top:208.5px;height:4.5px;background:linear-gradient(90deg,#00b0ff 0.0px,#00e2ff 142.2px,#00feff 184.0px,#00ffd2 276.0px,#00fc51 472.6px,#4cff47 476.7px,#95ff01 560.4px,#fbff00 694.2px,#ffca00 836.4px)"></div>
<div class="s" style="top:212.4px;height:4.5px;background:linear-gradient(90deg,#00b9ff 0.0px,#00eaff 142.2px,#00feff 171.5px,#00ffc9 276.0px,#00ff88 359.7px,#00fc51 464.2px,#4dff46 468.4px,#96ff00 564.6px,#feff00 723.5px,#ffe100 836.4px)"></div>
<div class="s" style="top:216.3px;height:4.5px;background:linear-gradient(90deg,#00c1ff 0.0px,#00ffff 167.3px,#00ffc6 276.0px,#00ff84 359.7px,#00fc50 464.2px,#4dff46 468.4px,#97ff00 581.3px,#edff00 744.4px,#feff00 836.4px)"></div>
<div class="s" style="top:220.1px;height:4.5px;background:linear-gradient(90deg,#00c7ff 0.0px,#00fffe 167.3px,#00ffc7 276.0px,#00ff87 359.7px,#00fc51 472.6px,#4cff47 476.7px,#96ff00 610.6px,#c7ff00 744.4px,#cfff00 836.4px)"></div>
<div class="s" style="top:224.0px;height:4.5px;background:linear-gradient(90deg,#00caff 0.0px,#00fffe 171.5px,#00ffca 276.0px,#00ff8d 359.7px,#00fd59 460.0px,#00fc50 501.8px,#4cff47 506.0px,#8aff0c 627.3px,#9fff00 744.4px,#9eff00 836.4px)"></div>
<div class="s" style="top:227.8px;height:4.5px;background:linear-gradient(90deg,#00caff 0.0px,#00feff 175.6px,#00ffe2 242.6px,#00fe5f 460.0px,#00fc50 539.5px,#4bff48 543.7px,#72ff23 627.3px,#6aff2a 836.4px)"></div>
<div class="s" style="top:231.7px;height:4.5px;background:linear-gradient(90deg,#00c9ff 0.0px,#00fffa 209.1px,#00ff68 460.0px,#00fc51 598.0px,#4cff48 602.2px,#5aff3a 627.3px,#4bff48 727.7px,#00fc50 731.9px,#00fd57 836.4px)"></div>
<div class="s" style="top:235.6px;height:4.5px;background:linear-gradient(90deg,#00c7ff 0.0px,#00ffff 217.5px,#00ff75 460.0px,#00ff66 526.9px,#00fd55 627.3px,#00ff6c 836.4px)"></div>
<div class="s" style="top:239.4px;height:4.5px;background:linear-gradient(90deg,#00c5ff 0.0px,#00ffff 234.2px,#00ff82 460.0px,#00ff63 627.3px,#00ff87 836.4px)"></div>
<div class="s" style="top:243.3px;height:4.5px;background:linear-gradient(90deg,#00c2ff 0.0px,#00ffff 246.7px,#00ff89 476.7px,#00ff7e 627.3px,#00ffa4 836.4px)"></div>
<div class="s" style="top:247.1px;height:4.5px;background:linear-gradient(90deg,#00bfff 0.0px,#00e8ff 209.1px,#00feff 255.1px,#00ffa8 426.6px,#00ff99 476.7px,#00ff9c 627.3px,#00ffc1 836.4px)"></div>
<div class="s" style="top:251.0px;height:4.5px;background:linear-gradient(90deg,#00bbff 0.0px,#00e1ff 209.1px,#00feff 267.6px,#00ffdd 359.7px,#00ffb5 426.6px,#00ffad 476.7px,#00ffdc 836.4px)"></div>
<div class="s" style="top:254.9px;height:4.5px;background:linear-gradient(90deg,#00b4ff 0.0px,#00daff 209.1px,#00feff 296.9px,#00ffe9 359.7px,#00ffc9 409.8px,#00ffc0 460.0px,#00fff5 836.4px)"></div>
<div class="s" style="top:258.7px;height:4.5px;background:linear-gradient(90deg,#00abff 0.0px,#00d3ff 209.1px,#00ffff 334.6px,#00ffd0 426.6px,#00ffff 710.9px,#00f4ff 836.4px)"></div>
<div class="s" style="top:262.6px;height:4.5px;background:linear-gradient(90deg,#00a2ff 0.0px,#00ceff 209.1px,#00fffd 363.8px,#00ffdc 426.6px,#00ffff 556.2px,#00e4ff 836.4px)"></div>
<div class="s" style="top:266.5px;height:4.5px;background:linear-gradient(90deg,#009bff 0.0px,#00caff 209.1px,#00fffe 372.2px,#00ffe4 426.6px,#00feff 514.4px,#00e8ff 627.3px,#00daff 836.4px)"></div>
<div class="s" style="top:270.3px;height:4.5px;background:linear-gradient(90deg,#0099ff 0.0px,#00c8ff 209.1px,#00fffd 376.4px,#00ffe8 426.6px,#00feff 501.8px,#00e3ff 627.3px,#00d6ff 836.4px)"></div>
<div class="s" style="top:274.2px;height:4.5px;background:linear-gradient(90deg,#0099ff 0.0px,#00c9ff 209.1px,#00fffe 372.2px,#00ffe6 426.6px,#00ffff 506.0px,#00e6ff 627.3px,#00d9ff 836.4px)"></div>
<div class="s" style="top:278.0px;height:4.5px;background:linear-gradient(90deg,#009bff 0.0px,#00ccff 209.1px,#00fffe 363.8px,#00ffe0 426.6px,#00feff 526.9px,#00dfff 836.4px)"></div>
<div class="s" style="top:281.9px;height:4.5px;background:linear-gradient(90deg,#009eff 0.0px,#00ffff 347.1px,#00ffd7 426.6px,#00ffff 577.1px,#00eaff 836.4px)"></div>
<div class="s" style="top:285.8px;height:4.5px;background:linear-gradient(90deg,#00a3ff 0.0px,#00d8ff 209.1px,#00fffe 313.7px,#00ffcb 426.6px,#00fff7 627.3px,#00f8ff 836.4px)"></div>
<div class="s" style="top:289.6px;height:4.5px;background:linear-gradient(90deg,#00a8ff 0.0px,#00c0ff 108.7px,#00feff 280.2px,#00ffbd 426.6px,#00ffe3 627.3px,#00fff3 836.4px)"></div>
<div class="s" style="top:293.5px;height:4.5px;background:linear-gradient(90deg,#00adff 0.0px,#00c6ff 108.7px,#00ffff 259.3px,#00ffb4 393.1px,#00ffad 426.6px,#00ffdd 836.4px)"></div>
<div class="s" style="top:297.3px;height:4.5px;background:linear-gradient(90deg,#00b4ff 0.0px,#00cdff 108.7px,#00fffe 242.6px,#00ffa3 393.1px,#00ff9b 426.6px,#00ffc3 836.4px)"></div>
<div class="s" style="top:301.2px;height:4.5px;background:linear-gradient(90deg,#00bbff 0.0px,#00d5ff 108.7px,#00ffff 217.5px,#00ff90 393.1px,#00ff88 426.6px,#00ffa7 836.4px)"></div>
<div class="s" style="top:305.1px;height:4.5px;background:linear-gradient(90deg,#00c2ff 0.0px,#00dcff 108.7px,#00fffe 192.4px,#00ffe6 242.6px,#00ffbb 292.7px,#00ff9a 359.7px,#00ff7d 393.1px,#00ff75 426.6px,#00ff88 836.4px)"></div>
<div class="s" style="top:308.9px;height:4.5px;background:linear-gradient(90deg,#00caff 0.0px,#00e4ff 108.7px,#00ffff 158.9px,#00ffed 209.1px,#00ffab 292.7px,#00ff64 414.0px,#00fe5d 627.3px,#00ff66 836.4px)"></div>
<div class="s" style="top:312.8px;height:4.5px;background:linear-gradient(90deg,#00d1ff 0.0px,#00e7ff 92.0px,#00ffff 142.2px,#00ffd9 225.8px,#00ff9c 292.7px,#00fe5c 393.1px,#00fc50 485.1px,#4cff48 489.3px,#4cff47 493.5px,#5bff39 627.3px,#4cff47 836.4px)"></div>
<div class="s" style="top:316.7px;height:4.5px;background:linear-gradient(90deg,#00d9ff 0.0px,#00feff 125.5px,#00ffce 225.8px,#00ff8e 292.7px,#00fc51 397.3px,#2ffe4b 401.5px,#4dff46 405.7px,#6cff28 493.5px,#88ff0e 627.3px,#7dff18 836.4px)"></div>
<div class="s" style="top:320.5px;height:4.5px;background:linear-gradient(90deg,#00e4ff 0.0px,#00ffff 108.7px,#00ffcd 209.1px,#00ff80 292.7px,#00fc51 376.4px,#4fff44 380.6px,#5eff36 393.1px,#96ff00 518.6px,#b1ff00 627.3px,#aeff00 836.4px)"></div>
<div class="s" style="top:324.4px;height:4.5px;background:linear-gradient(90deg,#00f2ff 0.0px,#00fff6 92.0px,#00ffbf 209.1px,#00ff66 305.3px,#00fc50 359.7px,#50ff43 363.8px,#79ff1c 393.1px,#96ff00 443.3px,#ddff00 627.3px,#e5ff00 836.4px)"></div>
<div class="s" style="top:328.2px;height:4.5px;background:linear-gradient(90deg,#00fffc 0.0px,#00ffde 108.7px,#00ffb0 209.1px,#00ff64 288.6px,#00fc52 326.2px,#4bff48 330.4px,#66ff2e 359.7px,#96ff00 393.1px,#ffff00 564.6px,#ffe900 627.3px,#ffd000 836.4px)"></div>
<div class="s" style="top:332.1px;height:4.5px;background:linear-gradient(90deg,#00ffe9 0.0px,#00ffd1 92.0px,#00ffa1 209.1px,#00fc52 301.1px,#4cff47 305.3px,#95ff01 372.2px,#b0ff00 393.1px,#fffd00 493.5px,#ffb000 627.3px,#ff7a00 836.4px)"></div>
<div class="s" style="top:336.0px;height:4.5px;background:linear-gradient(90deg,#00ffd4 0.0px,#00ff92 209.1px,#00fc51 284.4px,#4eff45 288.6px,#95ff01 351.3px,#fffe00 451.7px,#ff7500 627.3px,#ff1f00 836.4px)"></div>
<div class="s" style="top:339.8px;height:4.5px;background:linear-gradient(90deg,#00ffc0 0.0px,#00ff83 209.1px,#00ff66 234.2px,#00fc53 267.6px,#10fd4e 271.8px,#51ff42 276.0px,#95ff01 330.4px,#ffff00 422.4px,#ff4100 627.3px,#fe0000 740.2px,#ca0000 836.4px)"></div>
<div class="s" style="top:343.7px;height:4.5px;background:linear-gradient(90deg,#00ffae 0.0px,#00ff77 209.1px,#00ff61 225.8px,#00fc52 255.1px,#4bff48 259.3px,#98ff00 317.8px,#fffe00 409.8px,#ffc100 476.7px,#ff1b00 627.3px,#ff0100 664.9px,#970000 815.5px,#960000 836.4px)"></div>
<div class="s" style="top:347.5px;height:4.5px;background:linear-gradient(90deg,#00ff9d 0.0px,#00ff6d 209.1px,#00fc51 242.6px,#4dff46 246.7px,#95ff01 305.3px,#ffff00 401.5px,#ffcb00 460.0px,#ff0200 644.0px,#980000 786.2px,#960000 836.4px)"></div>
<div class="s" style="top:351.4px;height:4.5px;background:linear-gradient(90deg,#00ff8f 0.0px,#00ff67 209.1px,#00fc51 234.2px,#4dff46 238.4px,#95ff01 301.1px,#ffff00 409.8px,#ff2d00 627.3px,#ff0000 694.2px,#a50000 836.4px)"></div>
<div class="s" style="top:355.3px;height:4.5px;background:linear-gradient(90deg,#00ff85 0.0px,#00ff65 209.1px,#00fc51 234.2px,#4eff46 238.4px,#97ff00 313.7px,#ffff00 451.7px,#ff7700 627.3px,#ff1100 836.4px)"></div>
<div class="s" style="top:359.1px;height:4.5px;background:linear-gradient(90deg,#00ff7f 0.0px,#00ff6c 209.1px,#00fc50 259.3px,#4eff45 263.5px,#5aff39 276.0px,#96ff00 380.6px,#beff00 460.0px,#fffe00 552.0px,#ffd900 627.3px,#ff9b00 836.4px)"></div>
<div class="s" style="top:363.0px;height:4.5px;background:linear-gradient(90deg,#00ff80 0.0px,#00ff7d 209.1px,#00ff65 242.6px,#00fc50 355.5px,#4bff48 359.7px,#97ff00 556.2px,#afff00 627.3px,#d0ff00 836.4px)"></div>
<div class="s" style="top:366.9px;height:4.5px;background:linear-gradient(90deg,#00ff88 0.0px,#00ff97 209.1px,#00ff77 292.7px,#00fd57 627.3px,#00fd54 836.4px)"></div>
<div class="s" style="top:370.7px;height:4.5px;background:linear-gradient(90deg,#00ff95 0.0px,#00ffb7 209.1px,#00ffa2 276.0px,#00ffa4 359.7px,#00ff87 627.3px,#00ff88 836.4px)"></div>
<div class="s" style="top:374.6px;height:4.5px;background:linear-gradient(90deg,#00ffa7 0.0px,#00ffd7 209.1px,#00ffc9 276.0px,#00ffb4 627.3px,#00ffb5 836.4px)"></div>
<div class="s" style="top:378.4px;height:4.5px;background:linear-gradient(90deg,#00ffbd 0.0px,#00fff7 209.1px,#00ffe9 292.7px,#00fff3 426.6px,#00ffdc 627.3px,#00ffda 836.4px)"></div>
<div class="s" style="top:382.3px;height:4.5px;background:linear-gradient(90deg,#00ffd5 0.0px,#00ffff 146.4px,#00edff 209.1px,#00faff 292.7px,#00e3ff 426.6px,#00feff 627.3px,#00fffb 836.4px)"></div>
<div class="s" style="top:386.2px;height:4.5px;background:linear-gradient(90deg,#00ffef 0.0px,#00ffff 62.7px,#00daff 209.1px,#00e2ff 292.7px,#00bfff 426.6px,#00e0ff 627.3px,#00e7ff 836.4px)"></div>
<div class="s" style="top:390.0px;height:4.5px;background:linear-gradient(90deg,#00f7ff 0.0px,#00caff 209.1px,#00caff 292.7px,#00a0ff 426.6px,#00c4ff 627.3px,#00cdff 836.4px)"></div>
<div class="s" style="top:393.9px;height:4.5px;background:linear-gradient(90deg,#00e0ff 0.0px,#00b7ff 276.0px,#0086ff 426.6px,#00a9ff 627.3px,#00b2ff 836.4px)"></div>
<div class="s" style="top:397.8px;height:4.5px;background:linear-gradient(90deg,#00c8ff 0.0px,#00a2ff 276.0px,#006eff 426.6px,#008dff 627.3px,#0095ff 836.4px)"></div>
<div class="s" style="top:401.6px;height:4.5px;background:linear-gradient(90deg,#00acff 0.0px,#009fff 209.1px,#0056ff 426.6px,#0071ff 627.3px,#0076ff 836.4px)"></div>
<div class="s" style="top:405.5px;height:4.5px;background:linear-gradient(90deg,#0092ff 0.0px,#008fff 209.1px,#003fff 426.6px,#0055ff 627.3px,#0057ff 836.4px)"></div>
<div class="s" style="top:409.3px;height:4.5px;background:linear-gradient(90deg,#0078ff 0.0px,#007bff 209.1px,#0029ff 426.6px,#003aff 627.3px,#0039ff 836.4px)"></div>
<div class="s" style="top:413.2px;height:4.5px;background:linear-gradient(90deg,#005cff 0.0px,#0062ff 209.1px,#0014ff 426.6px,#001fff 627.3px,#001aff 836.4px)"></div>
<div class="s" style="top:417.1px;height:4.5px;background:linear-gradient(90deg,#0040ff 0.0px,#0045ff 209.1px,#0000ff 426.6px,#0000fd 836.4px)"></div>
<div class="s" style="top:420.9px;height:4.5px;background:linear-gradient(90deg,#0026ff 0.0px,#0028ff 209.1px,#0000ff 351.3px,#0000ef 426.6px,#0000e5 836.4px)"></div>
<div class="s" style="top:424.8px;height:4.5px;background:linear-gradient(90deg,#0011ff 0.0px,#000eff 209.1px,#0000ff 267.6px,#0000e1 426.6px,#0000cf 836.4px)"></div>
<div class="s" style="top:428.6px;height:4.5px;background:linear-gradient(90deg,#0003ff 0.0px,#0000f9 209.1px,#0000d6 426.6px,#0000bd 836.4px)"></div>
<div class="s" style="top:432.5px;height:4.5px;background:linear-gradient(90deg,#0000ff 0.0px,#0000ce 426.6px,#0000ae 836.4px)"></div>
<div class="s" style="top:436.4px;height:4.5px;background:linear-gradient(90deg,#0004ff 0.0px,#0000ed 209.1px,#0000c8 426.6px,#0000a4 836.4px)"></div>
<div class="s" style="top:440.2px;height:4.5px;background:linear-gradient(90deg,#000eff 0.0px,#0000ff 104.6px,#0000c6 426.6px,#00009e 836.4px)"></div>
<div class="s" style="top:444.1px;height:4.5px;background:linear-gradient(90deg,#001cff 0.0px,#0000ff 175.6px,#0000c9 426.6px,#0000a1 836.4px)"></div>
<div class="s" style="top:448.0px;height:4.5px;background:linear-gradient(90deg,#002eff 0.0px,#0000fe 234.2px,#0000d0 426.6px,#0000b1 836.4px)"></div>
<div class="s" style="top:451.8px;height:4.5px;background:linear-gradient(90deg,#0041ff 0.0px,#0000ff 280.2px,#0000db 426.6px,#0000ca 836.4px)"></div>
<div class="s" style="top:455.7px;height:4.5px;background:linear-gradient(90deg,#0057ff 0.0px,#0000ff 330.4px,#0000e8 426.6px,#0000e3 510.2px,#0000e8 836.4px)"></div>
<div class="s" style="top:459.5px;height:4.5px;background:linear-gradient(90deg,#006dff 0.0px,#0000ff 384.7px,#0000f3 593.8px,#0003ff 836.4px)"></div>
<div class="s" style="top:463.4px;height:4.5px;background:linear-gradient(90deg,#0082ff 0.0px,#0006ff 426.6px,#0016ff 836.4px)"></div>
<div class="s" style="top:467.3px;height:4.5px;background:linear-gradient(90deg,#0096ff 0.0px,#0016ff 409.8px,#001aff 836.4px)"></div>
<div class="s" style="top:471.1px;height:4.5px;background:linear-gradient(90deg,#00a8ff 0.0px,#005bff 209.1px,#0022ff 409.8px,#0018ff 836.4px)"></div>
<div class="s" style="top:475.0px;height:4.5px;background:linear-gradient(90deg,#00b6ff 0.0px,#0062ff 209.1px,#002aff 409.8px,#0016ff 836.4px)"></div>
<div class="s" style="top:478.8px;height:4.5px;background:linear-gradient(90deg,#00bfff 0.0px,#0065ff 209.1px,#002cff 409.8px,#0016ff 627.3px,#0012ff 836.4px)"></div>
<div class="s" style="top:482.7px;height:4.5px;background:linear-gradient(90deg,#00c4ff 0.0px,#0064ff 209.1px,#002bff 409.8px,#0012ff 627.3px,#000dff 836.4px)"></div>
<div class="s" style="top:486.6px;height:4.5px;background:linear-gradient(90deg,#00c3ff 0.0px,#0061ff 209.1px,#0027ff 409.8px,#000dff 627.3px,#0007ff 836.4px)"></div>
<div class="s" style="top:490.4px;height:4.5px;background:linear-gradient(90deg,#00c1ff 0.0px,#005dff 209.1px,#0021ff 409.8px,#0006ff 627.3px,#0001ff 836.4px)"></div>
<div class="s" style="top:494.3px;height:4.5px;background:linear-gradient(90deg,#00bcff 0.0px,#0058ff 209.1px,#0019ff 409.8px,#0000ff 623.1px,#0000fa 836.4px)"></div>
<div class="s" style="top:498.2px;height:4.5px;background:linear-gradient(90deg,#00b6ff 0.0px,#0052ff 209.1px,#000cff 426.6px,#0000ff 552.0px,#0000f4 836.4px)"></div>
<div class="s" style="top:502.0px;height:4.5px;background:linear-gradient(90deg,#00afff 0.0px,#004bff 209.1px,#0004ff 426.6px,#0000ee 836.4px)"></div>
<div class="s" style="top:505.9px;height:4.5px;background:linear-gradient(90deg,#00a7ff 0.0px,#0044ff 209.1px,#0001ff 405.7px,#0000eb 627.3px,#0000e9 836.4px)"></div>
<div class="s" style="top:509.7px;height:4.5px;background:linear-gradient(90deg,#009eff 0.0px,#003eff 209.1px,#0000ff 388.9px,#0000e6 627.3px,#0000e4 836.4px)"></div>
<div class="s" style="top:513.6px;height:4.5px;background:linear-gradient(90deg,#0095ff 0.0px,#0038ff 209.1px,#0000ff 376.4px,#0000ef 426.6px,#0000e1 627.3px,#0000e0 836.4px)"></div>
<div class="s" style="top:517.5px;height:4.5px;background:linear-gradient(90deg,#008dff 0.0px,#0033ff 209.1px,#0001ff 363.8px,#0000ec 426.6px,#0000dd 627.3px,#0000dd 836.4px)"></div>
<div class="s" style="top:521.3px;height:4.5px;background:linear-gradient(90deg,#0084ff 0.0px,#002eff 209.1px,#0000ff 359.7px,#0000ec 426.6px,#0000db 627.3px,#0000da 836.4px)"></div>
<div class="s" style="top:525.2px;height:4.5px;background:linear-gradient(90deg,#007cff 0.0px,#002cff 209.1px,#0000fe 363.8px,#0000ed 426.6px,#0000da 627.3px,#0000da 836.4px)"></div>
<div class="s" style="top:529.0px;height:4.5px;background:linear-gradient(90deg,#0076ff 0.0px,#0030ff 192.4px,#0000ff 368.0px,#0000da 627.3px,#0000da 836.4px)"></div>
<div class="s" style="top:532.9px;height:4.5px;background:linear-gradient(90deg,#0070ff 0.0px,#0001ff 376.4px,#0000dc 627.3px,#0000db 836.4px)"></div>
<div class="s" style="top:536.8px;height:4.5px;background:linear-gradient(90deg,#006dff 0.0px,#0000ff 393.1px,#0000de 627.3px,#0000dd 836.4px)"></div>
<div class="s" style="top:540.6px;height:4.5px;background:linear-gradient(90deg,#006bff 0.0px,#0000ff 418.2px,#0000e1 627.3px,#0000e0 836.4px)"></div>
<div class="s" style="top:544.5px;height:4.5px;background:linear-gradient(90deg,#006cff 0.0px,#0000ff 451.7px,#0000e5 627.3px,#0000e3 836.4px)"></div>
<div class="s" style="top:548.4px;height:4.5px;background:linear-gradient(90deg,#0072ff 0.0px,#0039ff 209.1px,#0000ff 489.3px,#0000ea 627.3px,#0000e7 836.4px)"></div>
<div class="s" style="top:552.2px;height:4.5px;background:linear-gradient(90deg,#007bff 0.0px,#0063ff 108.7px,#003eff 209.1px,#0000ff 526.9px,#0000ef 627.3px,#0000eb 836.4px)"></div>
<div class="s" style="top:556.1px;height:4.5px;background:linear-gradient(90deg,#0087ff 0.0px,#006dff 108.7px,#0042ff 209.1px,#0000ff 564.6px,#0000f0 836.4px)"></div>
<div class="s" style="top:559.9px;height:4.5px;background:linear-gradient(90deg,#0095ff 0.0px,#0070ff 125.5px,#0047ff 209.1px,#0036ff 292.7px,#0000ff 602.2px,#0000f6 836.4px)"></div>
<div class="s" style="top:563.8px;height:4.5px;background:linear-gradient(90deg,#00a3ff 0.0px,#0078ff 125.5px,#004bff 209.1px,#0041ff 259.3px,#0003ff 627.3px,#0000fc 836.4px)"></div>
<div class="s" style="top:567.7px;height:4.5px;background:linear-gradient(90deg,#00afff 0.0px,#007fff 125.5px,#004fff 209.1px,#000aff 627.3px,#0004ff 836.4px)"></div>
<div class="s" style="top:571.5px;height:4.5px;background:linear-gradient(90deg,#00baff 0.0px,#0052ff 209.1px,#0012ff 627.3px,#000cff 836.4px)"></div>
<div class="s" style="top:575.4px;height:4.5px;background:linear-gradient(90deg,#00c1ff 0.0px,#0054ff 209.1px,#0019ff 627.3px,#0014ff 836.4px)"></div>
<div class="s" style="top:579.2px;height:4.5px;background:linear-gradient(90deg,#00c3ff 0.0px,#0055ff 209.1px,#0021ff 627.3px,#001cff 836.4px)"></div>
<div class="s" style="top:583.1px;height:4.5px;background:linear-gradient(90deg,#00bfff 0.0px,#0057ff 209.1px,#0029ff 627.3px,#0025ff 836.4px)"></div>
<div class="s" style="top:587.0px;height:4.5px;background:linear-gradient(90deg,#00b5ff 0.0px,#0058ff 209.1px,#0032ff 627.3px,#002fff 836.4px)"></div>
<div class="s" style="top:590.8px;height:4.5px;background:linear-gradient(90deg,#00a7ff 0.0px,#0058ff 209.1px,#003aff 836.4px)"></div>
<div class="s" style="top:594.7px;height:4.5px;background:linear-gradient(90deg,#0098ff 0.0px,#0059ff 209.1px,#0049ff 836.4px)"></div>
<div class="s" style="top:598.6px;height:4.5px;background:linear-gradient(90deg,#008bff 0.0px,#005bff 209.1px,#005bff 836.4px)"></div>
<div class="s" style="top:602.4px;height:4.5px;background:linear-gradient(90deg,#0081ff 0.0px,#005cff 225.8px,#0071ff 836.4px)"></div>
<div class="s" style="top:606.3px;height:4.5px;background:linear-gradient(90deg,#007dff 0.0px,#005eff 225.8px,#0071ff 627.3px,#008aff 836.4px)"></div>
<div class="s" style="top:610.1px;height:4.5px;background:linear-gradient(90deg,#007fff 0.0px,#0063ff 259.3px,#0083ff 627.3px,#00aaff 836.4px)"></div>
<div class="s" style="top:614.0px;height:4.5px;background:linear-gradient(90deg,#0085ff 0.0px,#0065ff 209.1px,#0074ff 409.8px,#0097ff 627.3px,#00d3ff 836.4px)"></div>
<div class="s" style="top:617.9px;height:4.5px;background:linear-gradient(90deg,#008eff 0.0px,#006aff 209.1px,#007dff 409.8px,#00aeff 627.3px,#00fffb 836.4px)"></div>
<div class="s" style="top:621.7px;height:4.5px;background:linear-gradient(90deg,#0098ff 0.0px,#0070ff 209.1px,#0087ff 409.8px,#00c8ff 627.3px,#00feff 723.5px,#00ffc5 836.4px)"></div>
<div class="s" style="top:625.6px;height:4.5px;background:linear-gradient(90deg,#00a3ff 0.0px,#0078ff 209.1px,#0093ff 409.8px,#00b4ff 526.9px,#00ffff 669.1px,#00ff92 836.4px)"></div>
<div class="s" style="top:629.5px;height:4.5px;background:linear-gradient(90deg,#00adff 0.0px,#0080ff 209.1px,#00a5ff 426.6px,#00c8ff 526.9px,#00feff 618.9px,#00ffa7 727.7px,#00ff65 836.4px)"></div>
<div class="s" style="top:633.3px;height:4.5px;background:linear-gradient(90deg,#00b5ff 0.0px,#008bff 209.1px,#00b6ff 426.6px,#00dfff 526.9px,#00ffff 568.8px,#00ffd9 627.3px,#00ff71 744.4px,#00fc52 807.1px,#4bff48 811.3px,#5bff39 836.4px)"></div>
<div class="s" style="top:637.2px;height:4.5px;background:linear-gradient(90deg,#00bcff 0.0px,#009eff 209.1px,#00cdff 409.8px,#00ffff 522.8px,#00ffb0 627.3px,#00ff65 702.6px,#00fc50 740.2px,#4fff44 744.4px,#96ff00 823.9px,#99ff00 836.4px)"></div>
<div class="s" style="top:641.0px;height:4.5px;background:linear-gradient(90deg,#00c4ff 0.0px,#00beff 209.1px,#00fffe 388.9px,#00ffbd 526.9px,#00fc51 677.5px,#4eff45 681.7px,#96ff00 752.8px,#c4ff00 836.4px)"></div>
<div class="s" style="top:644.9px;height:4.5px;background:linear-gradient(90deg,#00cbff 0.0px,#00e2ff 209.1px,#00feff 250.9px,#00ffbe 359.7px,#00fc50 598.0px,#4dff46 602.2px,#96ff00 685.8px,#c1ff00 761.1px,#d6ff00 836.4px)"></div>
<div class="s" style="top:648.8px;height:4.5px;background:linear-gradient(90deg,#00d2ff 0.0px,#00fff8 209.1px,#00ff79 359.7px,#00fc51 451.7px,#4bff48 455.8px,#80ff15 560.4px,#96ff00 610.6px,#bcff00 710.9px,#c0ff00 836.4px)"></div>
<div class="s" style="top:652.6px;height:4.5px;background:linear-gradient(90deg,#00d6ff 0.0px,#00ecff 92.0px,#00feff 121.3px,#00ffdc 209.1px,#00ff92 276.0px,#00fc50 372.2px,#4dff46 376.4px,#7fff16 426.6px,#89ff0d 460.0px,#96ff00 514.4px,#a6ff00 660.8px,#96ff00 761.1px,#80ff15 836.4px)"></div>
<div class="s" style="top:656.5px;height:4.5px;background:linear-gradient(90deg,#00d8ff 0.0px,#00feff 112.9px,#00ffd1 209.1px,#00ff87 276.0px,#00fc50 363.8px,#4dff46 368.0px,#76ff1e 426.6px,#6fff25 627.3px,#4cff47 723.5px,#00fc50 727.7px,#00ff62 836.4px)"></div>
<div class="s" style="top:660.3px;height:4.5px;background:linear-gradient(90deg,#00d6ff 0.0px,#00ecff 92.0px,#00feff 121.3px,#00ffda 209.1px,#00ff9d 276.0px,#00ff79 342.9px,#00ff67 409.8px,#00ff70 627.3px,#00ffa6 836.4px)"></div>
<div class="s" style="top:664.2px;height:4.5px;background:linear-gradient(90deg,#00d3ff 0.0px,#00e3ff 92.0px,#00fffe 167.3px,#00fff2 209.1px,#00ffca 276.0px,#00ffb9 359.7px,#00ffc5 476.7px,#00ffb1 627.3px,#00ffda 836.4px)"></div>
<div class="s" style="top:668.1px;height:4.5px;background:linear-gradient(90deg,#00cfff 0.0px,#00d6ff 92.0px,#00ffff 267.6px,#00f6ff 426.6px,#00ffff 480.9px,#00ffd5 627.3px,#00fff7 836.4px)"></div>
<div class="s" style="top:671.9px;height:4.5px;background:linear-gradient(90deg,#00cbff 0.0px,#00ddff 409.8px,#00ffff 539.5px,#00ffee 627.3px,#00f4ff 836.4px)"></div>
<div class="s" style="top:675.8px;height:4.5px;background:linear-gradient(90deg,#00c8ff 0.0px,#00beff 209.1px,#00daff 460.0px,#00faff 627.3px,#00e2ff 836.4px)"></div>
<div class="s" style="top:679.7px;height:4.5px;background:linear-gradient(90deg,#00c7ff 0.0px,#00b7ff 209.1px,#00cbff 309.5px,#00ceff 426.6px,#00e8ff 627.3px,#00d4ff 836.4px)"></div>
<div class="s" style="top:683.5px;height:4.5px;background:linear-gradient(90deg,#00c7ff 0.0px,#00baff 209.1px,#00cbff 309.5px,#00c8ff 426.6px,#00d9ff 627.3px,#00c8ff 836.4px)"></div>
<div class="s" style="top:687.4px;height:4.5px;background:linear-gradient(90deg,#00c8ff 0.0px,#00c1ff 209.1px,#00cfff 627.3px,#00bfff 836.4px)"></div>
<div class="s" style="top:691.2px;height:4.5px;background:linear-gradient(90deg,#00c8ff 0.0px,#00c9ff 627.3px,#00bbff 836.4px)"></div>
</div>
<div style="position:absolute;left:1032.3px;top:953.5px;width:35.3px;height:695.1px;background:linear-gradient(180deg,#960000 0.0px,#ff0000 69.7px,#fffe00 240.4px,#fdff00 242.2px,#97ff00 294.4px,#4cff47 327.5px,#00fc51 329.3px,#00ff65 348.4px,#00fffe 440.8px,#00fdff 442.5px,#0000ff 608.0px,#000087 695.1px)"></div>
<div style="position:absolute;left:1396.0px;top:953.5px;width:837.0px;height:695.1px;overflow:hidden">
<div class="s" style="top:0.0px;height:4.5px;background:linear-gradient(90deg,#001dff 0.0px,#0010ff 209.2px,#002cff 410.1px,#00ceff 627.8px,#00ffff 778.4px,#00ffdc 837.0px)"></div>
<div class="s" style="top:3.9px;height:4.5px;background:linear-gradient(90deg,#0015ff 0.0px,#000eff 209.2px,#0024ff 410.1px,#00c0ff 627.8px,#00ecff 744.9px,#00fcff 757.5px,#00ffb4 837.0px)"></div>
<div class="s" style="top:7.7px;height:4.5px;background:linear-gradient(90deg,#000bff 0.0px,#000bff 209.2px,#001cff 410.1px,#00b2ff 627.8px,#00ecff 744.9px,#00fbff 753.3px,#00ff91 828.6px,#00ff91 837.0px)"></div>
<div class="s" style="top:11.6px;height:4.5px;background:linear-gradient(90deg,#0000ff 0.0px,#0014ff 410.1px,#00ecff 744.9px,#00fdff 753.3px,#00ff91 811.9px,#00ff76 828.6px,#00ff76 837.0px)"></div>
<div class="s" style="top:15.4px;height:4.5px;background:linear-gradient(90deg,#0000f3 0.0px,#000cff 410.1px,#0094ff 627.8px,#00ecff 744.9px,#00feff 753.3px,#00ff82 811.9px,#00ff64 828.6px,#00ff64 837.0px)"></div>
<div class="s" style="top:19.3px;height:4.5px;background:linear-gradient(90deg,#0000e2 0.0px,#0000fc 209.2px,#0009ff 426.9px,#0084ff 627.8px,#00ebff 744.9px,#00ffff 753.3px,#00ff7b 811.9px,#00fe5f 828.6px,#00fe5f 837.0px)"></div>
<div class="s" style="top:23.2px;height:4.5px;background:linear-gradient(90deg,#0000ce 0.0px,#0000f3 209.2px,#0000ff 426.9px,#0075ff 627.8px,#00c5ff 711.4px,#00feff 753.3px,#00ff7f 811.9px,#00ff63 828.6px,#00ff63 837.0px)"></div>
<div class="s" style="top:27.0px;height:4.5px;background:linear-gradient(90deg,#0000b9 0.0px,#0000e6 209.2px,#0000f1 410.1px,#0001ff 452.0px,#0065ff 627.8px,#00baff 711.4px,#00e4ff 744.9px,#00ffff 757.5px,#00ff90 811.9px,#00ff75 828.6px,#00ff75 837.0px)"></div>
<div class="s" style="top:30.9px;height:4.5px;background:linear-gradient(90deg,#0000a4 0.0px,#0000d8 209.2px,#0000e7 410.1px,#0000ff 477.1px,#0053ff 627.8px,#00a9ff 711.4px,#00fbff 765.9px,#00fff1 778.4px,#00ffab 811.9px,#00ff93 828.6px,#00ff93 837.0px)"></div>
<div class="s" style="top:34.8px;height:4.5px;background:linear-gradient(90deg,#000090 0.0px,#0000c9 209.2px,#0000df 426.9px,#0000ff 510.6px,#003eff 627.8px,#0092ff 711.4px,#00f8ff 782.6px,#00ffb8 828.6px,#00ffb8 837.0px)"></div>
<div class="s" style="top:38.6px;height:4.5px;background:linear-gradient(90deg,#000087 0.0px,#000087 37.7px,#0000ba 209.2px,#0000d4 426.9px,#0000ff 548.2px,#0037ff 644.5px,#008bff 728.2px,#00ffff 807.7px,#00ffe4 837.0px)"></div>
<div class="s" style="top:42.5px;height:4.5px;background:linear-gradient(90deg,#000087 0.0px,#000088 87.9px,#0000ad 209.2px,#0000ca 426.9px,#0000ff 590.1px,#0011ff 627.8px,#004aff 694.7px,#00daff 811.9px,#00ecff 837.0px)"></div>
<div class="s" style="top:46.3px;height:4.5px;background:linear-gradient(90deg,#000087 0.0px,#000087 121.4px,#0000a3 209.2px,#0000c8 460.4px,#0000fd 631.9px,#003dff 711.4px,#00aeff 811.9px,#00beff 837.0px)"></div>
<div class="s" style="top:50.2px;height:4.5px;background:linear-gradient(90deg,#000087 0.0px,#000087 138.1px,#00009d 209.2px,#0000bf 460.4px,#0000e9 627.8px,#0000fe 665.4px,#0091ff 837.0px)"></div>
<div class="s" style="top:54.1px;height:4.5px;background:linear-gradient(90deg,#000087 0.0px,#000087 125.5px,#00009d 209.2px,#0000c1 510.6px,#0000da 627.8px,#0000fe 698.9px,#0067ff 837.0px)"></div>
<div class="s" style="top:57.9px;height:4.5px;background:linear-gradient(90deg,#000087 0.0px,#000087 83.7px,#0000a3 209.2px,#0000c8 594.3px,#0000fe 732.4px,#0041ff 837.0px)"></div>
<div class="s" style="top:61.8px;height:4.5px;background:linear-gradient(90deg,#000087 0.0px,#0000ae 209.2px,#0000c8 627.8px,#0000ff 770.0px,#0022ff 837.0px)"></div>
<div class="s" style="top:65.6px;height:4.5px;background:linear-gradient(90deg,#000099 0.0px,#0000bd 209.2px,#0000c9 627.8px,#0000ff 803.5px,#000bff 837.0px)"></div>
<div class="s" style="top:69.5px;height:4.5px;background:linear-gradient(90deg,#0000ad 0.0px,#0000d0 209.2px,#0000d0 627.8px,#0000ff 837.0px)"></div>
<div class="s" style="top:73.4px;height:4.5px;background:linear-gradient(90deg,#0000c4 0.0px,#0000e5 209.2px,#0000db 343.2px,#0000df 627.8px,#0000ff 837.0px)"></div>
<div class="s" style="top:77.2px;height:4.5px;background:linear-gradient(90deg,#0000db 0.0px,#0000fe 209.2px,#0000ef 410.1px,#0000ff 744.9px,#000cff 837.0px)"></div>
<div class="s" style="top:81.1px;height:4.5px;background:linear-gradient(90deg,#0000f3 0.0px,#0000ff 71.1px,#001bff 209.2px,#0009ff 410.1px,#0020ff 837.0px)"></div>
<div class="s" style="top:85.0px;height:4.5px;background:linear-gradient(90deg,#000dff 0.0px,#0039ff 209.2px,#0029ff 292.9px,#0027ff 410.1px,#003dff 837.0px)"></div>
<div class="s" style="top:88.8px;height:4.5px;background:linear-gradient(90deg,#0027ff 0.0px,#0057ff 209.2px,#0048ff 292.9px,#0048ff 410.1px,#0060ff 837.0px)"></div>
<div class="s" style="top:92.7px;height:4.5px;background:linear-gradient(90deg,#003fff 0.0px,#0075ff 209.2px,#0069ff 292.9px,#006bff 410.1px,#0086ff 627.8px,#0088ff 837.0px)"></div>
<div class="s" style="top:96.5px;height:4.5px;background:linear-gradient(90deg,#0054ff 0.0px,#0092ff 209.2px,#008cff 359.9px,#00b3ff 627.8px,#00b4ff 837.0px)"></div>
<div class="s" style="top:100.4px;height:4.5px;background:linear-gradient(90deg,#0066ff 0.0px,#00adff 209.2px,#00b5ff 410.1px,#00e5ff 627.8px,#00e5ff 837.0px)"></div>
<div class="s" style="top:104.3px;height:4.5px;background:linear-gradient(90deg,#0074ff 0.0px,#00c6ff 209.2px,#00dcff 410.1px,#00ffff 531.5px,#00ffc7 627.8px,#00ffc6 837.0px)"></div>
<div class="s" style="top:108.1px;height:4.5px;background:linear-gradient(90deg,#007dff 0.0px,#00dcff 209.2px,#00ffff 359.9px,#00ffce 477.1px,#00fd59 627.8px,#00fd58 837.0px)"></div>
<div class="s" style="top:112.0px;height:4.5px;background:linear-gradient(90deg,#0081ff 0.0px,#00baff 125.5px,#00fffe 230.2px,#00ffb1 393.4px,#00fc52 527.3px,#4cff47 531.5px,#95ff01 585.9px,#c6ff00 627.8px,#c7ff00 837.0px)"></div>
<div class="s" style="top:115.8px;height:4.5px;background:linear-gradient(90deg,#0082ff 0.0px,#00c3ff 125.5px,#00fffd 196.7px,#00ffa4 292.9px,#00fc52 426.9px,#4bff48 431.1px,#97ff00 489.6px,#fdff00 598.5px,#fff400 627.8px,#fff400 837.0px)"></div>
<div class="s" style="top:119.7px;height:4.5px;background:linear-gradient(90deg,#0082ff 0.0px,#00c0ff 108.8px,#00e5ff 159.0px,#00feff 175.8px,#00ff6f 292.9px,#00fc51 343.2px,#4dff46 347.4px,#99ff00 405.9px,#ffff00 514.8px,#ffe000 627.8px,#ffe300 837.0px)"></div>
<div class="s" style="top:123.6px;height:4.5px;background:linear-gradient(90deg,#0083ff 0.0px,#00c6ff 108.8px,#00fcff 167.4px,#00ffcc 209.2px,#00ff8c 242.7px,#00fc50 301.3px,#4eff45 305.5px,#95ff01 351.5px,#eaff00 410.1px,#fffe00 435.2px,#ffd000 627.8px,#ffd500 837.0px)"></div>
<div class="s" style="top:127.4px;height:4.5px;background:linear-gradient(90deg,#0083ff 0.0px,#00beff 92.1px,#00fbff 163.2px,#00ffc6 209.2px,#00ff83 242.7px,#00fd54 284.6px,#4eff45 288.8px,#96ff00 330.6px,#fffb00 397.6px,#ffde00 426.9px,#ffc300 627.8px,#ffc900 837.0px)"></div>
<div class="s" style="top:131.3px;height:4.5px;background:linear-gradient(90deg,#0084ff 0.0px,#00ccff 108.8px,#00fdff 163.2px,#00ffc3 209.2px,#00ff7e 242.7px,#00fc52 280.4px,#51ff43 284.6px,#9aff00 322.2px,#fffb00 376.7px,#ffc200 426.9px,#ffb700 627.8px,#ffbe00 837.0px)"></div>
<div class="s" style="top:135.2px;height:4.5px;background:linear-gradient(90deg,#0084ff 0.0px,#00ccff 108.8px,#00ffff 163.2px,#00ffc0 209.2px,#00ff7b 242.7px,#00fc51 276.2px,#52ff41 280.4px,#99ff00 313.9px,#fffd00 364.1px,#ffb600 426.9px,#ffad00 627.8px,#ffb400 837.0px)"></div>
<div class="s" style="top:139.0px;height:4.5px;background:linear-gradient(90deg,#0084ff 0.0px,#00cdff 108.8px,#00fffd 163.2px,#00ffbe 209.2px,#00ff78 242.7px,#00fc52 272.0px,#51ff42 276.2px,#9bff00 309.7px,#fffd00 359.9px,#ffe400 376.7px,#ffb800 426.9px,#ffb000 460.4px,#ffa500 627.8px,#ffab00 837.0px)"></div>
<div class="s" style="top:142.9px;height:4.5px;background:linear-gradient(90deg,#0084ff 0.0px,#00ceff 108.8px,#00fffc 163.2px,#00ffbc 209.2px,#00ff92 226.0px,#00fd54 267.8px,#4dff46 272.0px,#97ff00 305.5px,#ffff00 359.9px,#ffc000 426.9px,#ffaa00 493.8px,#ff9e00 627.8px,#ffa400 837.0px)"></div>
<div class="s" style="top:146.7px;height:4.5px;background:linear-gradient(90deg,#0084ff 0.0px,#00ceff 108.8px,#00fdff 159.0px,#00ffbb 209.2px,#00ff90 226.0px,#00fc53 267.8px,#4fff44 272.0px,#95ff01 305.5px,#fffc00 368.3px,#ffcb00 426.9px,#ffa500 527.3px,#ff9900 627.8px,#ff9d00 837.0px)"></div>
<div class="s" style="top:150.6px;height:4.5px;background:linear-gradient(90deg,#0084ff 0.0px,#00ceff 108.8px,#00fdff 159.0px,#00ffbb 209.2px,#00ff8f 226.0px,#00fd54 267.8px,#4cff47 272.0px,#95ff01 309.7px,#fffe00 376.7px,#ffbb00 477.1px,#ffa300 544.1px,#ff9600 627.8px,#ff9700 837.0px)"></div>
<div class="s" style="top:154.5px;height:4.5px;background:linear-gradient(90deg,#0084ff 0.0px,#00ceff 108.8px,#00fdff 159.0px,#00ffbb 209.2px,#00ff90 226.0px,#00ff68 251.1px,#00fc52 272.0px,#4eff45 276.2px,#97ff00 318.1px,#ecff00 376.7px,#ffff00 397.6px,#ffbb00 493.8px,#ffa100 560.8px,#ff9400 627.8px,#ff9200 837.0px)"></div>
<div class="s" style="top:158.3px;height:4.5px;background:linear-gradient(90deg,#0084ff 0.0px,#00ceff 108.8px,#00fcff 159.0px,#00ffbb 209.2px,#00ff93 226.0px,#00ff66 255.3px,#00fc51 280.4px,#4fff44 284.6px,#95ff01 326.4px,#d6ff00 376.7px,#fffd00 422.7px,#ffba00 510.6px,#ffa000 577.5px,#ff9200 661.2px,#ff8d00 837.0px)"></div>
<div class="s" style="top:162.2px;height:4.5px;background:linear-gradient(90deg,#0084ff 0.0px,#00cdff 108.8px,#00fffd 163.2px,#00ffbd 209.2px,#00ff97 226.0px,#00ff66 259.5px,#00fc52 288.8px,#4bff48 292.9px,#95ff01 343.2px,#fffe00 443.6px,#ffc300 510.6px,#ff9f00 594.3px,#ff8a00 837.0px)"></div>
<div class="s" style="top:166.1px;height:4.5px;background:linear-gradient(90deg,#0084ff 0.0px,#00cdff 108.8px,#00fffe 163.2px,#00ff6d 259.5px,#00fc52 301.3px,#4eff46 305.5px,#97ff00 359.9px,#fffd00 460.4px,#ffc300 527.3px,#ff9e00 611.0px,#ff8700 837.0px)"></div>
<div class="s" style="top:169.9px;height:4.5px;background:linear-gradient(90deg,#0084ff 0.0px,#00ccff 108.8px,#00feff 163.2px,#00ff75 259.5px,#00fc53 309.7px,#4bff48 313.9px,#99ff00 376.7px,#ffff00 472.9px,#ffb800 560.8px,#ff9e00 627.8px,#ff8500 837.0px)"></div>
<div class="s" style="top:173.8px;height:4.5px;background:linear-gradient(90deg,#0084ff 0.0px,#00ccff 108.8px,#00fdff 163.2px,#00ff7b 259.5px,#00fc52 318.1px,#4fff44 322.2px,#99ff00 389.2px,#fffe00 485.5px,#ffc100 560.8px,#ffa400 627.8px,#ff8400 837.0px)"></div>
<div class="s" style="top:177.6px;height:4.5px;background:linear-gradient(90deg,#0084ff 0.0px,#00fbff 163.2px,#00ff81 259.5px,#00fc51 322.2px,#50ff43 326.4px,#96ff00 393.4px,#fffc00 498.0px,#ffcb00 560.8px,#ffac00 627.8px,#ff8400 837.0px)"></div>
<div class="s" style="top:181.5px;height:4.5px;background:linear-gradient(90deg,#0084ff 0.0px,#00fbff 163.2px,#00ff86 259.5px,#00fc52 322.2px,#4fff44 326.4px,#95ff01 393.4px,#ffff00 506.4px,#ffd500 560.8px,#ffb400 627.8px,#ff8500 837.0px)"></div>
<div class="s" style="top:185.4px;height:4.5px;background:linear-gradient(90deg,#0084ff 0.0px,#00c0ff 92.1px,#00feff 163.2px,#00ffbc 226.0px,#00ff8b 259.5px,#00fc52 322.2px,#4fff44 326.4px,#98ff00 393.4px,#ffff00 518.9px,#ffbd00 627.8px,#ff8800 837.0px)"></div>
<div class="s" style="top:189.2px;height:4.5px;background:linear-gradient(90deg,#0085ff 0.0px,#00fffe 159.0px,#00ffe9 175.8px,#00ffd7 209.2px,#00ff8f 259.5px,#00fc52 322.2px,#50ff44 326.4px,#97ff00 389.2px,#feff00 531.5px,#ffc800 627.8px,#ff8e00 837.0px)"></div>
<div class="s" style="top:193.1px;height:4.5px;background:linear-gradient(90deg,#0093ff 0.0px,#00ffff 138.1px,#00ffda 209.2px,#00ff7d 276.2px,#00fc52 322.2px,#50ff43 326.4px,#97ff00 385.0px,#b3ff00 410.1px,#ceff00 477.1px,#fffe00 552.4px,#ffd800 627.8px,#ff9900 837.0px)"></div>
<div class="s" style="top:196.9px;height:4.5px;background:linear-gradient(90deg,#00b1ff 0.0px,#00fffe 113.0px,#00ffd1 209.2px,#00ff7d 276.2px,#00fc52 322.2px,#50ff43 326.4px,#95ff01 380.8px,#c0ff00 426.9px,#c9ff00 477.1px,#ffff00 590.1px,#ffc000 837.0px)"></div>
<div class="s" style="top:200.8px;height:4.5px;background:linear-gradient(90deg,#00d6ff 0.0px,#00fffd 79.5px,#00ffcf 142.3px,#00ffbc 209.2px,#00fc52 322.2px,#50ff44 326.4px,#96ff00 380.8px,#c3ff00 426.9px,#c6ff00 493.8px,#fbff00 711.4px,#fffc00 837.0px)"></div>
<div class="s" style="top:204.7px;height:4.5px;background:linear-gradient(90deg,#00fdff 0.0px,#00ffae 142.3px,#00ff96 226.0px,#00fc53 322.2px,#4bff48 326.4px,#98ff00 397.6px,#b1ff00 426.9px,#c1ff00 678.0px,#bcff00 778.4px,#a9ff00 837.0px)"></div>
<div class="s" style="top:208.5px;height:4.5px;background:linear-gradient(90deg,#00ffcc 0.0px,#00ff84 159.0px,#00ff83 192.5px,#00fc50 343.2px,#4cff47 347.4px,#53ff40 359.9px,#8aff0c 627.8px,#79ff1c 711.4px,#4fff44 795.1px,#4cff47 799.3px,#00fc51 803.5px,#00fd59 837.0px)"></div>
<div class="s" style="top:212.4px;height:4.5px;background:linear-gradient(90deg,#00ff94 0.0px,#00ff65 159.0px,#00fd57 326.4px,#00ff6d 426.9px,#00fc52 627.8px,#00ff66 703.1px,#00ffbd 837.0px)"></div>
<div class="s" style="top:216.3px;height:4.5px;background:linear-gradient(90deg,#00ff65 0.0px,#00fd56 276.2px,#00ff64 351.5px,#00ff96 426.9px,#00ff8f 627.8px,#00fffd 782.6px,#00ebff 837.0px)"></div>
<div class="s" style="top:220.1px;height:4.5px;background:linear-gradient(90deg,#50ff44 0.0px,#4cff47 20.9px,#00fc50 25.1px,#00fc50 200.9px,#4cff47 205.1px,#4dff47 209.2px,#4cff48 213.4px,#00fc50 217.6px,#00ff63 313.9px,#00ffba 426.9px,#00ffed 627.8px,#00ffff 657.0px,#00e2ff 728.2px,#00caff 837.0px)"></div>
<div class="s" style="top:224.0px;height:4.5px;background:linear-gradient(90deg,#7bff1a 0.0px,#4bff48 113.0px,#00fc51 117.2px,#00fc53 209.2px,#00ff64 276.2px,#00ffcd 410.1px,#00feff 527.3px,#00dbff 627.8px,#00b2ff 837.0px)"></div>
<div class="s" style="top:227.8px;height:4.5px;background:linear-gradient(90deg,#a0ff00 0.0px,#96ff00 20.9px,#4cff47 125.5px,#42ff49 129.7px,#00fc51 133.9px,#00ff65 234.4px,#00ffe2 410.1px,#00fffe 481.3px,#00c2ff 627.8px,#009cff 837.0px)"></div>
<div class="s" style="top:231.7px;height:4.5px;background:linear-gradient(90deg,#c1ff00 0.0px,#94ff02 50.2px,#4dff46 133.9px,#00fc51 142.3px,#00ff6b 209.2px,#00ffff 435.2px,#00abff 627.8px,#0089ff 837.0px)"></div>
<div class="s" style="top:235.6px;height:4.5px;background:linear-gradient(90deg,#e2ff00 0.0px,#e2ff00 8.4px,#98ff00 67.0px,#4bff48 142.3px,#00fc53 146.5px,#00fffe 401.8px,#0097ff 627.8px,#0077ff 837.0px)"></div>
<div class="s" style="top:239.4px;height:4.5px;background:linear-gradient(90deg,#fffa00 0.0px,#ffff00 12.6px,#99ff00 83.7px,#4fff45 142.3px,#00fc52 146.5px,#00ff8d 209.2px,#00ffff 380.8px,#0085ff 627.8px,#0068ff 837.0px)"></div>
<div class="s" style="top:243.3px;height:4.5px;background:linear-gradient(90deg,#ffdc00 0.0px,#ffdc00 8.4px,#ffff00 33.5px,#96ff00 100.4px,#55ff3e 142.3px,#4cff47 146.5px,#00fd54 150.7px,#00ff93 209.2px,#00ffa9 259.5px,#00fdff 364.1px,#0075ff 627.8px,#005bff 837.0px)"></div>
<div class="s" style="top:247.1px;height:4.5px;background:linear-gradient(90deg,#ffbd00 0.0px,#ffbd00 8.4px,#fffb00 50.2px,#ddff00 75.3px,#97ff00 113.0px,#4fff44 150.7px,#00fc53 154.8px,#00ff90 209.2px,#00ffa9 259.5px,#00fdff 347.4px,#00caff 426.9px,#0067ff 627.8px,#004fff 837.0px)"></div>
<div class="s" style="top:251.0px;height:4.5px;background:linear-gradient(90deg,#ff9f00 0.0px,#ff9f00 8.4px,#fffe00 75.3px,#98ff00 125.5px,#51ff43 159.0px,#00fc51 163.2px,#00ff89 209.2px,#00ffa8 259.5px,#00ffff 334.8px,#00c9ff 410.1px,#005cff 627.8px,#0046ff 837.0px)"></div>
<div class="s" style="top:254.9px;height:4.5px;background:linear-gradient(90deg,#ff8200 0.0px,#ff8200 8.4px,#f9ff00 96.3px,#97ff00 142.3px,#52ff42 171.6px,#00fc51 175.8px,#00ff64 196.7px,#00ff7c 209.2px,#00ffa6 259.5px,#00fffe 326.4px,#00c1ff 410.1px,#0052ff 627.8px,#003fff 837.0px)"></div>
<div class="s" style="top:258.7px;height:4.5px;background:linear-gradient(90deg,#ff6500 0.0px,#ff6500 8.4px,#ffc000 75.3px,#fbff00 113.0px,#93ff03 159.0px,#50ff43 188.3px,#00fc51 192.5px,#00fbff 326.4px,#00baff 410.1px,#004bff 627.8px,#0039ff 837.0px)"></div>
<div class="s" style="top:262.6px;height:4.5px;background:linear-gradient(90deg,#ff4d00 0.0px,#ff4d00 8.4px,#ff9b00 75.3px,#ffff00 133.9px,#9cff00 175.8px,#76ff1f 192.5px,#57ff3d 200.9px,#00fc52 205.1px,#00ff7f 242.7px,#00ffc1 276.2px,#00fffe 322.2px,#00b7ff 410.1px,#0046ff 627.8px,#0035ff 837.0px)"></div>
<div class="s" style="top:266.5px;height:4.5px;background:linear-gradient(90deg,#ff3f00 0.0px,#ff4900 25.1px,#ff7700 75.3px,#fffc00 163.2px,#c0ff00 192.5px,#97ff00 205.1px,#4bff48 230.2px,#00fd55 234.4px,#00ff65 246.9px,#00ffae 276.2px,#00fff7 322.2px,#00b6ff 410.1px,#0043ff 627.8px,#0033ff 837.0px)"></div>
<div class="s" style="top:270.3px;height:4.5px;background:linear-gradient(90deg,#ff3500 0.0px,#ff3f00 41.9px,#ff6500 92.1px,#ffa000 142.3px,#ffff00 200.9px,#98ff00 234.4px,#4cff47 255.3px,#00fd57 259.5px,#00fffb 339.0px,#00aeff 426.9px,#0042ff 627.8px,#0032ff 837.0px)"></div>
<div class="s" style="top:274.2px;height:4.5px;background:linear-gradient(90deg,#ff2e00 0.0px,#ff2d00 58.6px,#ff4d00 108.8px,#ffad00 192.5px,#ffc700 209.2px,#fdff00 230.2px,#98ff00 259.5px,#4fff44 276.2px,#00fd55 280.4px,#00ffc0 326.4px,#00fffe 359.9px,#00b4ff 426.9px,#0042ff 627.8px,#0033ff 837.0px)"></div>
<div class="s" style="top:278.0px;height:4.5px;background:linear-gradient(90deg,#ff2800 0.0px,#ff1500 75.3px,#ff3800 142.3px,#ff8500 209.2px,#faff00 255.3px,#98ff00 280.4px,#54ff40 297.1px,#00fc53 301.3px,#00ffdc 359.9px,#00fdff 380.8px,#00ceff 410.1px,#00b1ff 443.6px,#0044ff 627.8px,#0035ff 837.0px)"></div>
<div class="s" style="top:281.9px;height:4.5px;background:linear-gradient(90deg,#ff2600 0.0px,#ff0000 62.8px,#f70000 92.1px,#fe0000 133.9px,#ff0d00 159.0px,#ff3e00 209.2px,#fffb00 272.0px,#f3ff00 276.2px,#93ff03 301.3px,#4fff44 318.1px,#00fd56 322.2px,#00fbff 393.4px,#00bbff 443.6px,#0048ff 627.8px,#0038ff 837.0px)"></div>
<div class="s" style="top:285.8px;height:4.5px;background:linear-gradient(90deg,#ff2e00 0.0px,#fd0000 54.4px,#e00000 92.1px,#d30000 142.3px,#dc0000 175.8px,#ff0300 213.4px,#f9ff00 292.9px,#98ff00 318.1px,#56ff3d 334.8px,#00fc52 339.0px,#00ffb1 376.7px,#00ffe7 393.4px,#00fbff 405.9px,#00c7ff 443.6px,#004dff 627.8px,#003dff 837.0px)"></div>
<div class="s" style="top:289.6px;height:4.5px;background:linear-gradient(90deg,#ff4700 0.0px,#ff4700 8.4px,#fe0000 62.8px,#be0000 125.5px,#ab0000 175.8px,#b10000 209.2px,#fe0000 234.4px,#fff600 309.7px,#f8ff00 313.9px,#94ff02 339.0px,#55ff3e 351.5px,#00fd55 355.7px,#00ff8a 376.7px,#00ffc9 393.4px,#00fffc 414.3px,#00c8ff 460.4px,#0053ff 627.8px,#0043ff 837.0px)"></div>
<div class="s" style="top:293.5px;height:4.5px;background:linear-gradient(90deg,#ff6e00 0.0px,#ff6e00 8.4px,#ff0000 83.7px,#af0000 142.3px,#960000 171.6px,#970000 217.6px,#fd0000 255.3px,#fdff00 334.8px,#99ff00 355.7px,#5aff39 368.3px,#00fc52 372.5px,#00ffd6 410.1px,#00fffc 426.9px,#00c9ff 477.1px,#005bff 627.8px,#004bff 837.0px)"></div>
<div class="s" style="top:297.3px;height:4.5px;background:linear-gradient(90deg,#ffa000 0.0px,#ff8a00 25.1px,#ff0000 113.0px,#990000 175.8px,#960000 230.2px,#ff0400 276.2px,#faff00 355.7px,#9bff00 376.7px,#64ff30 385.0px,#00fc52 389.2px,#00ffd3 426.9px,#00fffe 443.6px,#00caff 493.8px,#0064ff 627.8px,#0054ff 837.0px)"></div>
<div class="s" style="top:301.2px;height:4.5px;background:linear-gradient(90deg,#ffda00 0.0px,#ffda00 8.4px,#ff9800 58.6px,#fb0000 150.7px,#9c0000 200.9px,#960000 221.8px,#c00000 259.5px,#fb0000 288.8px,#ff8d00 343.2px,#fffe00 376.7px,#e9ff00 380.8px,#a2ff00 393.4px,#8cff0a 397.6px,#5bff39 405.9px,#00fd54 410.1px,#00ffbe 443.6px,#00ffff 472.9px,#00ccff 510.6px,#006fff 627.8px,#005dff 837.0px)"></div>
<div class="s" style="top:305.1px;height:4.5px;background:linear-gradient(90deg,#e0ff00 0.0px,#e0ff00 8.4px,#fdff00 29.3px,#ffde00 58.6px,#ff7a00 125.5px,#f90000 192.5px,#d50000 209.2px,#d10000 242.7px,#e20000 276.2px,#ff0500 301.3px,#ff5a00 343.2px,#f9ff00 397.6px,#99ff00 418.5px,#5cff37 431.1px,#00fc51 435.2px,#00ffe9 493.8px,#00faff 506.4px,#00c0ff 544.1px,#007bff 627.8px,#0068ff 837.0px)"></div>
<div class="s" style="top:308.9px;height:4.5px;background:linear-gradient(90deg,#8eff08 0.0px,#b6ff00 41.9px,#feff00 92.1px,#ff9c00 159.0px,#ff3b00 209.2px,#ff1900 276.2px,#ff2100 309.7px,#ff4500 343.2px,#ff8700 376.7px,#fffe00 418.5px,#f2ff00 422.7px,#9aff00 447.8px,#5bff39 464.5px,#00fc50 468.7px,#00ff68 481.3px,#00fffe 535.7px,#00b6ff 577.5px,#0088ff 627.8px,#0075ff 837.0px)"></div>
<div class="s" style="top:312.8px;height:4.5px;background:linear-gradient(90deg,#00fd59 0.0px,#00fc51 25.1px,#4cff47 29.3px,#99ff00 92.1px,#fffe00 159.0px,#ffac00 209.2px,#ff6200 309.7px,#ff6100 343.2px,#ff7b00 376.7px,#fffe00 447.8px,#96ff00 485.5px,#57ff3d 502.2px,#00fc52 506.4px,#00ffff 569.2px,#00c9ff 594.3px,#0099ff 627.8px,#0082ff 837.0px)"></div>
<div class="s" style="top:316.7px;height:4.5px;background:linear-gradient(90deg,#00ff92 0.0px,#00fc50 113.0px,#4fff44 117.2px,#95ff01 167.4px,#daff00 209.2px,#fffd00 242.7px,#ffb700 326.4px,#ffa500 376.7px,#ffcc00 443.6px,#fffb00 481.3px,#e8ff00 493.8px,#9eff00 518.9px,#4cff47 539.9px,#00fd57 544.1px,#00fffe 602.6px,#00c6ff 627.8px,#00bdff 644.5px,#00a0ff 728.2px,#0090ff 837.0px)"></div>
<div class="s" style="top:320.5px;height:4.5px;background:linear-gradient(90deg,#00ffd9 0.0px,#00fc52 196.7px,#4dff46 200.9px,#99ff00 267.8px,#fffd00 368.3px,#ffd400 460.4px,#ffe000 493.8px,#fbff00 518.9px,#92ff04 556.6px,#51ff42 573.3px,#00fd55 577.5px,#00ffe2 627.8px,#00fffe 657.0px,#00c6ff 744.9px,#00a7ff 837.0px)"></div>
<div class="s" style="top:324.4px;height:4.5px;background:linear-gradient(90deg,#00dfff 0.0px,#00fffc 50.2px,#00ff85 209.2px,#00fc52 309.7px,#4bff48 313.9px,#99ff00 389.2px,#c0ff00 426.9px,#fcff00 464.5px,#ffe500 510.6px,#feff00 544.1px,#dfff00 560.8px,#9cff00 585.9px,#52ff41 606.8px,#00fd53 611.0px,#00ff79 627.8px,#00ff8c 644.5px,#00fffd 761.7px,#00d7ff 837.0px)"></div>
<div class="s" style="top:328.2px;height:4.5px;background:linear-gradient(90deg,#00a6ff 0.0px,#00fffd 129.7px,#00ffc5 209.2px,#00fc52 422.7px,#4dff46 426.9px,#96ff00 464.5px,#e4ff00 510.6px,#faff00 544.1px,#e9ff00 577.5px,#97ff00 619.4px,#7fff16 627.8px,#4dff46 665.4px,#00fc52 669.6px,#00ffdf 837.0px)"></div>
<div class="s" style="top:332.1px;height:4.5px;background:linear-gradient(90deg,#007eff 0.0px,#00feff 209.2px,#00ff92 410.1px,#00fc53 481.3px,#4cff47 485.5px,#7cff19 510.6px,#9aff00 527.3px,#c5ff00 560.8px,#d1ff00 594.3px,#95ff01 690.5px,#4eff45 749.1px,#00fc51 753.3px,#00ff8c 837.0px)"></div>
<div class="s" style="top:336.0px;height:4.5px;background:linear-gradient(90deg,#005bff 0.0px,#00ffff 313.9px,#00ffbf 426.9px,#00fc51 544.1px,#51ff43 548.2px,#80ff15 577.5px,#98ff00 598.5px,#c4ff00 678.0px,#bfff00 711.4px,#97ff00 770.0px,#56ff3d 828.6px,#56ff3d 837.0px)"></div>
<div class="s" style="top:339.8px;height:4.5px;background:linear-gradient(90deg,#003aff 0.0px,#00a6ff 209.2px,#00fffe 414.3px,#00fc50 606.8px,#50ff43 611.0px,#95ff01 661.2px,#c2ff00 711.4px,#ccff00 744.9px,#aaff00 837.0px)"></div>
<div class="s" style="top:343.7px;height:4.5px;background:linear-gradient(90deg,#001aff 0.0px,#0086ff 209.2px,#00d0ff 410.1px,#00fdff 481.3px,#00ff64 636.1px,#00fc52 665.4px,#4dff46 669.6px,#96ff00 719.8px,#caff00 778.4px,#d3ff00 837.0px)"></div>
<div class="s" style="top:347.5px;height:4.5px;background:linear-gradient(90deg,#0000fb 0.0px,#006bff 209.2px,#00b9ff 443.6px,#00fffe 552.4px,#00ff66 694.7px,#00fc52 724.0px,#4dff46 728.2px,#97ff00 778.4px,#c9ff00 837.0px)"></div>
<div class="s" style="top:351.4px;height:4.5px;background:linear-gradient(90deg,#0000e2 0.0px,#0002ff 67.0px,#0051ff 209.2px,#00a3ff 477.1px,#00c4ff 544.1px,#00fcff 615.2px,#00ff68 753.3px,#00fc52 782.6px,#4cff47 786.8px,#8cff0a 828.6px,#8cff0a 837.0px)"></div>
<div class="s" style="top:355.3px;height:4.5px;background:linear-gradient(90deg,#0000ca 0.0px,#0001ff 113.0px,#0037ff 209.2px,#009cff 544.1px,#00beff 611.0px,#00feff 686.3px,#00ff65 816.1px,#00fe5c 837.0px)"></div>
<div class="s" style="top:359.1px;height:4.5px;background:linear-gradient(90deg,#0000b4 0.0px,#0001ff 154.8px,#0042ff 309.7px,#009bff 627.8px,#00c3ff 694.7px,#00feff 757.5px,#00ffa2 828.6px,#00ffa2 837.0px)"></div>
<div class="s" style="top:363.0px;height:4.5px;background:linear-gradient(90deg,#0000a0 0.0px,#0000ff 192.5px,#004bff 410.1px,#0094ff 694.7px,#00bbff 761.7px,#00ffff 837.0px)"></div>
<div class="s" style="top:366.9px;height:4.5px;background:linear-gradient(90deg,#00008f 0.0px,#0000ff 242.7px,#0037ff 410.1px,#0087ff 744.9px,#00b2ff 837.0px)"></div>
<div class="s" style="top:370.7px;height:4.5px;background:linear-gradient(90deg,#000087 0.0px,#000089 25.1px,#0000e3 209.2px,#0000ff 297.1px,#0029ff 426.9px,#0086ff 837.0px)"></div>
<div class="s" style="top:374.6px;height:4.5px;background:linear-gradient(90deg,#000087 0.0px,#000088 50.2px,#0000d5 209.2px,#0000ff 347.4px,#006eff 837.0px)"></div>
<div class="s" style="top:378.4px;height:4.5px;background:linear-gradient(90deg,#000087 0.0px,#000088 75.3px,#0000c8 209.2px,#0000ff 397.6px,#0058ff 837.0px)"></div>
<div class="s" style="top:382.3px;height:4.5px;background:linear-gradient(90deg,#000087 0.0px,#000088 92.1px,#0000be 209.2px,#0000ff 452.0px,#0044ff 837.0px)"></div>
<div class="s" style="top:386.2px;height:4.5px;background:linear-gradient(90deg,#000087 0.0px,#000087 100.4px,#0000b7 209.2px,#0000ff 514.8px,#0032ff 837.0px)"></div>
<div class="s" style="top:390.0px;height:4.5px;background:linear-gradient(90deg,#000087 0.0px,#000088 104.6px,#0000b3 209.2px,#0000ff 569.2px,#0023ff 837.0px)"></div>
<div class="s" style="top:393.9px;height:4.5px;background:linear-gradient(90deg,#000087 0.0px,#000088 96.3px,#0000b2 209.2px,#0000ff 623.6px,#0016ff 837.0px)"></div>
<div class="s" style="top:397.8px;height:4.5px;background:linear-gradient(90deg,#000087 0.0px,#000087 71.1px,#0000b3 209.2px,#0000dc 426.9px,#0000f8 627.8px,#000bff 837.0px)"></div>
<div class="s" style="top:401.6px;height:4.5px;background:linear-gradient(90deg,#000087 0.0px,#0000d8 410.1px,#0002ff 837.0px)"></div>
<div class="s" style="top:405.5px;height:4.5px;background:linear-gradient(90deg,#000092 0.0px,#0000d9 410.1px,#0000fc 837.0px)"></div>
<div class="s" style="top:409.3px;height:4.5px;background:linear-gradient(90deg,#0000a0 0.0px,#0000db 410.1px,#0000f8 837.0px)"></div>
<div class="s" style="top:413.2px;height:4.5px;background:linear-gradient(90deg,#0000af 0.0px,#0000df 426.9px,#0000f7 837.0px)"></div>
<div class="s" style="top:417.1px;height:4.5px;background:linear-gradient(90deg,#0000bf 0.0px,#0000f8 837.0px)"></div>
<div class="s" style="top:420.9px;height:4.5px;background:linear-gradient(90deg,#0000d0 0.0px,#0000fc 837.0px)"></div>
<div class="s" style="top:424.8px;height:4.5px;background:linear-gradient(90deg,#0000e1 0.0px,#0000dc 125.5px,#0002ff 837.0px)"></div>
<div class="s" style="top:428.6px;height:4.5px;background:linear-gradient(90deg,#0000f2 0.0px,#0000e9 142.3px,#0009ff 837.0px)"></div>
<div class="s" style="top:432.5px;height:4.5px;background:linear-gradient(90deg,#0004ff 0.0px,#0000f5 410.1px,#0000ff 631.9px,#0011ff 837.0px)"></div>
<div class="s" style="top:436.4px;height:4.5px;background:linear-gradient(90deg,#0015ff 0.0px,#0002ff 175.8px,#0000ff 518.9px,#001aff 837.0px)"></div>
<div class="s" style="top:440.2px;height:4.5px;background:linear-gradient(90deg,#0025ff 0.0px,#000fff 159.0px,#0001ff 426.9px,#0024ff 837.0px)"></div>
<div class="s" style="top:444.1px;height:4.5px;background:linear-gradient(90deg,#0033ff 0.0px,#0007ff 426.9px,#002eff 837.0px)"></div>
<div class="s" style="top:448.0px;height:4.5px;background:linear-gradient(90deg,#0040ff 0.0px,#000cff 426.9px,#0037ff 837.0px)"></div>
<div class="s" style="top:451.8px;height:4.5px;background:linear-gradient(90deg,#004cff 0.0px,#0011ff 426.9px,#0040ff 837.0px)"></div>
<div class="s" style="top:455.7px;height:4.5px;background:linear-gradient(90deg,#0058ff 0.0px,#0032ff 192.5px,#0016ff 426.9px,#004aff 837.0px)"></div>
<div class="s" style="top:459.5px;height:4.5px;background:linear-gradient(90deg,#0065ff 0.0px,#0036ff 209.2px,#001cff 426.9px,#0056ff 837.0px)"></div>
<div class="s" style="top:463.4px;height:4.5px;background:linear-gradient(90deg,#0071ff 0.0px,#003cff 209.2px,#0023ff 410.1px,#003bff 627.8px,#0064ff 837.0px)"></div>
<div class="s" style="top:467.3px;height:4.5px;background:linear-gradient(90deg,#007dff 0.0px,#0043ff 209.2px,#0029ff 410.1px,#0045ff 627.8px,#0071ff 837.0px)"></div>
<div class="s" style="top:471.1px;height:4.5px;background:linear-gradient(90deg,#0088ff 0.0px,#004aff 209.2px,#0030ff 410.1px,#004fff 627.8px,#007eff 837.0px)"></div>
<div class="s" style="top:475.0px;height:4.5px;background:linear-gradient(90deg,#0091ff 0.0px,#004fff 209.2px,#0036ff 410.1px,#0089ff 837.0px)"></div>
<div class="s" style="top:478.8px;height:4.5px;background:linear-gradient(90deg,#0097ff 0.0px,#0054ff 209.2px,#003cff 410.1px,#0090ff 837.0px)"></div>
<div class="s" style="top:482.7px;height:4.5px;background:linear-gradient(90deg,#009bff 0.0px,#0058ff 209.2px,#0042ff 410.1px,#0094ff 837.0px)"></div>
<div class="s" style="top:486.6px;height:4.5px;background:linear-gradient(90deg,#009bff 0.0px,#005aff 209.2px,#0046ff 410.1px,#0094ff 837.0px)"></div>
<div class="s" style="top:490.4px;height:4.5px;background:linear-gradient(90deg,#009bff 0.0px,#005aff 209.2px,#004aff 410.1px,#0093ff 837.0px)"></div>
<div class="s" style="top:494.3px;height:4.5px;background:linear-gradient(90deg,#0099ff 0.0px,#0059ff 209.2px,#004cff 410.1px,#0091ff 837.0px)"></div>
<div class="s" style="top:498.2px;height:4.5px;background:linear-gradient(90deg,#0098ff 0.0px,#0057ff 209.2px,#004dff 410.1px,#008eff 837.0px)"></div>
<div class="s" style="top:502.0px;height:4.5px;background:linear-gradient(90deg,#0095ff 0.0px,#0055ff 209.2px,#004cff 410.1px,#008aff 837.0px)"></div>
<div class="s" style="top:505.9px;height:4.5px;background:linear-gradient(90deg,#0093ff 0.0px,#0052ff 209.2px,#004cff 410.1px,#0086ff 837.0px)"></div>
<div class="s" style="top:509.7px;height:4.5px;background:linear-gradient(90deg,#0090ff 0.0px,#004fff 209.2px,#004aff 410.1px,#0082ff 837.0px)"></div>
<div class="s" style="top:513.6px;height:4.5px;background:linear-gradient(90deg,#008eff 0.0px,#004cff 209.2px,#004aff 426.9px,#007eff 837.0px)"></div>
<div class="s" style="top:517.5px;height:4.5px;background:linear-gradient(90deg,#008bff 0.0px,#0049ff 209.2px,#0048ff 426.9px,#007aff 837.0px)"></div>
<div class="s" style="top:521.3px;height:4.5px;background:linear-gradient(90deg,#0089ff 0.0px,#0047ff 209.2px,#0047ff 426.9px,#0077ff 837.0px)"></div>
<div class="s" style="top:525.2px;height:4.5px;background:linear-gradient(90deg,#0087ff 0.0px,#0044ff 209.2px,#0045ff 426.9px,#0074ff 837.0px)"></div>
<div class="s" style="top:529.0px;height:4.5px;background:linear-gradient(90deg,#0085ff 0.0px,#0043ff 209.2px,#0044ff 426.9px,#0072ff 837.0px)"></div>
<div class="s" style="top:532.9px;height:4.5px;background:linear-gradient(90deg,#0084ff 0.0px,#0042ff 209.2px,#0043ff 426.9px,#0071ff 837.0px)"></div>
<div class="s" style="top:536.8px;height:4.5px;background:linear-gradient(90deg,#0083ff 0.0px,#0043ff 226.0px,#0042ff 426.9px,#0071ff 837.0px)"></div>
<div class="s" style="top:540.6px;height:4.5px;background:linear-gradient(90deg,#0086ff 0.0px,#004dff 209.2px,#0043ff 410.1px,#0074ff 837.0px)"></div>
<div class="s" style="top:544.5px;height:4.5px;background:linear-gradient(90deg,#0092ff 0.0px,#005eff 209.2px,#004cff 410.1px,#007aff 837.0px)"></div>
<div class="s" style="top:548.4px;height:4.5px;background:linear-gradient(90deg,#00a7ff 0.0px,#0077ff 209.2px,#005cff 410.1px,#0082ff 837.0px)"></div>
<div class="s" style="top:552.2px;height:4.5px;background:linear-gradient(90deg,#00c2ff 0.0px,#0071ff 410.1px,#008cff 837.0px)"></div>
<div class="s" style="top:556.1px;height:4.5px;background:linear-gradient(90deg,#00e3ff 0.0px,#008cff 410.1px,#0097ff 837.0px)"></div>
<div class="s" style="top:559.9px;height:4.5px;background:linear-gradient(90deg,#00ffe4 0.0px,#00feff 79.5px,#00aaff 410.1px,#00a4ff 837.0px)"></div>
<div class="s" style="top:563.8px;height:4.5px;background:linear-gradient(90deg,#00ff8b 0.0px,#00ffff 251.1px,#00caff 426.9px,#00c9ff 627.8px,#00b1ff 837.0px)"></div>
<div class="s" style="top:567.7px;height:4.5px;background:linear-gradient(90deg,#71ff23 0.0px,#4dff46 58.6px,#00fc51 62.8px,#00fffc 426.9px,#00ebff 627.8px,#00c1ff 837.0px)"></div>
<div class="s" style="top:571.5px;height:4.5px;background:linear-gradient(90deg,#daff00 0.0px,#96ff00 142.3px,#4eff45 246.9px,#00fc50 251.1px,#00ffcc 527.3px,#00ffff 715.6px,#00dbff 837.0px)"></div>
<div class="s" style="top:575.4px;height:4.5px;background:linear-gradient(90deg,#ffee00 0.0px,#feff00 96.3px,#d9ff00 209.2px,#95ff01 301.3px,#4bff48 410.1px,#00fc51 414.3px,#00fbff 837.0px)"></div>
<div class="s" style="top:579.2px;height:4.5px;background:linear-gradient(90deg,#ffd300 0.0px,#ffff00 238.5px,#97ff00 414.3px,#4eff45 523.1px,#47ff48 527.3px,#00fc51 531.5px,#00ff94 711.4px,#00ffb1 744.9px,#00ffe0 837.0px)"></div>
<div class="s" style="top:583.1px;height:4.5px;background:linear-gradient(90deg,#ffbb00 0.0px,#ffe600 209.2px,#fffe00 276.2px,#97ff00 506.4px,#4eff45 631.9px,#42ff49 636.1px,#00fc51 640.3px,#00ff67 711.4px,#00ff89 744.9px,#00ffc3 837.0px)"></div>
<div class="s" style="top:587.0px;height:4.5px;background:linear-gradient(90deg,#ffa500 0.0px,#ffff00 322.2px,#95ff01 602.6px,#4dff46 694.7px,#00fc50 698.9px,#00ff8d 795.1px,#00ffb3 837.0px)"></div>
<div class="s" style="top:590.8px;height:4.5px;background:linear-gradient(90deg,#ff9100 0.0px,#feff00 368.3px,#afff00 627.8px,#98ff00 648.7px,#50ff43 715.6px,#00fc51 719.8px,#00ffb0 837.0px)"></div>
<div class="s" style="top:594.7px;height:4.5px;background:linear-gradient(90deg,#ff7e00 0.0px,#ffa100 108.8px,#ffd300 209.2px,#ffff00 397.6px,#cfff00 627.8px,#97ff00 669.6px,#4fff44 724.0px,#00fc51 728.2px,#00ffaf 837.0px)"></div>
<div class="s" style="top:598.6px;height:4.5px;background:linear-gradient(90deg,#ff6d00 0.0px,#ff9700 108.8px,#ffd300 209.2px,#ffff00 393.4px,#e3ff00 627.8px,#98ff00 682.2px,#4fff44 732.4px,#00fc50 736.6px,#00ffae 837.0px)"></div>
<div class="s" style="top:602.4px;height:4.5px;background:linear-gradient(90deg,#ff5f00 0.0px,#ff8e00 108.8px,#ffda00 209.2px,#ffff00 347.4px,#e0ff00 426.9px,#d9ff00 627.8px,#97ff00 690.5px,#4fff44 740.7px,#00fc50 744.9px,#00ff7f 795.1px,#00ffad 828.6px,#00ffad 837.0px)"></div>
<div class="s" style="top:606.3px;height:4.5px;background:linear-gradient(90deg,#ff5200 0.0px,#ff8900 108.8px,#ffe600 209.2px,#fffe00 292.9px,#bbff00 426.9px,#9dff00 627.8px,#a4ff00 661.2px,#96ff00 686.3px,#50ff43 744.9px,#00fc51 749.1px,#00ff7d 795.1px,#00ffad 828.6px,#00ffad 837.0px)"></div>
<div class="s" style="top:610.1px;height:4.5px;background:linear-gradient(90deg,#ff4700 0.0px,#ff8700 108.8px,#fff700 209.2px,#ffff00 234.4px,#b5ff00 376.7px,#97ff00 410.1px,#4cff47 623.6px,#00fc50 627.8px,#4eff45 631.9px,#66ff2e 661.2px,#6eff27 694.7px,#4fff45 744.9px,#00fc52 749.1px,#00ff7c 795.1px,#00ffac 828.6px,#00ffac 837.0px)"></div>
<div class="s" style="top:614.0px;height:4.5px;background:linear-gradient(90deg,#ff3f00 0.0px,#ff7a00 92.1px,#fdff00 200.9px,#95ff01 364.1px,#59ff3b 426.9px,#4cff47 464.5px,#00fc50 468.7px,#00ff66 627.8px,#00fd58 744.9px,#00ff7d 795.1px,#00ffac 828.6px,#00ffac 837.0px)"></div>
<div class="s" style="top:617.9px;height:4.5px;background:linear-gradient(90deg,#ff3900 0.0px,#ff6e00 75.3px,#fbff00 184.1px,#d6ff00 209.2px,#96ff00 305.5px,#66ff2e 376.7px,#4bff48 397.6px,#00fc52 401.8px,#00ff70 594.3px,#00ff6a 744.9px,#00ff85 795.1px,#00ffad 837.0px)"></div>
<div class="s" style="top:621.7px;height:4.5px;background:linear-gradient(90deg,#ff3600 0.0px,#ff6400 58.6px,#ffff00 163.2px,#bbff00 209.2px,#96ff00 263.7px,#4cff47 364.1px,#00fc51 368.3px,#00ff6e 426.9px,#00ff80 744.9px,#00ffaf 837.0px)"></div>
<div class="s" style="top:625.6px;height:4.5px;background:linear-gradient(90deg,#ff3500 0.0px,#ff5c00 41.9px,#fbff00 146.5px,#b5ff00 192.5px,#94ff01 226.0px,#4dff46 313.9px,#00fc50 318.1px,#00fe60 376.7px,#00ff7f 426.9px,#00ff79 694.7px,#00ffb2 837.0px)"></div>
<div class="s" style="top:629.5px;height:4.5px;background:linear-gradient(90deg,#ff3e00 0.0px,#ff3e00 8.4px,#ff5700 25.1px,#fffc00 121.4px,#98ff00 192.5px,#7fff16 209.2px,#4eff45 272.0px,#00fc50 276.2px,#00ff8d 426.9px,#00ff7b 711.4px,#00ffb5 837.0px)"></div>
<div class="s" style="top:633.3px;height:4.5px;background:linear-gradient(90deg,#ff5400 0.0px,#ff5400 8.4px,#fffc00 100.4px,#99ff00 167.4px,#59ff3a 209.2px,#4dff46 226.0px,#00fc50 230.2px,#00ff9a 426.9px,#00ff79 711.4px,#00ff81 761.7px,#00ffb2 837.0px)"></div>
<div class="s" style="top:637.2px;height:4.5px;background:linear-gradient(90deg,#ff7600 0.0px,#ff7600 8.4px,#faff00 83.7px,#98ff00 142.3px,#50ff43 188.3px,#00fc50 192.5px,#00ffa6 410.1px,#00ff72 761.7px,#00ff94 837.0px)"></div>
<div class="s" style="top:641.0px;height:4.5px;background:linear-gradient(90deg,#ffa000 0.0px,#ffa000 8.4px,#fffe00 58.6px,#94ff02 117.2px,#50ff43 159.0px,#00fc51 163.2px,#00ff7d 226.0px,#00ffb5 410.1px,#00ff93 627.8px,#00fe5f 778.4px,#00ff64 837.0px)"></div>
<div class="s" style="top:644.9px;height:4.5px;background:linear-gradient(90deg,#ffcf00 0.0px,#ffcf00 8.4px,#fffe00 33.5px,#9aff00 83.7px,#4dff46 129.7px,#00fc52 133.9px,#00ff95 209.2px,#00ffc6 410.1px,#00ff99 627.8px,#00fc50 799.3px,#4cff47 803.5px,#55ff3e 837.0px)"></div>
<div class="s" style="top:648.8px;height:4.5px;background:linear-gradient(90deg,#f7ff00 0.0px,#f7ff00 8.4px,#97ff00 50.2px,#4eff45 92.1px,#00fc51 96.3px,#00ffb2 209.2px,#00ffd9 410.1px,#00ffa2 627.8px,#00fc50 786.8px,#4dff46 791.0px,#5dff37 837.0px)"></div>
<div class="s" style="top:652.6px;height:4.5px;background:linear-gradient(90deg,#8fff06 0.0px,#8fff06 8.4px,#4dff46 41.9px,#00fc52 46.0px,#00ffce 209.2px,#00ffeb 376.7px,#00ffec 426.9px,#00ffaf 627.8px,#00ff8b 678.0px,#00fe5d 778.4px,#00fd56 837.0px)"></div>
<div class="s" style="top:656.5px;height:4.5px;background:linear-gradient(90deg,#00ff69 0.0px,#00ffe9 209.2px,#00ffff 359.9px,#00ffff 435.2px,#00ffea 510.6px,#00ffc6 627.8px,#00ffa4 678.0px,#00ff7d 778.4px,#00ff76 837.0px)"></div>
<div class="s" style="top:660.3px;height:4.5px;background:linear-gradient(90deg,#00ffb3 0.0px,#00ffd2 108.8px,#00feff 200.9px,#00e7ff 410.1px,#00feff 531.5px,#00ffe5 627.8px,#00ffc3 694.7px,#00ffab 837.0px)"></div>
<div class="s" style="top:664.2px;height:4.5px;background:linear-gradient(90deg,#00fffa 0.0px,#00ffff 100.4px,#00e2ff 209.2px,#00d2ff 410.1px,#00fffe 652.9px,#00ffe4 778.4px,#00ffe4 837.0px)"></div>
<div class="s" style="top:668.1px;height:4.5px;background:linear-gradient(90deg,#00caff 0.0px,#00d4ff 108.8px,#00bfff 426.9px,#00e1ff 694.7px,#00e4ff 837.0px)"></div>
<div class="s" style="top:671.9px;height:4.5px;background:linear-gradient(90deg,#009dff 0.0px,#00b2ff 175.8px,#00abff 426.9px,#00b7ff 837.0px)"></div>
<div class="s" style="top:675.8px;height:4.5px;background:linear-gradient(90deg,#007eff 0.0px,#009cff 209.2px,#0097ff 837.0px)"></div>
<div class="s" style="top:679.7px;height:4.5px;background:linear-gradient(90deg,#0064ff 0.0px,#0086ff 209.2px,#0089ff 837.0px)"></div>
<div class="s" style="top:683.5px;height:4.5px;background:linear-gradient(90deg,#004eff 0.0px,#0071ff 209.2px,#0084ff 837.0px)"></div>
<div class="s" style="top:687.4px;height:4.5px;background:linear-gradient(90deg,#003dff 0.0px,#005eff 209.2px,#0080ff 837.0px)"></div>
<div class="s" style="top:691.2px;height:4.5px;background:linear-gradient(90deg,#0034ff 0.0px,#007dff 837.0px)"></div>
</div>
<div style="position:absolute;left:2285.3px;top:953.5px;width:35.0px;height:695.1px;background:linear-gradient(180deg,#960000 0.0px,#ff0000 69.7px,#fffe00 240.4px,#fdff00 242.2px,#97ff00 294.4px,#4cff47 327.5px,#00fc51 329.3px,#00ff65 348.4px,#00fffe 440.8px,#00fdff 442.5px,#0000ff 608.0px,#000087 695.1px)"></div>
<svg width="2437" height="2655" viewBox="0 0 2437 2655">
<line x1="495.1" y1="59.0" x2="495.1" y2="754.4" stroke="#ff0000" stroke-width="6.2"/>
<line x1="628.9" y1="59.0" x2="628.9" y2="754.4" stroke="#ff0000" stroke-width="6.2"/>
<path d="M143.8 222.9 L150.5 244.7 L157.2 265.5 L163.9 285.4 L170.6 304.6 L177.3 323.4 L183.9 341.2 L190.6 356.9 L197.3 370.6 L204.0 383.1 L210.7 393.9 L217.4 402.5 L224.1 409.4 L230.8 414.9 L237.5 419.3 L244.2 423.1 L250.9 426.4 L257.6 429.6 L264.2 432.8 L270.9 436.1 L277.6 439.3 L284.3 442.4 L291.0 445.4 L297.7 448.4 L304.4 451.2 L311.1 453.9 L317.8 456.5 L324.5 459.4 L331.2 462.7 L337.8 466.5 L344.5 470.8 L351.2 475.5 L357.9 480.5 L364.6 485.7 L371.3 491.3 L378.0 497.4 L384.7 503.8 L391.4 510.4 L398.1 517.1 L404.8 524.4 L411.4 532.2 L418.1 539.8 L424.8 546.8 L431.5 552.6 L438.2 557.9 L444.9 562.7 L451.6 567.0 L458.3 570.8 L465.0 573.9 L471.7 577.0 L478.4 579.7 L485.1 582.0 L491.7 583.6 L498.4 584.3 L505.1 584.7 L511.8 584.9 L518.5 585.2 L525.2 585.5 L531.9 586.1 L538.6 587.1 L545.3 588.5 L552.0 590.1 L558.7 591.8 L565.3 593.6 L572.0 595.7 L578.7 598.0 L585.4 600.6 L592.1 603.4 L598.8 606.5 L605.5 610.1 L612.2 614.2 L618.9 618.5 L625.6 622.9 L632.3 627.4 L638.9 632.2 L645.6 637.1 L652.3 642.0 L659.0 646.6 L665.7 651.0 L672.4 655.3 L679.1 659.5 L685.8 663.6 L692.5 667.5 L699.2 671.2 L705.9 674.8 L712.6 678.3 L719.2 681.7 L725.9 684.9 L732.6 687.9 L739.3 691.0 L746.0 693.8 L752.7 696.4 L759.4 698.8 L766.1 700.8 L772.8 702.7 L779.5 704.5 L786.2 706.1 L792.8 707.5 L799.5 708.7 L806.2 709.9 L812.9 710.9 L819.6 711.9 L826.3 712.7 L833.0 713.4 L839.7 714.1 L846.4 714.7 L853.1 715.2 L859.8 715.5 L866.4 715.9 L873.1 716.2 L879.8 716.5 L886.5 716.7 L893.2 716.7 L899.9 716.6 L906.6 716.5 L913.3 716.4 L920.0 716.2 L926.7 716.1 L933.4 715.8 L940.1 715.4 L946.7 715.0 L953.4 714.6 L960.1 714.2 L966.8 713.7 L973.5 713.2 L980.2 712.7" fill="none" stroke="#000" stroke-width="2.1" stroke-dasharray="11.5 5.4"/>
<rect x="143.8" y="59.0" width="836.4" height="695.4" fill="none" stroke="#000" stroke-width="1.5"/>
<line x1="143.8" y1="754.4" x2="143.8" y2="759.9" stroke="#000" stroke-width="1.5"/>
<text x="143.8" y="788.7" font-size="31.3" text-anchor="middle">0</text>
<line x1="311.1" y1="754.4" x2="311.1" y2="759.9" stroke="#000" stroke-width="1.5"/>
<text x="311.1" y="788.7" font-size="31.3" text-anchor="middle">5</text>
<line x1="478.4" y1="754.4" x2="478.4" y2="759.9" stroke="#000" stroke-width="1.5"/>
<text x="478.4" y="788.7" font-size="31.3" text-anchor="middle">10</text>
<line x1="645.6" y1="754.4" x2="645.6" y2="759.9" stroke="#000" stroke-width="1.5"/>
<text x="645.6" y="788.7" font-size="31.3" text-anchor="middle">15</text>
<line x1="812.9" y1="754.4" x2="812.9" y2="759.9" stroke="#000" stroke-width="1.5"/>
<text x="812.9" y="788.7" font-size="31.3" text-anchor="middle">20</text>
<line x1="980.2" y1="754.4" x2="980.2" y2="759.9" stroke="#000" stroke-width="1.5"/>
<text x="980.2" y="788.7" font-size="31.3" text-anchor="middle">25</text>
<line x1="138.3" y1="59.0" x2="143.8" y2="59.0" stroke="#000" stroke-width="1.5"/>
<text x="132.2" y="70.8" font-size="31.3" text-anchor="end">4.0</text>
<line x1="138.3" y1="232.8" x2="143.8" y2="232.8" stroke="#000" stroke-width="1.5"/>
<text x="132.2" y="244.7" font-size="31.3" text-anchor="end">5.0</text>
<line x1="138.3" y1="406.7" x2="143.8" y2="406.7" stroke="#000" stroke-width="1.5"/>
<text x="132.2" y="418.5" font-size="31.3" text-anchor="end">6.0</text>
<line x1="138.3" y1="580.5" x2="143.8" y2="580.5" stroke="#000" stroke-width="1.5"/>
<text x="132.2" y="592.3" font-size="31.3" text-anchor="end">7.0</text>
<line x1="138.3" y1="754.4" x2="143.8" y2="754.4" stroke="#000" stroke-width="1.5"/>
<text x="132.2" y="766.2" font-size="31.3" text-anchor="end">8.0</text>
<text x="562.0" y="834.9" font-size="44.0" text-anchor="middle">t(s)</text>
<text x="67.4" y="407.7" font-size="44.0" text-anchor="middle" transform="rotate(-90 67.4 407.7)">Vp(km/s)</text>
<text x="562.0" y="49.3" font-size="44.0" text-anchor="middle">S023</text>
<rect x="1032.3" y="59.0" width="35.3" height="695.4" fill="none" stroke="#000" stroke-width="1.5"/>
<line x1="1067.6" y1="754.4" x2="1073.1" y2="754.4" stroke="#000" stroke-width="1.5"/>
<text x="1078.9" y="766.0" font-size="31.3" text-anchor="start">−0.15</text>
<line x1="1067.6" y1="638.5" x2="1073.1" y2="638.5" stroke="#000" stroke-width="1.5"/>
<text x="1078.9" y="650.1" font-size="31.3" text-anchor="start">−0.10</text>
<line x1="1067.6" y1="522.6" x2="1073.1" y2="522.6" stroke="#000" stroke-width="1.5"/>
<text x="1078.9" y="534.2" font-size="31.3" text-anchor="start">−0.05</text>
<line x1="1067.6" y1="406.7" x2="1073.1" y2="406.7" stroke="#000" stroke-width="1.5"/>
<text x="1078.9" y="418.3" font-size="31.3" text-anchor="start">0.00</text>
<line x1="1067.6" y1="290.8" x2="1073.1" y2="290.8" stroke="#000" stroke-width="1.5"/>
<text x="1078.9" y="302.4" font-size="31.3" text-anchor="start">0.05</text>
<line x1="1067.6" y1="174.9" x2="1073.1" y2="174.9" stroke="#000" stroke-width="1.5"/>
<text x="1078.9" y="186.5" font-size="31.3" text-anchor="start">0.10</text>
<line x1="1067.6" y1="59.0" x2="1073.1" y2="59.0" stroke="#000" stroke-width="1.5"/>
<text x="1078.9" y="70.6" font-size="31.3" text-anchor="start">0.15</text>
<line x1="1747.5" y1="59.0" x2="1747.5" y2="754.4" stroke="#ff0000" stroke-width="6.2"/>
<line x1="1881.5" y1="59.0" x2="1881.5" y2="754.4" stroke="#ff0000" stroke-width="6.2"/>
<path d="M1396.0 222.9 L1402.7 244.7 L1409.4 265.5 L1416.1 285.4 L1422.8 304.6 L1429.5 323.4 L1436.2 341.2 L1442.9 356.9 L1449.6 370.6 L1456.3 383.1 L1463.0 393.9 L1469.7 402.5 L1476.4 409.4 L1483.0 414.9 L1489.7 419.3 L1496.4 423.1 L1503.1 426.4 L1509.8 429.6 L1516.5 432.8 L1523.2 436.1 L1529.9 439.3 L1536.6 442.4 L1543.3 445.4 L1550.0 448.4 L1556.7 451.2 L1563.4 453.9 L1570.1 456.5 L1576.8 459.4 L1583.5 462.7 L1590.2 466.5 L1596.9 470.8 L1603.6 475.5 L1610.3 480.5 L1617.0 485.7 L1623.7 491.3 L1630.4 497.4 L1637.1 503.8 L1643.8 510.4 L1650.4 517.1 L1657.1 524.4 L1663.8 532.2 L1670.5 539.8 L1677.2 546.8 L1683.9 552.6 L1690.6 557.9 L1697.3 562.7 L1704.0 567.0 L1710.7 570.8 L1717.4 573.9 L1724.1 577.0 L1730.8 579.7 L1737.5 582.0 L1744.2 583.6 L1750.9 584.3 L1757.6 584.7 L1764.3 584.9 L1771.0 585.2 L1777.7 585.5 L1784.4 586.1 L1791.1 587.1 L1797.8 588.5 L1804.5 590.1 L1811.2 591.8 L1817.8 593.6 L1824.5 595.7 L1831.2 598.0 L1837.9 600.6 L1844.6 603.4 L1851.3 606.5 L1858.0 610.1 L1864.7 614.2 L1871.4 618.5 L1878.1 622.9 L1884.8 627.4 L1891.5 632.2 L1898.2 637.1 L1904.9 642.0 L1911.6 646.6 L1918.3 651.0 L1925.0 655.3 L1931.7 659.5 L1938.4 663.6 L1945.1 667.5 L1951.8 671.2 L1958.5 674.8 L1965.2 678.3 L1971.9 681.7 L1978.6 684.9 L1985.2 687.9 L1991.9 691.0 L1998.6 693.8 L2005.3 696.4 L2012.0 698.8 L2018.7 700.8 L2025.4 702.7 L2032.1 704.5 L2038.8 706.1 L2045.5 707.5 L2052.2 708.7 L2058.9 709.9 L2065.6 710.9 L2072.3 711.9 L2079.0 712.7 L2085.7 713.4 L2092.4 714.1 L2099.1 714.7 L2105.8 715.2 L2112.5 715.5 L2119.2 715.9 L2125.9 716.2 L2132.6 716.5 L2139.3 716.7 L2146.0 716.7 L2152.6 716.6 L2159.3 716.5 L2166.0 716.4 L2172.7 716.2 L2179.4 716.1 L2186.1 715.8 L2192.8 715.4 L2199.5 715.0 L2206.2 714.6 L2212.9 714.2 L2219.6 713.7 L2226.3 713.2 L2233.0 712.7" fill="none" stroke="#000" stroke-width="2.1" stroke-dasharray="11.5 5.4"/>
<rect x="1396.0" y="59.0" width="837.0" height="695.4" fill="none" stroke="#000" stroke-width="1.5"/>
<line x1="1396.0" y1="754.4" x2="1396.0" y2="759.9" stroke="#000" stroke-width="1.5"/>
<text x="1396.0" y="788.7" font-size="31.3" text-anchor="middle">0</text>
<line x1="1563.4" y1="754.4" x2="1563.4" y2="759.9" stroke="#000" stroke-width="1.5"/>
<text x="1563.4" y="788.7" font-size="31.3" text-anchor="middle">5</text>
<line x1="1730.8" y1="754.4" x2="1730.8" y2="759.9" stroke="#000" stroke-width="1.5"/>
<text x="1730.8" y="788.7" font-size="31.3" text-anchor="middle">10</text>
<line x1="1898.2" y1="754.4" x2="1898.2" y2="759.9" stroke="#000" stroke-width="1.5"/>
<text x="1898.2" y="788.7" font-size="31.3" text-anchor="middle">15</text>
<line x1="2065.6" y1="754.4" x2="2065.6" y2="759.9" stroke="#000" stroke-width="1.5"/>
<text x="2065.6" y="788.7" font-size="31.3" text-anchor="middle">20</text>
<line x1="2233.0" y1="754.4" x2="2233.0" y2="759.9" stroke="#000" stroke-width="1.5"/>
<text x="2233.0" y="788.7" font-size="31.3" text-anchor="middle">25</text>
<line x1="1390.5" y1="59.0" x2="1396.0" y2="59.0" stroke="#000" stroke-width="1.5"/>
<text x="1384.4" y="70.8" font-size="31.3" text-anchor="end">4.0</text>
<line x1="1390.5" y1="232.8" x2="1396.0" y2="232.8" stroke="#000" stroke-width="1.5"/>
<text x="1384.4" y="244.7" font-size="31.3" text-anchor="end">5.0</text>
<line x1="1390.5" y1="406.7" x2="1396.0" y2="406.7" stroke="#000" stroke-width="1.5"/>
<text x="1384.4" y="418.5" font-size="31.3" text-anchor="end">6.0</text>
<line x1="1390.5" y1="580.5" x2="1396.0" y2="580.5" stroke="#000" stroke-width="1.5"/>
<text x="1384.4" y="592.3" font-size="31.3" text-anchor="end">7.0</text>
<line x1="1390.5" y1="754.4" x2="1396.0" y2="754.4" stroke="#000" stroke-width="1.5"/>
<text x="1384.4" y="766.2" font-size="31.3" text-anchor="end">8.0</text>
<text x="1814.5" y="834.9" font-size="44.0" text-anchor="middle">t(s)</text>
<text x="1319.6" y="407.7" font-size="44.0" text-anchor="middle" transform="rotate(-90 1319.6 407.7)">Vp(km/s)</text>
<text x="1814.5" y="49.3" font-size="44.0" text-anchor="middle">S097</text>
<rect x="2285.3" y="59.0" width="35.0" height="695.4" fill="none" stroke="#000" stroke-width="1.5"/>
<line x1="2320.3" y1="754.4" x2="2325.8" y2="754.4" stroke="#000" stroke-width="1.5"/>
<text x="2331.6" y="766.0" font-size="31.3" text-anchor="start">−0.15</text>
<line x1="2320.3" y1="638.5" x2="2325.8" y2="638.5" stroke="#000" stroke-width="1.5"/>
<text x="2331.6" y="650.1" font-size="31.3" text-anchor="start">−0.10</text>
<line x1="2320.3" y1="522.6" x2="2325.8" y2="522.6" stroke="#000" stroke-width="1.5"/>
<text x="2331.6" y="534.2" font-size="31.3" text-anchor="start">−0.05</text>
<line x1="2320.3" y1="406.7" x2="2325.8" y2="406.7" stroke="#000" stroke-width="1.5"/>
<text x="2331.6" y="418.3" font-size="31.3" text-anchor="start">0.00</text>
<line x1="2320.3" y1="290.8" x2="2325.8" y2="290.8" stroke="#000" stroke-width="1.5"/>
<text x="2331.6" y="302.4" font-size="31.3" text-anchor="start">0.05</text>
<line x1="2320.3" y1="174.9" x2="2325.8" y2="174.9" stroke="#000" stroke-width="1.5"/>
<text x="2331.6" y="186.5" font-size="31.3" text-anchor="start">0.10</text>
<line x1="2320.3" y1="59.0" x2="2325.8" y2="59.0" stroke="#000" stroke-width="1.5"/>
<text x="2331.6" y="70.6" font-size="31.3" text-anchor="start">0.15</text>
<line x1="495.1" y1="1851.6" x2="495.1" y2="2547.1" stroke="#ff0000" stroke-width="6.2"/>
<line x1="628.9" y1="1851.6" x2="628.9" y2="2547.1" stroke="#ff0000" stroke-width="6.2"/>
<path d="M143.8 2015.6 L150.5 2037.3 L157.2 2058.2 L163.9 2078.0 L170.6 2097.2 L177.3 2116.1 L183.9 2133.8 L190.6 2149.6 L197.3 2163.3 L204.0 2175.8 L210.7 2186.6 L217.4 2195.1 L224.1 2202.0 L230.8 2207.6 L237.5 2212.0 L244.2 2215.7 L250.9 2219.1 L257.6 2222.2 L264.2 2225.4 L270.9 2228.7 L277.6 2231.9 L284.3 2235.0 L291.0 2238.1 L297.7 2241.1 L304.4 2243.9 L311.1 2246.5 L317.8 2249.2 L324.5 2252.1 L331.2 2255.3 L337.8 2259.2 L344.5 2263.5 L351.2 2268.2 L357.9 2273.2 L364.6 2278.4 L371.3 2284.0 L378.0 2290.1 L384.7 2296.4 L391.4 2303.0 L398.1 2309.7 L404.8 2317.1 L411.4 2324.8 L418.1 2332.5 L424.8 2339.5 L431.5 2345.3 L438.2 2350.5 L444.9 2355.4 L451.6 2359.7 L458.3 2363.5 L465.0 2366.6 L471.7 2369.6 L478.4 2372.4 L485.1 2374.7 L491.7 2376.3 L498.4 2377.0 L505.1 2377.3 L511.8 2377.6 L518.5 2377.8 L525.2 2378.2 L531.9 2378.8 L538.6 2379.8 L545.3 2381.2 L552.0 2382.8 L558.7 2384.5 L565.3 2386.3 L572.0 2388.4 L578.7 2390.7 L585.4 2393.3 L592.1 2396.1 L598.8 2399.2 L605.5 2402.8 L612.2 2406.9 L618.9 2411.2 L625.6 2415.6 L632.3 2420.1 L638.9 2424.9 L645.6 2429.8 L652.3 2434.7 L659.0 2439.3 L665.7 2443.7 L672.4 2448.0 L679.1 2452.2 L685.8 2456.3 L692.5 2460.2 L699.2 2463.9 L705.9 2467.5 L712.6 2471.0 L719.2 2474.4 L725.9 2477.5 L732.6 2480.6 L739.3 2483.6 L746.0 2486.5 L752.7 2489.1 L759.4 2491.5 L766.1 2493.5 L772.8 2495.4 L779.5 2497.2 L786.2 2498.8 L792.8 2500.2 L799.5 2501.4 L806.2 2502.6 L812.9 2503.6 L819.6 2504.6 L826.3 2505.4 L833.0 2506.1 L839.7 2506.8 L846.4 2507.4 L853.1 2507.9 L859.8 2508.2 L866.4 2508.6 L873.1 2508.9 L879.8 2509.2 L886.5 2509.3 L893.2 2509.4 L899.9 2509.3 L906.6 2509.2 L913.3 2509.1 L920.0 2508.9 L926.7 2508.8 L933.4 2508.5 L940.1 2508.1 L946.7 2507.7 L953.4 2507.3 L960.1 2506.9 L966.8 2506.4 L973.5 2505.9 L980.2 2505.4" fill="none" stroke="#000" stroke-width="2.1" stroke-dasharray="11.5 5.4"/>
<rect x="143.8" y="1851.6" width="836.4" height="695.5" fill="none" stroke="#000" stroke-width="1.5"/>
<line x1="143.8" y1="2547.1" x2="143.8" y2="2552.6" stroke="#000" stroke-width="1.5"/>
<text x="143.8" y="2581.4" font-size="31.3" text-anchor="middle">0</text>
<line x1="311.1" y1="2547.1" x2="311.1" y2="2552.6" stroke="#000" stroke-width="1.5"/>
<text x="311.1" y="2581.4" font-size="31.3" text-anchor="middle">5</text>
<line x1="478.4" y1="2547.1" x2="478.4" y2="2552.6" stroke="#000" stroke-width="1.5"/>
<text x="478.4" y="2581.4" font-size="31.3" text-anchor="middle">10</text>
<line x1="645.6" y1="2547.1" x2="645.6" y2="2552.6" stroke="#000" stroke-width="1.5"/>
<text x="645.6" y="2581.4" font-size="31.3" text-anchor="middle">15</text>
<line x1="812.9" y1="2547.1" x2="812.9" y2="2552.6" stroke="#000" stroke-width="1.5"/>
<text x="812.9" y="2581.4" font-size="31.3" text-anchor="middle">20</text>
<line x1="980.2" y1="2547.1" x2="980.2" y2="2552.6" stroke="#000" stroke-width="1.5"/>
<text x="980.2" y="2581.4" font-size="31.3" text-anchor="middle">25</text>
<line x1="138.3" y1="1851.6" x2="143.8" y2="1851.6" stroke="#000" stroke-width="1.5"/>
<text x="132.2" y="1863.4" font-size="31.3" text-anchor="end">4.0</text>
<line x1="138.3" y1="2025.5" x2="143.8" y2="2025.5" stroke="#000" stroke-width="1.5"/>
<text x="132.2" y="2037.3" font-size="31.3" text-anchor="end">5.0</text>
<line x1="138.3" y1="2199.3" x2="143.8" y2="2199.3" stroke="#000" stroke-width="1.5"/>
<text x="132.2" y="2211.2" font-size="31.3" text-anchor="end">6.0</text>
<line x1="138.3" y1="2373.2" x2="143.8" y2="2373.2" stroke="#000" stroke-width="1.5"/>
<text x="132.2" y="2385.0" font-size="31.3" text-anchor="end">7.0</text>
<line x1="138.3" y1="2547.1" x2="143.8" y2="2547.1" stroke="#000" stroke-width="1.5"/>
<text x="132.2" y="2558.9" font-size="31.3" text-anchor="end">8.0</text>
<text x="562.0" y="2627.6" font-size="44.0" text-anchor="middle">t(s)</text>
<text x="67.4" y="2200.3" font-size="44.0" text-anchor="middle" transform="rotate(-90 67.4 2200.3)">Vp(km/s)</text>
<text x="562.0" y="1841.9" font-size="44.0" text-anchor="middle">S023</text>
<rect x="1032.3" y="1851.6" width="35.3" height="695.5" fill="none" stroke="#000" stroke-width="1.5"/>
<line x1="1067.6" y1="2547.1" x2="1073.1" y2="2547.1" stroke="#000" stroke-width="1.5"/>
<text x="1078.9" y="2558.7" font-size="31.3" text-anchor="start">−0.15</text>
<line x1="1067.6" y1="2431.2" x2="1073.1" y2="2431.2" stroke="#000" stroke-width="1.5"/>
<text x="1078.9" y="2442.8" font-size="31.3" text-anchor="start">−0.10</text>
<line x1="1067.6" y1="2315.3" x2="1073.1" y2="2315.3" stroke="#000" stroke-width="1.5"/>
<text x="1078.9" y="2326.9" font-size="31.3" text-anchor="start">−0.05</text>
<line x1="1067.6" y1="2199.3" x2="1073.1" y2="2199.3" stroke="#000" stroke-width="1.5"/>
<text x="1078.9" y="2210.9" font-size="31.3" text-anchor="start">0.00</text>
<line x1="1067.6" y1="2083.4" x2="1073.1" y2="2083.4" stroke="#000" stroke-width="1.5"/>
<text x="1078.9" y="2095.0" font-size="31.3" text-anchor="start">0.05</text>
<line x1="1067.6" y1="1967.5" x2="1073.1" y2="1967.5" stroke="#000" stroke-width="1.5"/>
<text x="1078.9" y="1979.1" font-size="31.3" text-anchor="start">0.10</text>
<line x1="1067.6" y1="1851.6" x2="1073.1" y2="1851.6" stroke="#000" stroke-width="1.5"/>
<text x="1078.9" y="1863.2" font-size="31.3" text-anchor="start">0.15</text>
<line x1="1747.5" y1="1851.6" x2="1747.5" y2="2547.1" stroke="#ff0000" stroke-width="6.2"/>
<line x1="1881.5" y1="1851.6" x2="1881.5" y2="2547.1" stroke="#ff0000" stroke-width="6.2"/>
<path d="M1396.0 2015.6 L1402.7 2037.3 L1409.4 2058.2 L1416.1 2078.0 L1422.8 2097.2 L1429.5 2116.1 L1436.2 2133.8 L1442.9 2149.6 L1449.6 2163.3 L1456.3 2175.8 L1463.0 2186.6 L1469.7 2195.1 L1476.4 2202.0 L1483.0 2207.6 L1489.7 2212.0 L1496.4 2215.7 L1503.1 2219.1 L1509.8 2222.2 L1516.5 2225.4 L1523.2 2228.7 L1529.9 2231.9 L1536.6 2235.0 L1543.3 2238.1 L1550.0 2241.1 L1556.7 2243.9 L1563.4 2246.5 L1570.1 2249.2 L1576.8 2252.1 L1583.5 2255.3 L1590.2 2259.2 L1596.9 2263.5 L1603.6 2268.2 L1610.3 2273.2 L1617.0 2278.4 L1623.7 2284.0 L1630.4 2290.1 L1637.1 2296.4 L1643.8 2303.0 L1650.4 2309.7 L1657.1 2317.1 L1663.8 2324.8 L1670.5 2332.5 L1677.2 2339.5 L1683.9 2345.3 L1690.6 2350.5 L1697.3 2355.4 L1704.0 2359.7 L1710.7 2363.5 L1717.4 2366.6 L1724.1 2369.6 L1730.8 2372.4 L1737.5 2374.7 L1744.2 2376.3 L1750.9 2377.0 L1757.6 2377.3 L1764.3 2377.6 L1771.0 2377.8 L1777.7 2378.2 L1784.4 2378.8 L1791.1 2379.8 L1797.8 2381.2 L1804.5 2382.8 L1811.2 2384.5 L1817.8 2386.3 L1824.5 2388.4 L1831.2 2390.7 L1837.9 2393.3 L1844.6 2396.1 L1851.3 2399.2 L1858.0 2402.8 L1864.7 2406.9 L1871.4 2411.2 L1878.1 2415.6 L1884.8 2420.1 L1891.5 2424.9 L1898.2 2429.8 L1904.9 2434.7 L1911.6 2439.3 L1918.3 2443.7 L1925.0 2448.0 L1931.7 2452.2 L1938.4 2456.3 L1945.1 2460.2 L1951.8 2463.9 L1958.5 2467.5 L1965.2 2471.0 L1971.9 2474.4 L1978.6 2477.5 L1985.2 2480.6 L1991.9 2483.6 L1998.6 2486.5 L2005.3 2489.1 L2012.0 2491.5 L2018.7 2493.5 L2025.4 2495.4 L2032.1 2497.2 L2038.8 2498.8 L2045.5 2500.2 L2052.2 2501.4 L2058.9 2502.6 L2065.6 2503.6 L2072.3 2504.6 L2079.0 2505.4 L2085.7 2506.1 L2092.4 2506.8 L2099.1 2507.4 L2105.8 2507.9 L2112.5 2508.2 L2119.2 2508.6 L2125.9 2508.9 L2132.6 2509.2 L2139.3 2509.3 L2146.0 2509.4 L2152.6 2509.3 L2159.3 2509.2 L2166.0 2509.1 L2172.7 2508.9 L2179.4 2508.8 L2186.1 2508.5 L2192.8 2508.1 L2199.5 2507.7 L2206.2 2507.3 L2212.9 2506.9 L2219.6 2506.4 L2226.3 2505.9 L2233.0 2505.4" fill="none" stroke="#000" stroke-width="2.1" stroke-dasharray="11.5 5.4"/>
<rect x="1396.0" y="1851.6" width="837.0" height="695.5" fill="none" stroke="#000" stroke-width="1.5"/>
<line x1="1396.0" y1="2547.1" x2="1396.0" y2="2552.6" stroke="#000" stroke-width="1.5"/>
<text x="1396.0" y="2581.4" font-size="31.3" text-anchor="middle">0</text>
<line x1="1563.4" y1="2547.1" x2="1563.4" y2="2552.6" stroke="#000" stroke-width="1.5"/>
<text x="1563.4" y="2581.4" font-size="31.3" text-anchor="middle">5</text>
<line x1="1730.8" y1="2547.1" x2="1730.8" y2="2552.6" stroke="#000" stroke-width="1.5"/>
<text x="1730.8" y="2581.4" font-size="31.3" text-anchor="middle">10</text>
<line x1="1898.2" y1="2547.1" x2="1898.2" y2="2552.6" stroke="#000" stroke-width="1.5"/>
<text x="1898.2" y="2581.4" font-size="31.3" text-anchor="middle">15</text>
<line x1="2065.6" y1="2547.1" x2="2065.6" y2="2552.6" stroke="#000" stroke-width="1.5"/>
<text x="2065.6" y="2581.4" font-size="31.3" text-anchor="middle">20</text>
<line x1="2233.0" y1="2547.1" x2="2233.0" y2="2552.6" stroke="#000" stroke-width="1.5"/>
<text x="2233.0" y="2581.4" font-size="31.3" text-anchor="middle">25</text>
<line x1="1390.5" y1="1851.6" x2="1396.0" y2="1851.6" stroke="#000" stroke-width="1.5"/>
<text x="1384.4" y="1863.4" font-size="31.3" text-anchor="end">4.0</text>
<line x1="1390.5" y1="2025.5" x2="1396.0" y2="2025.5" stroke="#000" stroke-width="1.5"/>
<text x="1384.4" y="2037.3" font-size="31.3" text-anchor="end">5.0</text>
<line x1="1390.5" y1="2199.3" x2="1396.0" y2="2199.3" stroke="#000" stroke-width="1.5"/>
<text x="1384.4" y="2211.2" font-size="31.3" text-anchor="end">6.0</text>
<line x1="1390.5" y1="2373.2" x2="1396.0" y2="2373.2" stroke="#000" stroke-width="1.5"/>
<text x="1384.4" y="2385.0" font-size="31.3" text-anchor="end">7.0</text>
<line x1="1390.5" y1="2547.1" x2="1396.0" y2="2547.1" stroke="#000" stroke-width="1.5"/>
<text x="1384.4" y="2558.9" font-size="31.3" text-anchor="end">8.0</text>
<text x="1814.5" y="2627.6" font-size="44.0" text-anchor="middle">t(s)</text>
<text x="1319.6" y="2200.3" font-size="44.0" text-anchor="middle" transform="rotate(-90 1319.6 2200.3)">Vp(km/s)</text>
<text x="1814.5" y="1841.9" font-size="44.0" text-anchor="middle">S097</text>
<rect x="2285.3" y="1851.6" width="35.0" height="695.5" fill="none" stroke="#000" stroke-width="1.5"/>
<line x1="2320.3" y1="2547.1" x2="2325.8" y2="2547.1" stroke="#000" stroke-width="1.5"/>
<text x="2331.6" y="2558.7" font-size="31.3" text-anchor="start">−0.3</text>
<line x1="2320.3" y1="2431.2" x2="2325.8" y2="2431.2" stroke="#000" stroke-width="1.5"/>
<text x="2331.6" y="2442.8" font-size="31.3" text-anchor="start">−0.2</text>
<line x1="2320.3" y1="2315.3" x2="2325.8" y2="2315.3" stroke="#000" stroke-width="1.5"/>
<text x="2331.6" y="2326.9" font-size="31.3" text-anchor="start">−0.1</text>
<line x1="2320.3" y1="2199.3" x2="2325.8" y2="2199.3" stroke="#000" stroke-width="1.5"/>
<text x="2331.6" y="2210.9" font-size="31.3" text-anchor="start">0.0</text>
<line x1="2320.3" y1="2083.4" x2="2325.8" y2="2083.4" stroke="#000" stroke-width="1.5"/>
<text x="2331.6" y="2095.0" font-size="31.3" text-anchor="start">0.1</text>
<line x1="2320.3" y1="1967.5" x2="2325.8" y2="1967.5" stroke="#000" stroke-width="1.5"/>
<text x="2331.6" y="1979.1" font-size="31.3" text-anchor="start">0.2</text>
<line x1="2320.3" y1="1851.6" x2="2325.8" y2="1851.6" stroke="#000" stroke-width="1.5"/>
<text x="2331.6" y="1863.2" font-size="31.3" text-anchor="start">0.3</text>
<line x1="942.8" y1="1303.0" x2="960.8" y2="1303.0" stroke="#00f000" stroke-width="2.6"/>
<line x1="951.8" y1="1294.0" x2="951.8" y2="1312.0" stroke="#00f000" stroke-width="2.6"/>
<rect x="143.8" y="953.5" width="836.4" height="695.1" fill="none" stroke="#000" stroke-width="1.5"/>
<line x1="143.8" y1="1648.6" x2="143.8" y2="1654.1" stroke="#000" stroke-width="1.5"/>
<text x="143.8" y="1682.9" font-size="31.3" text-anchor="middle">0</text>
<line x1="227.4" y1="1648.6" x2="227.4" y2="1654.1" stroke="#000" stroke-width="1.5"/>
<text x="227.4" y="1682.9" font-size="31.3" text-anchor="middle">1</text>
<line x1="311.1" y1="1648.6" x2="311.1" y2="1654.1" stroke="#000" stroke-width="1.5"/>
<text x="311.1" y="1682.9" font-size="31.3" text-anchor="middle">2</text>
<line x1="394.7" y1="1648.6" x2="394.7" y2="1654.1" stroke="#000" stroke-width="1.5"/>
<text x="394.7" y="1682.9" font-size="31.3" text-anchor="middle">3</text>
<line x1="478.4" y1="1648.6" x2="478.4" y2="1654.1" stroke="#000" stroke-width="1.5"/>
<text x="478.4" y="1682.9" font-size="31.3" text-anchor="middle">4</text>
<line x1="562.0" y1="1648.6" x2="562.0" y2="1654.1" stroke="#000" stroke-width="1.5"/>
<text x="562.0" y="1682.9" font-size="31.3" text-anchor="middle">5</text>
<line x1="645.6" y1="1648.6" x2="645.6" y2="1654.1" stroke="#000" stroke-width="1.5"/>
<text x="645.6" y="1682.9" font-size="31.3" text-anchor="middle">6</text>
<line x1="729.3" y1="1648.6" x2="729.3" y2="1654.1" stroke="#000" stroke-width="1.5"/>
<text x="729.3" y="1682.9" font-size="31.3" text-anchor="middle">7</text>
<line x1="812.9" y1="1648.6" x2="812.9" y2="1654.1" stroke="#000" stroke-width="1.5"/>
<text x="812.9" y="1682.9" font-size="31.3" text-anchor="middle">8</text>
<line x1="896.6" y1="1648.6" x2="896.6" y2="1654.1" stroke="#000" stroke-width="1.5"/>
<text x="896.6" y="1682.9" font-size="31.3" text-anchor="middle">9</text>
<line x1="980.2" y1="1648.6" x2="980.2" y2="1654.1" stroke="#000" stroke-width="1.5"/>
<text x="980.2" y="1682.9" font-size="31.3" text-anchor="middle">10</text>
<line x1="138.3" y1="953.5" x2="143.8" y2="953.5" stroke="#000" stroke-width="1.5"/>
<text x="132.2" y="965.3" font-size="31.3" text-anchor="end">180</text>
<line x1="138.3" y1="1069.3" x2="143.8" y2="1069.3" stroke="#000" stroke-width="1.5"/>
<text x="132.2" y="1081.1" font-size="31.3" text-anchor="end">120</text>
<line x1="138.3" y1="1185.2" x2="143.8" y2="1185.2" stroke="#000" stroke-width="1.5"/>
<text x="132.2" y="1197.0" font-size="31.3" text-anchor="end">60</text>
<line x1="138.3" y1="1301.0" x2="143.8" y2="1301.0" stroke="#000" stroke-width="1.5"/>
<text x="132.2" y="1312.8" font-size="31.3" text-anchor="end">0</text>
<line x1="138.3" y1="1416.9" x2="143.8" y2="1416.9" stroke="#000" stroke-width="1.5"/>
<text x="132.2" y="1428.7" font-size="31.3" text-anchor="end">-60</text>
<line x1="138.3" y1="1532.8" x2="143.8" y2="1532.8" stroke="#000" stroke-width="1.5"/>
<text x="132.2" y="1544.5" font-size="31.3" text-anchor="end">-120</text>
<line x1="138.3" y1="1648.6" x2="143.8" y2="1648.6" stroke="#000" stroke-width="1.5"/>
<text x="132.2" y="1660.4" font-size="31.3" text-anchor="end">-180</text>
<text x="562.0" y="1729.1" font-size="44.0" text-anchor="middle">Dip angle(°)</text>
<text x="48.2" y="1302.0" font-size="44.0" text-anchor="middle" transform="rotate(-90 48.2 1302.0)">Azimuth(°)</text>
<text x="562.0" y="943.8" font-size="44.0" text-anchor="middle">S023 moho dip scanning</text>
<rect x="1032.3" y="953.5" width="35.3" height="695.1" fill="none" stroke="#000" stroke-width="1.5"/>
<line x1="1067.6" y1="1647.3" x2="1073.1" y2="1647.3" stroke="#000" stroke-width="1.5"/>
<text x="1078.9" y="1658.9" font-size="31.3" text-anchor="start">0.01</text>
<line x1="1067.6" y1="1513.2" x2="1073.1" y2="1513.2" stroke="#000" stroke-width="1.5"/>
<text x="1078.9" y="1524.8" font-size="31.3" text-anchor="start">0.02</text>
<line x1="1067.6" y1="1379.1" x2="1073.1" y2="1379.1" stroke="#000" stroke-width="1.5"/>
<text x="1078.9" y="1390.7" font-size="31.3" text-anchor="start">0.03</text>
<line x1="1067.6" y1="1245.0" x2="1073.1" y2="1245.0" stroke="#000" stroke-width="1.5"/>
<text x="1078.9" y="1256.6" font-size="31.3" text-anchor="start">0.04</text>
<line x1="1067.6" y1="1110.9" x2="1073.1" y2="1110.9" stroke="#000" stroke-width="1.5"/>
<text x="1078.9" y="1122.5" font-size="31.3" text-anchor="start">0.05</text>
<line x1="1067.6" y1="976.8" x2="1073.1" y2="976.8" stroke="#000" stroke-width="1.5"/>
<text x="1078.9" y="988.4" font-size="31.3" text-anchor="start">0.06</text>
<line x1="1559.4" y1="1250.8" x2="1577.4" y2="1250.8" stroke="#00f000" stroke-width="2.6"/>
<line x1="1568.4" y1="1241.8" x2="1568.4" y2="1259.8" stroke="#00f000" stroke-width="2.6"/>
<rect x="1396.0" y="953.5" width="837.0" height="695.1" fill="none" stroke="#000" stroke-width="1.5"/>
<line x1="1396.0" y1="1648.6" x2="1396.0" y2="1654.1" stroke="#000" stroke-width="1.5"/>
<text x="1396.0" y="1682.9" font-size="31.3" text-anchor="middle">0</text>
<line x1="1479.7" y1="1648.6" x2="1479.7" y2="1654.1" stroke="#000" stroke-width="1.5"/>
<text x="1479.7" y="1682.9" font-size="31.3" text-anchor="middle">1</text>
<line x1="1563.4" y1="1648.6" x2="1563.4" y2="1654.1" stroke="#000" stroke-width="1.5"/>
<text x="1563.4" y="1682.9" font-size="31.3" text-anchor="middle">2</text>
<line x1="1647.1" y1="1648.6" x2="1647.1" y2="1654.1" stroke="#000" stroke-width="1.5"/>
<text x="1647.1" y="1682.9" font-size="31.3" text-anchor="middle">3</text>
<line x1="1730.8" y1="1648.6" x2="1730.8" y2="1654.1" stroke="#000" stroke-width="1.5"/>
<text x="1730.8" y="1682.9" font-size="31.3" text-anchor="middle">4</text>
<line x1="1814.5" y1="1648.6" x2="1814.5" y2="1654.1" stroke="#000" stroke-width="1.5"/>
<text x="1814.5" y="1682.9" font-size="31.3" text-anchor="middle">5</text>
<line x1="1898.2" y1="1648.6" x2="1898.2" y2="1654.1" stroke="#000" stroke-width="1.5"/>
<text x="1898.2" y="1682.9" font-size="31.3" text-anchor="middle">6</text>
<line x1="1981.9" y1="1648.6" x2="1981.9" y2="1654.1" stroke="#000" stroke-width="1.5"/>
<text x="1981.9" y="1682.9" font-size="31.3" text-anchor="middle">7</text>
<line x1="2065.6" y1="1648.6" x2="2065.6" y2="1654.1" stroke="#000" stroke-width="1.5"/>
<text x="2065.6" y="1682.9" font-size="31.3" text-anchor="middle">8</text>
<line x1="2149.3" y1="1648.6" x2="2149.3" y2="1654.1" stroke="#000" stroke-width="1.5"/>
<text x="2149.3" y="1682.9" font-size="31.3" text-anchor="middle">9</text>
<line x1="2233.0" y1="1648.6" x2="2233.0" y2="1654.1" stroke="#000" stroke-width="1.5"/>
<text x="2233.0" y="1682.9" font-size="31.3" text-anchor="middle">10</text>
<line x1="1390.5" y1="953.5" x2="1396.0" y2="953.5" stroke="#000" stroke-width="1.5"/>
<text x="1384.4" y="965.3" font-size="31.3" text-anchor="end">180</text>
<line x1="1390.5" y1="1069.3" x2="1396.0" y2="1069.3" stroke="#000" stroke-width="1.5"/>
<text x="1384.4" y="1081.1" font-size="31.3" text-anchor="end">120</text>
<line x1="1390.5" y1="1185.2" x2="1396.0" y2="1185.2" stroke="#000" stroke-width="1.5"/>
<text x="1384.4" y="1197.0" font-size="31.3" text-anchor="end">60</text>
<line x1="1390.5" y1="1301.0" x2="1396.0" y2="1301.0" stroke="#000" stroke-width="1.5"/>
<text x="1384.4" y="1312.8" font-size="31.3" text-anchor="end">0</text>
<line x1="1390.5" y1="1416.9" x2="1396.0" y2="1416.9" stroke="#000" stroke-width="1.5"/>
<text x="1384.4" y="1428.7" font-size="31.3" text-anchor="end">-60</text>
<line x1="1390.5" y1="1532.8" x2="1396.0" y2="1532.8" stroke="#000" stroke-width="1.5"/>
<text x="1384.4" y="1544.5" font-size="31.3" text-anchor="end">-120</text>
<line x1="1390.5" y1="1648.6" x2="1396.0" y2="1648.6" stroke="#000" stroke-width="1.5"/>
<text x="1384.4" y="1660.4" font-size="31.3" text-anchor="end">-180</text>
<text x="1814.5" y="1729.1" font-size="44.0" text-anchor="middle">Dip angle(°)</text>
<text x="1300.4" y="1302.0" font-size="44.0" text-anchor="middle" transform="rotate(-90 1300.4 1302.0)">Azimuth(°)</text>
<text x="1814.5" y="943.8" font-size="44.0" text-anchor="middle">S097 moho dip scanning</text>
<rect x="2285.3" y="953.5" width="35.0" height="695.1" fill="none" stroke="#000" stroke-width="1.5"/>
<line x1="2320.3" y1="1602.1" x2="2325.8" y2="1602.1" stroke="#000" stroke-width="1.5"/>
<text x="2331.6" y="1613.7" font-size="31.3" text-anchor="start">0.02</text>
<line x1="2320.3" y1="1498.5" x2="2325.8" y2="1498.5" stroke="#000" stroke-width="1.5"/>
<text x="2331.6" y="1510.1" font-size="31.3" text-anchor="start">0.04</text>
<line x1="2320.3" y1="1394.9" x2="2325.8" y2="1394.9" stroke="#000" stroke-width="1.5"/>
<text x="2331.6" y="1406.5" font-size="31.3" text-anchor="start">0.06</text>
<line x1="2320.3" y1="1291.2" x2="2325.8" y2="1291.2" stroke="#000" stroke-width="1.5"/>
<text x="2331.6" y="1302.8" font-size="31.3" text-anchor="start">0.08</text>
<line x1="2320.3" y1="1187.6" x2="2325.8" y2="1187.6" stroke="#000" stroke-width="1.5"/>
<text x="2331.6" y="1199.2" font-size="31.3" text-anchor="start">0.10</text>
<line x1="2320.3" y1="1084.0" x2="2325.8" y2="1084.0" stroke="#000" stroke-width="1.5"/>
<text x="2331.6" y="1095.6" font-size="31.3" text-anchor="start">0.12</text>
<line x1="2320.3" y1="980.4" x2="2325.8" y2="980.4" stroke="#000" stroke-width="1.5"/>
<text x="2331.6" y="992.0" font-size="31.3" text-anchor="start">0.14</text>
</svg>
</div></body></html>
